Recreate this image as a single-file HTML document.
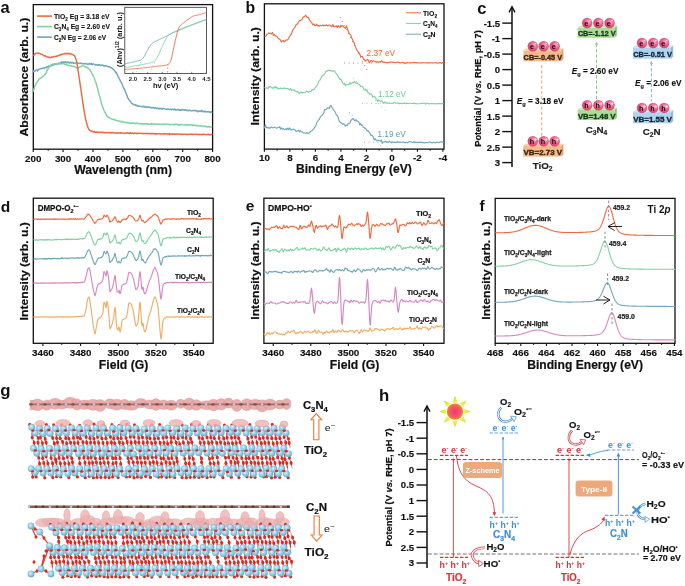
<!DOCTYPE html><html><head><meta charset="utf-8"><style>html,body{margin:0;padding:0;background:#fff;width:685px;height:586px;overflow:hidden}svg{display:block;will-change:transform}</style></head><body><svg width="685" height="586" viewBox="0 0 685 586" font-family='"Liberation Sans", sans-serif'><rect x="33.3" y="4.6" width="179.3" height="144.6" fill="none" stroke="#111" stroke-width="1.3" />
<line x1="33.2" y1="149.2" x2="33.2" y2="151.9" stroke="#111" stroke-width="1.1" />
<line x1="48.15" y1="149.2" x2="48.15" y2="150.9" stroke="#111" stroke-width="0.9" />
<text x="33.2" y="161.9" font-size="9.8" font-weight="bold" text-anchor="middle" fill="#111" stroke="#111" stroke-width="0.15" >200</text>
<line x1="63.1" y1="149.2" x2="63.1" y2="151.9" stroke="#111" stroke-width="1.1" />
<line x1="78.05" y1="149.2" x2="78.05" y2="150.9" stroke="#111" stroke-width="0.9" />
<text x="63.1" y="161.9" font-size="9.8" font-weight="bold" text-anchor="middle" fill="#111" stroke="#111" stroke-width="0.15" >300</text>
<line x1="93" y1="149.2" x2="93" y2="151.9" stroke="#111" stroke-width="1.1" />
<line x1="107.95" y1="149.2" x2="107.95" y2="150.9" stroke="#111" stroke-width="0.9" />
<text x="93" y="161.9" font-size="9.8" font-weight="bold" text-anchor="middle" fill="#111" stroke="#111" stroke-width="0.15" >400</text>
<line x1="122.9" y1="149.2" x2="122.9" y2="151.9" stroke="#111" stroke-width="1.1" />
<line x1="137.85" y1="149.2" x2="137.85" y2="150.9" stroke="#111" stroke-width="0.9" />
<text x="122.9" y="161.9" font-size="9.8" font-weight="bold" text-anchor="middle" fill="#111" stroke="#111" stroke-width="0.15" >500</text>
<line x1="152.8" y1="149.2" x2="152.8" y2="151.9" stroke="#111" stroke-width="1.1" />
<line x1="167.75" y1="149.2" x2="167.75" y2="150.9" stroke="#111" stroke-width="0.9" />
<text x="152.8" y="161.9" font-size="9.8" font-weight="bold" text-anchor="middle" fill="#111" stroke="#111" stroke-width="0.15" >600</text>
<line x1="182.7" y1="149.2" x2="182.7" y2="151.9" stroke="#111" stroke-width="1.1" />
<line x1="197.65" y1="149.2" x2="197.65" y2="150.9" stroke="#111" stroke-width="0.9" />
<text x="182.7" y="161.9" font-size="9.8" font-weight="bold" text-anchor="middle" fill="#111" stroke="#111" stroke-width="0.15" >700</text>
<line x1="212.6" y1="149.2" x2="212.6" y2="151.9" stroke="#111" stroke-width="1.1" />
<text x="212.6" y="161.9" font-size="9.8" font-weight="bold" text-anchor="middle" fill="#111" stroke="#111" stroke-width="0.15" >800</text>
<text x="123.1" y="173.7" font-size="12.2" font-weight="bold" text-anchor="middle" fill="#111" textLength="97.8" lengthAdjust="spacingAndGlyphs" stroke="#111" stroke-width="0.2" >Wavelength (nm)</text>
<text x="27.7" y="77.1" font-size="11.8" font-weight="bold" text-anchor="middle" fill="#111" textLength="118.9" lengthAdjust="spacingAndGlyphs" transform="rotate(-90 27.7 77.1)" stroke="#111" stroke-width="0.2" >Absorbance (arb. u.)</text>
<text x="0.6" y="13.1" font-size="16.5" font-weight="bold" text-anchor="start" fill="#111" >a</text>
<line x1="37" y1="16.1" x2="52" y2="16.1" stroke="#EE6A3E" stroke-width="1.6" />
<line x1="37" y1="26.6" x2="52" y2="26.6" stroke="#80D2A4" stroke-width="1.6" />
<line x1="37" y1="37.1" x2="52" y2="37.1" stroke="#70A8BC" stroke-width="1.6" />
<text x="54" y="18.6" font-size="7.9" font-weight="bold" text-anchor="start" fill="#111" textLength="55.5" lengthAdjust="spacingAndGlyphs" stroke="#111" stroke-width="0.12" >TiO<tspan font-size="5.37" baseline-shift="-1.98">2</tspan> Eg = 3.18 eV</text>
<text x="54" y="29.1" font-size="7.9" font-weight="bold" text-anchor="start" fill="#111" textLength="56" lengthAdjust="spacingAndGlyphs" stroke="#111" stroke-width="0.12" >C<tspan font-size="5.37" baseline-shift="-1.98">3</tspan>N<tspan font-size="5.37" baseline-shift="-1.98">4</tspan> Eg = 2.60 eV</text>
<text x="54" y="39.6" font-size="7.9" font-weight="bold" text-anchor="start" fill="#111" textLength="52" lengthAdjust="spacingAndGlyphs" stroke="#111" stroke-width="0.12" >C<tspan font-size="5.37" baseline-shift="-1.98">2</tspan>N Eg = 2.06 eV</text>
<path d="M33.3 72.31L33.8 70.76L34.3 71.47L34.8 70.99L35.3 70.83L35.8 70.71L36.3 69.97L36.8 70.31L37.3 69.91L37.8 70.95L38.3 69.79L38.8 69.38L39.3 69.19L39.8 68.87L40.3 68.58L40.8 68.62L41.3 68.74L41.8 68.38L42.3 68.61L42.8 68.13L43.3 68.07L43.8 68.4L44.3 67.96L44.8 67.51L45.3 67.45L45.8 67.52L46.3 67.78L46.8 66.95L47.3 66.8L47.8 67.01L48.3 66.28L48.8 66.29L49.3 66.49L49.8 66.24L50.3 65.93L50.8 65.96L51.3 64.75L51.8 65.76L52.3 65.01L52.8 64.65L53.3 65.09L53.8 65.07L54.3 64.57L54.8 64.24L55.3 64.42L55.8 64.24L56.3 64.53L56.8 64.18L57.3 63.85L57.8 63.97L58.3 63.41L58.8 63.05L59.3 63.36L59.8 63.22L60.3 62.86L60.8 62.56L61.3 62.73L61.8 61.79L62.3 62.66L62.8 62.55L63.3 61.91L63.8 62.42L64.3 62.12L64.8 62.65L65.3 61.82L65.8 62.17L66.3 62.67L66.8 62.82L67.3 61.84L67.8 62.36L68.3 62.63L68.8 62.37L69.3 63.05L69.8 62.23L70.3 62.72L70.8 62.32L71.3 63.09L71.8 62.69L72.3 62.62L72.8 62.26L73.3 63.32L73.8 63.08L74.3 63.13L74.8 63.29L75.3 63.1L75.8 62.85L76.3 62.85L76.8 62.89L77.3 63.59L77.8 62.79L78.3 63.09L78.8 63.21L79.3 63.42L79.8 63.56L80.3 63.05L80.8 62.93L81.3 63.48L81.8 63.88L82.3 63.77L82.8 63.64L83.3 63.5L83.8 63.72L84.3 63.58L84.8 63.93L85.3 63.47L85.8 63.78L86.3 63.73L86.8 63.95L87.3 63.89L87.8 64.62L88.3 64.33L88.8 64.36L89.3 63.34L89.8 63.88L90.3 63.84L90.8 64.22L91.3 63.42L91.8 64.49L92.3 64.5L92.8 63.84L93.3 63.98L93.8 64.07L94.3 64.37L94.8 64.6L95.3 65.07L95.8 64.45L96.3 64.79L96.8 64.66L97.3 65.2L97.8 64.95L98.3 65.2L98.8 64.52L99.3 64.85L99.8 64.73L100.3 65.49L100.8 65.3L101.3 65.08L101.8 65.11L102.3 65.47L102.8 65.19L103.3 65.2L103.8 65.71L104.3 66.39L104.8 65.67L105.3 65.68L105.8 65.6L106.3 65.66L106.8 66.34L107.3 66.57L107.8 66.45L108.3 66.69L108.8 66.79L109.3 66.98L109.8 66.69L110.3 67.24L110.8 67.66L111.3 67.67L111.8 68.05L112.3 68.27L112.8 68.76L113.3 69.49L113.8 69.58L114.3 70.21L114.8 71.11L115.3 71.72L115.8 72.73L116.3 72.32L116.8 74.04L117.3 74.54L117.8 75.67L118.3 76.82L118.8 77.87L119.3 78.87L119.8 79.63L120.3 81.08L120.8 81.51L121.3 82.53L121.8 83.78L122.3 84.37L122.8 86.22L123.3 86.98L123.8 88.49L124.3 89.05L124.8 90.17L125.3 91.57L125.8 92.96L126.3 93.84L126.8 95.41L127.3 96.51L127.8 98.1L128.3 98.35L128.8 99.76L129.3 100.1L129.8 100.77L130.3 101.53L130.8 101.95L131.3 102.81L131.8 103.48L132.3 103.59L132.8 104.07L133.3 104.67L133.8 104.54L134.3 104.76L134.8 104.84L135.3 104.63L135.8 105.53L136.3 104.95L136.8 105.83L137.3 105.78L137.8 106.26L138.3 106.03L138.8 105.92L139.3 106.38L139.8 106.2L140.3 106.39L140.8 106.54L141.3 106.55L141.8 106.6L142.3 106.47L142.8 106.71L143.3 106.18L143.8 106.83L144.3 106.57L144.8 107.31L145.3 107.41L145.8 106.5L146.3 107.18L146.8 107.15L147.3 106.93L147.8 107.45L148.3 107.2L148.8 106.86L149.3 107.36L149.8 107.45L150.3 107.58L150.8 107.22L151.3 107.83L151.8 107.91L152.3 107.39L152.8 107.59L153.3 107.81L153.8 107.71L154.3 108.45L154.8 108.04L155.3 107.72L155.8 107.83L156.3 108.09L156.8 108.84L157.3 108.15L157.8 108.28L158.3 108.44L158.8 108.32L159.3 109.06L159.8 108.26L160.3 108.68L160.8 108.55L161.3 108.73L161.8 108.23L162.3 109.16L162.8 108.63L163.3 108.72L163.8 108.47L164.3 108.57L164.8 109L165.3 109.16L165.8 109.13L166.3 109.31L166.8 109.2L167.3 109.03L167.8 109.31L168.3 109.28L168.8 109.1L169.3 109.39L169.8 109.59L170.3 109.31L170.8 109.17L171.3 109.53L171.8 109.92L172.3 109.32L172.8 109.39L173.3 109.41L173.8 109.85L174.3 108.96L174.8 109.65L175.3 109.93L175.8 109.37L176.3 110.09L176.8 109.83L177.3 109.54L177.8 109.8L178.3 109.31L178.8 109.63L179.3 110.38L179.8 109.59L180.3 110.44L180.8 109.9L181.3 110.25L181.8 110L182.3 109.34L182.8 109.87L183.3 110.13L183.8 109.76L184.3 109.73L184.8 110.28L185.3 110.01L185.8 109.72L186.3 110.06L186.8 110.55L187.3 110.18L187.8 110.64L188.3 110.85L188.8 110.43L189.3 110.12L189.8 110.1L190.3 110.51L190.8 110.82L191.3 110.67L191.8 110.78L192.3 110.52L192.8 110.77L193.3 110.58L193.8 110.65L194.3 110.4L194.8 110.34L195.3 110.7L195.8 110.55L196.3 110.63L196.8 111.15L197.3 110.95L197.8 111.89L198.3 111.33L198.8 110.89L199.3 111.35L199.8 111.25L200.3 110.97L200.8 111.54L201.3 111.01L201.8 110.36L202.3 111.55L202.8 111.16L203.3 111.83L203.8 111.22L204.3 111.09L204.8 111.94L205.3 111.19L205.8 111.61L206.3 112.01L206.8 111.65L207.3 111.62L207.8 111.71L208.3 111.96L208.8 111.5L209.3 111.96L209.8 111.99L210.3 112.55L210.8 111.78L211.3 111.64L211.8 112.17L212.3 111.86" fill="none" stroke="#70A8BC" stroke-width="1.45" stroke-linejoin="round" />
<path d="M33.3 91.64L33.8 89.62L34.3 87.93L34.8 86.04L35.3 85.63L35.8 84.39L36.3 83.11L36.8 82.46L37.3 81.62L37.8 80.76L38.3 80.44L38.8 79.6L39.3 79.08L39.8 78.52L40.3 78.35L40.8 77.9L41.3 77.72L41.8 77.2L42.3 77.04L42.8 76.48L43.3 76.4L43.8 75.79L44.3 75.29L44.8 74.72L45.3 73.79L45.8 73.45L46.3 72.91L46.8 71.16L47.3 70.05L47.8 69.06L48.3 68.64L48.8 67.63L49.3 67.02L49.8 66.33L50.3 65.81L50.8 65.45L51.3 65.03L51.8 64.93L52.3 64.27L52.8 64.2L53.3 64.17L53.8 64.38L54.3 63.82L54.8 63.72L55.3 63.8L55.8 64.08L56.3 63.82L56.8 64.11L57.3 63.45L57.8 64.03L58.3 63.99L58.8 63.48L59.3 63.77L59.8 63.95L60.3 63.7L60.8 63.86L61.3 64.11L61.8 63.67L62.3 63.55L62.8 63.45L63.3 63.76L63.8 63.73L64.3 63.96L64.8 64.24L65.3 64.65L65.8 64.52L66.3 64.57L66.8 64.51L67.3 65.34L67.8 65.21L68.3 65.58L68.8 65.37L69.3 65.31L69.8 65.65L70.3 65.65L70.8 65.51L71.3 65.68L71.8 66.31L72.3 66.13L72.8 66.26L73.3 66.24L73.8 66.3L74.3 66.8L74.8 66.88L75.3 67.08L75.8 67.54L76.3 67.65L76.8 68.02L77.3 68.21L77.8 67.71L78.3 67.99L78.8 67.36L79.3 67.31L79.8 66.9L80.3 66.85L80.8 66.69L81.3 66.37L81.8 66.12L82.3 65.96L82.8 65.84L83.3 65.7L83.8 66.03L84.3 66.28L84.8 66.53L85.3 66.66L85.8 67.21L86.3 66.99L86.8 67.11L87.3 67.9L87.8 67.7L88.3 68.53L88.8 68.61L89.3 69.39L89.8 69.54L90.3 70.83L90.8 71.4L91.3 72.08L91.8 73.48L92.3 74.19L92.8 75L93.3 75.85L93.8 77.07L94.3 78.2L94.8 79.62L95.3 80.99L95.8 82.23L96.3 83.93L96.8 85.73L97.3 87.43L97.8 89.47L98.3 91.45L98.8 93.43L99.3 95.33L99.8 96.74L100.3 98.9L100.8 100.58L101.3 102.93L101.8 104.28L102.3 106.04L102.8 107.26L103.3 108.62L103.8 110.02L104.3 111L104.8 112.17L105.3 112.79L105.8 114.23L106.3 114.84L106.8 116.12L107.3 116.24L107.8 116.97L108.3 116.87L108.8 117.6L109.3 117.65L109.8 118.02L110.3 118.38L110.8 118.55L111.3 118.88L111.8 119.17L112.3 119.33L112.8 119.34L113.3 119.24L113.8 119.5L114.3 119.76L114.8 119.52L115.3 120.24L115.8 120.18L116.3 120.33L116.8 120.71L117.3 120.79L117.8 120.84L118.3 120.73L118.8 121.13L119.3 121.26L119.8 121.14L120.3 121.65L120.8 121.65L121.3 121.27L121.8 121.79L122.3 121.6L122.8 122.18L123.3 122.21L123.8 121.91L124.3 122.05L124.8 122.33L125.3 122.35L125.8 122.78L126.3 122.7L126.8 122.57L127.3 122.82L127.8 122.36L128.3 122.89L128.8 123.06L129.3 122.9L129.8 122.84L130.3 123.14L130.8 123.45L131.3 123.14L131.8 122.91L132.3 123.46L132.8 122.83L133.3 123.34L133.8 123.16L134.3 123.5L134.8 123.17L135.3 123.64L135.8 123.46L136.3 123.09L136.8 123.06L137.3 123.42L137.8 123.77L138.3 123.56L138.8 123.58L139.3 123.54L139.8 123.76L140.3 123.71L140.8 123.72L141.3 123.48L141.8 123.94L142.3 124L142.8 123.48L143.3 124.23L143.8 123.93L144.3 123.71L144.8 123.44L145.3 123.97L145.8 123.97L146.3 123.76L146.8 123.54L147.3 124.14L147.8 123.81L148.3 123.85L148.8 124.53L149.3 124.4L149.8 124.18L150.3 123.92L150.8 124.15L151.3 123.58L151.8 124.08L152.3 123.92L152.8 123.82L153.3 123.78L153.8 124.21L154.3 124.14L154.8 124.16L155.3 124.31L155.8 123.99L156.3 123.92L156.8 123.82L157.3 124.12L157.8 124.35L158.3 124.18L158.8 124.35L159.3 124L159.8 124.15L160.3 124.1L160.8 124.01L161.3 124.65L161.8 124.45L162.3 124.14L162.8 124.15L163.3 124.3L163.8 124.04L164.3 124.42L164.8 124.09L165.3 124.29L165.8 124.17L166.3 124.29L166.8 124.13L167.3 124.09L167.8 124.23L168.3 124.29L168.8 124.38L169.3 124.47L169.8 124.77L170.3 124.64L170.8 124.43L171.3 124.64L171.8 124.37L172.3 124.81L172.8 124.64L173.3 124.27L173.8 124.7L174.3 124.72L174.8 124.03L175.3 124.43L175.8 124.49L176.3 124.21L176.8 124.39L177.3 124.43L177.8 124.73L178.3 124.7L178.8 125.17L179.3 124.58L179.8 124.9L180.3 124.7L180.8 124.75L181.3 124.48L181.8 124.34L182.3 124.58L182.8 124.9L183.3 125.08L183.8 124.9L184.3 124.89L184.8 124.64L185.3 125.13L185.8 125.11L186.3 124.75L186.8 124.86L187.3 124.69L187.8 125.2L188.3 125.01L188.8 124.93L189.3 125.05L189.8 125.08L190.3 124.93L190.8 124.79L191.3 124.82L191.8 124.77L192.3 125.25L192.8 125.65L193.3 124.92L193.8 125.34L194.3 125.45L194.8 125.22L195.3 125.52L195.8 125.32L196.3 125.84L196.8 125.54L197.3 125.74L197.8 125.91L198.3 125.74L198.8 125.53L199.3 125.83L199.8 126.13L200.3 126.01L200.8 126.12L201.3 125.9L201.8 126.19L202.3 126.35L202.8 126.25L203.3 126.67L203.8 126.29L204.3 126.16L204.8 126.09L205.3 126.68L205.8 126.48L206.3 126.74L206.8 126.66L207.3 126.94L207.8 126.9L208.3 126.61L208.8 126.78L209.3 126.98L209.8 126.55L210.3 127.13L210.8 127.12L211.3 127.11L211.8 126.9L212.3 127.04" fill="none" stroke="#80D2A4" stroke-width="1.45" stroke-linejoin="round" />
<path d="M33.3 55.87L33.8 55.37L34.3 54.72L34.8 53.89L35.3 53.9L35.8 53.46L36.3 53.03L36.8 53.13L37.3 53.08L37.8 53.12L38.3 53.16L38.8 53.4L39.3 53.3L39.8 53.59L40.3 53.72L40.8 54.14L41.3 54.23L41.8 54.36L42.3 54.47L42.8 54.81L43.3 55.13L43.8 55.36L44.3 55.96L44.8 56.18L45.3 55.69L45.8 56.06L46.3 56.56L46.8 56.67L47.3 56.95L47.8 57.1L48.3 57.6L48.8 57.06L49.3 57.28L49.8 57.8L50.3 57.52L50.8 57.5L51.3 57.22L51.8 56.92L52.3 57.2L52.8 57.1L53.3 56.73L53.8 56.73L54.3 56.74L54.8 56.45L55.3 56.51L55.8 56.42L56.3 56.26L56.8 56L57.3 56.05L57.8 55.93L58.3 55.64L58.8 55.24L59.3 55.37L59.8 54.96L60.3 55.08L60.8 54.51L61.3 54.73L61.8 54.36L62.3 53.94L62.8 53.97L63.3 53.92L63.8 53.88L64.3 53.58L64.8 53.51L65.3 53.74L65.8 53.57L66.3 53.69L66.8 53.77L67.3 53.28L67.8 53.65L68.3 53.85L68.8 53.58L69.3 53.53L69.8 53.92L70.3 53.91L70.8 54.16L71.3 54.04L71.8 53.95L72.3 54.38L72.8 54.54L73.3 55.09L73.8 55.36L74.3 55.46L74.8 56.16L75.3 57.56L75.8 58.84L76.3 60.17L76.8 62.33L77.3 65.42L77.8 68.8L78.3 72.08L78.8 75.22L79.3 78.49L79.8 81.84L80.3 85.5L80.8 88.21L81.3 92L81.8 95.51L82.3 98.72L82.8 102.53L83.3 105.64L83.8 109.02L84.3 111.66L84.8 114.58L85.3 117.36L85.8 119.69L86.3 121.7L86.8 123.52L87.3 125.81L87.8 126.95L88.3 128.13L88.8 129.26L89.3 129.79L89.8 130.45L90.3 130.65L90.8 130.92L91.3 130.97L91.8 131.39L92.3 131.24L92.8 131.72L93.3 132.01L93.8 131.51L94.3 131.41L94.8 132.1L95.3 132.55L95.8 131.89L96.3 131.89L96.8 132.31L97.3 132.06L97.8 132.17L98.3 132.24L98.8 132.44L99.3 132.28L99.8 132.45L100.3 132.38L100.8 132.27L101.3 132.39L101.8 132.29L102.3 132.5L102.8 132.29L103.3 132.32L103.8 132.85L104.3 132.56L104.8 132.58L105.3 132.71L105.8 132.54L106.3 132.6L106.8 132.75L107.3 132.73L107.8 132.46L108.3 132.87L108.8 132.6L109.3 132.53L109.8 132.57L110.3 132.69L110.8 133.1L111.3 132.56L111.8 132.84L112.3 132.39L112.8 132.83L113.3 133.02L113.8 132.81L114.3 132.74L114.8 132.92L115.3 133.03L115.8 133.03L116.3 133.3L116.8 132.96L117.3 132.81L117.8 132.92L118.3 132.94L118.8 132.98L119.3 132.97L119.8 133.02L120.3 132.66L120.8 133.17L121.3 132.9L121.8 132.79L122.3 133.16L122.8 133.31L123.3 133.15L123.8 133.1L124.3 132.89L124.8 133.66L125.3 133.27L125.8 132.88L126.3 132.96L126.8 133.14L127.3 132.83L127.8 133.18L128.3 133.07L128.8 133.42L129.3 133.38L129.8 132.65L130.3 133.22L130.8 132.9L131.3 133.45L131.8 133.28L132.3 133.36L132.8 133.05L133.3 133.64L133.8 133.7L134.3 133.09L134.8 133.39L135.3 133.19L135.8 133.33L136.3 133.1L136.8 133.74L137.3 133.18L137.8 133.33L138.3 133.5L138.8 133.28L139.3 133.37L139.8 133.32L140.3 133.42L140.8 133.22L141.3 133.38L141.8 133.44L142.3 133.43L142.8 133.52L143.3 133.46L143.8 133.68L144.3 133.47L144.8 133.52L145.3 133.43L145.8 133.47L146.3 133.33L146.8 133.7L147.3 133.38L147.8 133.47L148.3 133.7L148.8 133.72L149.3 133.57L149.8 133.26L150.3 133.76L150.8 133.74L151.3 133.41L151.8 133.86L152.3 133.58L152.8 133.5L153.3 133.76L153.8 133.71L154.3 133.8L154.8 133.45L155.3 134.14L155.8 133.67L156.3 133.49L156.8 133.94L157.3 133.75L157.8 133.9L158.3 133.77L158.8 133.84L159.3 133.91L159.8 133.72L160.3 134.02L160.8 133.8L161.3 133.73L161.8 133.92L162.3 134.01L162.8 133.88L163.3 133.76L163.8 134.07L164.3 133.6L164.8 133.76L165.3 133.98L165.8 133.71L166.3 133.99L166.8 133.99L167.3 134.18L167.8 133.83L168.3 133.9L168.8 134.1L169.3 133.55L169.8 134.67L170.3 133.91L170.8 133.92L171.3 134.24L171.8 134.07L172.3 133.73L172.8 134.22L173.3 134.27L173.8 134.02L174.3 134.06L174.8 134.22L175.3 133.95L175.8 134.23L176.3 134.19L176.8 134.02L177.3 133.89L177.8 134.13L178.3 134L178.8 134.39L179.3 134.22L179.8 134.36L180.3 134.24L180.8 134.27L181.3 134.07L181.8 134.37L182.3 134.6L182.8 134.19L183.3 134.14L183.8 134.23L184.3 134.17L184.8 134.14L185.3 134.31L185.8 134.23L186.3 134.59L186.8 134.3L187.3 134.38L187.8 134.51L188.3 134.27L188.8 134.62L189.3 134.21L189.8 134.18L190.3 134.28L190.8 134.34L191.3 134.09L191.8 134.37L192.3 134.05L192.8 134.66L193.3 134.38L193.8 134.27L194.3 134.22L194.8 134.33L195.3 134.37L195.8 134.21L196.3 134.25L196.8 134.4L197.3 134.34L197.8 134.64L198.3 134.68L198.8 134.46L199.3 134.56L199.8 134.2L200.3 134.6L200.8 134.48L201.3 134.59L201.8 134.81L202.3 134.04L202.8 134.56L203.3 134.29L203.8 134.63L204.3 134.26L204.8 134.43L205.3 134.57L205.8 134.66L206.3 134.56L206.8 134.39L207.3 134.44L207.8 134.73L208.3 134.56L208.8 134.23L209.3 134.74L209.8 134.66L210.3 134.75L210.8 134.52L211.3 134.75L211.8 134.38L212.3 134.71" fill="none" stroke="#EE6A3E" stroke-width="1.45" stroke-linejoin="round" />
<rect x="124.8" y="7.3" width="81.6" height="66.2" fill="#fff" stroke="#333" stroke-width="0.8"/>
<path d="M124.8 63.8L125.3 63.7L125.8 63.61L126.3 63.51L126.8 63.41L127.3 63.3L127.8 63.2L128.3 63.09L128.8 62.98L129.3 62.87L129.8 62.76L130.3 62.64L130.8 62.53L131.3 62.41L131.8 62.29L132.3 62.17L132.8 62.05L133.3 61.93L133.8 61.8L134.3 61.68L134.8 61.55L135.3 61.43L135.8 61.31L136.3 61.2L136.8 61.09L137.3 60.98L137.8 60.87L138.3 60.75L138.8 60.62L139.3 60.47L139.8 60.31L140.3 60.13L140.8 59.93L141.3 59.7L141.8 59.38L142.3 58.92L142.8 58.37L143.3 57.75L143.8 57.09L144.3 56.28L144.8 55.36L145.3 54.36L145.8 53.33L146.3 52.32L146.8 51.36L147.3 50.47L147.8 49.58L148.3 48.7L148.8 47.84L149.3 47.03L149.8 46.28L150.3 45.59L150.8 44.93L151.3 44.3L151.8 43.73L152.3 43.24L152.8 42.85L153.3 42.51L153.8 42.21L154.3 41.93L154.8 41.67L155.3 41.43L155.8 41.21L156.3 40.98L156.8 40.76L157.3 40.54L157.8 40.3L158.3 40.05L158.8 39.8L159.3 39.56L159.8 39.31L160.3 39.07L160.8 38.83L161.3 38.59L161.8 38.35L162.3 38.11L162.8 37.87L163.3 37.63L163.8 37.39L164.3 37.14L164.8 36.9L165.3 36.65L165.8 36.4L166.3 36.14L166.8 35.89L167.3 35.63L167.8 35.37L168.3 35.11L168.8 34.84L169.3 34.58L169.8 34.31L170.3 34.05L170.8 33.78L171.3 33.52L171.8 33.26L172.3 33L172.8 32.74L173.3 32.48L173.8 32.23L174.3 31.97L174.8 31.73L175.3 31.48L175.8 31.24L176.3 31L176.8 30.77L177.3 30.54L177.8 30.32L178.3 30.1L178.8 29.89L179.3 29.68L179.8 29.47L180.3 29.26L180.8 29.06L181.3 28.85L181.8 28.65L182.3 28.46L182.8 28.26L183.3 28.06L183.8 27.87L184.3 27.68L184.8 27.49L185.3 27.29L185.8 27.1L186.3 26.91L186.8 26.72L187.3 26.53L187.8 26.34L188.3 26.15L188.8 25.96L189.3 25.77L189.8 25.58L190.3 25.38L190.8 25.19L191.3 25L191.8 24.8L192.3 24.61L192.8 24.42L193.3 24.23L193.8 24.03L194.3 23.84L194.8 23.65L195.3 23.46L195.8 23.27L196.3 23.08L196.8 22.89L197.3 22.7L197.8 22.51L198.3 22.32L198.8 22.13L199.3 21.94L199.8 21.75L200.3 21.57L200.8 21.38L201.3 21.19L201.8 21L202.3 20.82L202.8 20.63L203.3 20.45L203.8 20.26L204.3 20.07L204.8 19.89L205.3 19.71L205.8 19.52L206.3 19.34" fill="none" stroke="#70A8BC" stroke-width="0.9" stroke-linejoin="round" />
<path d="M124.8 67.4L125.3 67.34L125.8 67.28L126.3 67.21L126.8 67.15L127.3 67.08L127.8 67.01L128.3 66.94L128.8 66.87L129.3 66.8L129.8 66.73L130.3 66.65L130.8 66.58L131.3 66.5L131.8 66.42L132.3 66.34L132.8 66.26L133.3 66.18L133.8 66.1L134.3 66.01L134.8 65.93L135.3 65.84L135.8 65.76L136.3 65.67L136.8 65.58L137.3 65.49L137.8 65.4L138.3 65.31L138.8 65.22L139.3 65.13L139.8 65.04L140.3 64.94L140.8 64.85L141.3 64.75L141.8 64.66L142.3 64.56L142.8 64.45L143.3 64.35L143.8 64.25L144.3 64.14L144.8 64.03L145.3 63.92L145.8 63.81L146.3 63.7L146.8 63.58L147.3 63.47L147.8 63.35L148.3 63.23L148.8 63.1L149.3 62.98L149.8 62.85L150.3 62.72L150.8 62.6L151.3 62.48L151.8 62.36L152.3 62.21L152.8 62.04L153.3 61.84L153.8 61.59L154.3 61.24L154.8 60.8L155.3 60.3L155.8 59.74L156.3 59.09L156.8 58.24L157.3 57.26L157.8 56.22L158.3 55.2L158.8 54.17L159.3 53.1L159.8 52L160.3 50.88L160.8 49.76L161.3 48.63L161.8 47.53L162.3 46.45L162.8 45.4L163.3 44.39L163.8 43.35L164.3 42.28L164.8 41.22L165.3 40.18L165.8 39.19L166.3 38.26L166.8 37.42L167.3 36.7L167.8 36.1L168.3 35.6L168.8 35.13L169.3 34.7L169.8 34.31L170.3 33.95L170.8 33.63L171.3 33.35L171.8 33.09L172.3 32.87L172.8 32.68L173.3 32.5L173.8 32.34L174.3 32.2L174.8 32.06L175.3 31.93L175.8 31.8L176.3 31.66L176.8 31.5L177.3 31.34L177.8 31.15L178.3 30.96L178.8 30.76L179.3 30.55L179.8 30.33L180.3 30.11L180.8 29.88L181.3 29.66L181.8 29.43L182.3 29.2L182.8 28.97L183.3 28.74L183.8 28.52L184.3 28.3L184.8 28.08L185.3 27.87L185.8 27.67L186.3 27.46L186.8 27.25L187.3 27.05L187.8 26.84L188.3 26.64L188.8 26.43L189.3 26.23L189.8 26.03L190.3 25.83L190.8 25.63L191.3 25.43L191.8 25.23L192.3 25.03L192.8 24.84L193.3 24.65L193.8 24.45L194.3 24.26L194.8 24.08L195.3 23.89L195.8 23.7L196.3 23.52L196.8 23.33L197.3 23.15L197.8 22.97L198.3 22.79L198.8 22.6L199.3 22.43L199.8 22.25L200.3 22.07L200.8 21.89L201.3 21.72L201.8 21.55L202.3 21.37L202.8 21.2L203.3 21.03L203.8 20.86L204.3 20.69L204.8 20.53L205.3 20.36L205.8 20.2L206.3 20.03" fill="none" stroke="#80D2A4" stroke-width="0.9" stroke-linejoin="round" />
<path d="M124.8 69.4L125.3 69.38L125.8 69.35L126.3 69.32L126.8 69.3L127.3 69.27L127.8 69.24L128.3 69.21L128.8 69.18L129.3 69.14L129.8 69.11L130.3 69.08L130.8 69.04L131.3 69.01L131.8 68.97L132.3 68.94L132.8 68.9L133.3 68.86L133.8 68.82L134.3 68.78L134.8 68.74L135.3 68.7L135.8 68.66L136.3 68.62L136.8 68.58L137.3 68.54L137.8 68.49L138.3 68.45L138.8 68.41L139.3 68.36L139.8 68.32L140.3 68.27L140.8 68.23L141.3 68.18L141.8 68.12L142.3 68.07L142.8 68.02L143.3 67.96L143.8 67.9L144.3 67.85L144.8 67.79L145.3 67.72L145.8 67.66L146.3 67.6L146.8 67.54L147.3 67.47L147.8 67.41L148.3 67.34L148.8 67.28L149.3 67.21L149.8 67.15L150.3 67.08L150.8 67.02L151.3 66.96L151.8 66.89L152.3 66.83L152.8 66.77L153.3 66.7L153.8 66.64L154.3 66.58L154.8 66.52L155.3 66.47L155.8 66.41L156.3 66.36L156.8 66.31L157.3 66.26L157.8 66.2L158.3 66.15L158.8 66.1L159.3 66.05L159.8 66L160.3 65.95L160.8 65.89L161.3 65.83L161.8 65.77L162.3 65.7L162.8 65.63L163.3 65.56L163.8 65.48L164.3 65.41L164.8 65.34L165.3 65.26L165.8 65.16L166.3 65.05L166.8 64.93L167.3 64.78L167.8 64.6L168.3 64.31L168.8 63.84L169.3 63.25L169.8 62.57L170.3 61.67L170.8 60.52L171.3 59.04L171.8 56.91L172.3 54.43L172.8 51.93L173.3 49.65L173.8 47.37L174.3 45.08L174.8 42.82L175.3 40.62L175.8 38.5L176.3 36.38L176.8 34.25L177.3 32.26L177.8 30.56L178.3 29.24L178.8 28.08L179.3 27.09L179.8 26.27L180.3 25.64L180.8 25.11L181.3 24.65L181.8 24.24L182.3 23.85L182.8 23.46L183.3 23.05L183.8 22.65L184.3 22.25L184.8 21.85L185.3 21.47L185.8 21.09L186.3 20.72L186.8 20.35L187.3 19.99L187.8 19.64L188.3 19.29L188.8 18.93L189.3 18.56L189.8 18.19L190.3 17.83L190.8 17.47L191.3 17.14L191.8 16.82L192.3 16.54L192.8 16.28L193.3 16.07L193.8 15.9L194.3 15.75L194.8 15.61L195.3 15.49L195.8 15.38L196.3 15.28L196.8 15.18L197.3 15.08L197.8 14.99L198.3 14.89L198.8 14.78L199.3 14.67L199.8 14.55L200.3 14.42L200.8 14.28L201.3 14.14L201.8 14L202.3 13.85L202.8 13.69L203.3 13.54L203.8 13.38L204.3 13.22L204.8 13.05L205.3 12.88L205.8 12.71L206.3 12.54" fill="none" stroke="#EE6A3E" stroke-width="0.9" stroke-linejoin="round" />
<line x1="141" y1="62" x2="136" y2="72" stroke="#70A8BC" stroke-width="0.7" stroke-dasharray="1.5 2"/>
<line x1="155" y1="62" x2="150" y2="72.5" stroke="#80D2A4" stroke-width="0.7" stroke-dasharray="1.5 2"/>
<line x1="168" y1="64" x2="167.5" y2="72.5" stroke="#EE6A3E" stroke-width="0.7" stroke-dasharray="1.5 2"/>
<line x1="133" y1="73.5" x2="133" y2="71.8" stroke="#333" stroke-width="0.6" />
<text x="133" y="80.8" font-size="6" font-weight="bold" text-anchor="middle" fill="#222" >2.0</text>
<line x1="147.68" y1="73.5" x2="147.68" y2="71.8" stroke="#333" stroke-width="0.6" />
<text x="147.68" y="80.8" font-size="6" font-weight="bold" text-anchor="middle" fill="#222" >2.5</text>
<line x1="162.36" y1="73.5" x2="162.36" y2="71.8" stroke="#333" stroke-width="0.6" />
<text x="162.36" y="80.8" font-size="6" font-weight="bold" text-anchor="middle" fill="#222" >3.0</text>
<line x1="177.04" y1="73.5" x2="177.04" y2="71.8" stroke="#333" stroke-width="0.6" />
<text x="177.04" y="80.8" font-size="6" font-weight="bold" text-anchor="middle" fill="#222" >3.5</text>
<line x1="191.72" y1="73.5" x2="191.72" y2="71.8" stroke="#333" stroke-width="0.6" />
<text x="191.72" y="80.8" font-size="6" font-weight="bold" text-anchor="middle" fill="#222" >4.0</text>
<line x1="206.4" y1="73.5" x2="206.4" y2="71.8" stroke="#333" stroke-width="0.6" />
<text x="206.4" y="80.8" font-size="6" font-weight="bold" text-anchor="middle" fill="#222" >4.5</text>
<text x="165.6" y="88.1" font-size="7.6" font-weight="bold" text-anchor="middle" fill="#111" >hv (eV)</text>
<text x="122.3" y="39.5" font-size="7.4" font-weight="bold" text-anchor="middle" fill="#111" transform="rotate(-90 122.3 39.5)" >(Ahv)<tspan font-size="5.03" baseline-shift="2.81">1/2</tspan> (arb. u.)</text>
<rect x="264.4" y="3.8" width="179.6" height="145.3" fill="none" stroke="#111" stroke-width="1.3" />
<line x1="264.4" y1="149.1" x2="264.4" y2="151.8" stroke="#111" stroke-width="1.1" />
<line x1="277.15" y1="149.1" x2="277.15" y2="150.8" stroke="#111" stroke-width="0.9" />
<text x="264.4" y="161" font-size="9.8" font-weight="bold" text-anchor="middle" fill="#111" stroke="#111" stroke-width="0.15" >10</text>
<line x1="289.9" y1="149.1" x2="289.9" y2="151.8" stroke="#111" stroke-width="1.1" />
<line x1="302.65" y1="149.1" x2="302.65" y2="150.8" stroke="#111" stroke-width="0.9" />
<text x="289.9" y="161" font-size="9.8" font-weight="bold" text-anchor="middle" fill="#111" stroke="#111" stroke-width="0.15" >8</text>
<line x1="315.4" y1="149.1" x2="315.4" y2="151.8" stroke="#111" stroke-width="1.1" />
<line x1="328.15" y1="149.1" x2="328.15" y2="150.8" stroke="#111" stroke-width="0.9" />
<text x="315.4" y="161" font-size="9.8" font-weight="bold" text-anchor="middle" fill="#111" stroke="#111" stroke-width="0.15" >6</text>
<line x1="340.9" y1="149.1" x2="340.9" y2="151.8" stroke="#111" stroke-width="1.1" />
<line x1="353.65" y1="149.1" x2="353.65" y2="150.8" stroke="#111" stroke-width="0.9" />
<text x="340.9" y="161" font-size="9.8" font-weight="bold" text-anchor="middle" fill="#111" stroke="#111" stroke-width="0.15" >4</text>
<line x1="366.4" y1="149.1" x2="366.4" y2="151.8" stroke="#111" stroke-width="1.1" />
<line x1="379.15" y1="149.1" x2="379.15" y2="150.8" stroke="#111" stroke-width="0.9" />
<text x="366.4" y="161" font-size="9.8" font-weight="bold" text-anchor="middle" fill="#111" stroke="#111" stroke-width="0.15" >2</text>
<line x1="391.9" y1="149.1" x2="391.9" y2="151.8" stroke="#111" stroke-width="1.1" />
<line x1="404.65" y1="149.1" x2="404.65" y2="150.8" stroke="#111" stroke-width="0.9" />
<text x="391.9" y="161" font-size="9.8" font-weight="bold" text-anchor="middle" fill="#111" stroke="#111" stroke-width="0.15" >0</text>
<line x1="417.4" y1="149.1" x2="417.4" y2="151.8" stroke="#111" stroke-width="1.1" />
<line x1="430.15" y1="149.1" x2="430.15" y2="150.8" stroke="#111" stroke-width="0.9" />
<text x="417.4" y="161" font-size="9.8" font-weight="bold" text-anchor="middle" fill="#111" stroke="#111" stroke-width="0.15" >-2</text>
<line x1="442.9" y1="149.1" x2="442.9" y2="151.8" stroke="#111" stroke-width="1.1" />
<text x="442.9" y="161" font-size="9.8" font-weight="bold" text-anchor="middle" fill="#111" stroke="#111" stroke-width="0.15" >-4</text>
<text x="353.9" y="172.6" font-size="12.2" font-weight="bold" text-anchor="middle" fill="#111" textLength="115.8" lengthAdjust="spacingAndGlyphs" stroke="#111" stroke-width="0.2" >Binding Energy (eV)</text>
<text x="258.7" y="76.3" font-size="11.8" font-weight="bold" text-anchor="middle" fill="#111" textLength="98.3" lengthAdjust="spacingAndGlyphs" transform="rotate(-90 258.7 76.3)" stroke="#111" stroke-width="0.2" >Intensity (arb. u.)</text>
<text x="245.6" y="13.1" font-size="15.8" font-weight="bold" text-anchor="start" fill="#111" >b</text>
<line x1="406" y1="12.8" x2="421" y2="12.8" stroke="#EE6A3E" stroke-width="1" />
<line x1="406" y1="23.4" x2="421" y2="23.4" stroke="#80D2A4" stroke-width="1" />
<line x1="406" y1="34.2" x2="421" y2="34.2" stroke="#70A8BC" stroke-width="1" />
<text x="423" y="15.6" font-size="7.2" font-weight="bold" text-anchor="start" fill="#111" textLength="14" lengthAdjust="spacingAndGlyphs" stroke="#111" stroke-width="0.12" >TiO<tspan font-size="4.9" baseline-shift="-1.8">2</tspan></text>
<text x="423" y="26.2" font-size="7.2" font-weight="bold" text-anchor="start" fill="#111" textLength="14.5" lengthAdjust="spacingAndGlyphs" stroke="#111" stroke-width="0.12" >C<tspan font-size="4.9" baseline-shift="-1.8">3</tspan>N<tspan font-size="4.9" baseline-shift="-1.8">4</tspan></text>
<text x="423" y="37" font-size="7.2" font-weight="bold" text-anchor="start" fill="#111" textLength="12.5" lengthAdjust="spacingAndGlyphs" stroke="#111" stroke-width="0.12" >C<tspan font-size="4.9" baseline-shift="-1.8">2</tspan>N</text>
<path d="M264.4 36.03L265.3 36.48L266.2 35.86L267.1 34.06L268 33.65L268.9 32.92L269.8 33.44L270.7 33.04L271.6 33.93L272.5 32.39L273.4 35.37L274.3 34.68L275.2 35.91L276.1 35.97L277 36.49L277.9 37.87L278.8 38.94L279.7 39.16L280.6 40.41L281.5 41.95L282.4 40.95L283.3 40.44L284.2 41.84L285.1 40.99L286 39.82L286.9 40.17L287.8 39.8L288.7 38.27L289.6 36.33L290.5 35.38L291.4 33.91L292.3 31.26L293.2 29.18L294.1 28.37L295 27.06L295.9 24.92L296.8 24.35L297.7 23.65L298.6 21.74L299.5 20.42L300.4 20.5L301.3 19.7L302.2 19.68L303.1 17.16L304 16.89L304.9 16.18L305.8 15.21L306.7 16.76L307.6 17.61L308.5 17.41L309.4 20.19L310.3 21.05L311.2 22.33L312.1 23.42L313 24.96L313.9 23.97L314.8 25.62L315.7 25.75L316.6 24.09L317.5 25.76L318.4 25.37L319.3 26.18L320.2 25.27L321.1 25.57L322 25.79L322.9 24.82L323.8 25.85L324.7 25.25L325.6 25.62L326.5 24.78L327.4 25.92L328.3 25.5L329.2 24.88L330.1 25.48L331 26.06L331.9 26.7L332.8 24.49L333.7 26.67L334.6 26.64L335.5 26.4L336.4 25.75L337.3 27.44L338.2 25.55L339.1 26.93L340 27.48L340.9 25.3L341.8 26.27L342.7 25.53L343.6 26.76L344.5 27.83L345.4 28.38L346.3 25.84L347.2 28.07L348.1 30.7L349 33.09L349.9 34.11L350.8 35.17L351.7 37.97L352.6 39.79L353.5 41.71L354.4 43.37L355.3 46.4L356.2 48.53L357.1 50.25L358 51.83L358.9 52.4L359.8 54.22L360.7 56.57L361.6 56.47L362.5 56.39L363.4 59.28L364.3 59.41L365.2 61.2L366.1 60.08L367 59.99L367.9 59.5L368.8 61.78L369.7 62.88L370.6 60.48L371.5 60.73L372.4 61.71L373.3 60.81L374.2 61.28L375.1 61.3L376 61.72L376.9 62.34L377.8 61.75L378.7 62.33L379.6 61.63L380.5 62.11L381.4 60.86L382.3 61.31L383.2 62.49L384.1 61.87L385 62.47L385.9 62.49L386.8 62.85L387.7 62.66L388.6 62.75L389.5 62.35L390.4 62.16L391.3 62.19L392.2 62.3L393.1 62.13L394 62.33L394.9 62.48L395.8 62.59L396.7 62.45L397.6 62.04L398.5 62.54L399.4 62.63L400.3 62.87L401.2 62.75L402.1 62.44L403 62.43L403.9 63.16L404.8 62.84L405.7 63.13L406.6 63.22L407.5 62.46L408.4 62.78L409.3 62.81L410.2 62.85L411.1 62.85L412 62.78L412.9 62.78L413.8 62.35L414.7 62.71L415.6 62.57L416.5 62.81L417.4 62.66L418.3 62.95L419.2 63.02L420.1 62.89L421 62.9L421.9 62.85L422.8 62.72L423.7 62.8L424.6 62.72L425.5 62.97L426.4 62.88L427.3 63.03L428.2 62.54L429.1 63.13L430 62.7L430.9 62.72L431.8 62.87L432.7 62.78L433.6 63.01L434.5 62.79L435.4 62.67L436.3 62.73L437.2 63.3L438.1 62.98L439 62.67L439.9 62.98L440.8 62.57L441.7 63.46L442.6 62.59L443.5 63.12" fill="none" stroke="#EE6A3E" stroke-width="1.15" stroke-linejoin="round" />
<path d="M264.4 87.4L265.3 88.13L266.2 87.93L267.1 87.93L268 88.57L268.9 86.62L269.8 87.05L270.7 86.59L271.6 87.48L272.5 88.29L273.4 87.61L274.3 88.02L275.2 86.38L276.1 87.87L277 87.18L277.9 89.11L278.8 88.55L279.7 88.65L280.6 88L281.5 88.55L282.4 88.67L283.3 88.08L284.2 88.1L285.1 88.5L286 88.3L286.9 88.47L287.8 88.85L288.7 88.72L289.6 89.95L290.5 88.5L291.4 90.46L292.3 89.76L293.2 90.16L294.1 89.93L295 91.1L295.9 91.3L296.8 91.86L297.7 91.62L298.6 92.3L299.5 93.65L300.4 92.69L301.3 91.99L302.2 93.04L303.1 92.25L304 92.72L304.9 92.68L305.8 91.92L306.7 90.77L307.6 91.8L308.5 92.3L309.4 91.32L310.3 91.42L311.2 91.22L312.1 89.55L313 90.1L313.9 89.54L314.8 88.2L315.7 87.19L316.6 85.9L317.5 85.16L318.4 82.1L319.3 80.56L320.2 79.73L321.1 77.49L322 75.91L322.9 75.27L323.8 75.04L324.7 74.07L325.6 71.77L326.5 70.77L327.4 71.1L328.3 70.51L329.2 70.12L330.1 70.47L331 71.02L331.9 70.66L332.8 71.34L333.7 70.58L334.6 71.07L335.5 72.73L336.4 73.88L337.3 75.13L338.2 76.5L339.1 78.16L340 79.57L340.9 79.09L341.8 81.1L342.7 83.03L343.6 83.97L344.5 83.27L345.4 85.7L346.3 84.67L347.2 84.58L348.1 84.55L349 84.52L349.9 82.63L350.8 83.95L351.7 83.07L352.6 82.46L353.5 82.81L354.4 81.47L355.3 82.55L356.2 83.15L357.1 82.93L358 83.77L358.9 84.4L359.8 85.07L360.7 86.32L361.6 86.2L362.5 86.7L363.4 88.02L364.3 89.91L365.2 89.04L366.1 90.45L367 89.77L367.9 92.6L368.8 92.91L369.7 94.17L370.6 93.99L371.5 94.11L372.4 96.26L373.3 96.95L374.2 96.55L375.1 96.86L376 98.92L376.9 99.15L377.8 101.71L378.7 99.99L379.6 100.57L380.5 101.33L381.4 100.69L382.3 101.51L383.2 103.35L384.1 102.43L385 102.31L385.9 102.07L386.8 103.2L387.7 103.31L388.6 103.16L389.5 102.91L390.4 103.29L391.3 103.35L392.2 102.92L393.1 103.47L394 102.43L394.9 102.78L395.8 103.16L396.7 103.24L397.6 102.94L398.5 103.4L399.4 103.59L400.3 103.44L401.2 103.4L402.1 103.56L403 103.46L403.9 103.1L404.8 103.34L405.7 103.71L406.6 103.13L407.5 103.43L408.4 103.33L409.3 103.22L410.2 103.2L411.1 103.48L412 103.54L412.9 103.55L413.8 103.13L414.7 103.42L415.6 103.58L416.5 103.73L417.4 103.67L418.3 103.72L419.2 103.79L420.1 103.73L421 103.33L421.9 103.55L422.8 103.37L423.7 102.97L424.6 103.14L425.5 104.07L426.4 103.29L427.3 103.02L428.2 103.43L429.1 103.95L430 103.57L430.9 103.68L431.8 103.52L432.7 103.56L433.6 103.9L434.5 103.78L435.4 103.57L436.3 103.81L437.2 103.86L438.1 103.54L439 103.66L439.9 103.66L440.8 103.44L441.7 103.88L442.6 103.56L443.5 103.45" fill="none" stroke="#80D2A4" stroke-width="1.15" stroke-linejoin="round" />
<path d="M264.4 128.28L265.3 124.87L266.2 127.73L267.1 127.15L268 128.06L268.9 127.45L269.8 128.5L270.7 127.29L271.6 126.96L272.5 127.78L273.4 127.73L274.3 127.24L275.2 127.37L276.1 128.11L277 128.16L277.9 127.39L278.8 127.54L279.7 126.61L280.6 129.12L281.5 127.86L282.4 129.04L283.3 128.48L284.2 129.64L285.1 129.45L286 128.7L286.9 129.62L287.8 128.03L288.7 129.7L289.6 127.91L290.5 129.32L291.4 130L292.3 129.61L293.2 129.42L294.1 129.36L295 129.94L295.9 131.18L296.8 131.34L297.7 130.79L298.6 130.36L299.5 131.95L300.4 130.69L301.3 131.59L302.2 131.73L303.1 133.03L304 132.91L304.9 133.24L305.8 133.19L306.7 132.49L307.6 133.21L308.5 133.62L309.4 132.31L310.3 132.12L311.2 130.7L312.1 130.63L313 129.56L313.9 128.74L314.8 126.99L315.7 126.13L316.6 122.95L317.5 121.46L318.4 119.93L319.3 119.46L320.2 117.26L321.1 115.85L322 115.43L322.9 114.45L323.8 112.88L324.7 109.51L325.6 109.73L326.5 108.78L327.4 107.92L328.3 107.76L329.2 108.6L330.1 106.25L331 105.49L331.9 107.41L332.8 108.71L333.7 110.19L334.6 111.09L335.5 113.11L336.4 115.07L337.3 115.31L338.2 117.42L339.1 120.92L340 122.24L340.9 122.64L341.8 123.18L342.7 124.16L343.6 123.77L344.5 124.6L345.4 126.13L346.3 125.06L347.2 125.35L348.1 123.63L349 123.26L349.9 123.15L350.8 120.29L351.7 119.72L352.6 118.58L353.5 118.87L354.4 120.56L355.3 120.69L356.2 119.75L357.1 121.18L358 121.37L358.9 122.08L359.8 124.93L360.7 123.58L361.6 125.31L362.5 125.43L363.4 127.29L364.3 127.7L365.2 128.33L366.1 129.05L367 130.84L367.9 130.41L368.8 131.61L369.7 132.38L370.6 135.13L371.5 135.1L372.4 135.66L373.3 137.07L374.2 139.91L375.1 138.77L376 140.06L376.9 140.32L377.8 140.41L378.7 140.28L379.6 140.84L380.5 141.1L381.4 140.05L382.3 143.3L383.2 142.27L384.1 141.81L385 141.67L385.9 141.39L386.8 142.39L387.7 141.8L388.6 142.17L389.5 141.28L390.4 142.15L391.3 142.87L392.2 141.88L393.1 142.34L394 142.04L394.9 142.44L395.8 142.42L396.7 142.09L397.6 141.91L398.5 142.17L399.4 142.12L400.3 141.97L401.2 142.24L402.1 142.25L403 141.93L403.9 142.13L404.8 142.89L405.7 142.38L406.6 142.22L407.5 142.82L408.4 142.1L409.3 141.61L410.2 141.76L411.1 141.87L412 142.31L412.9 142.49L413.8 141.73L414.7 142.55L415.6 141.98L416.5 142.35L417.4 142.41L418.3 142.41L419.2 142.31L420.1 142.36L421 142.04L421.9 142.4L422.8 142.57L423.7 142.57L424.6 142.98L425.5 142.61L426.4 142.53L427.3 142.77L428.2 142.42L429.1 142.05L430 141.82L430.9 142.69L431.8 142.52L432.7 142.59L433.6 142.3L434.5 142.47L435.4 142.85L436.3 142.47L437.2 142.12L438.1 142.29L439 142.74L439.9 142.13L440.8 141.77L441.7 141.84L442.6 142.07L443.5 142.6" fill="none" stroke="#70A8BC" stroke-width="1.15" stroke-linejoin="round" />
<line x1="344" y1="63" x2="378" y2="63" stroke="#EE6A3E" stroke-width="0.9" stroke-dasharray="1 3.5"/>
<line x1="340" y1="17" x2="367" y2="70" stroke="#EE6A3E" stroke-width="0.9" stroke-dasharray="1 3.5"/>
<line x1="362" y1="103.4" x2="392" y2="103.4" stroke="#80D2A4" stroke-width="0.9" stroke-dasharray="1 3.5"/>
<line x1="353" y1="78" x2="387" y2="112" stroke="#80D2A4" stroke-width="0.9" stroke-dasharray="1 3.5"/>
<line x1="364" y1="142.2" x2="392" y2="142.2" stroke="#70A8BC" stroke-width="0.9" stroke-dasharray="1 3.5"/>
<line x1="349" y1="112" x2="381" y2="146" stroke="#70A8BC" stroke-width="0.9" stroke-dasharray="1 3.5"/>
<text x="366.6" y="56.4" font-size="8.8" font-weight="normal" text-anchor="start" fill="#EB5F30" textLength="28.4" lengthAdjust="spacingAndGlyphs" >2.37 eV</text>
<text x="378" y="97.4" font-size="8.8" font-weight="normal" text-anchor="start" fill="#6CC892" textLength="28" lengthAdjust="spacingAndGlyphs" >1.12 eV</text>
<text x="377.6" y="137" font-size="8.8" font-weight="normal" text-anchor="start" fill="#5F9DB3" textLength="28" lengthAdjust="spacingAndGlyphs" >1.19 eV</text>
<defs><radialGradient id="ballg" cx="0.62" cy="0.38" r="0.65"><stop offset="0" stop-color="#F6B6CC"/><stop offset="0.5" stop-color="#E6628B"/><stop offset="1" stop-color="#D6406C"/></radialGradient></defs>
<text x="477.3" y="14.2" font-size="16.5" font-weight="bold" text-anchor="start" fill="#111" >c</text>
<line x1="512" y1="167" x2="512" y2="7.5" stroke="#111" stroke-width="1.5" />
<polyline points="509,12.4 512,6.8 515,12.4" fill="none" stroke="#111" stroke-width="1.4"/>
<line x1="502.3" y1="23.1" x2="512" y2="23.1" stroke="#111" stroke-width="1.4" />
<text x="500.2" y="26.5" font-size="9.6" font-weight="bold" text-anchor="end" fill="#111" stroke="#111" stroke-width="0.15" >-1.5</text>
<line x1="502.3" y1="38.6" x2="512" y2="38.6" stroke="#111" stroke-width="1.4" />
<text x="500.2" y="42" font-size="9.6" font-weight="bold" text-anchor="end" fill="#111" stroke="#111" stroke-width="0.15" >-1</text>
<line x1="502.3" y1="54.1" x2="512" y2="54.1" stroke="#111" stroke-width="1.4" />
<text x="500.2" y="57.5" font-size="9.6" font-weight="bold" text-anchor="end" fill="#111" stroke="#111" stroke-width="0.15" >-0.5</text>
<line x1="502.3" y1="69.6" x2="512" y2="69.6" stroke="#111" stroke-width="1.4" />
<text x="500.2" y="73" font-size="9.6" font-weight="bold" text-anchor="end" fill="#111" stroke="#111" stroke-width="0.15" >0</text>
<line x1="502.3" y1="85.1" x2="512" y2="85.1" stroke="#111" stroke-width="1.4" />
<text x="500.2" y="88.5" font-size="9.6" font-weight="bold" text-anchor="end" fill="#111" stroke="#111" stroke-width="0.15" >0.5</text>
<line x1="502.3" y1="100.6" x2="512" y2="100.6" stroke="#111" stroke-width="1.4" />
<text x="500.2" y="104" font-size="9.6" font-weight="bold" text-anchor="end" fill="#111" stroke="#111" stroke-width="0.15" >1</text>
<line x1="502.3" y1="116.1" x2="512" y2="116.1" stroke="#111" stroke-width="1.4" />
<text x="500.2" y="119.5" font-size="9.6" font-weight="bold" text-anchor="end" fill="#111" stroke="#111" stroke-width="0.15" >1.5</text>
<line x1="502.3" y1="131.6" x2="512" y2="131.6" stroke="#111" stroke-width="1.4" />
<text x="500.2" y="135" font-size="9.6" font-weight="bold" text-anchor="end" fill="#111" stroke="#111" stroke-width="0.15" >2</text>
<line x1="502.3" y1="147.1" x2="512" y2="147.1" stroke="#111" stroke-width="1.4" />
<text x="500.2" y="150.5" font-size="9.6" font-weight="bold" text-anchor="end" fill="#111" stroke="#111" stroke-width="0.15" >2.5</text>
<line x1="502.3" y1="162.6" x2="512" y2="162.6" stroke="#111" stroke-width="1.4" />
<text x="500.2" y="166" font-size="9.6" font-weight="bold" text-anchor="end" fill="#111" stroke="#111" stroke-width="0.15" >3</text>
<text x="480.8" y="88.5" font-size="9.2" font-weight="bold" text-anchor="middle" fill="#111" textLength="116.5" lengthAdjust="spacingAndGlyphs" transform="rotate(-90 480.8 88.5)" stroke="#111" stroke-width="0.2" >Potential (V <tspan font-style="italic">vs.</tspan> RHE, pH 7)</text>
<line x1="541.7" y1="65" x2="541.7" y2="136.5" stroke="#EFAA78" stroke-width="1.1" stroke-dasharray="3.2 2"/>
<line x1="596.5" y1="44" x2="596.5" y2="99" stroke="#7ACB72" stroke-width="1" stroke-dasharray="3.2 2"/>
<line x1="651.4" y1="63" x2="651.4" y2="101.5" stroke="#7DB3DB" stroke-width="1" stroke-dasharray="3.2 2"/>
<polygon points="596.5,41.5 594.8,44.8 598.2,44.8" fill="#8FD48A"/>
<polygon points="651.4,60.8 649.8,64 653,64" fill="#8FC0E3"/>
<text x="516.7" y="103.9" font-size="8.8" font-weight="bold" text-anchor="start" fill="#111" textLength="46.9" lengthAdjust="spacingAndGlyphs" stroke="#111" stroke-width="0.12" ><tspan font-style="italic">E</tspan><tspan font-size="5.98" baseline-shift="-2.2">g</tspan> = 3.18 eV</text>
<text x="571.7" y="73.6" font-size="8.8" font-weight="bold" text-anchor="start" fill="#111" textLength="46.7" lengthAdjust="spacingAndGlyphs" stroke="#111" stroke-width="0.12" ><tspan font-style="italic">E</tspan><tspan font-size="5.98" baseline-shift="-2.2">g</tspan> = 2.60 eV</text>
<text x="635" y="85.8" font-size="8.8" font-weight="bold" text-anchor="start" fill="#111" textLength="46.5" lengthAdjust="spacingAndGlyphs" stroke="#111" stroke-width="0.12" ><tspan font-style="italic">E</tspan><tspan font-size="5.98" baseline-shift="-2.2">g</tspan> = 2.06 eV</text>
<polygon points="523.3,50.7 525.5,48.5 563.4,48.5 561.2,50.7" fill="#F8D2AA"/>
<polygon points="561.2,50.7 563.4,48.5 563.4,59.1 561.2,61.3" fill="#E3A06C"/>
<rect x="523.3" y="50.7" width="37.9" height="10.6" fill="#F3BA8A" stroke="none" stroke-width="1" />
<text x="523.6" y="59.8" font-size="7.4" font-weight="bold" text-anchor="start" fill="#3a2416" textLength="38.5" lengthAdjust="spacingAndGlyphs" stroke="#3a2416" stroke-width="0.35">CB=-0.45 V</text>
<polygon points="523.3,145.9 525.5,143.7 563.4,143.7 561.2,145.9" fill="#F8D2AA"/>
<polygon points="561.2,145.9 563.4,143.7 563.4,154.4 561.2,156.6" fill="#E3A06C"/>
<rect x="523.3" y="145.9" width="37.9" height="10.7" fill="#F3BA8A" stroke="none" stroke-width="1" />
<text x="523.6" y="155.1" font-size="7.4" font-weight="bold" text-anchor="start" fill="#3a2416" textLength="38.5" lengthAdjust="spacingAndGlyphs" stroke="#3a2416" stroke-width="0.35">VB=2.73 V</text>
<polygon points="577.6,27.8 579.8,25.6 616.8,25.6 614.6,27.8" fill="#C6ECB5"/>
<polygon points="614.6,27.8 616.8,25.6 616.8,35.6 614.6,37.8" fill="#86C873"/>
<rect x="577.6" y="27.8" width="37" height="10" fill="#A9DE98" stroke="none" stroke-width="1" />
<text x="577.9" y="36.3" font-size="7.4" font-weight="bold" text-anchor="start" fill="#173417" textLength="37.6" lengthAdjust="spacingAndGlyphs" stroke="#173417" stroke-width="0.35">CB=-1.12 V</text>
<polygon points="577.6,110 579.8,107.8 616.8,107.8 614.6,110" fill="#C6ECB5"/>
<polygon points="614.6,110 616.8,107.8 616.8,117.8 614.6,120" fill="#86C873"/>
<rect x="577.6" y="110" width="37" height="10" fill="#A9DE98" stroke="none" stroke-width="1" />
<text x="577.9" y="118.5" font-size="7.4" font-weight="bold" text-anchor="start" fill="#173417" textLength="37.6" lengthAdjust="spacingAndGlyphs" stroke="#173417" stroke-width="0.35">VB=1.48 V</text>
<polygon points="633,47.6 635.2,45.4 673.2,45.4 671,47.6" fill="#CCE4F6"/>
<polygon points="671,47.6 673.2,45.4 673.2,56.5 671,58.7" fill="#92BCDD"/>
<rect x="633" y="47.6" width="38" height="11.1" fill="#AFD4EF" stroke="none" stroke-width="1" />
<text x="633.3" y="57.2" font-size="7.4" font-weight="bold" text-anchor="start" fill="#14263a" textLength="38.6" lengthAdjust="spacingAndGlyphs" stroke="#14263a" stroke-width="0.35">CB=-0.51 V</text>
<polygon points="633,112.2 635.2,110 673.2,110 671,112.2" fill="#CCE4F6"/>
<polygon points="671,112.2 673.2,110 673.2,121.1 671,123.3" fill="#92BCDD"/>
<rect x="633" y="112.2" width="38" height="11.1" fill="#AFD4EF" stroke="none" stroke-width="1" />
<text x="633.3" y="121.8" font-size="7.4" font-weight="bold" text-anchor="start" fill="#14263a" textLength="38.6" lengthAdjust="spacingAndGlyphs" stroke="#14263a" stroke-width="0.35">VB=1.55 V</text>
<circle cx="532.8" cy="46.3" r="5.2" fill="url(#ballg)"/>
<text x="532" y="48.9" font-size="7.4" font-weight="bold" text-anchor="middle" fill="#1e0509" >e</text>
<text x="535.4" y="45.4" font-size="5.5" font-weight="bold" text-anchor="middle" fill="#fff" >-</text>
<circle cx="543.7" cy="46.3" r="5.2" fill="url(#ballg)"/>
<text x="542.9" y="48.9" font-size="7.4" font-weight="bold" text-anchor="middle" fill="#1e0509" >e</text>
<text x="546.3" y="45.4" font-size="5.5" font-weight="bold" text-anchor="middle" fill="#fff" >-</text>
<circle cx="554.7" cy="46.3" r="5.2" fill="url(#ballg)"/>
<text x="553.9" y="48.9" font-size="7.4" font-weight="bold" text-anchor="middle" fill="#1e0509" >e</text>
<text x="557.3" y="45.4" font-size="5.5" font-weight="bold" text-anchor="middle" fill="#fff" >-</text>
<circle cx="532.8" cy="141.2" r="5.2" fill="url(#ballg)"/>
<text x="532" y="143.8" font-size="7.2" font-weight="bold" text-anchor="middle" fill="#1e0509" >h</text>
<text x="535.5" y="140.8" font-size="5" font-weight="bold" text-anchor="middle" fill="#fff" >+</text>
<circle cx="543.7" cy="141.2" r="5.2" fill="url(#ballg)"/>
<text x="542.9" y="143.8" font-size="7.2" font-weight="bold" text-anchor="middle" fill="#1e0509" >h</text>
<text x="546.4" y="140.8" font-size="5" font-weight="bold" text-anchor="middle" fill="#fff" >+</text>
<circle cx="554.7" cy="141.2" r="5.2" fill="url(#ballg)"/>
<text x="553.9" y="143.8" font-size="7.2" font-weight="bold" text-anchor="middle" fill="#1e0509" >h</text>
<text x="557.4" y="140.8" font-size="5" font-weight="bold" text-anchor="middle" fill="#fff" >+</text>
<circle cx="587.2" cy="23" r="5.2" fill="url(#ballg)"/>
<text x="586.4" y="25.6" font-size="7.4" font-weight="bold" text-anchor="middle" fill="#1e0509" >e</text>
<text x="589.8" y="22.1" font-size="5.5" font-weight="bold" text-anchor="middle" fill="#fff" >-</text>
<circle cx="598.4" cy="23" r="5.2" fill="url(#ballg)"/>
<text x="597.6" y="25.6" font-size="7.4" font-weight="bold" text-anchor="middle" fill="#1e0509" >e</text>
<text x="601" y="22.1" font-size="5.5" font-weight="bold" text-anchor="middle" fill="#fff" >-</text>
<circle cx="609.6" cy="23" r="5.2" fill="url(#ballg)"/>
<text x="608.8" y="25.6" font-size="7.4" font-weight="bold" text-anchor="middle" fill="#1e0509" >e</text>
<text x="612.2" y="22.1" font-size="5.5" font-weight="bold" text-anchor="middle" fill="#fff" >-</text>
<circle cx="587.2" cy="105.3" r="5.2" fill="url(#ballg)"/>
<text x="586.4" y="107.9" font-size="7.2" font-weight="bold" text-anchor="middle" fill="#1e0509" >h</text>
<text x="589.9" y="104.9" font-size="5" font-weight="bold" text-anchor="middle" fill="#fff" >+</text>
<circle cx="598.4" cy="105.3" r="5.2" fill="url(#ballg)"/>
<text x="597.6" y="107.9" font-size="7.2" font-weight="bold" text-anchor="middle" fill="#1e0509" >h</text>
<text x="601.1" y="104.9" font-size="5" font-weight="bold" text-anchor="middle" fill="#fff" >+</text>
<circle cx="609.6" cy="105.3" r="5.2" fill="url(#ballg)"/>
<text x="608.8" y="107.9" font-size="7.2" font-weight="bold" text-anchor="middle" fill="#1e0509" >h</text>
<text x="612.3" y="104.9" font-size="5" font-weight="bold" text-anchor="middle" fill="#fff" >+</text>
<circle cx="642" cy="43" r="5.2" fill="url(#ballg)"/>
<text x="641.2" y="45.6" font-size="7.4" font-weight="bold" text-anchor="middle" fill="#1e0509" >e</text>
<text x="644.6" y="42.1" font-size="5.5" font-weight="bold" text-anchor="middle" fill="#fff" >-</text>
<circle cx="653.2" cy="43" r="5.2" fill="url(#ballg)"/>
<text x="652.4" y="45.6" font-size="7.4" font-weight="bold" text-anchor="middle" fill="#1e0509" >e</text>
<text x="655.8" y="42.1" font-size="5.5" font-weight="bold" text-anchor="middle" fill="#fff" >-</text>
<circle cx="664.2" cy="43" r="5.2" fill="url(#ballg)"/>
<text x="663.4" y="45.6" font-size="7.4" font-weight="bold" text-anchor="middle" fill="#1e0509" >e</text>
<text x="666.8" y="42.1" font-size="5.5" font-weight="bold" text-anchor="middle" fill="#fff" >-</text>
<circle cx="642" cy="107.9" r="5.2" fill="url(#ballg)"/>
<text x="641.2" y="110.5" font-size="7.2" font-weight="bold" text-anchor="middle" fill="#1e0509" >h</text>
<text x="644.7" y="107.5" font-size="5" font-weight="bold" text-anchor="middle" fill="#fff" >+</text>
<circle cx="653.2" cy="107.9" r="5.2" fill="url(#ballg)"/>
<text x="652.4" y="110.5" font-size="7.2" font-weight="bold" text-anchor="middle" fill="#1e0509" >h</text>
<text x="655.9" y="107.5" font-size="5" font-weight="bold" text-anchor="middle" fill="#fff" >+</text>
<circle cx="664.2" cy="107.9" r="5.2" fill="url(#ballg)"/>
<text x="663.4" y="110.5" font-size="7.2" font-weight="bold" text-anchor="middle" fill="#1e0509" >h</text>
<text x="666.9" y="107.5" font-size="5" font-weight="bold" text-anchor="middle" fill="#fff" >+</text>
<text x="542.6" y="168.6" font-size="9.8" font-weight="bold" text-anchor="middle" fill="#222" stroke="#222" stroke-width="0.2" >TiO<tspan font-size="6.66" baseline-shift="-2.45">2</tspan></text>
<text x="596.5" y="132.7" font-size="9.8" font-weight="bold" text-anchor="middle" fill="#222" stroke="#222" stroke-width="0.2" >C<tspan font-size="6.66" baseline-shift="-2.45">3</tspan>N<tspan font-size="6.66" baseline-shift="-2.45">4</tspan></text>
<text x="651.7" y="134.5" font-size="9.8" font-weight="bold" text-anchor="middle" fill="#222" stroke="#222" stroke-width="0.2" >C<tspan font-size="6.66" baseline-shift="-2.45">2</tspan>N</text>
<rect x="33.3" y="198.2" width="179.9" height="145.1" fill="none" stroke="#111" stroke-width="1.3" />
<line x1="42.9" y1="343.3" x2="42.9" y2="346" stroke="#111" stroke-width="1.1" />
<line x1="61.75" y1="343.3" x2="61.75" y2="345" stroke="#111" stroke-width="0.9" />
<text x="42.9" y="356.1" font-size="9.8" font-weight="bold" text-anchor="middle" fill="#111" stroke="#111" stroke-width="0.15" >3460</text>
<line x1="80.6" y1="343.3" x2="80.6" y2="346" stroke="#111" stroke-width="1.1" />
<line x1="99.45" y1="343.3" x2="99.45" y2="345" stroke="#111" stroke-width="0.9" />
<text x="80.6" y="356.1" font-size="9.8" font-weight="bold" text-anchor="middle" fill="#111" stroke="#111" stroke-width="0.15" >3480</text>
<line x1="118.3" y1="343.3" x2="118.3" y2="346" stroke="#111" stroke-width="1.1" />
<line x1="137.15" y1="343.3" x2="137.15" y2="345" stroke="#111" stroke-width="0.9" />
<text x="118.3" y="356.1" font-size="9.8" font-weight="bold" text-anchor="middle" fill="#111" stroke="#111" stroke-width="0.15" >3500</text>
<line x1="156" y1="343.3" x2="156" y2="346" stroke="#111" stroke-width="1.1" />
<line x1="174.85" y1="343.3" x2="174.85" y2="345" stroke="#111" stroke-width="0.9" />
<text x="156" y="356.1" font-size="9.8" font-weight="bold" text-anchor="middle" fill="#111" stroke="#111" stroke-width="0.15" >3520</text>
<line x1="193.7" y1="343.3" x2="193.7" y2="346" stroke="#111" stroke-width="1.1" />
<text x="193.7" y="356.1" font-size="9.8" font-weight="bold" text-anchor="middle" fill="#111" stroke="#111" stroke-width="0.15" >3540</text>
<text x="123.6" y="368.8" font-size="12.2" font-weight="bold" text-anchor="middle" fill="#111" textLength="49.5" lengthAdjust="spacingAndGlyphs" stroke="#111" stroke-width="0.2" >Field (G)</text>
<text x="27.8" y="271.3" font-size="11.8" font-weight="bold" text-anchor="middle" fill="#111" textLength="98.3" lengthAdjust="spacingAndGlyphs" transform="rotate(-90 27.8 271.3)" stroke="#111" stroke-width="0.2" >Intensity (arb. u.)</text>
<text x="0.8" y="211.7" font-size="15.5" font-weight="bold" text-anchor="start" fill="#111" >d</text>
<text x="37.7" y="211.2" font-size="8.2" font-weight="bold" text-anchor="start" fill="#111" textLength="41" lengthAdjust="spacingAndGlyphs" stroke="#111" stroke-width="0.2" >DMPO-O<tspan font-size="5.58" baseline-shift="-2.05">2</tspan><tspan font-size="5.58" baseline-shift="3.12">•−</tspan></text>
<path d="M33.3 219.27L33.7 219.5L34.1 218.84L34.5 219.54L34.9 219.19L35.3 219.04L35.7 219.04L36.1 218.98L36.5 219.15L36.9 219.37L37.3 219.32L37.7 219.33L38.1 218.86L38.5 218.88L38.9 219.51L39.3 219.39L39.7 219.63L40.1 219.44L40.5 218.99L40.9 219.45L41.3 219.32L41.7 219.24L42.1 219.03L42.5 219.19L42.9 219.16L43.3 219.37L43.7 219.22L44.1 219.51L44.5 219.03L44.9 219.28L45.3 219.29L45.7 219.01L46.1 218.95L46.5 219.39L46.9 219.29L47.3 219.15L47.7 219.26L48.1 219.05L48.5 219.23L48.9 219.06L49.3 219.22L49.7 219.37L50.1 219.11L50.5 219.35L50.9 218.97L51.3 219.12L51.7 218.9L52.1 219.15L52.5 219.19L52.9 219.13L53.3 219.11L53.7 219.43L54.1 219.45L54.5 218.92L54.9 219.4L55.3 218.82L55.7 219.01L56.1 219.12L56.5 219.18L56.9 218.95L57.3 219.01L57.7 219.17L58.1 219.01L58.5 219.02L58.9 219.28L59.3 219.34L59.7 219.14L60.1 219.15L60.5 219.14L60.9 219.05L61.3 219.04L61.7 218.93L62.1 219.27L62.5 219.12L62.9 219.11L63.3 219.17L63.7 219.24L64.1 219.41L64.5 219.07L64.9 219.05L65.3 219.16L65.7 218.95L66.1 219.37L66.5 219.3L66.9 219.25L67.3 219.09L67.7 219.26L68.1 219.32L68.5 219.21L68.9 219.05L69.3 218.76L69.7 219.29L70.1 219.02L70.5 218.92L70.9 219.27L71.3 219.15L71.7 218.8L72.1 219.06L72.5 219.02L72.9 219.27L73.3 218.69L73.7 218.99L74.1 219.03L74.5 219.34L74.9 218.83L75.3 218.46L75.7 218.77L76.1 219.09L76.5 219.2L76.9 219.38L77.3 219.1L77.7 218.86L78.1 219.19L78.5 219.01L78.9 218.96L79.3 219L79.7 219.25L80.1 218.8L80.5 218.77L80.9 218.96L81.3 218.95L81.7 218.79L82.1 218.77L82.5 219.01L82.9 219.19L83.3 219.04L83.7 219.02L84.1 219.09L84.5 218.27L84.9 218.05L85.3 217.8L85.7 217.26L86.1 216.87L86.5 216.52L86.9 215.6L87.3 215.14L87.7 214.33L88.1 214.3L88.5 214.63L88.9 214.18L89.3 214.48L89.7 215.04L90.1 215.45L90.5 216.32L90.9 216.89L91.3 217.7L91.7 218.17L92.1 218.73L92.5 219.56L92.9 220.4L93.3 221.29L93.7 221.73L94.1 222.29L94.5 222.84L94.9 223.36L95.3 222.9L95.7 222.8L96.1 221.58L96.5 221.12L96.9 220.88L97.3 220.26L97.7 219.56L98.1 219.5L98.5 219.28L98.9 219.53L99.3 219.42L99.7 219.13L100.1 219.31L100.5 219.1L100.9 219.08L101.3 218.99L101.7 218.7L102.1 218.68L102.5 218.41L102.9 218.05L103.3 217.41L103.7 215.86L104.1 215.17L104.5 215.52L104.9 215.95L105.3 216.25L105.7 216.76L106.1 217.01L106.5 216.03L106.9 215.24L107.3 215.17L107.7 216.12L108.1 216.53L108.5 217.25L108.9 218.31L109.3 219.8L109.7 221.73L110.1 222.07L110.5 221.41L110.9 221.48L111.3 221.33L111.7 221.18L112.1 220.86L112.5 220.35L112.9 220.16L113.3 219.47L113.7 218.57L114.1 218.24L114.5 217.27L114.9 216.87L115.3 217.26L115.7 218.13L116.1 219.57L116.5 220.71L116.9 221.28L117.3 221.48L117.7 222.08L118.1 222.16L118.5 221.67L118.9 220.91L119.3 221.68L119.7 222.25L120.1 222.43L120.5 222.23L120.9 221.56L121.3 221.26L121.7 220.34L122.1 219.83L122.5 219.85L122.9 219.68L123.3 219.31L123.7 219.52L124.1 219.39L124.5 219.09L124.9 219.27L125.3 219.45L125.7 219.19L126.1 219.51L126.5 219.3L126.9 218.48L127.3 218.16L127.7 217.93L128.1 216.73L128.5 215.9L128.9 215.58L129.3 215.38L129.7 215.41L130.1 215.77L130.5 215.71L130.9 215.91L131.3 216.08L131.7 216.05L132.1 216.46L132.5 216.8L132.9 217.09L133.3 217.47L133.7 218.21L134.1 218.67L134.5 219.3L134.9 220.05L135.3 220.72L135.7 220.79L136.1 220.98L136.5 221.03L136.9 220.97L137.3 220.96L137.7 220.29L138.1 219.97L138.5 219.2L138.9 218.29L139.3 217.19L139.7 215.55L140.1 215.4L140.5 216.3L140.9 218.12L141.3 219.4L141.7 220.63L142.1 221L142.5 220.84L142.9 220.64L143.3 220.58L143.7 221.56L144.1 222.19L144.5 222.43L144.9 222.64L145.3 222.31L145.7 222.13L146.1 221.45L146.5 221.43L146.9 221.2L147.3 220.18L147.7 220.01L148.1 219.85L148.5 219.19L148.9 218.44L149.3 218.72L149.7 217.91L150.1 218.21L150.5 217.55L150.9 217.23L151.3 217.02L151.7 216.61L152.1 216.34L152.5 215.91L152.9 215.36L153.3 215.29L153.7 214.89L154.1 214.54L154.5 214.3L154.9 214.14L155.3 214.2L155.7 214.59L156.1 214.88L156.5 215.12L156.9 215.62L157.3 215.7L157.7 216.25L158.1 216.89L158.5 217.48L158.9 218.85L159.3 220.39L159.7 221.06L160.1 222.56L160.5 223.24L160.9 224.27L161.3 223.73L161.7 222.91L162.1 221.99L162.5 220.81L162.9 220.21L163.3 219.88L163.7 219.7L164.1 219.42L164.5 219.6L164.9 219.4L165.3 219.19L165.7 218.84L166.1 219.13L166.5 219.09L166.9 218.95L167.3 219.07L167.7 219.08L168.1 218.87L168.5 219.04L168.9 218.99L169.3 218.98L169.7 218.85L170.1 218.83L170.5 218.94L170.9 219.2L171.3 219.38L171.7 218.84L172.1 218.7L172.5 218.84L172.9 218.74L173.3 218.83L173.7 218.99L174.1 218.72L174.5 219.03L174.9 219.06L175.3 219.21L175.7 219.27L176.1 219.1L176.5 219.36L176.9 218.8L177.3 218.96L177.7 218.94L178.1 218.99L178.5 219.1L178.9 218.83L179.3 219.24L179.7 219.15L180.1 218.97L180.5 218.99L180.9 218.7L181.3 218.4L181.7 218.88L182.1 218.96L182.5 218.94L182.9 218.68L183.3 218.81L183.7 219.25L184.1 219.04L184.5 219.02L184.9 218.83L185.3 219.04L185.7 219.15L186.1 219.05L186.5 218.81L186.9 218.95L187.3 218.72L187.7 218.83L188.1 219.01L188.5 218.79L188.9 218.85L189.3 219.18L189.7 218.86L190.1 219.04L190.5 218.83L190.9 218.66L191.3 218.89L191.7 218.81L192.1 218.49L192.5 218.65L192.9 218.8L193.3 219.18L193.7 218.77L194.1 218.87L194.5 219.01L194.9 218.94L195.3 218.81L195.7 219.22L196.1 219.14L196.5 218.39L196.9 219.07L197.3 218.98L197.7 219.07L198.1 218.89L198.5 219.04L198.9 219.25L199.3 219.21L199.7 219.23L200.1 219.08L200.5 219.05L200.9 219.05L201.3 218.65L201.7 219.32L202.1 218.91L202.5 218.93L202.9 218.89L203.3 218.96L203.7 218.44L204.1 218.91L204.5 218.61L204.9 218.66L205.3 218.49L205.7 218.52L206.1 218.97L206.5 218.76L206.9 218.83L207.3 218.82L207.7 218.62L208.1 218.71L208.5 218.6L208.9 218.79L209.3 218.41L209.7 218.77L210.1 219.03L210.5 219.09L210.9 219.07L211.3 218.94L211.7 218.64L212.1 219.02L212.5 218.95" fill="none" stroke="#EE6A3E" stroke-width="1.15" stroke-linejoin="round" />
<path d="M33.3 239.72L33.7 239.75L34.1 239.73L34.5 239.86L34.9 240.27L35.3 239.66L35.7 240.16L36.1 240.22L36.5 239.89L36.9 239.81L37.3 240.04L37.7 240.19L38.1 240.37L38.5 240.11L38.9 240.25L39.3 239.83L39.7 239.74L40.1 239.57L40.5 239.67L40.9 239.82L41.3 239.93L41.7 239.62L42.1 240.04L42.5 239.85L42.9 239.74L43.3 239.71L43.7 240.26L44.1 239.88L44.5 239.66L44.9 239.64L45.3 240.19L45.7 239.7L46.1 240.05L46.5 240.09L46.9 239.33L47.3 240.06L47.7 239.74L48.1 239.56L48.5 239.66L48.9 239.88L49.3 239.83L49.7 239.83L50.1 239.6L50.5 239.99L50.9 240.03L51.3 240.09L51.7 239.91L52.1 240.08L52.5 240.12L52.9 239.83L53.3 239.86L53.7 239.79L54.1 239.78L54.5 239.83L54.9 239.31L55.3 239.58L55.7 239.73L56.1 239.2L56.5 239.33L56.9 239.93L57.3 239.39L57.7 239.5L58.1 239.66L58.5 239.48L58.9 239.4L59.3 239.46L59.7 239.47L60.1 239.43L60.5 239.57L60.9 239.85L61.3 239.59L61.7 239.84L62.1 239.65L62.5 239.66L62.9 239.6L63.3 239.42L63.7 239.55L64.1 239.52L64.5 239.23L64.9 239.6L65.3 239.55L65.7 239.5L66.1 239.31L66.5 238.89L66.9 239.7L67.3 239.38L67.7 238.95L68.1 239.51L68.5 239.23L68.9 239.5L69.3 239.33L69.7 239.57L70.1 239.38L70.5 239.38L70.9 239.34L71.3 239.55L71.7 239.03L72.1 239.52L72.5 239.41L72.9 239.15L73.3 239.25L73.7 239.15L74.1 239.24L74.5 239.4L74.9 239.07L75.3 239.34L75.7 239.36L76.1 239.29L76.5 239.46L76.9 239.12L77.3 239.26L77.7 239.6L78.1 239.1L78.5 239.05L78.9 239.07L79.3 239.17L79.7 238.91L80.1 238.97L80.5 238.65L80.9 238.78L81.3 238.77L81.7 238.72L82.1 238.85L82.5 239.05L82.9 238.81L83.3 238.58L83.7 238.85L84.1 238.78L84.5 238.19L84.9 238L85.3 237.12L85.7 236.52L86.1 235.83L86.5 235.27L86.9 233.93L87.3 233.06L87.7 232.4L88.1 232.19L88.5 232.01L88.9 231.45L89.3 232.09L89.7 232.64L90.1 233.82L90.5 234.8L90.9 235.47L91.3 236.68L91.7 237.74L92.1 238.98L92.5 240.38L92.9 241.2L93.3 242.1L93.7 243.62L94.1 243.83L94.5 244.81L94.9 245.22L95.3 244.77L95.7 244.38L96.1 243.39L96.5 242.24L96.9 241.45L97.3 240.56L97.7 239.57L98.1 239.64L98.5 239.19L98.9 239.14L99.3 239.33L99.7 239.37L100.1 238.94L100.5 239.25L100.9 239.24L101.3 238.74L101.7 238.43L102.1 238.15L102.5 237.59L102.9 236.95L103.3 236.05L103.7 234.09L104.1 233.16L104.5 233.41L104.9 233.81L105.3 234.31L105.7 234.85L106.1 235.06L106.5 234.31L106.9 232.83L107.3 233.08L107.7 234.26L108.1 234.83L108.5 236.4L108.9 237.66L109.3 239.87L109.7 242.5L110.1 243.07L110.5 242.58L110.9 242.16L111.3 242.19L111.7 241.58L112.1 241.49L112.5 240.93L112.9 240.19L113.3 239.47L113.7 238.75L114.1 237.61L114.5 235.91L114.9 235.04L115.3 235.47L115.7 237.47L116.1 239.48L116.5 241.2L116.9 242.68L117.3 242.94L117.7 243.2L118.1 243.27L118.5 242.88L118.9 242.11L119.3 242.57L119.7 243.51L120.1 243.9L120.5 243.53L120.9 243.25L121.3 241.71L121.7 240.57L122.1 239.92L122.5 239.63L122.9 239.51L123.3 239.76L123.7 239.22L124.1 239.49L124.5 239.22L124.9 238.87L125.3 238.85L125.7 238.8L126.1 238.53L126.5 238.55L126.9 237.75L127.3 237.02L127.7 235.92L128.1 235.07L128.5 233.76L128.9 233.7L129.3 233.18L129.7 233.3L130.1 233.39L130.5 233.3L130.9 233.42L131.3 233.59L131.7 234.17L132.1 234.32L132.5 234.97L132.9 235.64L133.3 236.12L133.7 236.71L134.1 237.59L134.5 238.57L134.9 239.4L135.3 240.79L135.7 241.38L136.1 241.57L136.5 241.27L136.9 241.36L137.3 240.91L137.7 240.35L138.1 239.73L138.5 238.92L138.9 236.62L139.3 234.83L139.7 233.43L140.1 232.86L140.5 234.24L140.9 236.84L141.3 238.38L141.7 240.71L142.1 241.13L142.5 241.18L142.9 240.39L143.3 241.34L143.7 242.29L144.1 243.13L144.5 243.21L144.9 243.41L145.3 243.45L145.7 243.32L146.1 242.33L146.5 241.38L146.9 241.34L147.3 240.72L147.7 239.67L148.1 239.21L148.5 238.64L148.9 238.02L149.3 236.97L149.7 236.83L150.1 236.26L150.5 236.17L150.9 235.54L151.3 234.74L151.7 234.38L152.1 233.86L152.5 232.79L152.9 232.18L153.3 231.74L153.7 231.38L154.1 230.92L154.5 230.33L154.9 230.21L155.3 230.6L155.7 231.04L156.1 231.28L156.5 232L156.9 232.79L157.3 232.89L157.7 233.47L158.1 234.28L158.5 236.03L158.9 237.82L159.3 239.6L159.7 241.32L160.1 243.12L160.5 244.85L160.9 245.87L161.3 245.75L161.7 243.8L162.1 242.76L162.5 240.82L162.9 239.59L163.3 239.34L163.7 238.68L164.1 238.41L164.5 238.28L164.9 238.42L165.3 238.34L165.7 237.96L166.1 237.96L166.5 238.12L166.9 237.83L167.3 237.42L167.7 237.54L168.1 237.59L168.5 237.75L168.9 237.54L169.3 237.91L169.7 237.54L170.1 237.93L170.5 237.48L170.9 237.86L171.3 237.62L171.7 237.86L172.1 237.95L172.5 237.91L172.9 237.76L173.3 237.4L173.7 237.38L174.1 236.9L174.5 237.81L174.9 237.77L175.3 237.71L175.7 237.28L176.1 238.05L176.5 237.36L176.9 237.66L177.3 237.17L177.7 237.36L178.1 237.72L178.5 237.68L178.9 237.26L179.3 237.45L179.7 237.68L180.1 237.09L180.5 237.61L180.9 237.14L181.3 237.57L181.7 237.39L182.1 237.63L182.5 237.33L182.9 237.36L183.3 237.35L183.7 237.23L184.1 237.36L184.5 237.21L184.9 237.29L185.3 237.53L185.7 237.33L186.1 237.6L186.5 237.53L186.9 237.55L187.3 237.15L187.7 237.45L188.1 237.65L188.5 237.54L188.9 237.6L189.3 237.65L189.7 237.04L190.1 237.45L190.5 237.44L190.9 237.28L191.3 237.05L191.7 237.34L192.1 237.27L192.5 237.68L192.9 237.55L193.3 237.2L193.7 237.06L194.1 237.1L194.5 237.25L194.9 237.11L195.3 237.64L195.7 237L196.1 237.22L196.5 237.26L196.9 237.3L197.3 237.03L197.7 237.16L198.1 237.24L198.5 237.26L198.9 237.07L199.3 237.12L199.7 237.22L200.1 237.55L200.5 236.92L200.9 237.29L201.3 237.46L201.7 236.87L202.1 237.42L202.5 237.41L202.9 237.14L203.3 237.31L203.7 237.41L204.1 237.08L204.5 237.15L204.9 236.88L205.3 236.95L205.7 237.1L206.1 237.06L206.5 237.39L206.9 237.02L207.3 236.82L207.7 237.23L208.1 237.23L208.5 237.12L208.9 237.01L209.3 236.87L209.7 236.89L210.1 237.31L210.5 237.16L210.9 237.02L211.3 237.08L211.7 236.92L212.1 236.79L212.5 236.88" fill="none" stroke="#80D2A4" stroke-width="1.15" stroke-linejoin="round" />
<path d="M33.3 259.11L33.7 259.04L34.1 258.98L34.5 258.52L34.9 259.06L35.3 258.55L35.7 259.15L36.1 259.08L36.5 259.12L36.9 259.11L37.3 259L37.7 258.83L38.1 258.86L38.5 259.22L38.9 258.8L39.3 258.86L39.7 258.75L40.1 258.79L40.5 258.82L40.9 258.93L41.3 258.81L41.7 258.79L42.1 258.73L42.5 258.87L42.9 258.57L43.3 258.84L43.7 259.09L44.1 258.66L44.5 258.8L44.9 259.36L45.3 258.59L45.7 258.46L46.1 258.69L46.5 259.13L46.9 259.17L47.3 258.51L47.7 258.86L48.1 258.74L48.5 258.61L48.9 258.33L49.3 258.92L49.7 258.53L50.1 258.75L50.5 258.7L50.9 259.05L51.3 258.9L51.7 258.43L52.1 258.6L52.5 258.85L52.9 258.37L53.3 258.54L53.7 258.66L54.1 258.28L54.5 258.35L54.9 258.25L55.3 258.63L55.7 258.46L56.1 258.74L56.5 258.57L56.9 258.65L57.3 258.51L57.7 258.67L58.1 258.49L58.5 258.31L58.9 258.73L59.3 258.68L59.7 258.93L60.1 258.44L60.5 258.34L60.9 258.15L61.3 257.66L61.7 258.16L62.1 258.51L62.5 258.23L62.9 257.88L63.3 258.51L63.7 258.26L64.1 258.3L64.5 258.27L64.9 258.32L65.3 258.44L65.7 257.98L66.1 258.28L66.5 258.21L66.9 258.53L67.3 258.08L67.7 258.61L68.1 258.39L68.5 258.59L68.9 258.11L69.3 258.4L69.7 258.3L70.1 257.92L70.5 258.15L70.9 258.1L71.3 257.99L71.7 258.02L72.1 257.87L72.5 258.05L72.9 258.2L73.3 257.97L73.7 257.8L74.1 258.31L74.5 258.01L74.9 258.08L75.3 258.01L75.7 257.93L76.1 258.15L76.5 257.91L76.9 258L77.3 257.69L77.7 257.64L78.1 257.87L78.5 258.31L78.9 257.95L79.3 258.28L79.7 257.97L80.1 257.95L80.5 257.73L80.9 257.82L81.3 258.17L81.7 258.03L82.1 257.65L82.5 257.65L82.9 257.98L83.3 257.57L83.7 257.81L84.1 257.38L84.5 257.39L84.9 257.03L85.3 256.2L85.7 255.34L86.1 254.59L86.5 253.61L86.9 252.53L87.3 251.71L87.7 250.88L88.1 250.32L88.5 249.76L88.9 249.79L89.3 250.16L89.7 250.9L90.1 251.7L90.5 253.19L90.9 254.64L91.3 255.06L91.7 256.54L92.1 258.05L92.5 258.87L92.9 260.11L93.3 261.35L93.7 262.38L94.1 263.18L94.5 264.29L94.9 264.16L95.3 264.46L95.7 263.54L96.1 262.3L96.5 261.41L96.9 260.46L97.3 259.8L97.7 258.72L98.1 258.45L98.5 258.01L98.9 257.94L99.3 258.04L99.7 257.7L100.1 257.76L100.5 257.57L100.9 257.59L101.3 257.51L101.7 257.4L102.1 256.46L102.5 256.33L102.9 255.95L103.3 254.76L103.7 252.63L104.1 251.31L104.5 251.75L104.9 252.43L105.3 253.07L105.7 253.58L106.1 253.92L106.5 252.58L106.9 251.05L107.3 251.42L107.7 252.45L108.1 253.32L108.5 255.1L108.9 256.07L109.3 258.8L109.7 261.77L110.1 262.43L110.5 262.26L110.9 261.57L111.3 260.93L111.7 260.68L112.1 260.64L112.5 259.45L112.9 258.95L113.3 257.97L113.7 257.25L114.1 256.2L114.5 254.77L114.9 253.27L115.3 254.39L115.7 256.32L116.1 258.09L116.5 259.9L116.9 261.25L117.3 262.11L117.7 262.82L118.1 262.44L118.5 261.69L118.9 261.31L119.3 261.61L119.7 262.66L120.1 262.86L120.5 262.7L120.9 262.16L121.3 261.03L121.7 259.62L122.1 258.79L122.5 258.59L122.9 258.52L123.3 258.17L123.7 258.13L124.1 257.88L124.5 258.1L124.9 257.63L125.3 257.88L125.7 257.82L126.1 257.66L126.5 257.19L126.9 256.24L127.3 255.41L127.7 254.57L128.1 253.35L128.5 251.99L128.9 251.43L129.3 251.37L129.7 251.35L130.1 251.68L130.5 251.55L130.9 251.87L131.3 252.3L131.7 252.7L132.1 252.86L132.5 253.64L132.9 254.11L133.3 255.21L133.7 255.9L134.1 256.71L134.5 257.35L134.9 258.34L135.3 259.6L135.7 260.31L136.1 260.49L136.5 260.56L136.9 259.94L137.3 259.49L137.7 259.2L138.1 258.45L138.5 257.15L138.9 255.14L139.3 253.39L139.7 251.08L140.1 251.25L140.5 252.74L140.9 254.95L141.3 257.45L141.7 259.94L142.1 260.56L142.5 259.8L142.9 259.37L143.3 259.91L143.7 260.97L144.1 261.82L144.5 262.41L144.9 262.96L145.3 262.95L145.7 262.25L146.1 261.87L146.5 261.02L146.9 260.08L147.3 259.27L147.7 258.53L148.1 257.9L148.5 257.4L148.9 256.61L149.3 255.62L149.7 255.15L150.1 255.11L150.5 254.53L150.9 253.8L151.3 253.53L151.7 253L152.1 252.22L152.5 251.38L152.9 250.93L153.3 249.97L153.7 249.46L154.1 248.95L154.5 249.15L154.9 249.01L155.3 248.66L155.7 249.18L156.1 249.68L156.5 250.33L156.9 250.88L157.3 251.32L157.7 251.85L158.1 252.68L158.5 254.22L158.9 255.89L159.3 258.32L159.7 260.16L160.1 262.11L160.5 263.95L160.9 264.98L161.3 264.68L161.7 263.33L162.1 261.67L162.5 259.54L162.9 258.03L163.3 257.81L163.7 257.41L164.1 257.19L164.5 256.91L164.9 256.95L165.3 256.69L165.7 257.07L166.1 256.36L166.5 256.24L166.9 256.67L167.3 256.3L167.7 256.14L168.1 256.37L168.5 255.8L168.9 256.34L169.3 256.24L169.7 256.27L170.1 256.04L170.5 256.45L170.9 256.24L171.3 256.16L171.7 256.22L172.1 255.97L172.5 256.1L172.9 255.82L173.3 255.89L173.7 256.16L174.1 256.12L174.5 256.23L174.9 255.94L175.3 256.05L175.7 255.92L176.1 256.1L176.5 256.2L176.9 256.25L177.3 256.15L177.7 255.87L178.1 256.06L178.5 255.81L178.9 255.63L179.3 256.04L179.7 256.02L180.1 256.14L180.5 256.16L180.9 255.74L181.3 255.8L181.7 255.98L182.1 255.99L182.5 256.05L182.9 255.7L183.3 255.91L183.7 256.08L184.1 256.33L184.5 255.69L184.9 256.26L185.3 255.88L185.7 255.64L186.1 256.19L186.5 255.71L186.9 255.68L187.3 256.05L187.7 256.11L188.1 255.91L188.5 255.74L188.9 255.58L189.3 255.9L189.7 255.4L190.1 255.57L190.5 256.06L190.9 255.97L191.3 256.08L191.7 255.91L192.1 255.59L192.5 255.9L192.9 255.44L193.3 255.93L193.7 256.06L194.1 255.58L194.5 255.97L194.9 255.77L195.3 255.72L195.7 255.35L196.1 255.7L196.5 255.9L196.9 255.38L197.3 255.61L197.7 255.56L198.1 255.37L198.5 255.9L198.9 255.68L199.3 255.68L199.7 255.86L200.1 255.5L200.5 256.3L200.9 255.55L201.3 255.4L201.7 255.75L202.1 255.69L202.5 255.42L202.9 255.42L203.3 255.76L203.7 255.65L204.1 255.66L204.5 255.75L204.9 255.44L205.3 255.81L205.7 255.56L206.1 255.69L206.5 255.35L206.9 255.68L207.3 255.58L207.7 256.01L208.1 255.47L208.5 255.8L208.9 255.62L209.3 255.8L209.7 255.52L210.1 255.56L210.5 255.02L210.9 255.2L211.3 255.65L211.7 255.52L212.1 255.58L212.5 255.37" fill="none" stroke="#70A8BC" stroke-width="1.15" stroke-linejoin="round" />
<path d="M33.3 283.3L33.7 283.15L34.1 282.93L34.5 283.07L34.9 283.05L35.3 283.07L35.7 283.19L36.1 282.91L36.5 283.24L36.9 282.93L37.3 283.07L37.7 283.23L38.1 283.2L38.5 282.99L38.9 283.36L39.3 283.15L39.7 282.95L40.1 283.1L40.5 282.97L40.9 283.15L41.3 282.89L41.7 283.16L42.1 282.82L42.5 283.25L42.9 283.12L43.3 283.29L43.7 282.97L44.1 282.77L44.5 282.87L44.9 283.04L45.3 283.37L45.7 283.16L46.1 283.27L46.5 282.94L46.9 282.99L47.3 283.02L47.7 283.24L48.1 282.98L48.5 283.02L48.9 283.3L49.3 282.93L49.7 283.05L50.1 282.85L50.5 283.02L50.9 283.17L51.3 283.23L51.7 282.84L52.1 282.66L52.5 283.12L52.9 283.29L53.3 282.93L53.7 283.07L54.1 283.04L54.5 282.71L54.9 282.63L55.3 283.01L55.7 283.09L56.1 282.79L56.5 282.97L56.9 282.9L57.3 282.87L57.7 282.82L58.1 283.18L58.5 283.01L58.9 282.97L59.3 282.92L59.7 283.05L60.1 282.92L60.5 283.01L60.9 282.87L61.3 283.03L61.7 282.93L62.1 283.06L62.5 282.73L62.9 282.84L63.3 282.77L63.7 283.19L64.1 282.85L64.5 282.93L64.9 282.68L65.3 282.79L65.7 282.66L66.1 282.9L66.5 282.76L66.9 283.13L67.3 282.76L67.7 283.04L68.1 282.86L68.5 282.95L68.9 282.72L69.3 282.85L69.7 282.82L70.1 282.72L70.5 282.91L70.9 282.59L71.3 282.78L71.7 282.77L72.1 282.8L72.5 282.61L72.9 282.87L73.3 282.62L73.7 282.66L74.1 282.59L74.5 282.67L74.9 282.77L75.3 283.13L75.7 282.29L76.1 282.81L76.5 282.79L76.9 282.87L77.3 282.67L77.7 282.69L78.1 282.87L78.5 282.6L78.9 282.6L79.3 282.56L79.7 282.61L80.1 282.79L80.5 282.37L80.9 282.67L81.3 282.12L81.7 282.51L82.1 282.35L82.5 282.56L82.9 282.44L83.3 282.38L83.7 282.28L84.1 282.15L84.5 281.25L84.9 280.6L85.3 279.07L85.7 278.05L86.1 276.43L86.5 274.8L86.9 272.68L87.3 270.8L87.7 269.28L88.1 268.58L88.5 267.91L88.9 268.11L89.3 268.1L89.7 269.73L90.1 271.4L90.5 273.9L90.9 276.01L91.3 278.28L91.7 280.49L92.1 282.73L92.5 284.88L92.9 287.25L93.3 289.4L93.7 291.26L94.1 292.95L94.5 294.65L94.9 295.62L95.3 295.17L95.7 293.51L96.1 291.32L96.5 289.62L96.9 287.96L97.3 286.45L97.7 284.88L98.1 284.38L98.5 283.74L98.9 284L99.3 283.38L99.7 283.44L100.1 283.26L100.5 283.05L100.9 282.84L101.3 282.44L101.7 282.03L102.1 281.38L102.5 280.63L102.9 279.55L103.3 277.22L103.7 273.03L104.1 271.45L104.5 272.39L104.9 273.03L105.3 273.64L105.7 275.36L106.1 275.87L106.5 273.3L106.9 270.84L107.3 271.29L107.7 272.86L108.1 275.1L108.5 277.82L108.9 281.15L109.3 285.45L109.7 290.25L110.1 291.99L110.5 291.31L110.9 290.31L111.3 289.76L111.7 289.3L112.1 288.49L112.5 287.15L112.9 286.12L113.3 284.4L113.7 282.65L114.1 280.47L114.5 277.41L114.9 275.34L115.3 276.58L115.7 280.64L116.1 284.2L116.5 287.88L116.9 290.67L117.3 291.66L117.7 291.91L118.1 292.27L118.5 291.38L118.9 290.39L119.3 290.91L119.7 293.33L120.1 293.49L120.5 293.15L120.9 291.27L121.3 289.37L121.7 286.69L122.1 285.41L122.5 285.08L122.9 284.81L123.3 284.39L123.7 284.48L124.1 284.1L124.5 284.03L124.9 283.8L125.3 283.7L125.7 283.63L126.1 283.15L126.5 282.63L126.9 281.02L127.3 279.75L127.7 277.91L128.1 275.76L128.5 273.44L128.9 272.44L129.3 272.47L129.7 272.23L130.1 272.51L130.5 272.67L130.9 272.98L131.3 273.39L131.7 274.2L132.1 274.88L132.5 275.7L132.9 277.24L133.3 278.36L133.7 279.99L134.1 281.93L134.5 283.66L134.9 285.35L135.3 287.61L135.7 289.06L136.1 289.53L136.5 289.17L136.9 288.98L137.3 288.14L137.7 287.35L138.1 286.13L138.5 283.02L138.9 279.75L139.3 276.26L139.7 272.68L140.1 271.84L140.5 274.46L140.9 279.57L141.3 283.72L141.7 288.2L142.1 289.44L142.5 288.17L142.9 287.12L143.3 287.98L143.7 291.1L144.1 292.53L144.5 293.48L144.9 293.83L145.3 293.37L145.7 292.82L146.1 291.64L146.5 290.5L146.9 288.9L147.3 287.51L147.7 286.19L148.1 284.94L148.5 283.5L148.9 282.23L149.3 281.21L149.7 280.09L150.1 279.53L150.5 278.6L150.9 277.3L151.3 276.43L151.7 275.48L152.1 273.97L152.5 272.69L152.9 271.45L153.3 270.33L153.7 269.44L154.1 268.71L154.5 267.85L154.9 267.4L155.3 267.8L155.7 268.52L156.1 269.7L156.5 270.91L156.9 271.62L157.3 272.72L157.7 274.13L158.1 275.74L158.5 278.82L158.9 282.32L159.3 286.01L159.7 289.69L160.1 293.1L160.5 296.83L160.9 299.07L161.3 298.21L161.7 295.03L162.1 292.44L162.5 288.85L162.9 285.73L163.3 285.01L163.7 284.35L164.1 284.05L164.5 283.32L164.9 283.18L165.3 283.35L165.7 282.78L166.1 282.63L166.5 282.56L166.9 282.6L167.3 282.75L167.7 282.54L168.1 282.69L168.5 282.61L168.9 282.45L169.3 282.78L169.7 282.69L170.1 282.48L170.5 282.5L170.9 282.37L171.3 282.26L171.7 282.5L172.1 282.68L172.5 282.08L172.9 282.42L173.3 282.83L173.7 282.76L174.1 282.38L174.5 282.41L174.9 282.73L175.3 282.36L175.7 282.51L176.1 282.39L176.5 282.58L176.9 282.54L177.3 282.79L177.7 282.36L178.1 282.26L178.5 282.45L178.9 282.55L179.3 282.46L179.7 282.89L180.1 282.43L180.5 282.47L180.9 282.64L181.3 282.77L181.7 282.53L182.1 282.6L182.5 282.31L182.9 282.35L183.3 282.55L183.7 282.62L184.1 282.58L184.5 282.58L184.9 282.62L185.3 282.49L185.7 282.45L186.1 282.46L186.5 282.3L186.9 282.39L187.3 282.38L187.7 282.59L188.1 282.87L188.5 282.61L188.9 282.8L189.3 282.37L189.7 282.44L190.1 282.47L190.5 282.68L190.9 282.81L191.3 282.64L191.7 282.57L192.1 282.53L192.5 282.41L192.9 282.57L193.3 282.56L193.7 282.5L194.1 282.36L194.5 282.51L194.9 282.47L195.3 282.37L195.7 282.67L196.1 282.47L196.5 282.58L196.9 282.31L197.3 282.41L197.7 282.37L198.1 282.31L198.5 282.49L198.9 282.44L199.3 282.29L199.7 282.37L200.1 282.48L200.5 282.46L200.9 282.75L201.3 282.11L201.7 282.6L202.1 282.57L202.5 282.53L202.9 282.35L203.3 282.35L203.7 282.16L204.1 282.52L204.5 282.36L204.9 282.36L205.3 282.7L205.7 282.3L206.1 282.44L206.5 282.54L206.9 282.43L207.3 282.5L207.7 282.48L208.1 282.48L208.5 282.25L208.9 282.25L209.3 282.6L209.7 282.51L210.1 282.41L210.5 282.33L210.9 282.65L211.3 282.38L211.7 282.28L212.1 282.58L212.5 282.27" fill="none" stroke="#D987C2" stroke-width="1.15" stroke-linejoin="round" />
<path d="M33.3 317.05L33.7 317L34.1 316.92L34.5 316.66L34.9 317L35.3 317.14L35.7 317.16L36.1 316.92L36.5 317.33L36.9 317.29L37.3 316.97L37.7 316.98L38.1 317.14L38.5 316.96L38.9 317.03L39.3 317.18L39.7 317.18L40.1 316.92L40.5 316.93L40.9 316.92L41.3 317L41.7 317.01L42.1 316.94L42.5 317.12L42.9 317.01L43.3 317L43.7 316.7L44.1 316.79L44.5 316.9L44.9 317.05L45.3 316.87L45.7 317.23L46.1 317.02L46.5 317.04L46.9 317.02L47.3 317.07L47.7 317.14L48.1 316.92L48.5 317.24L48.9 316.88L49.3 317.08L49.7 316.97L50.1 316.98L50.5 317.1L50.9 317.03L51.3 317.24L51.7 316.92L52.1 317.08L52.5 317.09L52.9 317.32L53.3 317.24L53.7 317.11L54.1 317.25L54.5 317.13L54.9 316.88L55.3 317.05L55.7 317.18L56.1 316.92L56.5 317.23L56.9 317.05L57.3 316.91L57.7 317.07L58.1 316.76L58.5 316.9L58.9 316.84L59.3 317.07L59.7 316.85L60.1 316.77L60.5 317.05L60.9 316.93L61.3 316.89L61.7 316.91L62.1 317.15L62.5 317.02L62.9 316.88L63.3 317.41L63.7 317.06L64.1 317.27L64.5 317.13L64.9 317.17L65.3 316.83L65.7 316.87L66.1 317.05L66.5 316.93L66.9 316.95L67.3 317.09L67.7 316.58L68.1 316.87L68.5 317.14L68.9 316.83L69.3 316.9L69.7 316.94L70.1 316.92L70.5 316.91L70.9 316.71L71.3 316.89L71.7 316.74L72.1 317.05L72.5 316.71L72.9 316.83L73.3 316.75L73.7 316.93L74.1 316.77L74.5 316.84L74.9 316.63L75.3 316.65L75.7 316.55L76.1 316.65L76.5 316.61L76.9 316.47L77.3 316.44L77.7 316.63L78.1 316.56L78.5 316.46L78.9 316.41L79.3 316.37L79.7 316.53L80.1 316.41L80.5 316.38L80.9 316.37L81.3 316.35L81.7 316.34L82.1 316.36L82.5 316.03L82.9 316.2L83.3 315.98L83.7 316.02L84.1 316.13L84.5 314.94L84.9 313.71L85.3 312.12L85.7 310L86.1 308.9L86.5 306.13L86.9 303.75L87.3 300.87L87.7 299.02L88.1 297.97L88.5 297.26L88.9 297.09L89.3 297.44L89.7 299.45L90.1 302.49L90.5 304.87L90.9 307.55L91.3 311.05L91.7 313.69L92.1 316.79L92.5 320.09L92.9 322.88L93.3 325.69L93.7 328.47L94.1 330.69L94.5 332.86L94.9 333.9L95.3 333.49L95.7 331.03L96.1 328.5L96.5 326.15L96.9 323.94L97.3 321.46L97.7 319.83L98.1 319.2L98.5 318.5L98.9 318.32L99.3 317.96L99.7 317.59L100.1 317.79L100.5 317.3L100.9 317L101.3 316.63L101.7 315.95L102.1 315.03L102.5 314.05L102.9 312.44L103.3 309.22L103.7 303.73L104.1 302.17L104.5 302.48L104.9 303.54L105.3 305.19L105.7 307.05L106.1 307.86L106.5 304.69L106.9 301.26L107.3 301.72L107.7 303.99L108.1 306.62L108.5 310.35L108.9 314.8L109.3 320.5L109.7 326.76L110.1 328.9L110.5 328.32L110.9 327.23L111.3 326.28L111.7 325.34L112.1 324.1L112.5 322.8L112.9 321.22L113.3 319.41L113.7 317.02L114.1 314.29L114.5 310.28L114.9 307.28L115.3 308.36L115.7 314L116.1 319.22L116.5 324.16L116.9 327.57L117.3 329.18L117.7 329.95L118.1 329.94L118.5 328.34L118.9 326.93L119.3 328.07L119.7 330.95L120.1 331.92L120.5 330.73L120.9 328.61L121.3 325.87L121.7 322.54L122.1 320.86L122.5 319.93L122.9 319.59L123.3 319.5L123.7 319.31L124.1 318.95L124.5 318.7L124.9 318.63L125.3 318.52L125.7 318.26L126.1 317.58L126.5 316.82L126.9 315.13L127.3 313.01L127.7 311.17L128.1 307.58L128.5 304.53L128.9 303.59L129.3 302.88L129.7 302.78L130.1 303.26L130.5 303.73L130.9 303.81L131.3 304.34L131.7 305.44L132.1 306.87L132.5 308.16L132.9 309.66L133.3 311.26L133.7 313.56L134.1 316.17L134.5 317.83L134.9 320.39L135.3 323.27L135.7 325.53L136.1 326.08L136.5 325.65L136.9 325.08L137.3 324.63L137.7 323.3L138.1 321.64L138.5 317.64L138.9 313.22L139.3 308.24L139.7 303.84L140.1 302.17L140.5 306.45L140.9 312.76L141.3 318.33L141.7 324.07L142.1 325.98L142.5 324.4L142.9 323.37L143.3 324.21L143.7 328.15L144.1 330.2L144.5 331.13L144.9 331.62L145.3 331.73L145.7 330.44L146.1 329.07L146.5 327.08L146.9 325.39L147.3 323.73L147.7 322.14L148.1 319.9L148.5 317.84L148.9 316.02L149.3 315.12L149.7 313.81L150.1 312.91L150.5 311.34L150.9 310.31L151.3 308.75L151.7 307.31L152.1 305.54L152.5 304.06L152.9 302.05L153.3 300.57L153.7 299.36L154.1 298.44L154.5 297.65L154.9 297.1L155.3 297.17L155.7 298.08L156.1 299.47L156.5 301.03L156.9 302.19L157.3 303.63L157.7 305.54L158.1 307.77L158.5 311.86L158.9 316.74L159.3 321.6L159.7 326.57L160.1 331.09L160.5 335.75L160.9 338.87L161.3 337.74L161.7 334.23L162.1 330.08L162.5 325.29L162.9 321.57L163.3 320.07L163.7 319.26L164.1 318.62L164.5 318.3L164.9 318.16L165.3 317.8L165.7 317.73L166.1 317.05L166.5 317.15L166.9 316.81L167.3 316.81L167.7 316.81L168.1 317.18L168.5 317.01L168.9 317.19L169.3 317.01L169.7 317.1L170.1 317.1L170.5 317.08L170.9 317.02L171.3 317.14L171.7 317.03L172.1 317.01L172.5 317.01L172.9 316.91L173.3 316.77L173.7 316.89L174.1 317.27L174.5 317.02L174.9 316.85L175.3 316.96L175.7 317.15L176.1 317.28L176.5 316.72L176.9 316.76L177.3 316.68L177.7 316.91L178.1 316.86L178.5 317.17L178.9 317.1L179.3 316.92L179.7 317.35L180.1 316.91L180.5 317.05L180.9 317.11L181.3 316.85L181.7 317.02L182.1 317.04L182.5 316.97L182.9 317.11L183.3 316.98L183.7 316.9L184.1 317.13L184.5 316.93L184.9 317.07L185.3 316.93L185.7 317.09L186.1 317.02L186.5 316.82L186.9 317.06L187.3 316.94L187.7 317.27L188.1 316.92L188.5 317.13L188.9 316.66L189.3 316.92L189.7 316.73L190.1 317.01L190.5 316.88L190.9 317.21L191.3 317.11L191.7 317.22L192.1 316.86L192.5 316.66L192.9 317L193.3 317.21L193.7 317.04L194.1 317.29L194.5 316.96L194.9 316.9L195.3 317.08L195.7 317.16L196.1 316.94L196.5 316.9L196.9 316.9L197.3 317.3L197.7 316.69L198.1 317.18L198.5 316.98L198.9 317.24L199.3 317.12L199.7 316.83L200.1 317.04L200.5 316.93L200.9 316.92L201.3 316.79L201.7 317.19L202.1 316.71L202.5 317.04L202.9 317.31L203.3 317.08L203.7 317.25L204.1 317.14L204.5 317.2L204.9 316.87L205.3 317.03L205.7 317.08L206.1 317.04L206.5 316.86L206.9 316.85L207.3 317.01L207.7 317.07L208.1 317.04L208.5 316.76L208.9 316.92L209.3 316.92L209.7 317.06L210.1 316.87L210.5 317.02L210.9 316.82L211.3 316.94L211.7 317.11L212.1 317.13L212.5 316.82" fill="none" stroke="#EFAE66" stroke-width="1.15" stroke-linejoin="round" />
<text x="187" y="215" font-size="6.6" font-weight="bold" text-anchor="start" fill="#111" textLength="14" lengthAdjust="spacingAndGlyphs" stroke="#111" stroke-width="0.2" >TiO<tspan font-size="4.49" baseline-shift="-1.65">2</tspan></text>
<text x="186" y="233.2" font-size="6.6" font-weight="bold" text-anchor="start" fill="#111" textLength="15" lengthAdjust="spacingAndGlyphs" stroke="#111" stroke-width="0.2" >C<tspan font-size="4.49" baseline-shift="-1.65">3</tspan>N<tspan font-size="4.49" baseline-shift="-1.65">4</tspan></text>
<text x="187" y="252.3" font-size="6.6" font-weight="bold" text-anchor="start" fill="#111" textLength="12.5" lengthAdjust="spacingAndGlyphs" stroke="#111" stroke-width="0.2" >C<tspan font-size="4.49" baseline-shift="-1.65">2</tspan>N</text>
<text x="175" y="279" font-size="6.6" font-weight="bold" text-anchor="start" fill="#111" textLength="30" lengthAdjust="spacingAndGlyphs" stroke="#111" stroke-width="0.2" >TiO<tspan font-size="4.49" baseline-shift="-1.65">2</tspan>/C<tspan font-size="4.49" baseline-shift="-1.65">3</tspan>N<tspan font-size="4.49" baseline-shift="-1.65">4</tspan></text>
<text x="177" y="313" font-size="6.6" font-weight="bold" text-anchor="start" fill="#111" textLength="27.6" lengthAdjust="spacingAndGlyphs" stroke="#111" stroke-width="0.2" >TiO<tspan font-size="4.49" baseline-shift="-1.65">2</tspan>/C<tspan font-size="4.49" baseline-shift="-1.65">2</tspan>N</text>
<rect x="263.9" y="198.2" width="180.1" height="145.1" fill="none" stroke="#111" stroke-width="1.3" />
<line x1="273.2" y1="343.3" x2="273.2" y2="346" stroke="#111" stroke-width="1.1" />
<line x1="292" y1="343.3" x2="292" y2="345" stroke="#111" stroke-width="0.9" />
<text x="273.2" y="356.1" font-size="9.8" font-weight="bold" text-anchor="middle" fill="#111" stroke="#111" stroke-width="0.15" >3460</text>
<line x1="310.8" y1="343.3" x2="310.8" y2="346" stroke="#111" stroke-width="1.1" />
<line x1="329.6" y1="343.3" x2="329.6" y2="345" stroke="#111" stroke-width="0.9" />
<text x="310.8" y="356.1" font-size="9.8" font-weight="bold" text-anchor="middle" fill="#111" stroke="#111" stroke-width="0.15" >3480</text>
<line x1="348.4" y1="343.3" x2="348.4" y2="346" stroke="#111" stroke-width="1.1" />
<line x1="367.2" y1="343.3" x2="367.2" y2="345" stroke="#111" stroke-width="0.9" />
<text x="348.4" y="356.1" font-size="9.8" font-weight="bold" text-anchor="middle" fill="#111" stroke="#111" stroke-width="0.15" >3500</text>
<line x1="386" y1="343.3" x2="386" y2="346" stroke="#111" stroke-width="1.1" />
<line x1="404.8" y1="343.3" x2="404.8" y2="345" stroke="#111" stroke-width="0.9" />
<text x="386" y="356.1" font-size="9.8" font-weight="bold" text-anchor="middle" fill="#111" stroke="#111" stroke-width="0.15" >3520</text>
<line x1="423.6" y1="343.3" x2="423.6" y2="346" stroke="#111" stroke-width="1.1" />
<text x="423.6" y="356.1" font-size="9.8" font-weight="bold" text-anchor="middle" fill="#111" stroke="#111" stroke-width="0.15" >3540</text>
<text x="354.6" y="368.8" font-size="12.2" font-weight="bold" text-anchor="middle" fill="#111" textLength="49.5" lengthAdjust="spacingAndGlyphs" stroke="#111" stroke-width="0.2" >Field (G)</text>
<text x="258.7" y="270.6" font-size="11.8" font-weight="bold" text-anchor="middle" fill="#111" textLength="98.3" lengthAdjust="spacingAndGlyphs" transform="rotate(-90 258.7 270.6)" stroke="#111" stroke-width="0.2" >Intensity (arb. u.)</text>
<text x="245.8" y="211.2" font-size="15.5" font-weight="bold" text-anchor="start" fill="#111" >e</text>
<text x="268" y="211.2" font-size="8.2" font-weight="bold" text-anchor="start" fill="#111" textLength="43.7" lengthAdjust="spacingAndGlyphs" stroke="#111" stroke-width="0.2" >DMPO-HO<tspan font-size="5.5" baseline-shift="3">•</tspan></text>
<path d="M263.9 228.19L264.4 228.48L264.9 228.44L265.4 228.25L265.9 228.67L266.4 229.13L266.9 229.31L267.4 229.33L267.9 229.11L268.4 229.09L268.9 229.75L269.4 229.64L269.9 228.83L270.4 228.49L270.9 227.88L271.4 227.2L271.9 227.36L272.4 227.42L272.9 227.21L273.4 227.11L273.9 227.31L274.4 227.55L274.9 227.14L275.4 226.41L275.9 226.07L276.4 225.81L276.9 226.08L277.4 227.26L277.9 228.38L278.4 228.27L278.9 227.29L279.4 226.64L279.9 226.89L280.4 227.83L280.9 228.53L281.4 228.63L281.9 228.72L282.4 228.76L282.9 227.81L283.4 225.8L283.9 225.13L284.4 226.42L284.9 227.53L285.4 227.57L285.9 227.01L286.4 226.09L286.9 225.77L287.4 226.68L287.9 227.88L288.4 228.01L288.9 227.37L289.4 227.01L289.9 226.8L290.4 226.55L290.9 226.34L291.4 226.4L291.9 226.51L292.4 226.49L292.9 226.31L293.4 226.35L293.9 226.72L294.4 226.93L294.9 226.99L295.4 227.11L295.9 227.22L296.4 227.4L296.9 228.14L297.4 228.66L297.9 228.89L298.4 229.65L298.9 229.62L299.4 227.83L299.9 225.75L300.4 225.38L300.9 226.93L301.4 228.52L301.9 228.69L302.4 227.93L302.9 226.96L303.4 226.43L303.9 226.3L304.4 226.15L304.9 226.54L305.4 227.17L305.9 227.37L306.4 227.25L306.9 227.14L307.4 227.15L307.9 226.44L308.4 225.2L308.9 224.94L309.4 225.75L309.9 226.33L310.4 225.23L310.9 222.7L311.4 221.06L311.9 222.15L312.4 224.51L312.9 226.29L313.4 228.69L313.9 231.71L314.4 232.35L314.9 230.21L315.4 227.35L315.9 225.44L316.4 225.52L316.9 227.08L317.4 228.17L317.9 228.04L318.4 227.37L318.9 226.73L319.4 226.29L319.9 226.06L320.4 225.88L320.9 226.09L321.4 226.85L321.9 226.89L322.4 226.14L322.9 226.29L323.4 226.38L323.9 225.92L324.4 226.02L324.9 226.05L325.4 225.57L325.9 225.2L326.4 226.02L326.9 228.17L327.4 229.48L327.9 228.72L328.4 227.26L328.9 226.56L329.4 226.13L329.9 225.64L330.4 225.73L330.9 225.81L331.4 224.91L331.9 223.92L332.4 224.19L332.9 225.15L333.4 225.71L333.9 226.29L334.4 226.79L334.9 226.32L335.4 225.83L335.9 226.51L336.4 227.17L336.9 227.14L337.4 227.49L337.9 226.54L338.4 222.85L338.9 218.14L339.4 215.45L339.9 216.79L340.4 221.78L340.9 227.97L341.4 233.74L341.9 238.21L342.4 238.35L342.9 233.88L343.4 229.05L343.9 226.75L344.4 226.72L344.9 227.41L345.4 227.87L345.9 228.07L346.4 227.83L346.9 226.89L347.4 225.92L347.9 225.18L348.4 224.28L348.9 224.17L349.4 224.47L349.9 224.75L350.4 225.06L350.9 224.28L351.4 223.41L351.9 223.54L352.4 224.16L352.9 224.89L353.4 225.6L353.9 225.97L354.4 225.65L354.9 225.04L355.4 224.7L355.9 224.55L356.4 223.94L356.9 223.86L357.4 224.47L357.9 224.1L358.4 223.56L358.9 223.92L359.4 224.25L359.9 224.03L360.4 224.65L360.9 226.08L361.4 226.64L361.9 225.81L362.4 225.03L362.9 225.35L363.4 226.06L363.9 225.75L364.4 225.06L364.9 224.55L365.4 223.89L365.9 222.72L366.4 220.02L366.9 215.6L367.4 212.04L367.9 213.72L368.4 219.5L368.9 225.87L369.4 232.9L369.9 238.17L370.4 238L370.9 233.55L371.4 228.9L371.9 226.32L372.4 224.98L372.9 224.44L373.4 224.67L373.9 224.93L374.4 225.42L374.9 226.15L375.4 226.23L375.9 225.22L376.4 224.29L376.9 224.49L377.4 225.02L377.9 225.4L378.4 225.67L378.9 225.93L379.4 225.62L379.9 224.84L380.4 223.96L380.9 223.5L381.4 223.94L381.9 224.06L382.4 223.89L382.9 224.37L383.4 224.85L383.9 224.88L384.4 224.97L384.9 225.34L385.4 225.34L385.9 224.76L386.4 224.08L386.9 223.65L387.4 223.74L387.9 223.87L388.4 223.32L388.9 223.13L389.4 224.11L389.9 224.93L390.4 224.97L390.9 224.92L391.4 224.42L391.9 223.8L392.4 223.88L392.9 223.97L393.4 223.15L393.9 222.12L394.4 221.76L394.9 220.33L395.4 218.76L395.9 219.7L396.4 222.22L396.9 225.42L397.4 229.37L397.9 232.46L398.4 232.42L398.9 229.63L399.4 226.47L399.9 225.04L400.4 225.32L400.9 225.37L401.4 225.1L401.9 225.03L402.4 224.61L402.9 224.24L403.4 224.45L403.9 224.65L404.4 224.98L404.9 225.5L405.4 225.95L405.9 225.81L406.4 224.69L406.9 223.42L407.4 222.79L407.9 223.1L408.4 223.79L408.9 223.63L409.4 222.83L409.9 222.67L410.4 223.43L410.9 223.98L411.4 223.45L411.9 222.67L412.4 222.33L412.9 223.04L413.4 223.71L413.9 223.42L414.4 222.91L414.9 222.23L415.4 222.05L415.9 222.26L416.4 222.75L416.9 223.44L417.4 223.97L417.9 223.91L418.4 223.43L418.9 223.08L419.4 222.86L419.9 222.36L420.4 222.15L420.9 222.87L421.4 224.38L421.9 225.35L422.4 225.13L422.9 224.34L423.4 223.09L423.9 222.73L424.4 223.52L424.9 224.31L425.4 224.8L425.9 224.8L426.4 224.31L426.9 223.71L427.4 222.17L427.9 220.45L428.4 220.56L428.9 221.79L429.4 222.83L429.9 223.33L430.4 223.49L430.9 223.37L431.4 222.83L431.9 222.85L432.4 223.05L432.9 223.14L433.4 223.8L433.9 223.95L434.4 223.27L434.9 222.8L435.4 222.85L435.9 223.37L436.4 223.74L436.9 222.83L437.4 221.28L437.9 220.77L438.4 220.62L438.9 219.76L439.4 219.8L439.9 221.13L440.4 222.74L440.9 224.04L441.4 225.14L441.9 225.76L442.4 225.03L442.9 224.21L443.4 223.7L443.9 222.95" fill="none" stroke="#EE6A3E" stroke-width="1.15" stroke-linejoin="round"/>
<path d="M263.9 251.4L264.4 251.4L264.9 251.01L265.4 250.43L265.9 249.57L266.4 249.62L266.9 250.59L267.4 250.13L267.9 248.69L268.4 248.46L268.9 249.45L269.4 250.74L269.9 251.4L270.4 250.99L270.9 250.45L271.4 250.36L271.9 250.24L272.4 249.88L272.9 249.41L273.4 249.62L273.9 250.36L274.4 250.38L274.9 249.92L275.4 249.5L275.9 249.45L276.4 250.04L276.9 251L277.4 251.49L277.9 251.25L278.4 251.53L278.9 252.43L279.4 252.29L279.9 251.21L280.4 250.21L280.9 249.84L281.4 249.45L281.9 248.78L282.4 249.25L282.9 250.92L283.4 251.88L283.9 250.86L284.4 249.31L284.9 249.08L285.4 249.63L285.9 249.77L286.4 250.36L286.9 251.1L287.4 250.6L287.9 249.77L288.4 250L288.9 250.97L289.4 250.88L289.9 249.53L290.4 248.87L290.9 249.76L291.4 250.69L291.9 250.29L292.4 249.61L292.9 249.96L293.4 250.41L293.9 250.25L294.4 249.95L294.9 249.57L295.4 248.98L295.9 248.29L296.4 247.69L296.9 247.46L297.4 248.06L297.9 249.34L298.4 250.14L298.9 250.21L299.4 250.04L299.9 249.61L300.4 249.25L300.9 249.26L301.4 249.05L301.9 248.33L302.4 247.79L302.9 248.37L303.4 249.1L303.9 248.82L304.4 248.02L304.9 247.8L305.4 248.78L305.9 249.85L306.4 250.05L306.9 250.03L307.4 250L307.9 249.95L308.4 249.8L308.9 249.98L309.4 250.22L309.9 249.75L310.4 248.89L310.9 248.44L311.4 248.47L311.9 248.73L312.4 248.99L312.9 249.23L313.4 249.13L313.9 248.48L314.4 248.13L314.9 248.31L315.4 248.53L315.9 248.75L316.4 249.06L316.9 249.57L317.4 250.34L317.9 250.5L318.4 249.9L318.9 249.05L319.4 249.05L319.9 250.03L320.4 250.84L320.9 250.87L321.4 250.53L321.9 250.15L322.4 249.73L322.9 248.43L323.4 247.04L323.9 247.1L324.4 248.25L324.9 249.08L325.4 249.41L325.9 249.73L326.4 250.33L326.9 250.57L327.4 249.96L327.9 249.16L328.4 248.27L328.9 247.89L329.4 248.81L329.9 249.86L330.4 250.39L330.9 250.99L331.4 250.91L331.9 250.49L332.4 250.21L332.9 249.88L333.4 249.88L333.9 249.82L334.4 249.08L334.9 248.42L335.4 248.62L335.9 250.21L336.4 251.66L336.9 250.76L337.4 248.65L337.9 247.96L338.4 248.88L338.9 249.54L339.4 249.71L339.9 250.16L340.4 250.38L340.9 250.43L341.4 250.48L341.9 250.05L342.4 249.22L342.9 249.11L343.4 249.48L343.9 248.97L344.4 248.38L344.9 248.61L345.4 249.28L345.9 250.74L346.4 252.14L346.9 251.43L347.4 249.33L347.9 248.07L348.4 248L348.9 248.3L349.4 248.91L349.9 249.46L350.4 249.42L350.9 248.65L351.4 247.99L351.9 248.29L352.4 248.98L352.9 249.5L353.4 249.38L353.9 248.58L354.4 248.08L354.9 247.95L355.4 248.19L355.9 248.75L356.4 249.16L356.9 249L357.4 248.46L357.9 248.67L358.4 248.45L358.9 248.01L359.4 248.47L359.9 249.32L360.4 249.94L360.9 249.7L361.4 248.87L361.9 248.65L362.4 248.89L362.9 248.94L363.4 249.16L363.9 249.44L364.4 248.83L364.9 248.04L365.4 248.1L365.9 248.35L366.4 248.73L366.9 249.34L367.4 249.55L367.9 249.43L368.4 249.38L368.9 249.13L369.4 248.72L369.9 248.9L370.4 249.03L370.9 248.35L371.4 247.84L371.9 248.17L372.4 248.73L372.9 248.91L373.4 248.9L373.9 248.66L374.4 248.51L374.9 248.28L375.4 247.78L375.9 247.81L376.4 248.37L376.9 248.63L377.4 248.72L377.9 248.44L378.4 248.17L378.9 248.58L379.4 248.55L379.9 247.98L380.4 247.69L380.9 248.03L381.4 249.04L381.9 249.56L382.4 248.59L382.9 247.74L383.4 248.5L383.9 249.68L384.4 249.93L384.9 249.39L385.4 248.04L385.9 246.84L386.4 246.45L386.9 246.77L387.4 247.3L387.9 247.07L388.4 246.26L388.9 246.11L389.4 246.77L389.9 248.02L390.4 249.41L390.9 249.88L391.4 249.34L391.9 248.48L392.4 247.64L392.9 246.99L393.4 246.64L393.9 247.2L394.4 248.1L394.9 248.35L395.4 247.83L395.9 246.9L396.4 245.74L396.9 245L397.4 245.05L397.9 245.38L398.4 245.95L398.9 246.02L399.4 245.43L399.9 245.36L400.4 246.14L400.9 247.05L401.4 248.07L401.9 249.06L402.4 249.4L402.9 248.6L403.4 247.66L403.9 247.97L404.4 248.4L404.9 247.77L405.4 247.71L405.9 248.34L406.4 248.16L406.9 247.51L407.4 247.31L407.9 247.48L408.4 247.77L408.9 247.69L409.4 247.34L409.9 246.65L410.4 246.06L410.9 246.59L411.4 247.35L411.9 247.36L412.4 247.25L412.9 247.86L413.4 248.6L413.9 248.38L414.4 247.95L414.9 248.03L415.4 247.6L415.9 246.53L416.4 246.06L416.9 246.46L417.4 246.91L417.9 247.72L418.4 248.34L418.9 247.73L419.4 246.62L419.9 246.67L420.4 247.76L420.9 248.31L421.4 248.09L421.9 248.42L422.4 249.38L422.9 249.44L423.4 248.41L423.9 247.58L424.4 247.16L424.9 246.86L425.4 247.27L425.9 248.08L426.4 248.4L426.9 247.72L427.4 247.33L427.9 247.91L428.4 247.27L428.9 245.69L429.4 245.53L429.9 246.31L430.4 246.66L430.9 246.65L431.4 246.2L431.9 246.63L432.4 248.31L432.9 249.06L433.4 248.78L433.9 248.71L434.4 248.43L434.9 247.96L435.4 247.9L435.9 248.59L436.4 249.57L436.9 250.3L437.4 250.59L437.9 250.05L438.4 248.81L438.9 248.02L439.4 248.1L439.9 247.85L440.4 246.83L440.9 245.88L441.4 245.4L441.9 245.36L442.4 246.13L442.9 247.46L443.4 248.23L443.9 247.9" fill="none" stroke="#80D2A4" stroke-width="1.15" stroke-linejoin="round"/>
<path d="M263.9 272.39L264.4 272.32L264.9 272.32L265.4 271.94L265.9 271.73L266.4 272.3L266.9 272.87L267.4 273.44L267.9 273.63L268.4 272.68L268.9 271.62L269.4 271.6L269.9 271.85L270.4 271.68L270.9 271.83L271.4 271.87L271.9 271.66L272.4 271.91L272.9 272.03L273.4 271.65L273.9 271.57L274.4 271.5L274.9 271.1L275.4 271.36L275.9 272.01L276.4 271.78L276.9 271.4L277.4 272.07L277.9 272.54L278.4 272.18L278.9 272.35L279.4 272.6L279.9 272.38L280.4 272.22L280.9 272.51L281.4 273.27L281.9 273.16L282.4 272.08L282.9 271.54L283.4 271.52L283.9 271.48L284.4 271.42L284.9 271.41L285.4 271.63L285.9 271.75L286.4 271.94L286.9 272.29L287.4 272.21L287.9 271.94L288.4 272.29L288.9 272.61L289.4 272.6L289.9 272.35L290.4 271.61L290.9 271.25L291.4 271.47L291.9 271.9L292.4 272.52L292.9 272.82L293.4 272.4L293.9 271.39L294.4 271.16L294.9 271.6L295.4 271.66L295.9 271.64L296.4 271.58L296.9 271.91L297.4 272.13L297.9 271.43L298.4 270.76L298.9 271.18L299.4 272.01L299.9 272.27L300.4 272.14L300.9 271.88L301.4 271.52L301.9 271.05L302.4 270.9L302.9 271.14L303.4 270.78L303.9 270.32L304.4 271.14L304.9 272.39L305.4 272.39L305.9 271.45L306.4 271.33L306.9 271.8L307.4 271.74L307.9 271.34L308.4 271.18L308.9 271.03L309.4 270.87L309.9 270.89L310.4 271.03L310.9 271.12L311.4 271.31L311.9 271.75L312.4 272.4L312.9 272.47L313.4 271.53L313.9 270.62L314.4 270.25L314.9 269.87L315.4 269.72L315.9 270.22L316.4 270.92L316.9 271.45L317.4 271.72L317.9 271.9L318.4 271.62L318.9 270.88L319.4 270.39L319.9 270.34L320.4 270.67L320.9 270.94L321.4 270.63L321.9 270.32L322.4 270.69L322.9 271.22L323.4 270.97L323.9 270.41L324.4 270.2L324.9 270.17L325.4 269.79L325.9 269.04L326.4 268.46L326.9 268.92L327.4 270.09L327.9 270.43L328.4 270.09L328.9 270.6L329.4 271.85L329.9 272.22L330.4 270.93L330.9 269.81L331.4 270.07L331.9 271.06L332.4 271.58L332.9 271.79L333.4 272.4L333.9 272.41L334.4 271.5L334.9 270.81L335.4 270.31L335.9 269.87L336.4 269.72L336.9 269.57L337.4 269.57L337.9 270.1L338.4 270.37L338.9 269.87L339.4 269.49L339.9 269.72L340.4 270.3L340.9 270.75L341.4 270.73L341.9 270.04L342.4 269.64L342.9 270.13L343.4 270.77L343.9 271.01L344.4 269.96L344.9 268.25L345.4 267.97L345.9 268.69L346.4 268.62L346.9 268.45L347.4 269.52L347.9 270.79L348.4 270.79L348.9 270.3L349.4 270.55L349.9 271.01L350.4 271.21L350.9 271.33L351.4 271.49L351.9 272.12L352.4 272.2L352.9 271.42L353.4 270.61L353.9 270.05L354.4 270.11L354.9 270.97L355.4 271.57L355.9 271.32L356.4 270.66L356.9 269.87L357.4 269.11L357.9 268.69L358.4 268.83L358.9 269.35L359.4 269.74L359.9 270.09L360.4 270.58L360.9 271.51L361.4 272.24L361.9 272.15L362.4 271.31L362.9 270.17L363.4 269.47L363.9 269.57L364.4 270.35L364.9 270.8L365.4 270.8L365.9 270.78L366.4 269.93L366.9 269.34L367.4 269.9L367.9 270.26L368.4 269.78L368.9 269.7L369.4 270.09L369.9 270.07L370.4 270.12L370.9 269.97L371.4 269.52L371.9 269.04L372.4 268.53L372.9 268.52L373.4 268.79L373.9 268.84L374.4 269.54L374.9 271.01L375.4 271.83L375.9 271.55L376.4 270.73L376.9 269.85L377.4 269.03L377.9 267.97L378.4 267.56L378.9 268.6L379.4 269.72L379.9 269.85L380.4 269.56L380.9 269.48L381.4 268.95L381.9 268.54L382.4 269.11L382.9 269.81L383.4 269.84L383.9 269.48L384.4 269.31L384.9 269.68L385.4 269.77L385.9 269.26L386.4 268.81L386.9 268.49L387.4 268.37L387.9 268.44L388.4 268.82L388.9 268.84L389.4 268.61L389.9 268.62L390.4 268.58L390.9 268.58L391.4 268.74L391.9 269.1L392.4 269.61L392.9 270.15L393.4 270.06L393.9 269.06L394.4 267.66L394.9 267.17L395.4 268.28L395.9 269.48L396.4 269.78L396.9 270.14L397.4 270.07L397.9 269.4L398.4 269.35L398.9 269.61L399.4 269.16L399.9 268.58L400.4 268.5L400.9 268.86L401.4 269.44L401.9 269.96L402.4 270.13L402.9 270.18L403.4 270.43L403.9 270.56L404.4 269.72L404.9 268.52L405.4 267.56L405.9 267.12L406.4 267.53L406.9 268.12L407.4 268.34L407.9 268.14L408.4 267.37L408.9 267.31L409.4 268.2L409.9 268.64L410.4 268.84L410.9 269.65L411.4 270.01L411.9 269.27L412.4 268.71L412.9 268.93L413.4 268.89L413.9 268.74L414.4 268.79L414.9 268.99L415.4 269.28L415.9 269.36L416.4 269.76L416.9 270.32L417.4 270.49L417.9 270.08L418.4 269.38L418.9 268.63L419.4 268.21L419.9 268.33L420.4 268.68L420.9 268.99L421.4 269.16L421.9 268.5L422.4 267.74L422.9 268.06L423.4 268.72L423.9 268.68L424.4 268.22L424.9 267.97L425.4 268.57L425.9 269.28L426.4 269.35L426.9 268.67L427.4 267.41L427.9 266.64L428.4 267.23L428.9 268.5L429.4 269.15L429.9 269.02L430.4 268.61L430.9 268.18L431.4 267.74L431.9 267.64L432.4 267.64L432.9 268.06L433.4 268.84L433.9 269.04L434.4 268.69L434.9 268.81L435.4 269.4L435.9 269.26L436.4 268.56L436.9 268.37L437.4 268.68L437.9 269.09L438.4 269.14L438.9 268.84L439.4 268.47L439.9 268.48L440.4 268.66L440.9 267.91L441.4 266.9L441.9 267.11L442.4 267.57L442.9 267.32L443.4 267.05L443.9 267.25" fill="none" stroke="#70A8BC" stroke-width="1.15" stroke-linejoin="round"/>
<path d="M263.9 302.74L264.4 303.29L264.9 304.39L265.4 304.46L265.9 303.78L266.4 303.25L266.9 303.15L267.4 303.21L267.9 303.05L268.4 302.98L268.9 303.3L269.4 303.31L269.9 302.72L270.4 302.01L270.9 301.66L271.4 301.91L271.9 302.51L272.4 302.95L272.9 303.05L273.4 302.94L273.9 303.04L274.4 303L274.9 303.05L275.4 303.48L275.9 303.79L276.4 304.04L276.9 304.07L277.4 303.54L277.9 303.04L278.4 303.18L278.9 303.31L279.4 303.06L279.9 302.89L280.4 302.59L280.9 302.12L281.4 301.76L281.9 301.73L282.4 302.05L282.9 301.94L283.4 301.48L283.9 301.8L284.4 302.44L284.9 302.76L285.4 302.84L285.9 302.88L286.4 303.3L286.9 303.56L287.4 303.25L287.9 303.19L288.4 303.52L288.9 303.28L289.4 302.62L289.9 302L290.4 301.89L290.9 302.02L291.4 302.2L291.9 302.96L292.4 303.2L292.9 302.45L293.4 302.38L293.9 302.86L294.4 303.03L294.9 302.94L295.4 302.05L295.9 300.6L296.4 300.26L296.9 301.47L297.4 302.51L297.9 302.67L298.4 302.5L298.9 302.19L299.4 302.32L299.9 302.42L300.4 302.2L300.9 301.93L301.4 301.78L301.9 301.77L302.4 301.94L302.9 302.18L303.4 302.11L303.9 301.9L304.4 301.46L304.9 301.55L305.4 302.4L305.9 303.02L306.4 303.38L306.9 303.48L307.4 303.17L307.9 303.27L308.4 303.6L308.9 303.29L309.4 302.08L309.9 300.38L310.4 297.02L310.9 291.6L311.4 288.05L311.9 290.2L312.4 295.9L312.9 301.59L313.4 306.97L313.9 311.81L314.4 313.41L314.9 310.32L315.4 306.09L315.9 303.58L316.4 302.28L316.9 301.59L317.4 301.37L317.9 301.5L318.4 302.09L318.9 302.71L319.4 303.05L319.9 303.51L320.4 303.85L320.9 303.57L321.4 302.45L321.9 301.38L322.4 300.79L322.9 300.95L323.4 302.03L323.9 302.74L324.4 302.76L324.9 302.77L325.4 302.64L325.9 302.32L326.4 302.51L326.9 303.07L327.4 303.62L327.9 303.72L328.4 303.02L328.9 302.34L329.4 302.27L329.9 302.17L330.4 301.82L330.9 301.5L331.4 301.63L331.9 301.96L332.4 302.41L332.9 303.19L333.4 303.49L333.9 302.65L334.4 301.87L334.9 302.19L335.4 302.89L335.9 303.15L336.4 303.21L336.9 303.11L337.4 302.55L337.9 300.42L338.4 294.5L338.9 284.49L339.4 277.44L339.9 280.38L340.4 291.03L340.9 303.9L341.4 315.84L341.9 324L342.4 324.19L342.9 316.84L343.4 308.51L343.9 303.38L344.4 301.07L344.9 300.23L345.4 300.06L345.9 300.24L346.4 300.31L346.9 300.61L347.4 301.42L347.9 301.87L348.4 301.54L348.9 301.35L349.4 302.27L349.9 302.68L350.4 301.51L350.9 300.22L351.4 300.33L351.9 301.45L352.4 302.03L352.9 301.84L353.4 301.09L353.9 300.43L354.4 300.59L354.9 300.96L355.4 301.12L355.9 301.31L356.4 301.43L356.9 301.24L357.4 300.91L357.9 301.37L358.4 302.21L358.9 302.95L359.4 303.24L359.9 302.83L360.4 302.19L360.9 302.01L361.4 302.32L361.9 302.36L362.4 302.16L362.9 301.96L363.4 301.93L363.9 302.53L364.4 303.25L364.9 302.68L365.4 301.36L365.9 299.29L366.4 294.07L366.9 285.37L367.4 279.46L367.9 282.67L368.4 292.8L368.9 303.95L369.4 314.78L369.9 323.8L370.4 325.15L370.9 317.84L371.4 309.22L371.9 304.75L372.4 303.16L372.9 302.1L373.4 301.24L373.9 300.83L374.4 300.56L374.9 300.64L375.4 300.85L375.9 300.78L376.4 301.01L376.9 301.77L377.4 302.34L377.9 302.39L378.4 301.66L378.9 301.39L379.4 302.45L379.9 303.32L380.4 302.92L380.9 301.41L381.4 300.31L381.9 300.3L382.4 300.26L382.9 300.01L383.4 300.01L383.9 300.52L384.4 300.92L384.9 300.37L385.4 300.35L385.9 301.19L386.4 301.1L386.9 300.97L387.4 301.45L387.9 301.31L388.4 301.11L388.9 301.83L389.4 302.21L389.9 301.38L390.4 300.35L390.9 300L391.4 300.19L391.9 301.09L392.4 301.97L392.9 302L393.4 301.6L393.9 300.59L394.4 296.94L394.9 290.94L395.4 287.19L395.9 289.57L396.4 295.62L396.9 301.3L397.4 306.63L397.9 311.31L398.4 312.11L398.9 308.87L399.4 304.87L399.9 302.22L400.4 300.93L400.9 300.37L401.4 299.77L401.9 299.39L402.4 300.25L402.9 301.3L403.4 301.16L403.9 300.72L404.4 301.01L404.9 301.51L405.4 301.7L405.9 301.25L406.4 300.84L406.9 300.99L407.4 301.3L407.9 301.49L408.4 301.63L408.9 301.68L409.4 301L409.9 300.23L410.4 300.31L410.9 301.06L411.4 301.81L411.9 301.98L412.4 301.96L412.9 302.16L413.4 302.28L413.9 302.15L414.4 301.89L414.9 301.27L415.4 300.11L415.9 299.93L416.4 301.07L416.9 302.28L417.4 302.66L417.9 302.22L418.4 301.81L418.9 301.71L419.4 301.47L419.9 300.83L420.4 300.16L420.9 300.07L421.4 300.17L421.9 300.27L422.4 300.94L422.9 301.4L423.4 300.78L423.9 299.83L424.4 299.51L424.9 300.1L425.4 301.08L425.9 301.65L426.4 301.67L426.9 301.65L427.4 301.49L427.9 301.09L428.4 301.27L428.9 302.08L429.4 302.5L429.9 302.14L430.4 301.31L430.9 300.86L431.4 300.74L431.9 300.28L432.4 299.72L432.9 299.49L433.4 299.48L433.9 299.48L434.4 299.73L434.9 300.52L435.4 300.58L435.9 299.86L436.4 299.84L436.9 300.08L437.4 300.13L437.9 300.54L438.4 300.92L438.9 301.06L439.4 301.18L439.9 300.71L440.4 300.07L440.9 300.55L441.4 301.85L441.9 302.46L442.4 302.22L442.9 301.71L443.4 301.38L443.9 301.64" fill="none" stroke="#D987C2" stroke-width="1.15" stroke-linejoin="round"/>
<path d="M263.9 333.49L264.4 334.45L264.9 335.31L265.4 335.52L265.9 335.08L266.4 333.82L266.9 332.9L267.4 333.26L267.9 333.89L268.4 333.63L268.9 332.74L269.4 332.87L269.9 334.11L270.4 334.39L270.9 333.72L271.4 333.02L271.9 333.08L272.4 333.81L272.9 333.83L273.4 332.92L273.9 332.25L274.4 331.95L274.9 331.79L275.4 331.95L275.9 332.19L276.4 332.72L276.9 333.34L277.4 333.07L277.9 333.35L278.4 334.03L278.9 333.81L279.4 333.75L279.9 334.34L280.4 334.45L280.9 333.97L281.4 333.77L281.9 333.96L282.4 334.72L282.9 334.91L283.4 334.28L283.9 334.12L284.4 334.69L284.9 334.82L285.4 333.95L285.9 332.84L286.4 332.77L286.9 333.13L287.4 332.58L287.9 331.39L288.4 331.28L288.9 332.17L289.4 332.59L289.9 332.38L290.4 332.04L290.9 331.85L291.4 331.4L291.9 331L292.4 331.2L292.9 331.29L293.4 330.59L293.9 330.29L294.4 331.22L294.9 332.59L295.4 333.49L295.9 333.75L296.4 333.35L296.9 332.66L297.4 332.78L297.9 333.33L298.4 333.09L298.9 332.43L299.4 331.99L299.9 331.74L300.4 331.37L300.9 331.38L301.4 331.79L301.9 332.36L302.4 333.06L302.9 333.49L303.4 333.27L303.9 332.47L304.4 331.78L304.9 331.55L305.4 331.5L305.9 331.91L306.4 332.36L306.9 332.11L307.4 331.78L307.9 331.3L308.4 331.44L308.9 332.28L309.4 332.14L309.9 332.19L310.4 332.92L310.9 332.82L311.4 332.67L311.9 332.46L312.4 331.49L312.9 331.21L313.4 331.84L313.9 331.7L314.4 330.57L314.9 329.78L315.4 330.37L315.9 332.04L316.4 333.36L316.9 333.5L317.4 332.72L317.9 331.37L318.4 330.32L318.9 330.65L319.4 331.66L319.9 332.33L320.4 332.19L320.9 331.96L321.4 332.13L321.9 332.59L322.4 333.45L322.9 334.23L323.4 333.9L323.9 332.75L324.4 332.38L324.9 332.98L325.4 332.89L325.9 331.87L326.4 331L326.9 331.18L327.4 332.24L327.9 332.67L328.4 332.35L328.9 332.53L329.4 333L329.9 332.51L330.4 331.57L330.9 331.44L331.4 331.96L331.9 331.55L332.4 330.1L332.9 329.72L333.4 331.07L333.9 332.34L334.4 332.53L334.9 331.65L335.4 330.9L335.9 331.3L336.4 331.95L336.9 332.28L337.4 331.74L337.9 330.62L338.4 329.98L338.9 330.31L339.4 331.03L339.9 331.6L340.4 331.91L340.9 331.61L341.4 330.96L341.9 330.23L342.4 329.79L342.9 329.79L343.4 330.49L343.9 331.73L344.4 332.01L344.9 331.22L345.4 331.16L345.9 331.87L346.4 332.03L346.9 331.53L347.4 331.4L347.9 332L348.4 331.95L348.9 331.26L349.4 330.7L349.9 330.49L350.4 330.48L350.9 330.67L351.4 331.07L351.9 331.09L352.4 330.67L352.9 330.81L353.4 331.65L353.9 332.67L354.4 332.85L354.9 331.71L355.4 330.85L355.9 330.49L356.4 330.3L356.9 330.37L357.4 330.72L357.9 331.22L358.4 331.8L358.9 332.81L359.4 333.45L359.9 332.64L360.4 331.4L360.9 330.29L361.4 329.75L361.9 331.03L362.4 332.03L362.9 331.48L363.4 330.65L363.9 329.98L364.4 329.85L364.9 330.4L365.4 330.66L365.9 330.62L366.4 330.6L366.9 330.52L367.4 330.97L367.9 331.35L368.4 331.22L368.9 330.79L369.4 329.78L369.9 328.36L370.4 328.07L370.9 329.56L371.4 330.95L371.9 331.06L372.4 330.8L372.9 330.73L373.4 330.67L373.9 330.45L374.4 329.63L374.9 328.65L375.4 328.51L375.9 328.85L376.4 329.04L376.9 328.66L377.4 328.83L377.9 329.52L378.4 329.74L378.9 329.72L379.4 330.2L379.9 330.82L380.4 330.09L380.9 329.27L381.4 329.38L381.9 329.38L382.4 329.36L382.9 329.55L383.4 329.86L383.9 330.46L384.4 331.06L384.9 330.66L385.4 329.83L385.9 329.58L386.4 329.3L386.9 328.83L387.4 328.38L387.9 328.37L388.4 328.78L388.9 329.08L389.4 329.53L389.9 329.59L390.4 328.9L390.9 328.65L391.4 328.75L391.9 328.55L392.4 328.06L392.9 327.42L393.4 327.5L393.9 328.93L394.4 329.93L394.9 329.5L395.4 329.11L395.9 328.86L396.4 328.55L396.9 328.83L397.4 329.3L397.9 329.28L398.4 329.21L398.9 329.09L399.4 328.39L399.9 327.79L400.4 327.89L400.9 328.44L401.4 329.46L401.9 329.94L402.4 329L402.9 328.59L403.4 329.34L403.9 329.5L404.4 328.71L404.9 328.11L405.4 328.28L405.9 328.85L406.4 328.92L406.9 328.5L407.4 328.18L407.9 328.33L408.4 328.56L408.9 328.51L409.4 327.75L409.9 326.85L410.4 327.56L410.9 329.13L411.4 329.58L411.9 329.31L412.4 328.95L412.9 328.8L413.4 328.81L413.9 328.65L414.4 328.61L414.9 328.51L415.4 328.29L415.9 328.05L416.4 327.01L416.9 326.03L417.4 326.51L417.9 328.1L418.4 329.08L418.9 328.57L419.4 327.85L419.9 327.95L420.4 328.72L420.9 329.28L421.4 329.13L421.9 328.24L422.4 327.34L422.9 327.14L423.4 327.21L423.9 327.24L424.4 327.12L424.9 327.2L425.4 327.58L425.9 327.89L426.4 328.13L426.9 327.96L427.4 327.89L427.9 329.08L428.4 330.16L428.9 329.54L429.4 328.69L429.9 328.94L430.4 328.96L430.9 327.94L431.4 326.84L431.9 326.51L432.4 326.72L432.9 326.88L433.4 327.21L433.9 327.91L434.4 328.24L434.9 327.67L435.4 326.93L435.9 326.37L436.4 325.69L436.9 325.66L437.4 326.49L437.9 327.09L438.4 326.91L438.9 326.42L439.4 326.13L439.9 325.85L440.4 325.72L440.9 325.85L441.4 326.43L441.9 326.84L442.4 327.08L442.9 327.79L443.4 328.43L443.9 328.36" fill="none" stroke="#EFAE66" stroke-width="1.15" stroke-linejoin="round"/>
<text x="416" y="215.8" font-size="6.6" font-weight="bold" text-anchor="start" fill="#111" textLength="15" lengthAdjust="spacingAndGlyphs" stroke="#111" stroke-width="0.2" >TiO<tspan font-size="4.49" baseline-shift="-1.65">2</tspan></text>
<text x="416.7" y="242.3" font-size="6.6" font-weight="bold" text-anchor="start" fill="#111" textLength="14.7" lengthAdjust="spacingAndGlyphs" stroke="#111" stroke-width="0.2" >C<tspan font-size="4.49" baseline-shift="-1.65">3</tspan>N<tspan font-size="4.49" baseline-shift="-1.65">4</tspan></text>
<text x="417.6" y="262.7" font-size="6.6" font-weight="bold" text-anchor="start" fill="#111" textLength="12.7" lengthAdjust="spacingAndGlyphs" stroke="#111" stroke-width="0.2" >C<tspan font-size="4.49" baseline-shift="-1.65">2</tspan>N</text>
<text x="406.9" y="294.8" font-size="6.6" font-weight="bold" text-anchor="start" fill="#111" textLength="31.1" lengthAdjust="spacingAndGlyphs" stroke="#111" stroke-width="0.2" >TiO<tspan font-size="4.49" baseline-shift="-1.65">2</tspan>/C<tspan font-size="4.49" baseline-shift="-1.65">3</tspan>N<tspan font-size="4.49" baseline-shift="-1.65">4</tspan></text>
<text x="409" y="322.2" font-size="6.6" font-weight="bold" text-anchor="start" fill="#111" textLength="27.9" lengthAdjust="spacingAndGlyphs" stroke="#111" stroke-width="0.2" >TiO<tspan font-size="4.49" baseline-shift="-1.65">2</tspan>/C<tspan font-size="4.49" baseline-shift="-1.65">2</tspan>N</text>
<rect x="495.2" y="198.4" width="179.8" height="144.9" fill="none" stroke="#111" stroke-width="1.3" />
<line x1="495.2" y1="343.3" x2="495.2" y2="346" stroke="#111" stroke-width="1.1" />
<line x1="508" y1="343.3" x2="508" y2="345" stroke="#111" stroke-width="0.9" />
<text x="495.2" y="356.1" font-size="9.8" font-weight="bold" text-anchor="middle" fill="#111" stroke="#111" stroke-width="0.15" >468</text>
<line x1="520.8" y1="343.3" x2="520.8" y2="346" stroke="#111" stroke-width="1.1" />
<line x1="533.6" y1="343.3" x2="533.6" y2="345" stroke="#111" stroke-width="0.9" />
<text x="520.8" y="356.1" font-size="9.8" font-weight="bold" text-anchor="middle" fill="#111" stroke="#111" stroke-width="0.15" >466</text>
<line x1="546.4" y1="343.3" x2="546.4" y2="346" stroke="#111" stroke-width="1.1" />
<line x1="559.2" y1="343.3" x2="559.2" y2="345" stroke="#111" stroke-width="0.9" />
<text x="546.4" y="356.1" font-size="9.8" font-weight="bold" text-anchor="middle" fill="#111" stroke="#111" stroke-width="0.15" >464</text>
<line x1="572" y1="343.3" x2="572" y2="346" stroke="#111" stroke-width="1.1" />
<line x1="584.8" y1="343.3" x2="584.8" y2="345" stroke="#111" stroke-width="0.9" />
<text x="572" y="356.1" font-size="9.8" font-weight="bold" text-anchor="middle" fill="#111" stroke="#111" stroke-width="0.15" >462</text>
<line x1="597.6" y1="343.3" x2="597.6" y2="346" stroke="#111" stroke-width="1.1" />
<line x1="610.4" y1="343.3" x2="610.4" y2="345" stroke="#111" stroke-width="0.9" />
<text x="597.6" y="356.1" font-size="9.8" font-weight="bold" text-anchor="middle" fill="#111" stroke="#111" stroke-width="0.15" >460</text>
<line x1="623.2" y1="343.3" x2="623.2" y2="346" stroke="#111" stroke-width="1.1" />
<line x1="636" y1="343.3" x2="636" y2="345" stroke="#111" stroke-width="0.9" />
<text x="623.2" y="356.1" font-size="9.8" font-weight="bold" text-anchor="middle" fill="#111" stroke="#111" stroke-width="0.15" >458</text>
<line x1="648.8" y1="343.3" x2="648.8" y2="346" stroke="#111" stroke-width="1.1" />
<line x1="661.6" y1="343.3" x2="661.6" y2="345" stroke="#111" stroke-width="0.9" />
<text x="648.8" y="356.1" font-size="9.8" font-weight="bold" text-anchor="middle" fill="#111" stroke="#111" stroke-width="0.15" >456</text>
<line x1="674.4" y1="343.3" x2="674.4" y2="346" stroke="#111" stroke-width="1.1" />
<text x="674.4" y="356.1" font-size="9.8" font-weight="bold" text-anchor="middle" fill="#111" stroke="#111" stroke-width="0.15" >454</text>
<text x="585.1" y="368.8" font-size="12.2" font-weight="bold" text-anchor="middle" fill="#111" textLength="115.8" lengthAdjust="spacingAndGlyphs" stroke="#111" stroke-width="0.2" >Binding Energy (eV)</text>
<text x="489.9" y="270.6" font-size="11.8" font-weight="bold" text-anchor="middle" fill="#111" textLength="98.3" lengthAdjust="spacingAndGlyphs" transform="rotate(-90 489.9 270.6)" stroke="#111" stroke-width="0.2" >Intensity (arb. u.)</text>
<text x="479.6" y="211.2" font-size="15.5" font-weight="bold" text-anchor="start" fill="#111" >f</text>
<text x="647.6" y="213" font-size="10.2" font-weight="bold" text-anchor="start" fill="#111" textLength="22.8" lengthAdjust="spacingAndGlyphs" >Ti 2<tspan font-style="italic">p</tspan></text>
<path d="M495.2 232.77L495.7 232.77L496.2 232.76L496.7 232.76L497.2 232.76L497.7 232.76L498.2 232.76L498.7 232.75L499.2 232.75L499.7 232.74L500.2 232.74L500.7 232.73L501.2 232.73L501.7 232.72L502.2 232.71L502.7 232.7L503.2 232.69L503.7 232.68L504.2 232.67L504.7 232.65L505.2 232.64L505.7 232.62L506.2 232.6L506.7 232.57L507.2 232.55L507.7 232.52L508.2 232.48L508.7 232.45L509.2 232.41L509.7 232.36L510.2 232.31L510.7 232.26L511.2 232.2L511.7 232.14L512.2 232.07L512.7 232L513.2 231.92L513.7 231.83L514.2 231.74L514.7 231.64L515.2 231.53L515.7 231.42L516.2 231.3L516.7 231.17L517.2 231.03L517.7 230.89L518.2 230.74L518.7 230.58L519.2 230.42L519.7 230.25L520.2 230.07L520.7 229.89L521.2 229.7L521.7 229.5L522.2 229.3L522.7 229.1L523.2 228.89L523.7 228.68L524.2 228.47L524.7 228.26L525.2 228.05L525.7 227.84L526.2 227.63L526.7 227.42L527.2 227.22L527.7 227.02L528.2 226.83L528.7 226.65L529.2 226.47L529.7 226.31L530.2 226.15L530.7 226.01L531.2 225.88L531.7 225.76L532.2 225.65L532.7 225.56L533.2 225.48L533.7 225.42L534.2 225.38L534.7 225.35L535.2 225.34L535.7 225.34L536.2 225.36L536.7 225.4L537.2 225.45L537.7 225.52L538.2 225.6L538.7 225.7L539.2 225.81L539.7 225.94L540.2 226.08L540.7 226.23L541.2 226.39L541.7 226.55L542.2 226.73L542.7 226.92L543.2 227.11L543.7 227.31L544.2 227.51L544.7 227.72L545.2 227.93L545.7 228.14L546.2 228.35L546.7 228.56L547.2 228.77L547.7 228.97L548.2 229.17L548.7 229.37L549.2 229.57L549.7 229.76L550.2 229.94L550.7 230.12L551.2 230.29L551.7 230.46L552.2 230.61L552.7 230.76L553.2 230.91L553.7 231.04L554.2 231.17L554.7 231.29L555.2 231.41L555.7 231.51L556.2 231.61L556.7 231.71L557.2 231.79L557.7 231.87L558.2 231.95L558.7 232.01L559.2 232.08L559.7 232.13L560.2 232.18L560.7 232.23L561.2 232.27L561.7 232.31L562.2 232.35L562.7 232.38L563.2 232.4L563.7 232.43L564.2 232.45L564.7 232.47L565.2 232.48L565.7 232.49L566.2 232.51L566.7 232.52L567.2 232.52L567.7 232.53L568.2 232.53L568.7 232.54L569.2 232.54L569.7 232.54L570.2 232.54L570.7 232.54L571.2 232.54L571.7 232.53L572.2 232.53L572.7 232.53L573.2 232.52L573.7 232.51L574.2 232.51L574.7 232.5L575.2 232.49L575.7 232.49L576.2 232.48L576.7 232.47L577.2 232.46L577.7 232.45L578.2 232.44L578.7 232.43L579.2 232.42L579.7 232.4L580.2 232.39L580.7 232.38L581.2 232.36L581.7 232.35L582.2 232.33L582.7 232.31L583.2 232.3L583.7 232.28L584.2 232.26L584.7 232.23L585.2 232.21L585.7 232.19L586.2 232.16L586.7 232.13L587.2 232.11L587.7 232.07L588.2 232.04L588.7 232.01L589.2 231.97L589.7 231.93L590.2 231.88L590.7 231.84L591.2 231.79L591.7 231.73L592.2 231.67L592.7 231.6L593.2 231.52L593.7 231.44L594.2 231.34L594.7 231.22L595.2 231.09L595.7 230.94L596.2 230.75L596.7 230.53L597.2 230.27L597.7 229.96L598.2 229.59L598.7 229.15L599.2 228.62L599.7 228L600.2 227.27L600.7 226.44L601.2 225.47L601.7 224.38L602.2 223.17L602.7 221.82L603.2 220.36L603.7 218.8L604.2 217.16L604.7 215.47L605.2 213.77L605.7 212.11L606.2 210.54L606.7 209.12L607.2 207.91L607.7 206.98L608.2 206.39L608.7 206.18L609.2 206.36L609.7 206.93L610.2 207.86L610.7 209.1L611.2 210.59L611.7 212.26L612.2 214.06L612.7 215.91L613.2 217.76L613.7 219.58L614.2 221.32L614.7 222.96L615.2 224.49L615.7 225.87L616.2 227.13L616.7 228.24L617.2 229.22L617.7 230.07L618.2 230.8L618.7 231.42L619.2 231.95L619.7 232.4L620.2 232.77L620.7 233.08L621.2 233.34L621.7 233.56L622.2 233.74L622.7 233.9L623.2 234.03L623.7 234.14L624.2 234.24L624.7 234.33L625.2 234.4L625.7 234.47L626.2 234.53L626.7 234.59L627.2 234.64L627.7 234.69L628.2 234.73L628.7 234.77L629.2 234.81L629.7 234.85L630.2 234.88L630.7 234.91L631.2 234.94L631.7 234.97L632.2 234.99L632.7 235.02L633.2 235.04L633.7 235.06L634.2 235.08L634.7 235.1L635.2 235.12L635.7 235.13L636.2 235.15L636.7 235.17L637.2 235.18L637.7 235.19L638.2 235.21L638.7 235.22L639.2 235.23L639.7 235.24L640.2 235.25L640.7 235.27L641.2 235.28L641.7 235.28L642.2 235.29L642.7 235.3L643.2 235.31L643.7 235.32L644.2 235.33L644.7 235.33L645.2 235.34L645.7 235.35L646.2 235.35L646.7 235.36L647.2 235.37L647.7 235.37L648.2 235.38L648.7 235.38L649.2 235.39L649.7 235.39L650.2 235.4L650.7 235.4L651.2 235.41L651.7 235.41L652.2 235.42L652.7 235.42L653.2 235.43L653.7 235.43L654.2 235.43L654.7 235.44L655.2 235.44L655.7 235.44L656.2 235.45L656.7 235.45L657.2 235.45L657.7 235.46L658.2 235.46L658.7 235.46L659.2 235.46L659.7 235.47L660.2 235.47L660.7 235.47L661.2 235.47L661.7 235.48L662.2 235.48L662.7 235.48L663.2 235.48L663.7 235.49L664.2 235.49L664.7 235.49L665.2 235.49L665.7 235.49L666.2 235.49L666.7 235.5L667.2 235.5L667.7 235.5L668.2 235.5L668.7 235.5L669.2 235.5L669.7 235.51L670.2 235.51L670.7 235.51L671.2 235.51L671.7 235.51L672.2 235.51L672.7 235.51L673.2 235.52L673.7 235.52L674.2 235.52L674.7 235.52L675.2 235.52" fill="none" stroke="#EE6A3E" stroke-width="1.1" stroke-linejoin="round"/>
<path d="M495.2 266.25L495.7 266.25L496.2 266.25L496.7 266.24L497.2 266.24L497.7 266.23L498.2 266.22L498.7 266.22L499.2 266.21L499.7 266.2L500.2 266.19L500.7 266.17L501.2 266.16L501.7 266.14L502.2 266.12L502.7 266.1L503.2 266.08L503.7 266.06L504.2 266.03L504.7 266L505.2 265.96L505.7 265.92L506.2 265.88L506.7 265.84L507.2 265.79L507.7 265.73L508.2 265.67L508.7 265.61L509.2 265.54L509.7 265.47L510.2 265.38L510.7 265.3L511.2 265.21L511.7 265.11L512.2 265L512.7 264.89L513.2 264.77L513.7 264.65L514.2 264.51L514.7 264.38L515.2 264.23L515.7 264.08L516.2 263.93L516.7 263.76L517.2 263.6L517.7 263.43L518.2 263.25L518.7 263.07L519.2 262.89L519.7 262.7L520.2 262.51L520.7 262.32L521.2 262.13L521.7 261.95L522.2 261.76L522.7 261.57L523.2 261.39L523.7 261.21L524.2 261.04L524.7 260.87L525.2 260.72L525.7 260.56L526.2 260.42L526.7 260.29L527.2 260.17L527.7 260.06L528.2 259.96L528.7 259.87L529.2 259.8L529.7 259.74L530.2 259.69L530.7 259.66L531.2 259.64L531.7 259.64L532.2 259.65L532.7 259.68L533.2 259.72L533.7 259.78L534.2 259.84L534.7 259.93L535.2 260.02L535.7 260.13L536.2 260.25L536.7 260.38L537.2 260.52L537.7 260.66L538.2 260.82L538.7 260.98L539.2 261.15L539.7 261.33L540.2 261.51L540.7 261.69L541.2 261.87L541.7 262.06L542.2 262.25L542.7 262.44L543.2 262.62L543.7 262.81L544.2 262.99L544.7 263.17L545.2 263.34L545.7 263.51L546.2 263.68L546.7 263.84L547.2 263.99L547.7 264.14L548.2 264.29L548.7 264.42L549.2 264.55L549.7 264.68L550.2 264.8L550.7 264.91L551.2 265.01L551.7 265.11L552.2 265.2L552.7 265.28L553.2 265.36L553.7 265.44L554.2 265.5L554.7 265.57L555.2 265.62L555.7 265.68L556.2 265.72L556.7 265.77L557.2 265.81L557.7 265.84L558.2 265.87L558.7 265.9L559.2 265.93L559.7 265.95L560.2 265.97L560.7 265.98L561.2 266L561.7 266.01L562.2 266.02L562.7 266.03L563.2 266.04L563.7 266.04L564.2 266.05L564.7 266.05L565.2 266.05L565.7 266.05L566.2 266.05L566.7 266.05L567.2 266.05L567.7 266.05L568.2 266.04L568.7 266.04L569.2 266.04L569.7 266.03L570.2 266.02L570.7 266.02L571.2 266.01L571.7 266L572.2 266L572.7 265.99L573.2 265.98L573.7 265.97L574.2 265.96L574.7 265.95L575.2 265.94L575.7 265.93L576.2 265.91L576.7 265.9L577.2 265.89L577.7 265.87L578.2 265.86L578.7 265.84L579.2 265.82L579.7 265.81L580.2 265.79L580.7 265.77L581.2 265.75L581.7 265.72L582.2 265.7L582.7 265.67L583.2 265.65L583.7 265.62L584.2 265.59L584.7 265.55L585.2 265.52L585.7 265.48L586.2 265.44L586.7 265.39L587.2 265.35L587.7 265.29L588.2 265.24L588.7 265.17L589.2 265.1L589.7 265.02L590.2 264.93L590.7 264.83L591.2 264.7L591.7 264.56L592.2 264.39L592.7 264.19L593.2 263.96L593.7 263.67L594.2 263.33L594.7 262.93L595.2 262.44L595.7 261.87L596.2 261.21L596.7 260.44L597.2 259.55L597.7 258.54L598.2 257.42L598.7 256.17L599.2 254.81L599.7 253.35L600.2 251.82L600.7 250.23L601.2 248.63L601.7 247.05L602.2 245.55L602.7 244.18L603.2 243.01L603.7 242.09L604.2 241.48L604.7 241.23L605.2 241.34L605.7 241.83L606.2 242.67L606.7 243.82L607.2 245.21L607.7 246.79L608.2 248.49L608.7 250.26L609.2 252.03L609.7 253.78L610.2 255.46L610.7 257.05L611.2 258.53L611.7 259.88L612.2 261.1L612.7 262.19L613.2 263.14L613.7 263.98L614.2 264.7L614.7 265.31L615.2 265.83L615.7 266.27L616.2 266.64L616.7 266.95L617.2 267.2L617.7 267.42L618.2 267.6L618.7 267.75L619.2 267.88L619.7 267.99L620.2 268.09L620.7 268.17L621.2 268.25L621.7 268.32L622.2 268.38L622.7 268.43L623.2 268.48L623.7 268.53L624.2 268.57L624.7 268.61L625.2 268.64L625.7 268.68L626.2 268.71L626.7 268.74L627.2 268.77L627.7 268.79L628.2 268.82L628.7 268.84L629.2 268.86L629.7 268.88L630.2 268.9L630.7 268.92L631.2 268.94L631.7 268.95L632.2 268.97L632.7 268.99L633.2 269L633.7 269.01L634.2 269.03L634.7 269.04L635.2 269.05L635.7 269.06L636.2 269.07L636.7 269.08L637.2 269.09L637.7 269.1L638.2 269.11L638.7 269.12L639.2 269.12L639.7 269.13L640.2 269.14L640.7 269.15L641.2 269.15L641.7 269.16L642.2 269.17L642.7 269.17L643.2 269.18L643.7 269.18L644.2 269.19L644.7 269.19L645.2 269.2L645.7 269.2L646.2 269.21L646.7 269.21L647.2 269.22L647.7 269.22L648.2 269.23L648.7 269.23L649.2 269.23L649.7 269.24L650.2 269.24L650.7 269.24L651.2 269.25L651.7 269.25L652.2 269.25L652.7 269.26L653.2 269.26L653.7 269.26L654.2 269.26L654.7 269.27L655.2 269.27L655.7 269.27L656.2 269.28L656.7 269.28L657.2 269.28L657.7 269.28L658.2 269.28L658.7 269.29L659.2 269.29L659.7 269.29L660.2 269.29L660.7 269.29L661.2 269.3L661.7 269.3L662.2 269.3L662.7 269.3L663.2 269.3L663.7 269.3L664.2 269.31L664.7 269.31L665.2 269.31L665.7 269.31L666.2 269.31L666.7 269.31L667.2 269.32L667.7 269.32L668.2 269.32L668.7 269.32L669.2 269.32L669.7 269.32L670.2 269.32L670.7 269.32L671.2 269.32L671.7 269.33L672.2 269.33L672.7 269.33L673.2 269.33L673.7 269.33L674.2 269.33L674.7 269.33L675.2 269.33" fill="none" stroke="#80D2A4" stroke-width="1.1" stroke-linejoin="round"/>
<path d="M495.2 302.27L495.7 302.27L496.2 302.27L496.7 302.27L497.2 302.27L497.7 302.27L498.2 302.26L498.7 302.26L499.2 302.26L499.7 302.25L500.2 302.25L500.7 302.24L501.2 302.24L501.7 302.23L502.2 302.22L502.7 302.22L503.2 302.21L503.7 302.2L504.2 302.19L504.7 302.17L505.2 302.16L505.7 302.14L506.2 302.12L506.7 302.1L507.2 302.08L507.7 302.05L508.2 302.02L508.7 301.99L509.2 301.96L509.7 301.92L510.2 301.88L510.7 301.83L511.2 301.78L511.7 301.72L512.2 301.67L512.7 301.6L513.2 301.53L513.7 301.46L514.2 301.38L514.7 301.29L515.2 301.2L515.7 301.1L516.2 301L516.7 300.89L517.2 300.78L517.7 300.65L518.2 300.53L518.7 300.39L519.2 300.25L519.7 300.11L520.2 299.96L520.7 299.81L521.2 299.65L521.7 299.48L522.2 299.32L522.7 299.15L523.2 298.98L523.7 298.8L524.2 298.63L524.7 298.45L525.2 298.28L525.7 298.11L526.2 297.94L526.7 297.77L527.2 297.6L527.7 297.44L528.2 297.29L528.7 297.14L529.2 297L529.7 296.87L530.2 296.75L530.7 296.64L531.2 296.53L531.7 296.44L532.2 296.36L532.7 296.29L533.2 296.24L533.7 296.2L534.2 296.17L534.7 296.15L535.2 296.15L535.7 296.16L536.2 296.19L536.7 296.22L537.2 296.28L537.7 296.34L538.2 296.42L538.7 296.5L539.2 296.6L539.7 296.71L540.2 296.83L540.7 296.96L541.2 297.1L541.7 297.24L542.2 297.39L542.7 297.55L543.2 297.71L543.7 297.88L544.2 298.05L544.7 298.22L545.2 298.39L545.7 298.56L546.2 298.74L546.7 298.91L547.2 299.08L547.7 299.25L548.2 299.41L548.7 299.57L549.2 299.73L549.7 299.89L550.2 300.03L550.7 300.18L551.2 300.32L551.7 300.45L552.2 300.58L552.7 300.7L553.2 300.81L553.7 300.92L554.2 301.02L554.7 301.12L555.2 301.21L555.7 301.29L556.2 301.37L556.7 301.45L557.2 301.51L557.7 301.58L558.2 301.63L558.7 301.69L559.2 301.74L559.7 301.78L560.2 301.82L560.7 301.86L561.2 301.89L561.7 301.92L562.2 301.94L562.7 301.97L563.2 301.99L563.7 302.01L564.2 302.02L564.7 302.04L565.2 302.05L565.7 302.06L566.2 302.07L566.7 302.07L567.2 302.08L567.7 302.08L568.2 302.09L568.7 302.09L569.2 302.09L569.7 302.09L570.2 302.09L570.7 302.09L571.2 302.08L571.7 302.08L572.2 302.08L572.7 302.07L573.2 302.07L573.7 302.07L574.2 302.06L574.7 302.05L575.2 302.05L575.7 302.04L576.2 302.03L576.7 302.03L577.2 302.02L577.7 302.01L578.2 302L578.7 301.99L579.2 301.98L579.7 301.97L580.2 301.96L580.7 301.94L581.2 301.93L581.7 301.92L582.2 301.9L582.7 301.89L583.2 301.87L583.7 301.86L584.2 301.84L584.7 301.82L585.2 301.8L585.7 301.78L586.2 301.75L586.7 301.73L587.2 301.7L587.7 301.67L588.2 301.64L588.7 301.61L589.2 301.58L589.7 301.54L590.2 301.5L590.7 301.45L591.2 301.4L591.7 301.35L592.2 301.28L592.7 301.21L593.2 301.13L593.7 301.04L594.2 300.93L594.7 300.8L595.2 300.64L595.7 300.46L596.2 300.24L596.7 299.98L597.2 299.67L597.7 299.3L598.2 298.86L598.7 298.35L599.2 297.75L599.7 297.06L600.2 296.29L600.7 295.41L601.2 294.44L601.7 293.39L602.2 292.25L602.7 291.06L603.2 289.82L603.7 288.57L604.2 287.34L604.7 286.17L605.2 285.1L605.7 284.19L606.2 283.48L606.7 283.01L607.2 282.83L607.7 282.95L608.2 283.37L608.7 284.08L609.2 285.03L609.7 286.2L610.2 287.52L610.7 288.94L611.2 290.42L611.7 291.9L612.2 293.36L612.7 294.77L613.2 296.11L613.7 297.35L614.2 298.48L614.7 299.51L615.2 300.43L615.7 301.23L616.2 301.94L616.7 302.55L617.2 303.07L617.7 303.51L618.2 303.88L618.7 304.19L619.2 304.45L619.7 304.67L620.2 304.86L620.7 305.01L621.2 305.14L621.7 305.25L622.2 305.34L622.7 305.42L623.2 305.49L623.7 305.56L624.2 305.61L624.7 305.66L625.2 305.71L625.7 305.75L626.2 305.79L626.7 305.82L627.2 305.85L627.7 305.88L628.2 305.91L628.7 305.94L629.2 305.96L629.7 305.98L630.2 306.01L630.7 306.03L631.2 306.04L631.7 306.06L632.2 306.08L632.7 306.09L633.2 306.11L633.7 306.12L634.2 306.14L634.7 306.15L635.2 306.16L635.7 306.17L636.2 306.18L636.7 306.19L637.2 306.2L637.7 306.21L638.2 306.22L638.7 306.23L639.2 306.24L639.7 306.25L640.2 306.26L640.7 306.26L641.2 306.27L641.7 306.28L642.2 306.28L642.7 306.29L643.2 306.29L643.7 306.3L644.2 306.3L644.7 306.31L645.2 306.31L645.7 306.32L646.2 306.32L646.7 306.33L647.2 306.33L647.7 306.34L648.2 306.34L648.7 306.34L649.2 306.35L649.7 306.35L650.2 306.35L650.7 306.36L651.2 306.36L651.7 306.36L652.2 306.37L652.7 306.37L653.2 306.37L653.7 306.38L654.2 306.38L654.7 306.38L655.2 306.38L655.7 306.39L656.2 306.39L656.7 306.39L657.2 306.39L657.7 306.39L658.2 306.4L658.7 306.4L659.2 306.4L659.7 306.4L660.2 306.4L660.7 306.41L661.2 306.41L661.7 306.41L662.2 306.41L662.7 306.41L663.2 306.41L663.7 306.42L664.2 306.42L664.7 306.42L665.2 306.42L665.7 306.42L666.2 306.42L666.7 306.42L667.2 306.43L667.7 306.43L668.2 306.43L668.7 306.43L669.2 306.43L669.7 306.43L670.2 306.43L670.7 306.43L671.2 306.43L671.7 306.44L672.2 306.44L672.7 306.44L673.2 306.44L673.7 306.44L674.2 306.44L674.7 306.44L675.2 306.44" fill="none" stroke="#70A8BC" stroke-width="1.1" stroke-linejoin="round"/>
<path d="M495.2 335.98L495.7 335.98L496.2 335.98L496.7 335.97L497.2 335.97L497.7 335.97L498.2 335.97L498.7 335.97L499.2 335.97L499.7 335.97L500.2 335.96L500.7 335.96L501.2 335.96L501.7 335.96L502.2 335.95L502.7 335.95L503.2 335.94L503.7 335.94L504.2 335.93L504.7 335.93L505.2 335.92L505.7 335.91L506.2 335.9L506.7 335.89L507.2 335.88L507.7 335.86L508.2 335.85L508.7 335.83L509.2 335.81L509.7 335.79L510.2 335.76L510.7 335.73L511.2 335.7L511.7 335.67L512.2 335.64L512.7 335.6L513.2 335.55L513.7 335.5L514.2 335.45L514.7 335.4L515.2 335.33L515.7 335.27L516.2 335.2L516.7 335.12L517.2 335.04L517.7 334.95L518.2 334.86L518.7 334.76L519.2 334.66L519.7 334.55L520.2 334.43L520.7 334.31L521.2 334.18L521.7 334.05L522.2 333.91L522.7 333.76L523.2 333.62L523.7 333.46L524.2 333.31L524.7 333.15L525.2 332.98L525.7 332.82L526.2 332.65L526.7 332.48L527.2 332.31L527.7 332.14L528.2 331.97L528.7 331.81L529.2 331.65L529.7 331.49L530.2 331.33L530.7 331.18L531.2 331.04L531.7 330.9L532.2 330.77L532.7 330.65L533.2 330.54L533.7 330.44L534.2 330.35L534.7 330.27L535.2 330.2L535.7 330.14L536.2 330.1L536.7 330.07L537.2 330.05L537.7 330.05L538.2 330.06L538.7 330.08L539.2 330.11L539.7 330.16L540.2 330.22L540.7 330.29L541.2 330.37L541.7 330.47L542.2 330.57L542.7 330.68L543.2 330.81L543.7 330.94L544.2 331.07L544.7 331.22L545.2 331.37L545.7 331.53L546.2 331.69L546.7 331.85L547.2 332.01L547.7 332.18L548.2 332.35L548.7 332.51L549.2 332.68L549.7 332.85L550.2 333.01L550.7 333.17L551.2 333.33L551.7 333.48L552.2 333.63L552.7 333.78L553.2 333.92L553.7 334.05L554.2 334.18L554.7 334.3L555.2 334.42L555.7 334.53L556.2 334.64L556.7 334.74L557.2 334.83L557.7 334.92L558.2 335L558.7 335.08L559.2 335.15L559.7 335.22L560.2 335.28L560.7 335.34L561.2 335.39L561.7 335.44L562.2 335.48L562.7 335.52L563.2 335.56L563.7 335.59L564.2 335.62L564.7 335.64L565.2 335.67L565.7 335.69L566.2 335.71L566.7 335.72L567.2 335.74L567.7 335.75L568.2 335.76L568.7 335.77L569.2 335.77L569.7 335.78L570.2 335.78L570.7 335.79L571.2 335.79L571.7 335.79L572.2 335.79L572.7 335.79L573.2 335.79L573.7 335.79L574.2 335.78L574.7 335.78L575.2 335.78L575.7 335.77L576.2 335.77L576.7 335.76L577.2 335.76L577.7 335.75L578.2 335.75L578.7 335.74L579.2 335.73L579.7 335.72L580.2 335.72L580.7 335.71L581.2 335.7L581.7 335.69L582.2 335.68L582.7 335.67L583.2 335.66L583.7 335.65L584.2 335.63L584.7 335.62L585.2 335.61L585.7 335.59L586.2 335.58L586.7 335.56L587.2 335.54L587.7 335.53L588.2 335.51L588.7 335.49L589.2 335.46L589.7 335.44L590.2 335.42L590.7 335.39L591.2 335.36L591.7 335.33L592.2 335.3L592.7 335.27L593.2 335.23L593.7 335.19L594.2 335.15L594.7 335.11L595.2 335.05L595.7 335L596.2 334.94L596.7 334.87L597.2 334.79L597.7 334.7L598.2 334.6L598.7 334.48L599.2 334.34L599.7 334.17L600.2 333.97L600.7 333.73L601.2 333.44L601.7 333.1L602.2 332.68L602.7 332.18L603.2 331.6L603.7 330.91L604.2 330.11L604.7 329.2L605.2 328.16L605.7 327.01L606.2 325.74L606.7 324.37L607.2 322.91L607.7 321.39L608.2 319.85L608.7 318.33L609.2 316.88L609.7 315.55L610.2 314.42L610.7 313.54L611.2 312.97L611.7 312.75L612.2 312.91L612.7 313.45L613.2 314.34L613.7 315.53L614.2 316.96L614.7 318.57L615.2 320.29L615.7 322.06L616.2 323.83L616.7 325.55L617.2 327.19L617.7 328.73L618.2 330.14L618.7 331.43L619.2 332.58L619.7 333.59L620.2 334.47L620.7 335.23L621.2 335.88L621.7 336.43L622.2 336.89L622.7 337.27L623.2 337.59L623.7 337.86L624.2 338.08L624.7 338.26L625.2 338.42L625.7 338.55L626.2 338.66L626.7 338.75L627.2 338.84L627.7 338.91L628.2 338.98L628.7 339.03L629.2 339.09L629.7 339.14L630.2 339.18L630.7 339.22L631.2 339.26L631.7 339.29L632.2 339.33L632.7 339.36L633.2 339.38L633.7 339.41L634.2 339.44L634.7 339.46L635.2 339.48L635.7 339.5L636.2 339.52L636.7 339.54L637.2 339.56L637.7 339.57L638.2 339.59L638.7 339.6L639.2 339.62L639.7 339.63L640.2 339.64L640.7 339.66L641.2 339.67L641.7 339.68L642.2 339.69L642.7 339.7L643.2 339.71L643.7 339.72L644.2 339.72L644.7 339.73L645.2 339.74L645.7 339.75L646.2 339.75L646.7 339.76L647.2 339.77L647.7 339.77L648.2 339.78L648.7 339.79L649.2 339.79L649.7 339.8L650.2 339.8L650.7 339.81L651.2 339.81L651.7 339.82L652.2 339.82L652.7 339.83L653.2 339.83L653.7 339.83L654.2 339.84L654.7 339.84L655.2 339.84L655.7 339.85L656.2 339.85L656.7 339.86L657.2 339.86L657.7 339.86L658.2 339.86L658.7 339.87L659.2 339.87L659.7 339.87L660.2 339.88L660.7 339.88L661.2 339.88L661.7 339.88L662.2 339.88L662.7 339.89L663.2 339.89L663.7 339.89L664.2 339.89L664.7 339.9L665.2 339.9L665.7 339.9L666.2 339.9L666.7 339.9L667.2 339.9L667.7 339.91L668.2 339.91L668.7 339.91L669.2 339.91L669.7 339.91L670.2 339.91L670.7 339.92L671.2 339.92L671.7 339.92L672.2 339.92L672.7 339.92L673.2 339.92L673.7 339.92L674.2 339.92L674.7 339.93L675.2 339.93" fill="none" stroke="#D987C2" stroke-width="1.1" stroke-linejoin="round"/>
<line x1="608.7" y1="200.6" x2="608.7" y2="220" stroke="#888" stroke-width="1" stroke-dasharray="2.5 2"/>
<line x1="605" y1="231.6" x2="605" y2="250" stroke="#888" stroke-width="1" stroke-dasharray="2.5 2"/>
<line x1="607.6" y1="273.5" x2="607.6" y2="287" stroke="#888" stroke-width="1" stroke-dasharray="2.5 2"/>
<line x1="612" y1="303.5" x2="612" y2="324" stroke="#888" stroke-width="1" stroke-dasharray="2.5 2"/>
<line x1="608" y1="226.5" x2="622.1" y2="226.5" stroke="#222" stroke-width="1" />
<polyline points="614.6,222.7 608,226.5 614.6,230.5" fill="none" stroke="#222" stroke-width="1.0"/>
<line x1="596" y1="300" x2="610" y2="300" stroke="#222" stroke-width="1" />
<polyline points="603.4,296.2 610,300 603.4,304" fill="none" stroke="#222" stroke-width="1.0"/>
<text x="613" y="209.5" font-size="6.8" font-weight="bold" text-anchor="start" fill="#222" textLength="17" lengthAdjust="spacingAndGlyphs" stroke="#222" stroke-width="0.2" >459.2</text>
<text x="609" y="246.1" font-size="6.8" font-weight="bold" text-anchor="start" fill="#222" textLength="17.4" lengthAdjust="spacingAndGlyphs" stroke="#222" stroke-width="0.2" >459.4</text>
<text x="612" y="281.1" font-size="6.8" font-weight="bold" text-anchor="start" fill="#222" textLength="17" lengthAdjust="spacingAndGlyphs" stroke="#222" stroke-width="0.2" >459.2</text>
<text x="617.6" y="318.9" font-size="6.8" font-weight="bold" text-anchor="start" fill="#222" textLength="17.4" lengthAdjust="spacingAndGlyphs" stroke="#222" stroke-width="0.2" >459.0</text>
<text x="504" y="220.9" font-size="6.8" font-weight="bold" text-anchor="start" fill="#1a1a1a" textLength="47" lengthAdjust="spacingAndGlyphs" stroke="#1a1a1a" stroke-width="0.25" >TiO<tspan font-size="4.62" baseline-shift="-1.7">2</tspan>/C<tspan font-size="4.62" baseline-shift="-1.7">3</tspan>N<tspan font-size="4.62" baseline-shift="-1.7">4</tspan>-dark</text>
<text x="504" y="255" font-size="6.8" font-weight="bold" text-anchor="start" fill="#1a1a1a" textLength="47.5" lengthAdjust="spacingAndGlyphs" stroke="#1a1a1a" stroke-width="0.25" >TiO<tspan font-size="4.62" baseline-shift="-1.7">2</tspan>/C<tspan font-size="4.62" baseline-shift="-1.7">3</tspan>N<tspan font-size="4.62" baseline-shift="-1.7">4</tspan>-light</text>
<text x="504" y="294.2" font-size="6.8" font-weight="bold" text-anchor="start" fill="#1a1a1a" textLength="44" lengthAdjust="spacingAndGlyphs" stroke="#1a1a1a" stroke-width="0.25" >TiO<tspan font-size="4.62" baseline-shift="-1.7">2</tspan>/C<tspan font-size="4.62" baseline-shift="-1.7">2</tspan>N-dark</text>
<text x="504" y="325.7" font-size="6.8" font-weight="bold" text-anchor="start" fill="#1a1a1a" textLength="44" lengthAdjust="spacingAndGlyphs" stroke="#1a1a1a" stroke-width="0.25" >TiO<tspan font-size="4.62" baseline-shift="-1.7">2</tspan>/C<tspan font-size="4.62" baseline-shift="-1.7">2</tspan>N-light</text>
<defs><radialGradient id="tig" cx="0.38" cy="0.35" r="0.7"><stop offset="0" stop-color="#D8F0FA"/><stop offset="0.5" stop-color="#98D0E8"/><stop offset="1" stop-color="#68AACB"/></radialGradient></defs>
<text x="0.3" y="396.4" font-size="16.8" font-weight="bold" text-anchor="start" fill="#111" >g</text>
<defs><clipPath id="bandclip"><rect x="29.8" y="380" width="261.5" height="40"/></clipPath></defs><g clip-path="url(#bandclip)">
<ellipse cx="31" cy="405.04" rx="6.83" ry="4.81" fill="#E9A9A9" fill-opacity="0.95" stroke="#C98484" stroke-opacity="0.5" stroke-width="0.6"/>
<ellipse cx="37.41" cy="404.85" rx="6.96" ry="5.83" fill="#E9A9A9" fill-opacity="0.95" stroke="#C98484" stroke-opacity="0.5" stroke-width="0.6"/>
<ellipse cx="46.79" cy="405.09" rx="5.26" ry="5.2" fill="#E9A9A9" fill-opacity="0.95" stroke="#C98484" stroke-opacity="0.5" stroke-width="0.6"/>
<ellipse cx="55.01" cy="403.72" rx="6.88" ry="5.52" fill="#E9A9A9" fill-opacity="0.95" stroke="#C98484" stroke-opacity="0.5" stroke-width="0.6"/>
<ellipse cx="61.94" cy="404.61" rx="6.34" ry="4.48" fill="#E9A9A9" fill-opacity="0.95" stroke="#C98484" stroke-opacity="0.5" stroke-width="0.6"/>
<ellipse cx="70.2" cy="402.79" rx="7.25" ry="5.53" fill="#E9A9A9" fill-opacity="0.95" stroke="#C98484" stroke-opacity="0.5" stroke-width="0.6"/>
<ellipse cx="76.9" cy="404.42" rx="5.08" ry="5.65" fill="#E9A9A9" fill-opacity="0.95" stroke="#C98484" stroke-opacity="0.5" stroke-width="0.6"/>
<ellipse cx="84.73" cy="404.77" rx="6.99" ry="4.68" fill="#E9A9A9" fill-opacity="0.95" stroke="#C98484" stroke-opacity="0.5" stroke-width="0.6"/>
<ellipse cx="92.95" cy="404.85" rx="7.04" ry="5.55" fill="#E9A9A9" fill-opacity="0.95" stroke="#C98484" stroke-opacity="0.5" stroke-width="0.6"/>
<ellipse cx="100.02" cy="405.49" rx="6.02" ry="5.97" fill="#E9A9A9" fill-opacity="0.95" stroke="#C98484" stroke-opacity="0.5" stroke-width="0.6"/>
<ellipse cx="109.91" cy="403.84" rx="5.66" ry="4.98" fill="#E9A9A9" fill-opacity="0.95" stroke="#C98484" stroke-opacity="0.5" stroke-width="0.6"/>
<ellipse cx="116.78" cy="404.75" rx="7.44" ry="5.46" fill="#E9A9A9" fill-opacity="0.95" stroke="#C98484" stroke-opacity="0.5" stroke-width="0.6"/>
<ellipse cx="124.62" cy="404.43" rx="4.95" ry="5.19" fill="#E9A9A9" fill-opacity="0.95" stroke="#C98484" stroke-opacity="0.5" stroke-width="0.6"/>
<ellipse cx="131.44" cy="405.52" rx="7.4" ry="4.79" fill="#E9A9A9" fill-opacity="0.95" stroke="#C98484" stroke-opacity="0.5" stroke-width="0.6"/>
<ellipse cx="140.79" cy="403.21" rx="6.49" ry="4.64" fill="#E9A9A9" fill-opacity="0.95" stroke="#C98484" stroke-opacity="0.5" stroke-width="0.6"/>
<ellipse cx="149.87" cy="404.54" rx="6.21" ry="4.66" fill="#E9A9A9" fill-opacity="0.95" stroke="#C98484" stroke-opacity="0.5" stroke-width="0.6"/>
<ellipse cx="155.83" cy="404.56" rx="5.04" ry="5.99" fill="#E9A9A9" fill-opacity="0.95" stroke="#C98484" stroke-opacity="0.5" stroke-width="0.6"/>
<ellipse cx="163.57" cy="404.79" rx="5.73" ry="4.83" fill="#E9A9A9" fill-opacity="0.95" stroke="#C98484" stroke-opacity="0.5" stroke-width="0.6"/>
<ellipse cx="171.28" cy="405.33" rx="6.14" ry="4.98" fill="#E9A9A9" fill-opacity="0.95" stroke="#C98484" stroke-opacity="0.5" stroke-width="0.6"/>
<ellipse cx="180.64" cy="403.77" rx="4.59" ry="4.62" fill="#E9A9A9" fill-opacity="0.95" stroke="#C98484" stroke-opacity="0.5" stroke-width="0.6"/>
<ellipse cx="189.15" cy="404.08" rx="6.07" ry="5.97" fill="#E9A9A9" fill-opacity="0.95" stroke="#C98484" stroke-opacity="0.5" stroke-width="0.6"/>
<ellipse cx="196.36" cy="404.96" rx="5.57" ry="5.33" fill="#E9A9A9" fill-opacity="0.95" stroke="#C98484" stroke-opacity="0.5" stroke-width="0.6"/>
<ellipse cx="206.49" cy="405.22" rx="7.3" ry="4.41" fill="#E9A9A9" fill-opacity="0.95" stroke="#C98484" stroke-opacity="0.5" stroke-width="0.6"/>
<ellipse cx="213.49" cy="405.01" rx="5.76" ry="5.87" fill="#E9A9A9" fill-opacity="0.95" stroke="#C98484" stroke-opacity="0.5" stroke-width="0.6"/>
<ellipse cx="221.17" cy="404.33" rx="6.04" ry="5.71" fill="#E9A9A9" fill-opacity="0.95" stroke="#C98484" stroke-opacity="0.5" stroke-width="0.6"/>
<ellipse cx="228.63" cy="403.1" rx="5.04" ry="5.02" fill="#E9A9A9" fill-opacity="0.95" stroke="#C98484" stroke-opacity="0.5" stroke-width="0.6"/>
<ellipse cx="236.76" cy="405.42" rx="5.31" ry="6.11" fill="#E9A9A9" fill-opacity="0.95" stroke="#C98484" stroke-opacity="0.5" stroke-width="0.6"/>
<ellipse cx="246.88" cy="404.75" rx="6.06" ry="6.01" fill="#E9A9A9" fill-opacity="0.95" stroke="#C98484" stroke-opacity="0.5" stroke-width="0.6"/>
<ellipse cx="255.27" cy="404.37" rx="7.13" ry="5.14" fill="#E9A9A9" fill-opacity="0.95" stroke="#C98484" stroke-opacity="0.5" stroke-width="0.6"/>
<ellipse cx="262.16" cy="405.81" rx="6.06" ry="6.11" fill="#E9A9A9" fill-opacity="0.95" stroke="#C98484" stroke-opacity="0.5" stroke-width="0.6"/>
<ellipse cx="270" cy="404.54" rx="6.65" ry="5.53" fill="#E9A9A9" fill-opacity="0.95" stroke="#C98484" stroke-opacity="0.5" stroke-width="0.6"/>
<ellipse cx="279.73" cy="404.56" rx="5.11" ry="4.49" fill="#E9A9A9" fill-opacity="0.95" stroke="#C98484" stroke-opacity="0.5" stroke-width="0.6"/>
<ellipse cx="286.57" cy="403.96" rx="4.84" ry="5.49" fill="#E9A9A9" fill-opacity="0.95" stroke="#C98484" stroke-opacity="0.5" stroke-width="0.6"/>
</g>
<line x1="29.8" y1="404.4" x2="291" y2="404.4" stroke="#A0706A" stroke-width="1.8" />
<ellipse cx="31" cy="404.4" rx="1.9" ry="1.1" fill="#84503A"/>
<ellipse cx="38" cy="404.4" rx="1.3" ry="1.1" fill="#C4C6EE"/>
<ellipse cx="45" cy="404.4" rx="1.9" ry="1.1" fill="#84503A"/>
<ellipse cx="52" cy="404.4" rx="1.3" ry="1.1" fill="#C4C6EE"/>
<ellipse cx="59" cy="404.4" rx="1.9" ry="1.1" fill="#84503A"/>
<ellipse cx="66" cy="404.4" rx="1.3" ry="1.1" fill="#C4C6EE"/>
<ellipse cx="73" cy="404.4" rx="1.9" ry="1.1" fill="#84503A"/>
<ellipse cx="80" cy="404.4" rx="1.3" ry="1.1" fill="#C4C6EE"/>
<ellipse cx="87" cy="404.4" rx="1.9" ry="1.1" fill="#84503A"/>
<ellipse cx="94" cy="404.4" rx="1.3" ry="1.1" fill="#C4C6EE"/>
<ellipse cx="101" cy="404.4" rx="1.9" ry="1.1" fill="#84503A"/>
<ellipse cx="108" cy="404.4" rx="1.3" ry="1.1" fill="#C4C6EE"/>
<ellipse cx="115" cy="404.4" rx="1.9" ry="1.1" fill="#84503A"/>
<ellipse cx="122" cy="404.4" rx="1.3" ry="1.1" fill="#C4C6EE"/>
<ellipse cx="129" cy="404.4" rx="1.9" ry="1.1" fill="#84503A"/>
<ellipse cx="136" cy="404.4" rx="1.3" ry="1.1" fill="#C4C6EE"/>
<ellipse cx="143" cy="404.4" rx="1.9" ry="1.1" fill="#84503A"/>
<ellipse cx="150" cy="404.4" rx="1.3" ry="1.1" fill="#C4C6EE"/>
<ellipse cx="157" cy="404.4" rx="1.9" ry="1.1" fill="#84503A"/>
<ellipse cx="164" cy="404.4" rx="1.3" ry="1.1" fill="#C4C6EE"/>
<ellipse cx="171" cy="404.4" rx="1.9" ry="1.1" fill="#84503A"/>
<ellipse cx="178" cy="404.4" rx="1.3" ry="1.1" fill="#C4C6EE"/>
<ellipse cx="185" cy="404.4" rx="1.9" ry="1.1" fill="#84503A"/>
<ellipse cx="192" cy="404.4" rx="1.3" ry="1.1" fill="#C4C6EE"/>
<ellipse cx="199" cy="404.4" rx="1.9" ry="1.1" fill="#84503A"/>
<ellipse cx="206" cy="404.4" rx="1.3" ry="1.1" fill="#C4C6EE"/>
<ellipse cx="213" cy="404.4" rx="1.9" ry="1.1" fill="#84503A"/>
<ellipse cx="220" cy="404.4" rx="1.3" ry="1.1" fill="#C4C6EE"/>
<ellipse cx="227" cy="404.4" rx="1.9" ry="1.1" fill="#84503A"/>
<ellipse cx="234" cy="404.4" rx="1.3" ry="1.1" fill="#C4C6EE"/>
<ellipse cx="241" cy="404.4" rx="1.9" ry="1.1" fill="#84503A"/>
<ellipse cx="248" cy="404.4" rx="1.3" ry="1.1" fill="#C4C6EE"/>
<ellipse cx="255" cy="404.4" rx="1.9" ry="1.1" fill="#84503A"/>
<ellipse cx="262" cy="404.4" rx="1.3" ry="1.1" fill="#C4C6EE"/>
<ellipse cx="269" cy="404.4" rx="1.9" ry="1.1" fill="#84503A"/>
<ellipse cx="276" cy="404.4" rx="1.3" ry="1.1" fill="#C4C6EE"/>
<ellipse cx="283" cy="404.4" rx="1.9" ry="1.1" fill="#84503A"/>
<ellipse cx="290" cy="404.4" rx="1.3" ry="1.1" fill="#C4C6EE"/>
<path d="M31.82 427.31L32.32 428.96M35.22 433L34.02 431.81M31.82 427.31L30.75 425.88M35.22 433L36.72 435.56M38.23 438.11L38.14 440.39M39.1 448.3L38.58 445.48M31.82 427.31L32.05 432.46M32.28 437.6L33.24 440.14M35.05 453.3L34.62 447.99M39.48 428.13L40.4 429.31M43.16 433.74L42.24 432.12M43.16 433.74L44.19 436.35M45.22 438.97L45.7 440.82M47.2 448.3L46.7 445.49M39.48 428.13L39.96 432.89M40.45 437.65L41.45 440.37M43.15 453.3L42.8 448.2M47.24 428.43L48.03 429.23M50.12 433.56L49.47 431.8M47.24 428.43L46.79 426.53M50.12 433.56L51.39 435.79M52.67 438.01L53.52 440.76M55.3 448.3L54.84 445.9M55.38 428.59L56.46 429.76M59.27 432.88L58.4 431.9M55.38 428.59L54.54 426.74M59.27 432.88L59.74 435.61M60.2 438.35L61.45 440.16M63.4 448.3L63.05 445.14M55.38 428.59L56 433.38M56.61 438.18L57.05 440.26M59.35 453.3L58.42 447.82M63.68 428.6L64.61 429.53M66.59 433.03L66.06 431.74M63.68 428.6L62.64 426.77M66.59 433.03L67.73 435.86M68.88 438.7L69.74 440.66M71.5 448.3L71.05 445.46M63.68 428.6L64.73 433.39M65.77 438.18L66.24 440.77M67.45 453.3L67.08 448.33M71.64 427.98L72.84 429.05M75.23 432.92L74.64 431.52M71.64 427.98L70.89 426.43M75.23 432.92L76.43 435.15M77.63 437.38L77.82 440.09M79.6 448.3L78.8 445.55M71.64 427.98L72.57 432.94M73.5 437.91L73.94 440.43M75.55 453.3L74.96 448.12M79.5 428.49L80.53 429.7M83.33 433.25L82.44 432.08M79.5 428.49L79.59 426.94M83.33 433.25L84.72 435.11M86.1 436.98L86.38 439.74M87.7 448.3L87.18 445.4M79.5 428.49L79.95 433.44M80.39 438.39L81.71 440.27M83.65 453.3L83.34 447.72M87.31 427.92L88.91 429.27M91.77 433.42L91.14 432.02M87.31 427.92L86.94 426.71M91.77 433.42L92.83 436.05M93.9 438.68L94.18 440.69M95.8 448.3L95.13 445.5M87.31 427.92L88.66 433.02M90 438.13L90.29 440.35M91.75 453.3L91.16 447.94M95.99 427.95L97.39 429.28M99.48 433.37L99.13 431.98M95.99 427.95L95 426.11M99.48 433.37L100.69 435.9M101.91 438.43L102.46 440.7M103.9 448.3L103.45 445.63M95.99 427.95L96.77 432.5M97.56 437.04L98.09 439.95M99.85 453.3L99.23 448.08M103.59 428.03L104.91 429.29M107.62 433.08L106.93 431.81M103.59 428.03L103.35 426.55M107.62 433.08L109.05 435.02M110.48 436.95L110.96 439.76M112 448.3L111.72 445.43M103.59 428.03L104.76 433.19M105.94 438.34L106.63 440.61M107.95 453.3L107.63 448.09M112.64 428.1L113.21 429.83M115.99 433.48L114.89 432.52M112.64 428.1L112.27 426.45M115.99 433.48L116.87 435.78M117.75 438.08L118.62 440.29M120.1 448.3L119.8 445.4M112.64 428.1L113.17 433.35M113.69 438.61L114.21 440.97M116.05 453.3L115.39 448.31M119.84 427.86L121 429.49M123.87 432.78L123.01 431.95M119.84 427.86L119.53 426.66M123.87 432.78L124.99 435.44M126.11 438.1L126.65 440.05M128.2 448.3L127.69 445.15M119.84 427.86L120.47 433M121.1 438.13L122.1 440.74M124.15 453.3L123.62 448.33M128.17 427.91L129.15 429.31M132.39 433L131.26 431.86M128.17 427.91L127.54 426.19M132.39 433L133.21 434.97M134.02 436.93L134.68 439.57M136.3 448.3L135.82 445.25M128.17 427.91L129.29 432.37M130.41 436.82L130.83 439.78M132.25 453.3L131.75 448.02M135.88 428.39L137.04 429.51M140.17 432.58L139.18 431.61M135.88 428.39L135.18 426.72M140.17 432.58L141.33 435M142.49 437.43L142.87 440.09M144.4 448.3L143.82 445.53M135.88 428.39L137.29 433.15M138.7 437.9L138.8 440.16M140.35 453.3L139.62 447.85M144.38 429L145.49 429.84M148.38 433.24L147.49 431.96M148.38 433.24L149.23 435.81M150.09 438.37L150.88 440.74M152.5 448.3L152.08 445.71M144.38 429L145.59 433.37M146.81 437.74L147.11 440.04M148.45 453.3L147.93 447.82M152.21 428.4L153.6 429.69M156.94 433.46L155.96 432.22M152.21 428.4L151.96 426.72M156.94 433.46L157.65 435.91M158.36 438.36L159.29 440.64M160.6 448.3L160.41 445.61M152.21 428.4L153.35 433.57M154.49 438.75L154.95 440.75M156.55 453.3L155.98 448.03M160.55 428.63L161.81 429.5M163.92 433.33L163.5 431.85M160.55 428.63L160.11 426.6M163.92 433.33L165.25 435.28M166.58 437.23L167.08 440.47M168.7 448.3L168.14 446.01M160.55 428.63L161.79 433.19M163.04 437.76L163.52 440.29M164.65 453.3L164.32 448.06M167.8 428L168.98 429.42M172.83 432.8L171.49 431.82M172.83 432.8L173.37 435.23M173.92 437.66L175.08 440.11M176.8 448.3L176.52 445.43M167.8 428L169.41 432.91M171.01 437.82L171.13 439.98M172.75 453.3L172 447.72M176.79 428.51L177.71 429.66M180.96 433.39L179.79 432.11M180.96 433.39L181.76 435.37M182.57 437.35L182.97 439.96M184.9 448.3L184.14 445.43M176.79 428.51L177.45 433.32M178.12 438.14L178.94 441.2M180.85 453.3L180.3 448.78M185.27 427.98L185.95 429.56M189.26 433.32L187.94 432.23M185.27 427.98L183.72 426.55M189.26 433.32L189.91 436.03M190.55 438.74L191.2 440.48M193 448.3L192.42 445.25M185.27 427.98L185.72 432.94M186.17 437.9L187.32 440.38M188.95 453.3L188.71 448.08M192.97 428.24L194.11 429.58M197.39 432.92L196.31 431.92M192.97 428.24L192.3 426.33M197.39 432.92L198.29 435.36M199.19 437.8L199.75 440.33M201.1 448.3L200.71 445.58M200.84 428.17L202.28 429.3M204.13 432.89L203.92 431.66M200.84 428.17L200.06 426.6M204.13 432.89L205.6 435.15M207.07 437.41L207.82 440.17M209.2 448.3L208.88 445.62M200.84 428.17L201.69 433.42M202.54 438.67L203.4 440.71M205.15 453.3L204.71 448.02M208.99 428.11L210.31 429.52M213.59 433.11L212.61 432.02M208.99 428.11L208.7 426.44M213.59 433.11L213.96 435.63M214.34 438.15L215.53 440.52M217.3 448.3L217.01 445.59M208.99 428.11L209.89 432.84M210.79 437.56L211.42 439.95M213.25 453.3L212.65 447.81M217.84 428.26L218.54 429.77M221.15 432.73L220.2 432.01M217.84 428.26L216.79 426.81M221.15 432.73L222.46 435.61M223.77 438.49L224.29 440.93M225.4 448.3L225.11 445.84M217.84 428.26L218.45 433.16M219.06 438.07L219.83 440.24M221.35 453.3L220.98 447.85M226 428.28L226.84 429.69M230.26 432.49L228.97 431.79M226 428.28L225.21 426.69M230.26 432.49L230.9 435.11M231.53 437.73L232.04 440.52M233.5 448.3L233.02 445.8M226 428.28L226.57 433.06M227.14 437.84L227.81 440.58M229.45 453.3L228.97 448.31M233.08 427.73L234.17 429.23M237.6 432.81L236.43 431.77M233.08 427.73L232.42 426.43M237.6 432.81L238.15 435.54M238.69 438.27L239.38 440.22M241.6 448.3L240.83 445.23M233.08 427.73L234.06 432.57M235.04 437.4L235.68 440.22M237.55 453.3L236.94 448.17M241.58 428.19L242.49 429.34M246.07 432.95L244.74 431.72M246.07 432.95L246.98 435.8M247.9 438.64L248.34 440.68M249.7 448.3L249.24 445.51M249.54 428.49L250.6 429.57M254.04 432.96L252.85 431.8M249.54 428.49L249.67 426.63M254.04 432.96L254.82 434.91M255.61 436.86L256.3 439.83M257.8 448.3L257.39 445.55M249.54 428.49L250.63 432.75M251.71 437.02L252.16 439.94M253.75 453.3L253.18 448.08M257.3 428.5L258.27 429.72M262.27 432.71L260.75 431.83M262.27 432.71L262.74 435.28M263.22 437.85L264.09 440.29M265.9 448.3L265.43 445.51M257.3 428.5L258.48 433.59M259.65 438.68L260.5 440.91M261.85 453.3L261.6 448.22M266.33 428.66L267.29 429.7M270.23 432.77L269.24 431.75M270.23 432.77L271.03 435.52M271.84 438.26L272.53 440.95M274 448.3L273.62 445.97M266.33 428.66L266.91 433.31M267.49 437.95L268.11 440.42M269.95 453.3L269.34 448.09M274 428.3L275.01 429.46M278.82 433.06L277.42 431.84M274 428.3L273.1 426.41M278.82 433.06L279.35 435.67M279.88 438.27L280.53 440.41M282.1 448.3L281.64 445.42M274 428.3L274.95 433.41M275.9 438.52L276.52 440.71M278.05 453.3L277.59 448.1M282.28 427.87L283.25 429.28M286.03 433.11L285.12 431.9M286.03 433.11L287.24 435.98M288.45 438.85L288.82 440.92M290.2 448.3L289.7 445.65M282.28 427.87L283.2 432.47M284.11 437.06L284.93 439.81M286.15 453.3L285.95 447.93M33.51 448.33L34.43 449.39M36.89 453.25L36.13 451.85M36.89 453.25L37.82 455.55M38.75 457.86L39.13 460.7M41.1 468.4L40.31 465.98M41.09 448.71L42.44 449.95M44.77 453.27L44.28 452.23M44.77 453.27L45.44 454.85M46.11 456.43L47 459.93M49.2 468.4L48.54 465.92M41.09 448.71L41.9 453.46M42.71 458.2L43.23 460.61M45.15 473.4L44.45 468.2M49.52 448.46L50.46 449.55M53.41 453.09L52.41 451.86M53.41 453.09L54.52 456.24M55.62 459.39L55.86 460.6M57.3 468.4L56.7 465.11M49.52 448.46L50.32 453.28M51.12 458.09L51.87 460.76M53.25 473.4L52.94 468.42M56.99 448.02L58.36 449.37M61.86 452.92L60.8 451.81M61.86 452.92L62.68 455.69M63.51 458.45L64.16 460.88M65.4 468.4L65.11 465.86M56.99 448.02L58.05 452.96M59.12 457.91L59.77 460.71M61.35 473.4L60.89 468.46M65.29 448.05L66.5 449.26M69.16 453.19L68.43 451.83M69.16 453.19L70.46 455.72M71.76 458.25L72.14 460.24M73.5 468.4L73 465.32M65.29 448.05L66.33 452.53M67.38 457.02L68.13 460.37M69.45 473.4L69.16 468.56M73.64 448.47L74.39 449.63M78.52 453.73L76.83 452.26M78.52 453.73L78.93 455.88M79.34 458.02L79.55 460.65M81.6 468.4L80.68 465.84M81.67 448.25L82.47 449.63M86 453.2L84.64 452.1M86 453.2L87.03 455.57M88.06 457.94L88.7 460.49M89.7 468.4L89.52 465.72M81.67 448.25L82.79 452.87M83.91 457.49L84.46 460.07M85.65 473.4L85.33 468.03M89.88 447.87L90.83 449.34M93.41 453.67L92.6 452.24M93.41 453.67L94.42 456M95.42 458.32L95.88 460.33M97.8 468.4L97.07 465.37M89.88 447.87L90.47 452.71M91.07 457.55L91.87 460.19M93.75 473.4L93.21 468.12M97.71 448.88L98.75 449.74M102.25 453.73L101.02 452.16M102.25 453.73L102.69 455.83M103.12 457.93L103.64 460.27M105.9 468.4L105.03 465.5M97.71 448.88L98.93 453.63M100.15 458.38L100.3 460.76M101.85 473.4L101.15 468.27M105.58 448.59L107.26 449.88M109.91 453.6L109.42 452.38M109.91 453.6L111.32 455.89M112.73 458.19L112.85 460.88M114 468.4L113.48 465.98M105.58 448.59L106.48 453.26M107.38 457.94L107.85 460.37M109.95 473.4L109.14 468.1M114.36 448.27L115.25 449.69M117.82 452.81L116.98 451.96M117.82 452.81L118.98 455.52M120.14 458.23L120.41 461M122.1 468.4L121.4 466.09M114.36 448.27L115 453.27M115.64 458.27L115.89 460.57M118.05 473.4L117.09 468.13M122.05 448.43L122.71 449.55M126.69 453.47L125.03 452.06M126.69 453.47L127.39 455.82M128.08 458.17L128.43 460.12M130.2 468.4L129.49 465.23M130.34 448.29L130.69 449.47M133.56 453.92L132.3 452.29M133.56 453.92L135.25 455.97M136.94 458.02L137.21 460.17M138.3 468.4L137.9 465.36M130.34 448.29L130.86 453.16M131.38 458.03L132.32 460.2M134.25 473.4L133.75 467.89M138.65 447.8L139.39 449.4M142.08 453.29L141.11 452.14M142.08 453.29L143.32 455.62M144.57 457.95L144.93 460.3M146.4 468.4L145.84 465.52M138.65 447.8L139.49 452.8M140.32 457.79L140.89 460.32M142.35 473.4L141.91 468.13M146.06 448.6L147.53 449.48M150.03 453.3L149.51 451.83M150.03 453.3L151.16 455.3M152.28 457.31L152.84 459.73M154.5 468.4L153.95 465.28M146.06 448.6L146.97 453.28M147.88 457.97L148.96 460.5M150.45 473.4L150.24 468.22M154.76 448.28L155.27 449.55M158.45 453.01L157.12 451.92M158.45 453.01L159.75 455.67M161.05 458.34L161.27 461.03M162.6 468.4L162.04 466.06M154.76 448.28L155.36 452.79M155.95 457.29L156.53 460.04M158.55 473.4L157.83 468.09M163.4 448.23L163.96 449.17M166.24 453.09L165.37 451.6M166.24 453.09L167.39 455.77M168.55 458.45L169.24 460.83M170.7 468.4L170.31 465.8M163.4 448.23L163.51 453.39M163.62 458.54L164.83 460.34M166.65 473.4L166.34 467.76M170.78 448.31L171.64 449.59M174.97 453.37L173.73 452.13M174.97 453.37L175.82 455.72M176.66 458.08L176.91 459.74M178.8 468.4L177.98 464.9M170.78 448.31L171.26 453.17M171.75 458.03L172.87 460.53M174.75 473.4L174.37 468.22M178.65 448.32L179.91 449.7M183.32 453.04L182.24 452.06M183.32 453.04L184.06 455.94M184.8 458.83L185.26 461.1M186.9 468.4L186.31 465.89M186.59 447.93L187.76 449.14M191.13 452.97L190.02 451.66M191.13 452.97L192.18 455.99M193.23 459.02L193.71 461.37M195 468.4L194.6 466.06M186.59 447.93L188.03 452.94M189.47 457.95L189.37 460.8M190.95 473.4L190.11 468.52M194.95 447.94L195.94 449.15M198.79 452.73L197.86 451.55M198.79 452.73L200.14 455.58M201.49 458.43L201.51 460.29M203.1 468.4L202.32 465.27M202.33 448.26L203.61 449.63M207.13 453.03L206.01 452.01M207.13 453.03L208.35 455.94M209.57 458.85L209.94 461.09M211.2 468.4L210.76 465.86M211.36 447.96L212.09 449.38M215.54 452.87L214.18 451.83M215.54 452.87L216.43 455.12M217.32 457.38L217.75 460.17M219.3 468.4L218.74 465.68M211.36 447.96L211.96 452.96M212.56 457.95L213.33 460.78M215.25 473.4L214.67 468.5M219.52 447.84L220.65 449.35M222.47 453.33L222.12 452.1M222.47 453.33L224.01 455.6M225.55 457.86L225.75 460.57M227.4 468.4L226.68 465.84M227.67 447.82L228.7 449.19M231.52 453.08L230.62 451.82M231.52 453.08L232.29 455.44M233.06 457.81L234.08 460.36M235.5 468.4L235.3 465.66M227.67 447.82L228.18 452.6M228.69 457.38L229.84 459.69M231.45 473.4L231.22 467.7M235.16 448.52L236.49 449.81M240.02 453.25L238.92 452.18M240.02 453.25L240.91 455.69M241.79 458.12L242.58 460.57M243.6 468.4L243.48 465.7M235.16 448.52L235.96 453.45M236.77 458.38L237.39 460.27M239.55 473.4L238.78 467.78M243.81 448.02L245.03 449.42M247.84 452.94L247.05 451.88M247.84 452.94L248.45 455.57M249.06 458.21L250.12 460.37M251.7 468.4L251.43 465.47M243.81 448.02L244.97 453.19M246.14 458.36L246.38 460.5M247.65 473.4L247.13 468.02M251.95 447.79L252.62 449.65M254.56 453.09L253.92 452.3M254.56 453.09L256.12 455.36M257.68 457.64L258.07 460.41M259.8 468.4L259.13 465.79M251.95 447.79L252.57 452.84M253.19 457.88L253.98 460.43M255.75 473.4L255.26 468.19M259.87 448.78L261.37 449.83M264.56 452.75L263.71 451.81M264.56 452.75L265.39 455.26M266.23 457.77L266.69 460.4M267.9 468.4L267.53 465.72M259.87 448.78L260.87 453.52M261.87 458.25L262.15 460.57M263.85 473.4L263.14 468.14M268.22 448.57L269.04 449.48M271.85 453.23L270.86 451.81M271.85 453.23L272.58 456.08M273.32 458.92L274.14 460.95M276 468.4L275.49 465.69M268.22 448.57L269.19 453.69M270.15 458.81L270.5 461M271.95 473.4L271.4 468.3M275.73 448.94L277.13 449.96M280.45 453.03L279.49 452M280.45 453.03L281.27 455.67M282.1 458.32L282.53 460.49M284.1 468.4L283.53 465.53M275.73 448.94L276.72 453.2M277.71 457.46L278.78 460.15M280.05 473.4L279.95 468.12M283.9 448.08L285.07 449.63M288.45 453.67L287.34 452.42M288.45 453.67L288.94 455.81M289.43 457.95L290.28 460.44M292.2 468.4L291.67 465.67M283.9 448.08L284.46 453.79M285.01 459.5L285.89 461.3M288.15 473.4L287.46 468.25M31.36 468.82L31.97 470.07M35.17 472.5L33.88 471.91M35.17 472.5L35.66 474.7M31.36 468.82L32.03 472.97M38.76 468.47L39.88 469.79M43.13 473.12L42.06 472.12M43.13 473.12L43.98 475.47M47.03 468.65L48.35 469.75M51.01 473.07L50.34 471.96M51.01 473.07L51.88 475.32M55.56 468.66L56.28 469.39M59.32 473.64L58.16 471.89M59.32 473.64L60.01 475.29M55.56 468.66L56.09 472.68M63.43 468.98L64.5 469.94M67.91 473.64L66.75 472.27M67.91 473.64L68.38 475.59M71.63 468.12L72.48 469.83M74.89 472.91L74.11 472.22M74.89 472.91L76.18 474.91M79.92 468.67L80.8 470.1M83.11 473.88L82.39 472.71M83.11 473.88L84.18 475.77M87.32 468.42L88.32 469.41M91.48 473.8L90.4 472.09M91.48 473.8L92.48 475.78M87.32 468.42L88.33 472.36M95.53 468.31L96.66 469.71M99.85 472.75L98.82 471.93M99.85 472.75L100.39 475.05M95.53 468.31L96.27 472.82M104.31 468.65L105.36 469.73M108.11 473.37L107.25 472.09M108.11 473.37L108.62 475.48M104.31 468.65L104.79 472.99M112.04 468.54L112.71 469.51M116.42 473.77L114.91 472.12M116.42 473.77L117.23 475.61M112.04 468.54L112.35 472.73M119.71 468.67L120.68 469.96M124.19 473.68L122.91 472.47M124.19 473.68L125.29 475.33M128.6 468.73L129.23 470.02M132.23 473.1L131.04 472.21M132.23 473.1L133.17 475.45M128.6 468.73L129.19 472.73M135.83 468.58L136.76 469.69M140.56 473.54L139.13 472.17M140.56 473.54L140.89 475.45M135.83 468.58L136.63 472.81M144.46 468.99L145.63 470.28M148.02 472.74L147.4 472.16M148.02 472.74L149.25 475.08M144.46 468.99L145.06 472.69M152.28 468.68L153.09 469.76M156.33 474.18L155.11 472.51M156.33 474.18L157.39 475.62M160.07 468.26L161.44 469.53M165.27 473.65L164.04 472.23M165.27 473.65L165.86 475.5M160.07 468.26L160.85 472.63M169.18 468.49L169.79 469.5M172.96 474.22L171.68 472.37M172.96 474.22L173.79 475.85M169.18 468.49L169.6 472.64M177.02 468.39L177.75 469.73M181.18 473.1L179.84 472.08M181.18 473.1L181.66 475.35M184.7 468.59L185.58 469.64M188.75 472.97L187.61 471.83M188.75 472.97L189.49 475.16M184.7 468.59L185.52 473.11M193.53 468.45L194.18 469.8M197.73 473.93L196.28 472.54M197.73 473.93L198.34 475.67M193.53 468.45L193.95 472.82M200.99 468.65L201.72 469.9M205.02 473.75L203.73 472.45M205.02 473.75L206.07 475.65M200.99 468.65L201.76 472.61M208.89 468.39L209.87 469.91M213.21 473.85L212.04 472.64M213.21 473.85L213.65 475.43M208.89 468.39L209.88 472.53M216.46 468.66L217.68 469.7M221.36 473.14L220.13 471.94M221.36 473.14L222.11 475.36M226.33 468.5L226.9 470.23M229.32 473.75L228.39 472.85M229.32 473.75L230.34 475.46M233.32 468.4L234.74 469.69M237.84 473.29L237 472.14M237.84 473.29L238.4 475.49M241.24 468.72L242.51 469.75M245.67 473.51L244.72 472.14M245.67 473.51L246.36 475.14M250.22 468.19L251.18 469.5M253.48 474L252.81 472.4M253.48 474L254.24 475.64M250.22 468.19L250.68 472.58M257.87 468.78L259.14 469.55M262.15 474.16L261.29 472.24M262.15 474.16L262.91 475.51M266.2 468.27L266.92 469.46M269.84 473.89L268.74 472.27M269.84 473.89L270.69 475.85M266.2 468.27L266.35 472.46M273.95 469.19L275.23 470.04M278.42 473.81L277.46 472.35M278.42 473.81L279.06 475.66M273.95 469.19L274.58 473.17M281.68 468.8L282.74 469.93M286.47 473.88L285.14 472.47M286.47 473.88L287.33 475.75" stroke="#92CBE3" stroke-width="1.2" fill="none"/>
<path d="M32.32 428.96L32.82 430.61M34.02 431.81L32.82 430.61M30.75 425.88L29.68 424.45M36.72 435.56L38.23 438.11M38.14 440.39L38.06 442.66M38.58 445.48L38.06 442.66M32.05 432.46L32.28 437.6M33.24 440.14L34.19 442.68M34.62 447.99L34.19 442.68M40.4 429.31L41.32 430.5M42.24 432.12L41.32 430.5M44.19 436.35L45.22 438.97M45.7 440.82L46.19 442.68M46.7 445.49L46.19 442.68M39.96 432.89L40.45 437.65M41.45 440.37L42.45 443.09M42.8 448.2L42.45 443.09M48.03 429.23L48.82 430.03M49.47 431.8L48.82 430.03M46.79 426.53L46.35 424.62M51.39 435.79L52.67 438.01M53.52 440.76L54.38 443.5M54.84 445.9L54.38 443.5M56.46 429.76L57.53 430.93M58.4 431.9L57.53 430.93M54.54 426.74L53.71 424.89M59.74 435.61L60.2 438.35M61.45 440.16L62.7 441.98M63.05 445.14L62.7 441.98M56 433.38L56.61 438.18M57.05 440.26L57.49 442.34M58.42 447.82L57.49 442.34M64.61 429.53L65.53 430.46M66.06 431.74L65.53 430.46M62.64 426.77L61.6 424.94M67.73 435.86L68.88 438.7M69.74 440.66L70.59 442.61M71.05 445.46L70.59 442.61M64.73 433.39L65.77 438.18M66.24 440.77L66.7 443.37M67.08 448.33L66.7 443.37M72.84 429.05L74.05 430.12M74.64 431.52L74.05 430.12M70.89 426.43L70.14 424.89M76.43 435.15L77.63 437.38M77.82 440.09L78.01 442.8M78.8 445.55L78.01 442.8M72.57 432.94L73.5 437.91M73.94 440.43L74.37 442.95M74.96 448.12L74.37 442.95M80.53 429.7L81.56 430.92M82.44 432.08L81.56 430.92M79.59 426.94L79.68 425.4M84.72 435.11L86.1 436.98M86.38 439.74L86.66 442.5M87.18 445.4L86.66 442.5M79.95 433.44L80.39 438.39M81.71 440.27L83.03 442.15M83.34 447.72L83.03 442.15M88.91 429.27L90.52 430.62M91.14 432.02L90.52 430.62M86.94 426.71L86.58 425.5M92.83 436.05L93.9 438.68M94.18 440.69L94.47 442.7M95.13 445.5L94.47 442.7M88.66 433.02L90 438.13M90.29 440.35L90.58 442.57M91.16 447.94L90.58 442.57M97.39 429.28L98.79 430.6M99.13 431.98L98.79 430.6M95 426.11L94.01 424.27M100.69 435.9L101.91 438.43M102.46 440.7L103 442.97M103.45 445.63L103 442.97M96.77 432.5L97.56 437.04M98.09 439.95L98.62 442.86M99.23 448.08L98.62 442.86M104.91 429.29L106.24 430.54M106.93 431.81L106.24 430.54M103.35 426.55L103.11 425.06M109.05 435.02L110.48 436.95M110.96 439.76L111.44 442.56M111.72 445.43L111.44 442.56M104.76 433.19L105.94 438.34M106.63 440.61L107.32 442.88M107.63 448.09L107.32 442.88M113.21 429.83L113.78 431.56M114.89 432.52L113.78 431.56M112.27 426.45L111.89 424.79M116.87 435.78L117.75 438.08M118.62 440.29L119.49 442.51M119.8 445.4L119.49 442.51M113.17 433.35L113.69 438.61M114.21 440.97L114.73 443.32M115.39 448.31L114.73 443.32M121 429.49L122.16 431.11M123.01 431.95L122.16 431.11M119.53 426.66L119.21 425.45M124.99 435.44L126.11 438.1M126.65 440.05L127.19 442M127.69 445.15L127.19 442M120.47 433L121.1 438.13M122.1 440.74L123.09 443.36M123.62 448.33L123.09 443.36M129.15 429.31L130.13 430.72M131.26 431.86L130.13 430.72M127.54 426.19L126.91 424.47M133.21 434.97L134.02 436.93M134.68 439.57L135.34 442.2M135.82 445.25L135.34 442.2M129.29 432.37L130.41 436.82M130.83 439.78L131.26 442.74M131.75 448.02L131.26 442.74M137.04 429.51L138.19 430.64M139.18 431.61L138.19 430.64M135.18 426.72L134.48 425.05M141.33 435L142.49 437.43M142.87 440.09L143.24 442.76M143.82 445.53L143.24 442.76M137.29 433.15L138.7 437.9M138.8 440.16L138.9 442.41M139.62 447.85L138.9 442.41M145.49 429.84L146.61 430.68M147.49 431.96L146.61 430.68M149.23 435.81L150.09 438.37M150.88 440.74L151.66 443.11M152.08 445.71L151.66 443.11M145.59 433.37L146.81 437.74M147.11 440.04L147.41 442.33M147.93 447.82L147.41 442.33M153.6 429.69L154.98 430.99M155.96 432.22L154.98 430.99M151.96 426.72L151.72 425.04M157.65 435.91L158.36 438.36M159.29 440.64L160.21 442.92M160.41 445.61L160.21 442.92M153.35 433.57L154.49 438.75M154.95 440.75L155.42 442.75M155.98 448.03L155.42 442.75M161.81 429.5L163.08 430.37M163.5 431.85L163.08 430.37M160.11 426.6L159.67 424.58M165.25 435.28L166.58 437.23M167.08 440.47L167.57 443.71M168.14 446.01L167.57 443.71M161.79 433.19L163.04 437.76M163.52 440.29L164 442.82M164.32 448.06L164 442.82M168.98 429.42L170.16 430.85M171.49 431.82L170.16 430.85M173.37 435.23L173.92 437.66M175.08 440.11L176.24 442.56M176.52 445.43L176.24 442.56M169.41 432.91L171.01 437.82M171.13 439.98L171.25 442.15M172 447.72L171.25 442.15M177.71 429.66L178.62 430.82M179.79 432.11L178.62 430.82M181.76 435.37L182.57 437.35M182.97 439.96L183.37 442.56M184.14 445.43L183.37 442.56M177.45 433.32L178.12 438.14M178.94 441.2L179.76 444.26M180.3 448.78L179.76 444.26M185.95 429.56L186.63 431.14M187.94 432.23L186.63 431.14M183.72 426.55L182.17 425.12M189.91 436.03L190.55 438.74M191.2 440.48L191.84 442.21M192.42 445.25L191.84 442.21M185.72 432.94L186.17 437.9M187.32 440.38L188.48 442.86M188.71 448.08L188.48 442.86M194.11 429.58L195.24 430.93M196.31 431.92L195.24 430.93M192.3 426.33L191.63 424.43M198.29 435.36L199.19 437.8M199.75 440.33L200.32 442.87M200.71 445.58L200.32 442.87M202.28 429.3L203.71 430.43M203.92 431.66L203.71 430.43M200.06 426.6L199.29 425.03M205.6 435.15L207.07 437.41M207.82 440.17L208.57 442.93M208.88 445.62L208.57 442.93M201.69 433.42L202.54 438.67M203.4 440.71L204.26 442.74M204.71 448.02L204.26 442.74M210.31 429.52L211.63 430.93M212.61 432.02L211.63 430.93M208.7 426.44L208.41 424.77M213.96 435.63L214.34 438.15M215.53 440.52L216.72 442.88M217.01 445.59L216.72 442.88M209.89 432.84L210.79 437.56M211.42 439.95L212.05 442.33M212.65 447.81L212.05 442.33M218.54 429.77L219.24 431.28M220.2 432.01L219.24 431.28M216.79 426.81L215.74 425.37M222.46 435.61L223.77 438.49M224.29 440.93L224.82 443.38M225.11 445.84L224.82 443.38M218.45 433.16L219.06 438.07M219.83 440.24L220.61 442.41M220.98 447.85L220.61 442.41M226.84 429.69L227.68 431.09M228.97 431.79L227.68 431.09M225.21 426.69L224.43 425.1M230.9 435.11L231.53 437.73M232.04 440.52L232.54 443.31M233.02 445.8L232.54 443.31M226.57 433.06L227.14 437.84M227.81 440.58L228.48 443.32M228.97 448.31L228.48 443.32M234.17 429.23L235.27 430.73M236.43 431.77L235.27 430.73M232.42 426.43L231.76 425.12M238.15 435.54L238.69 438.27M239.38 440.22L240.07 442.16M240.83 445.23L240.07 442.16M234.06 432.57L235.04 437.4M235.68 440.22L236.32 443.03M236.94 448.17L236.32 443.03M242.49 429.34L243.41 430.49M244.74 431.72L243.41 430.49M246.98 435.8L247.9 438.64M248.34 440.68L248.79 442.72M249.24 445.51L248.79 442.72M250.6 429.57L251.67 430.65M252.85 431.8L251.67 430.65M249.67 426.63L249.79 424.76M254.82 434.91L255.61 436.86M256.3 439.83L256.98 442.8M257.39 445.55L256.98 442.8M250.63 432.75L251.71 437.02M252.16 439.94L252.61 442.87M253.18 448.08L252.61 442.87M258.27 429.72L259.24 430.94M260.75 431.83L259.24 430.94M262.74 435.28L263.22 437.85M264.09 440.29L264.96 442.73M265.43 445.51L264.96 442.73M258.48 433.59L259.65 438.68M260.5 440.91L261.35 443.14M261.6 448.22L261.35 443.14M267.29 429.7L268.24 430.73M269.24 431.75L268.24 430.73M271.03 435.52L271.84 438.26M272.53 440.95L273.23 443.64M273.62 445.97L273.23 443.64M266.91 433.31L267.49 437.95M268.11 440.42L268.72 442.88M269.34 448.09L268.72 442.88M275.01 429.46L276.01 430.62M277.42 431.84L276.01 430.62M273.1 426.41L272.21 424.52M279.35 435.67L279.88 438.27M280.53 440.41L281.18 442.55M281.64 445.42L281.18 442.55M274.95 433.41L275.9 438.52M276.52 440.71L277.13 442.89M277.59 448.1L277.13 442.89M283.25 429.28L284.22 430.69M285.12 431.9L284.22 430.69M287.24 435.98L288.45 438.85M288.82 440.92L289.19 443M289.7 445.65L289.19 443M283.2 432.47L284.11 437.06M284.93 439.81L285.75 442.57M285.95 447.93L285.75 442.57M34.43 449.39L35.36 450.45M36.13 451.85L35.36 450.45M37.82 455.55L38.75 457.86M39.13 460.7L39.51 463.55M40.31 465.98L39.51 463.55M42.44 449.95L43.79 451.19M44.28 452.23L43.79 451.19M45.44 454.85L46.11 456.43M47 459.93L47.88 463.43M48.54 465.92L47.88 463.43M41.9 453.46L42.71 458.2M43.23 460.61L43.75 463.01M44.45 468.2L43.75 463.01M50.46 449.55L51.41 450.63M52.41 451.86L51.41 450.63M54.52 456.24L55.62 459.39M55.86 460.6L56.1 461.81M56.7 465.11L56.1 461.81M50.32 453.28L51.12 458.09M51.87 460.76L52.62 463.44M52.94 468.42L52.62 463.44M58.36 449.37L59.74 450.71M60.8 451.81L59.74 450.71M62.68 455.69L63.51 458.45M64.16 460.88L64.81 463.31M65.11 465.86L64.81 463.31M58.05 452.96L59.12 457.91M59.77 460.71L60.42 463.52M60.89 468.46L60.42 463.52M66.5 449.26L67.7 450.47M68.43 451.83L67.7 450.47M70.46 455.72L71.76 458.25M72.14 460.24L72.51 462.23M73 465.32L72.51 462.23M66.33 452.53L67.38 457.02M68.13 460.37L68.88 463.72M69.16 468.56L68.88 463.72M74.39 449.63L75.14 450.79M76.83 452.26L75.14 450.79M78.93 455.88L79.34 458.02M79.55 460.65L79.75 463.28M80.68 465.84L79.75 463.28M82.47 449.63L83.28 451.01M84.64 452.1L83.28 451.01M87.03 455.57L88.06 457.94M88.7 460.49L89.35 463.03M89.52 465.72L89.35 463.03M82.79 452.87L83.91 457.49M84.46 460.07L85.01 462.65M85.33 468.03L85.01 462.65M90.83 449.34L91.78 450.82M92.6 452.24L91.78 450.82M94.42 456L95.42 458.32M95.88 460.33L96.34 462.34M97.07 465.37L96.34 462.34M90.47 452.71L91.07 457.55M91.87 460.19L92.67 462.83M93.21 468.12L92.67 462.83M98.75 449.74L99.79 450.6M101.02 452.16L99.79 450.6M102.69 455.83L103.12 457.93M103.64 460.27L104.17 462.61M105.03 465.5L104.17 462.61M98.93 453.63L100.15 458.38M100.3 460.76L100.46 463.15M101.15 468.27L100.46 463.15M107.26 449.88L108.93 451.17M109.42 452.38L108.93 451.17M111.32 455.89L112.73 458.19M112.85 460.88L112.97 463.57M113.48 465.98L112.97 463.57M106.48 453.26L107.38 457.94M107.85 460.37L108.33 462.8M109.14 468.1L108.33 462.8M115.25 449.69L116.15 451.12M116.98 451.96L116.15 451.12M118.98 455.52L120.14 458.23M120.41 461L120.69 463.78M121.4 466.09L120.69 463.78M115 453.27L115.64 458.27M115.89 460.57L116.13 462.87M117.09 468.13L116.13 462.87M122.71 449.55L123.37 450.66M125.03 452.06L123.37 450.66M127.39 455.82L128.08 458.17M128.43 460.12L128.79 462.07M129.49 465.23L128.79 462.07M130.69 449.47L131.04 450.65M132.3 452.29L131.04 450.65M135.25 455.97L136.94 458.02M137.21 460.17L137.49 462.31M137.9 465.36L137.49 462.31M130.86 453.16L131.38 458.03M132.32 460.2L133.25 462.37M133.75 467.89L133.25 462.37M139.39 449.4L140.14 450.99M141.11 452.14L140.14 450.99M143.32 455.62L144.57 457.95M144.93 460.3L145.28 462.64M145.84 465.52L145.28 462.64M139.49 452.8L140.32 457.79M140.89 460.32L141.46 462.85M141.91 468.13L141.46 462.85M147.53 449.48L148.99 450.36M149.51 451.83L148.99 450.36M151.16 455.3L152.28 457.31M152.84 459.73L153.4 462.15M153.95 465.28L153.4 462.15M146.97 453.28L147.88 457.97M148.96 460.5L150.03 463.04M150.24 468.22L150.03 463.04M155.27 449.55L155.78 450.83M157.12 451.92L155.78 450.83M159.75 455.67L161.05 458.34M161.27 461.03L161.49 463.72M162.04 466.06L161.49 463.72M155.36 452.79L155.95 457.29M156.53 460.04L157.12 462.78M157.83 468.09L157.12 462.78M163.96 449.17L164.51 450.12M165.37 451.6L164.51 450.12M167.39 455.77L168.55 458.45M169.24 460.83L169.93 463.2M170.31 465.8L169.93 463.2M163.51 453.39L163.62 458.54M164.83 460.34L166.04 462.13M166.34 467.76L166.04 462.13M171.64 449.59L172.5 450.88M173.73 452.13L172.5 450.88M175.82 455.72L176.66 458.08M176.91 459.74L177.16 461.4M177.98 464.9L177.16 461.4M171.26 453.17L171.75 458.03M172.87 460.53L173.99 463.03M174.37 468.22L173.99 463.03M179.91 449.7L181.17 451.08M182.24 452.06L181.17 451.08M184.06 455.94L184.8 458.83M185.26 461.1L185.71 463.37M186.31 465.89L185.71 463.37M187.76 449.14L188.92 450.35M190.02 451.66L188.92 450.35M192.18 455.99L193.23 459.02M193.71 461.37L194.19 463.72M194.6 466.06L194.19 463.72M188.03 452.94L189.47 457.95M189.37 460.8L189.27 463.65M190.11 468.52L189.27 463.65M195.94 449.15L196.93 450.37M197.86 451.55L196.93 450.37M200.14 455.58L201.49 458.43M201.51 460.29L201.54 462.15M202.32 465.27L201.54 462.15M203.61 449.63L204.88 451M206.01 452.01L204.88 451M208.35 455.94L209.57 458.85M209.94 461.09L210.31 463.33M210.76 465.86L210.31 463.33M212.09 449.38L212.81 450.8M214.18 451.83L212.81 450.8M216.43 455.12L217.32 457.38M217.75 460.17L218.19 462.97M218.74 465.68L218.19 462.97M211.96 452.96L212.56 457.95M213.33 460.78L214.09 463.6M214.67 468.5L214.09 463.6M220.65 449.35L221.77 450.87M222.12 452.1L221.77 450.87M224.01 455.6L225.55 457.86M225.75 460.57L225.95 463.27M226.68 465.84L225.95 463.27M228.7 449.19L229.72 450.57M230.62 451.82L229.72 450.57M232.29 455.44L233.06 457.81M234.08 460.36L235.11 462.91M235.3 465.66L235.11 462.91M228.18 452.6L228.69 457.38M229.84 459.69L230.99 461.99M231.22 467.7L230.99 461.99M236.49 449.81L237.81 451.1M238.92 452.18L237.81 451.1M240.91 455.69L241.79 458.12M242.58 460.57L243.36 463.01M243.48 465.7L243.36 463.01M235.96 453.45L236.77 458.38M237.39 460.27L238.01 462.16M238.78 467.78L238.01 462.16M245.03 449.42L246.26 450.82M247.05 451.88L246.26 450.82M248.45 455.57L249.06 458.21M250.12 460.37L251.17 462.54M251.43 465.47L251.17 462.54M244.97 453.19L246.14 458.36M246.38 460.5L246.62 462.64M247.13 468.02L246.62 462.64M252.62 449.65L253.29 451.52M253.92 452.3L253.29 451.52M256.12 455.36L257.68 457.64M258.07 460.41L258.46 463.18M259.13 465.79L258.46 463.18M252.57 452.84L253.19 457.88M253.98 460.43L254.76 462.98M255.26 468.19L254.76 462.98M261.37 449.83L262.86 450.88M263.71 451.81L262.86 450.88M265.39 455.26L266.23 457.77M266.69 460.4L267.16 463.04M267.53 465.72L267.16 463.04M260.87 453.52L261.87 458.25M262.15 460.57L262.43 462.88M263.14 468.14L262.43 462.88M269.04 449.48L269.87 450.39M270.86 451.81L269.87 450.39M272.58 456.08L273.32 458.92M274.14 460.95L274.97 462.99M275.49 465.69L274.97 462.99M269.19 453.69L270.15 458.81M270.5 461L270.84 463.19M271.4 468.3L270.84 463.19M277.13 449.96L278.53 450.97M279.49 452L278.53 450.97M281.27 455.67L282.1 458.32M282.53 460.49L282.96 462.67M283.53 465.53L282.96 462.67M276.72 453.2L277.71 457.46M278.78 460.15L279.84 462.83M279.95 468.12L279.84 462.83M285.07 449.63L286.23 451.18M287.34 452.42L286.23 451.18M288.94 455.81L289.43 457.95M290.28 460.44L291.14 462.94M291.67 465.67L291.14 462.94M284.46 453.79L285.01 459.5M285.89 461.3L286.78 463.1M287.46 468.25L286.78 463.1M31.97 470.07L32.59 471.33M33.88 471.91L32.59 471.33M35.66 474.7L36.15 476.9M32.03 472.97L32.71 477.12M39.88 469.79L41 471.11M42.06 472.12L41 471.11M43.98 475.47L44.83 477.82M48.35 469.75L49.67 470.86M50.34 471.96L49.67 470.86M51.88 475.32L52.76 477.57M56.28 469.39L57 470.13M58.16 471.89L57 470.13M60.01 475.29L60.69 476.94M56.09 472.68L56.61 476.7M64.5 469.94L65.58 470.9M66.75 472.27L65.58 470.9M68.38 475.59L68.85 477.54M72.48 469.83L73.33 471.54M74.11 472.22L73.33 471.54M76.18 474.91L77.48 476.91M80.8 470.1L81.68 471.54M82.39 472.71L81.68 471.54M84.18 475.77L85.24 477.66M88.32 469.41L89.31 470.39M90.4 472.09L89.31 470.39M92.48 475.78L93.48 477.76M88.33 472.36L89.34 476.3M96.66 469.71L97.8 471.12M98.82 471.93L97.8 471.12M100.39 475.05L100.92 477.35M96.27 472.82L97.02 477.33M105.36 469.73L106.4 470.82M107.25 472.09L106.4 470.82M108.62 475.48L109.13 477.59M104.79 472.99L105.27 477.33M112.71 469.51L113.39 470.48M114.91 472.12L113.39 470.48M117.23 475.61L118.04 477.46M112.35 472.73L112.67 476.92M120.68 469.96L121.64 471.26M122.91 472.47L121.64 471.26M125.29 475.33L126.39 476.99M129.23 470.02L129.86 471.31M131.04 472.21L129.86 471.31M133.17 475.45L134.1 477.8M129.19 472.73L129.77 476.74M136.76 469.69L137.7 470.8M139.13 472.17L137.7 470.8M140.89 475.45L141.22 477.37M136.63 472.81L137.44 477.04M145.63 470.28L146.79 471.57M147.4 472.16L146.79 471.57M149.25 475.08L150.48 477.42M145.06 472.69L145.66 476.39M153.09 469.76L153.9 470.84M155.11 472.51L153.9 470.84M157.39 475.62L158.46 477.07M161.44 469.53L162.82 470.8M164.04 472.23L162.82 470.8M165.86 475.5L166.45 477.36M160.85 472.63L161.63 476.99M169.79 469.5L170.39 470.52M171.68 472.37L170.39 470.52M173.79 475.85L174.61 477.49M169.6 472.64L170.02 476.78M177.75 469.73L178.49 471.06M179.84 472.08L178.49 471.06M181.66 475.35L182.13 477.59M185.58 469.64L186.46 470.69M187.61 471.83L186.46 470.69M189.49 475.16L190.23 477.35M185.52 473.11L186.34 477.63M194.18 469.8L194.84 471.14M196.28 472.54L194.84 471.14M198.34 475.67L198.96 477.41M193.95 472.82L194.38 477.2M201.72 469.9L202.44 471.15M203.73 472.45L202.44 471.15M206.07 475.65L207.12 477.55M201.76 472.61L202.53 476.58M209.87 469.91L210.86 471.42M212.04 472.64L210.86 471.42M213.65 475.43L214.09 477M209.88 472.53L210.88 476.67M217.68 469.7L218.9 470.74M220.13 471.94L218.9 470.74M222.11 475.36L222.86 477.58M226.9 470.23L227.46 471.95M228.39 472.85L227.46 471.95M230.34 475.46L231.36 477.17M234.74 469.69L236.16 470.98M237 472.14L236.16 470.98M238.4 475.49L238.96 477.7M242.51 469.75L243.78 470.78M244.72 472.14L243.78 470.78M246.36 475.14L247.05 476.77M251.18 469.5L252.14 470.81M252.81 472.4L252.14 470.81M254.24 475.64L255 477.28M250.68 472.58L251.14 476.97M259.14 469.55L260.42 470.33M261.29 472.24L260.42 470.33M262.91 475.51L263.67 476.87M266.92 469.46L267.65 470.66M268.74 472.27L267.65 470.66M270.69 475.85L271.55 477.8M266.35 472.46L266.49 476.65M275.23 470.04L276.5 470.89M277.46 472.35L276.5 470.89M279.06 475.66L279.71 477.51M274.58 473.17L275.21 477.14M282.74 469.93L283.81 471.06M285.14 472.47L283.81 471.06M287.33 475.75L288.2 477.63" stroke="#E03A30" stroke-width="1.3" fill="none"/>
<ellipse cx="29.68" cy="424.45" rx="1.5" ry="1.7" fill="#DA2A22"/>
<ellipse cx="38.23" cy="438.11" rx="1.5" ry="1.9" fill="#DA2A22"/>
<ellipse cx="38.06" cy="442.66" rx="1.5" ry="1.9" fill="#DA2A22"/>
<ellipse cx="32.28" cy="437.6" rx="1.5" ry="1.9" fill="#DA2A22"/>
<ellipse cx="34.19" cy="442.68" rx="1.5" ry="1.9" fill="#DA2A22"/>
<ellipse cx="45.22" cy="438.97" rx="1.5" ry="1.9" fill="#DA2A22"/>
<ellipse cx="46.19" cy="442.68" rx="1.5" ry="1.9" fill="#DA2A22"/>
<ellipse cx="40.45" cy="437.65" rx="1.5" ry="1.9" fill="#DA2A22"/>
<ellipse cx="42.45" cy="443.09" rx="1.5" ry="1.9" fill="#DA2A22"/>
<ellipse cx="46.35" cy="424.62" rx="1.5" ry="1.7" fill="#DA2A22"/>
<ellipse cx="52.67" cy="438.01" rx="1.5" ry="1.9" fill="#DA2A22"/>
<ellipse cx="54.38" cy="443.5" rx="1.5" ry="1.9" fill="#DA2A22"/>
<ellipse cx="53.71" cy="424.89" rx="1.5" ry="1.7" fill="#DA2A22"/>
<ellipse cx="60.2" cy="438.35" rx="1.5" ry="1.9" fill="#DA2A22"/>
<ellipse cx="62.7" cy="441.98" rx="1.5" ry="1.9" fill="#DA2A22"/>
<ellipse cx="56.61" cy="438.18" rx="1.5" ry="1.9" fill="#DA2A22"/>
<ellipse cx="57.49" cy="442.34" rx="1.5" ry="1.9" fill="#DA2A22"/>
<ellipse cx="61.6" cy="424.94" rx="1.5" ry="1.7" fill="#DA2A22"/>
<ellipse cx="68.88" cy="438.7" rx="1.5" ry="1.9" fill="#DA2A22"/>
<ellipse cx="70.59" cy="442.61" rx="1.5" ry="1.9" fill="#DA2A22"/>
<ellipse cx="65.77" cy="438.18" rx="1.5" ry="1.9" fill="#DA2A22"/>
<ellipse cx="66.7" cy="443.37" rx="1.5" ry="1.9" fill="#DA2A22"/>
<ellipse cx="70.14" cy="424.89" rx="1.5" ry="1.7" fill="#DA2A22"/>
<ellipse cx="77.63" cy="437.38" rx="1.5" ry="1.9" fill="#DA2A22"/>
<ellipse cx="78.01" cy="442.8" rx="1.5" ry="1.9" fill="#DA2A22"/>
<ellipse cx="73.5" cy="437.91" rx="1.5" ry="1.9" fill="#DA2A22"/>
<ellipse cx="74.37" cy="442.95" rx="1.5" ry="1.9" fill="#DA2A22"/>
<ellipse cx="79.68" cy="425.4" rx="1.5" ry="1.7" fill="#DA2A22"/>
<ellipse cx="86.1" cy="436.98" rx="1.5" ry="1.9" fill="#DA2A22"/>
<ellipse cx="86.66" cy="442.5" rx="1.5" ry="1.9" fill="#DA2A22"/>
<ellipse cx="80.39" cy="438.39" rx="1.5" ry="1.9" fill="#DA2A22"/>
<ellipse cx="83.03" cy="442.15" rx="1.5" ry="1.9" fill="#DA2A22"/>
<ellipse cx="86.58" cy="425.5" rx="1.5" ry="1.7" fill="#DA2A22"/>
<ellipse cx="93.9" cy="438.68" rx="1.5" ry="1.9" fill="#DA2A22"/>
<ellipse cx="94.47" cy="442.7" rx="1.5" ry="1.9" fill="#DA2A22"/>
<ellipse cx="90" cy="438.13" rx="1.5" ry="1.9" fill="#DA2A22"/>
<ellipse cx="90.58" cy="442.57" rx="1.5" ry="1.9" fill="#DA2A22"/>
<ellipse cx="94.01" cy="424.27" rx="1.5" ry="1.7" fill="#DA2A22"/>
<ellipse cx="101.91" cy="438.43" rx="1.5" ry="1.9" fill="#DA2A22"/>
<ellipse cx="103" cy="442.97" rx="1.5" ry="1.9" fill="#DA2A22"/>
<ellipse cx="97.56" cy="437.04" rx="1.5" ry="1.9" fill="#DA2A22"/>
<ellipse cx="98.62" cy="442.86" rx="1.5" ry="1.9" fill="#DA2A22"/>
<ellipse cx="103.11" cy="425.06" rx="1.5" ry="1.7" fill="#DA2A22"/>
<ellipse cx="110.48" cy="436.95" rx="1.5" ry="1.9" fill="#DA2A22"/>
<ellipse cx="111.44" cy="442.56" rx="1.5" ry="1.9" fill="#DA2A22"/>
<ellipse cx="105.94" cy="438.34" rx="1.5" ry="1.9" fill="#DA2A22"/>
<ellipse cx="107.32" cy="442.88" rx="1.5" ry="1.9" fill="#DA2A22"/>
<ellipse cx="111.89" cy="424.79" rx="1.5" ry="1.7" fill="#DA2A22"/>
<ellipse cx="117.75" cy="438.08" rx="1.5" ry="1.9" fill="#DA2A22"/>
<ellipse cx="119.49" cy="442.51" rx="1.5" ry="1.9" fill="#DA2A22"/>
<ellipse cx="113.69" cy="438.61" rx="1.5" ry="1.9" fill="#DA2A22"/>
<ellipse cx="114.73" cy="443.32" rx="1.5" ry="1.9" fill="#DA2A22"/>
<ellipse cx="119.21" cy="425.45" rx="1.5" ry="1.7" fill="#DA2A22"/>
<ellipse cx="126.11" cy="438.1" rx="1.5" ry="1.9" fill="#DA2A22"/>
<ellipse cx="127.19" cy="442" rx="1.5" ry="1.9" fill="#DA2A22"/>
<ellipse cx="121.1" cy="438.13" rx="1.5" ry="1.9" fill="#DA2A22"/>
<ellipse cx="123.09" cy="443.36" rx="1.5" ry="1.9" fill="#DA2A22"/>
<ellipse cx="126.91" cy="424.47" rx="1.5" ry="1.7" fill="#DA2A22"/>
<ellipse cx="134.02" cy="436.93" rx="1.5" ry="1.9" fill="#DA2A22"/>
<ellipse cx="135.34" cy="442.2" rx="1.5" ry="1.9" fill="#DA2A22"/>
<ellipse cx="130.41" cy="436.82" rx="1.5" ry="1.9" fill="#DA2A22"/>
<ellipse cx="131.26" cy="442.74" rx="1.5" ry="1.9" fill="#DA2A22"/>
<ellipse cx="134.48" cy="425.05" rx="1.5" ry="1.7" fill="#DA2A22"/>
<ellipse cx="142.49" cy="437.43" rx="1.5" ry="1.9" fill="#DA2A22"/>
<ellipse cx="143.24" cy="442.76" rx="1.5" ry="1.9" fill="#DA2A22"/>
<ellipse cx="138.7" cy="437.9" rx="1.5" ry="1.9" fill="#DA2A22"/>
<ellipse cx="138.9" cy="442.41" rx="1.5" ry="1.9" fill="#DA2A22"/>
<ellipse cx="150.09" cy="438.37" rx="1.5" ry="1.9" fill="#DA2A22"/>
<ellipse cx="151.66" cy="443.11" rx="1.5" ry="1.9" fill="#DA2A22"/>
<ellipse cx="146.81" cy="437.74" rx="1.5" ry="1.9" fill="#DA2A22"/>
<ellipse cx="147.41" cy="442.33" rx="1.5" ry="1.9" fill="#DA2A22"/>
<ellipse cx="151.72" cy="425.04" rx="1.5" ry="1.7" fill="#DA2A22"/>
<ellipse cx="158.36" cy="438.36" rx="1.5" ry="1.9" fill="#DA2A22"/>
<ellipse cx="160.21" cy="442.92" rx="1.5" ry="1.9" fill="#DA2A22"/>
<ellipse cx="154.49" cy="438.75" rx="1.5" ry="1.9" fill="#DA2A22"/>
<ellipse cx="155.42" cy="442.75" rx="1.5" ry="1.9" fill="#DA2A22"/>
<ellipse cx="159.67" cy="424.58" rx="1.5" ry="1.7" fill="#DA2A22"/>
<ellipse cx="166.58" cy="437.23" rx="1.5" ry="1.9" fill="#DA2A22"/>
<ellipse cx="167.57" cy="443.71" rx="1.5" ry="1.9" fill="#DA2A22"/>
<ellipse cx="163.04" cy="437.76" rx="1.5" ry="1.9" fill="#DA2A22"/>
<ellipse cx="164" cy="442.82" rx="1.5" ry="1.9" fill="#DA2A22"/>
<ellipse cx="173.92" cy="437.66" rx="1.5" ry="1.9" fill="#DA2A22"/>
<ellipse cx="176.24" cy="442.56" rx="1.5" ry="1.9" fill="#DA2A22"/>
<ellipse cx="171.01" cy="437.82" rx="1.5" ry="1.9" fill="#DA2A22"/>
<ellipse cx="171.25" cy="442.15" rx="1.5" ry="1.9" fill="#DA2A22"/>
<ellipse cx="182.57" cy="437.35" rx="1.5" ry="1.9" fill="#DA2A22"/>
<ellipse cx="183.37" cy="442.56" rx="1.5" ry="1.9" fill="#DA2A22"/>
<ellipse cx="178.12" cy="438.14" rx="1.5" ry="1.9" fill="#DA2A22"/>
<ellipse cx="179.76" cy="444.26" rx="1.5" ry="1.9" fill="#DA2A22"/>
<ellipse cx="182.17" cy="425.12" rx="1.5" ry="1.7" fill="#DA2A22"/>
<ellipse cx="190.55" cy="438.74" rx="1.5" ry="1.9" fill="#DA2A22"/>
<ellipse cx="191.84" cy="442.21" rx="1.5" ry="1.9" fill="#DA2A22"/>
<ellipse cx="186.17" cy="437.9" rx="1.5" ry="1.9" fill="#DA2A22"/>
<ellipse cx="188.48" cy="442.86" rx="1.5" ry="1.9" fill="#DA2A22"/>
<ellipse cx="191.63" cy="424.43" rx="1.5" ry="1.7" fill="#DA2A22"/>
<ellipse cx="199.19" cy="437.8" rx="1.5" ry="1.9" fill="#DA2A22"/>
<ellipse cx="200.32" cy="442.87" rx="1.5" ry="1.9" fill="#DA2A22"/>
<ellipse cx="199.29" cy="425.03" rx="1.5" ry="1.7" fill="#DA2A22"/>
<ellipse cx="207.07" cy="437.41" rx="1.5" ry="1.9" fill="#DA2A22"/>
<ellipse cx="208.57" cy="442.93" rx="1.5" ry="1.9" fill="#DA2A22"/>
<ellipse cx="202.54" cy="438.67" rx="1.5" ry="1.9" fill="#DA2A22"/>
<ellipse cx="204.26" cy="442.74" rx="1.5" ry="1.9" fill="#DA2A22"/>
<ellipse cx="208.41" cy="424.77" rx="1.5" ry="1.7" fill="#DA2A22"/>
<ellipse cx="214.34" cy="438.15" rx="1.5" ry="1.9" fill="#DA2A22"/>
<ellipse cx="216.72" cy="442.88" rx="1.5" ry="1.9" fill="#DA2A22"/>
<ellipse cx="210.79" cy="437.56" rx="1.5" ry="1.9" fill="#DA2A22"/>
<ellipse cx="212.05" cy="442.33" rx="1.5" ry="1.9" fill="#DA2A22"/>
<ellipse cx="215.74" cy="425.37" rx="1.5" ry="1.7" fill="#DA2A22"/>
<ellipse cx="223.77" cy="438.49" rx="1.5" ry="1.9" fill="#DA2A22"/>
<ellipse cx="224.82" cy="443.38" rx="1.5" ry="1.9" fill="#DA2A22"/>
<ellipse cx="219.06" cy="438.07" rx="1.5" ry="1.9" fill="#DA2A22"/>
<ellipse cx="220.61" cy="442.41" rx="1.5" ry="1.9" fill="#DA2A22"/>
<ellipse cx="224.43" cy="425.1" rx="1.5" ry="1.7" fill="#DA2A22"/>
<ellipse cx="231.53" cy="437.73" rx="1.5" ry="1.9" fill="#DA2A22"/>
<ellipse cx="232.54" cy="443.31" rx="1.5" ry="1.9" fill="#DA2A22"/>
<ellipse cx="227.14" cy="437.84" rx="1.5" ry="1.9" fill="#DA2A22"/>
<ellipse cx="228.48" cy="443.32" rx="1.5" ry="1.9" fill="#DA2A22"/>
<ellipse cx="231.76" cy="425.12" rx="1.5" ry="1.7" fill="#DA2A22"/>
<ellipse cx="238.69" cy="438.27" rx="1.5" ry="1.9" fill="#DA2A22"/>
<ellipse cx="240.07" cy="442.16" rx="1.5" ry="1.9" fill="#DA2A22"/>
<ellipse cx="235.04" cy="437.4" rx="1.5" ry="1.9" fill="#DA2A22"/>
<ellipse cx="236.32" cy="443.03" rx="1.5" ry="1.9" fill="#DA2A22"/>
<ellipse cx="247.9" cy="438.64" rx="1.5" ry="1.9" fill="#DA2A22"/>
<ellipse cx="248.79" cy="442.72" rx="1.5" ry="1.9" fill="#DA2A22"/>
<ellipse cx="249.79" cy="424.76" rx="1.5" ry="1.7" fill="#DA2A22"/>
<ellipse cx="255.61" cy="436.86" rx="1.5" ry="1.9" fill="#DA2A22"/>
<ellipse cx="256.98" cy="442.8" rx="1.5" ry="1.9" fill="#DA2A22"/>
<ellipse cx="251.71" cy="437.02" rx="1.5" ry="1.9" fill="#DA2A22"/>
<ellipse cx="252.61" cy="442.87" rx="1.5" ry="1.9" fill="#DA2A22"/>
<ellipse cx="263.22" cy="437.85" rx="1.5" ry="1.9" fill="#DA2A22"/>
<ellipse cx="264.96" cy="442.73" rx="1.5" ry="1.9" fill="#DA2A22"/>
<ellipse cx="259.65" cy="438.68" rx="1.5" ry="1.9" fill="#DA2A22"/>
<ellipse cx="261.35" cy="443.14" rx="1.5" ry="1.9" fill="#DA2A22"/>
<ellipse cx="271.84" cy="438.26" rx="1.5" ry="1.9" fill="#DA2A22"/>
<ellipse cx="273.23" cy="443.64" rx="1.5" ry="1.9" fill="#DA2A22"/>
<ellipse cx="267.49" cy="437.95" rx="1.5" ry="1.9" fill="#DA2A22"/>
<ellipse cx="268.72" cy="442.88" rx="1.5" ry="1.9" fill="#DA2A22"/>
<ellipse cx="272.21" cy="424.52" rx="1.5" ry="1.7" fill="#DA2A22"/>
<ellipse cx="279.88" cy="438.27" rx="1.5" ry="1.9" fill="#DA2A22"/>
<ellipse cx="281.18" cy="442.55" rx="1.5" ry="1.9" fill="#DA2A22"/>
<ellipse cx="275.9" cy="438.52" rx="1.5" ry="1.9" fill="#DA2A22"/>
<ellipse cx="277.13" cy="442.89" rx="1.5" ry="1.9" fill="#DA2A22"/>
<ellipse cx="288.45" cy="438.85" rx="1.5" ry="1.9" fill="#DA2A22"/>
<ellipse cx="289.19" cy="443" rx="1.5" ry="1.9" fill="#DA2A22"/>
<ellipse cx="284.11" cy="437.06" rx="1.5" ry="1.9" fill="#DA2A22"/>
<ellipse cx="285.75" cy="442.57" rx="1.5" ry="1.9" fill="#DA2A22"/>
<ellipse cx="38.75" cy="457.86" rx="1.5" ry="1.9" fill="#DA2A22"/>
<ellipse cx="39.51" cy="463.55" rx="1.5" ry="1.9" fill="#DA2A22"/>
<ellipse cx="46.11" cy="456.43" rx="1.5" ry="1.9" fill="#DA2A22"/>
<ellipse cx="47.88" cy="463.43" rx="1.5" ry="1.9" fill="#DA2A22"/>
<ellipse cx="42.71" cy="458.2" rx="1.5" ry="1.9" fill="#DA2A22"/>
<ellipse cx="43.75" cy="463.01" rx="1.5" ry="1.9" fill="#DA2A22"/>
<ellipse cx="55.62" cy="459.39" rx="1.5" ry="1.9" fill="#DA2A22"/>
<ellipse cx="56.1" cy="461.81" rx="1.5" ry="1.9" fill="#DA2A22"/>
<ellipse cx="51.12" cy="458.09" rx="1.5" ry="1.9" fill="#DA2A22"/>
<ellipse cx="52.62" cy="463.44" rx="1.5" ry="1.9" fill="#DA2A22"/>
<ellipse cx="63.51" cy="458.45" rx="1.5" ry="1.9" fill="#DA2A22"/>
<ellipse cx="64.81" cy="463.31" rx="1.5" ry="1.9" fill="#DA2A22"/>
<ellipse cx="59.12" cy="457.91" rx="1.5" ry="1.9" fill="#DA2A22"/>
<ellipse cx="60.42" cy="463.52" rx="1.5" ry="1.9" fill="#DA2A22"/>
<ellipse cx="71.76" cy="458.25" rx="1.5" ry="1.9" fill="#DA2A22"/>
<ellipse cx="72.51" cy="462.23" rx="1.5" ry="1.9" fill="#DA2A22"/>
<ellipse cx="67.38" cy="457.02" rx="1.5" ry="1.9" fill="#DA2A22"/>
<ellipse cx="68.88" cy="463.72" rx="1.5" ry="1.9" fill="#DA2A22"/>
<ellipse cx="79.34" cy="458.02" rx="1.5" ry="1.9" fill="#DA2A22"/>
<ellipse cx="79.75" cy="463.28" rx="1.5" ry="1.9" fill="#DA2A22"/>
<ellipse cx="88.06" cy="457.94" rx="1.5" ry="1.9" fill="#DA2A22"/>
<ellipse cx="89.35" cy="463.03" rx="1.5" ry="1.9" fill="#DA2A22"/>
<ellipse cx="83.91" cy="457.49" rx="1.5" ry="1.9" fill="#DA2A22"/>
<ellipse cx="85.01" cy="462.65" rx="1.5" ry="1.9" fill="#DA2A22"/>
<ellipse cx="95.42" cy="458.32" rx="1.5" ry="1.9" fill="#DA2A22"/>
<ellipse cx="96.34" cy="462.34" rx="1.5" ry="1.9" fill="#DA2A22"/>
<ellipse cx="91.07" cy="457.55" rx="1.5" ry="1.9" fill="#DA2A22"/>
<ellipse cx="92.67" cy="462.83" rx="1.5" ry="1.9" fill="#DA2A22"/>
<ellipse cx="103.12" cy="457.93" rx="1.5" ry="1.9" fill="#DA2A22"/>
<ellipse cx="104.17" cy="462.61" rx="1.5" ry="1.9" fill="#DA2A22"/>
<ellipse cx="100.15" cy="458.38" rx="1.5" ry="1.9" fill="#DA2A22"/>
<ellipse cx="100.46" cy="463.15" rx="1.5" ry="1.9" fill="#DA2A22"/>
<ellipse cx="112.73" cy="458.19" rx="1.5" ry="1.9" fill="#DA2A22"/>
<ellipse cx="112.97" cy="463.57" rx="1.5" ry="1.9" fill="#DA2A22"/>
<ellipse cx="107.38" cy="457.94" rx="1.5" ry="1.9" fill="#DA2A22"/>
<ellipse cx="108.33" cy="462.8" rx="1.5" ry="1.9" fill="#DA2A22"/>
<ellipse cx="120.14" cy="458.23" rx="1.5" ry="1.9" fill="#DA2A22"/>
<ellipse cx="120.69" cy="463.78" rx="1.5" ry="1.9" fill="#DA2A22"/>
<ellipse cx="115.64" cy="458.27" rx="1.5" ry="1.9" fill="#DA2A22"/>
<ellipse cx="116.13" cy="462.87" rx="1.5" ry="1.9" fill="#DA2A22"/>
<ellipse cx="128.08" cy="458.17" rx="1.5" ry="1.9" fill="#DA2A22"/>
<ellipse cx="128.79" cy="462.07" rx="1.5" ry="1.9" fill="#DA2A22"/>
<ellipse cx="136.94" cy="458.02" rx="1.5" ry="1.9" fill="#DA2A22"/>
<ellipse cx="137.49" cy="462.31" rx="1.5" ry="1.9" fill="#DA2A22"/>
<ellipse cx="131.38" cy="458.03" rx="1.5" ry="1.9" fill="#DA2A22"/>
<ellipse cx="133.25" cy="462.37" rx="1.5" ry="1.9" fill="#DA2A22"/>
<ellipse cx="144.57" cy="457.95" rx="1.5" ry="1.9" fill="#DA2A22"/>
<ellipse cx="145.28" cy="462.64" rx="1.5" ry="1.9" fill="#DA2A22"/>
<ellipse cx="140.32" cy="457.79" rx="1.5" ry="1.9" fill="#DA2A22"/>
<ellipse cx="141.46" cy="462.85" rx="1.5" ry="1.9" fill="#DA2A22"/>
<ellipse cx="152.28" cy="457.31" rx="1.5" ry="1.9" fill="#DA2A22"/>
<ellipse cx="153.4" cy="462.15" rx="1.5" ry="1.9" fill="#DA2A22"/>
<ellipse cx="147.88" cy="457.97" rx="1.5" ry="1.9" fill="#DA2A22"/>
<ellipse cx="150.03" cy="463.04" rx="1.5" ry="1.9" fill="#DA2A22"/>
<ellipse cx="161.05" cy="458.34" rx="1.5" ry="1.9" fill="#DA2A22"/>
<ellipse cx="161.49" cy="463.72" rx="1.5" ry="1.9" fill="#DA2A22"/>
<ellipse cx="155.95" cy="457.29" rx="1.5" ry="1.9" fill="#DA2A22"/>
<ellipse cx="157.12" cy="462.78" rx="1.5" ry="1.9" fill="#DA2A22"/>
<ellipse cx="168.55" cy="458.45" rx="1.5" ry="1.9" fill="#DA2A22"/>
<ellipse cx="169.93" cy="463.2" rx="1.5" ry="1.9" fill="#DA2A22"/>
<ellipse cx="163.62" cy="458.54" rx="1.5" ry="1.9" fill="#DA2A22"/>
<ellipse cx="166.04" cy="462.13" rx="1.5" ry="1.9" fill="#DA2A22"/>
<ellipse cx="176.66" cy="458.08" rx="1.5" ry="1.9" fill="#DA2A22"/>
<ellipse cx="177.16" cy="461.4" rx="1.5" ry="1.9" fill="#DA2A22"/>
<ellipse cx="171.75" cy="458.03" rx="1.5" ry="1.9" fill="#DA2A22"/>
<ellipse cx="173.99" cy="463.03" rx="1.5" ry="1.9" fill="#DA2A22"/>
<ellipse cx="184.8" cy="458.83" rx="1.5" ry="1.9" fill="#DA2A22"/>
<ellipse cx="185.71" cy="463.37" rx="1.5" ry="1.9" fill="#DA2A22"/>
<ellipse cx="193.23" cy="459.02" rx="1.5" ry="1.9" fill="#DA2A22"/>
<ellipse cx="194.19" cy="463.72" rx="1.5" ry="1.9" fill="#DA2A22"/>
<ellipse cx="189.47" cy="457.95" rx="1.5" ry="1.9" fill="#DA2A22"/>
<ellipse cx="189.27" cy="463.65" rx="1.5" ry="1.9" fill="#DA2A22"/>
<ellipse cx="201.49" cy="458.43" rx="1.5" ry="1.9" fill="#DA2A22"/>
<ellipse cx="201.54" cy="462.15" rx="1.5" ry="1.9" fill="#DA2A22"/>
<ellipse cx="209.57" cy="458.85" rx="1.5" ry="1.9" fill="#DA2A22"/>
<ellipse cx="210.31" cy="463.33" rx="1.5" ry="1.9" fill="#DA2A22"/>
<ellipse cx="217.32" cy="457.38" rx="1.5" ry="1.9" fill="#DA2A22"/>
<ellipse cx="218.19" cy="462.97" rx="1.5" ry="1.9" fill="#DA2A22"/>
<ellipse cx="212.56" cy="457.95" rx="1.5" ry="1.9" fill="#DA2A22"/>
<ellipse cx="214.09" cy="463.6" rx="1.5" ry="1.9" fill="#DA2A22"/>
<ellipse cx="225.55" cy="457.86" rx="1.5" ry="1.9" fill="#DA2A22"/>
<ellipse cx="225.95" cy="463.27" rx="1.5" ry="1.9" fill="#DA2A22"/>
<ellipse cx="233.06" cy="457.81" rx="1.5" ry="1.9" fill="#DA2A22"/>
<ellipse cx="235.11" cy="462.91" rx="1.5" ry="1.9" fill="#DA2A22"/>
<ellipse cx="228.69" cy="457.38" rx="1.5" ry="1.9" fill="#DA2A22"/>
<ellipse cx="230.99" cy="461.99" rx="1.5" ry="1.9" fill="#DA2A22"/>
<ellipse cx="241.79" cy="458.12" rx="1.5" ry="1.9" fill="#DA2A22"/>
<ellipse cx="243.36" cy="463.01" rx="1.5" ry="1.9" fill="#DA2A22"/>
<ellipse cx="236.77" cy="458.38" rx="1.5" ry="1.9" fill="#DA2A22"/>
<ellipse cx="238.01" cy="462.16" rx="1.5" ry="1.9" fill="#DA2A22"/>
<ellipse cx="249.06" cy="458.21" rx="1.5" ry="1.9" fill="#DA2A22"/>
<ellipse cx="251.17" cy="462.54" rx="1.5" ry="1.9" fill="#DA2A22"/>
<ellipse cx="246.14" cy="458.36" rx="1.5" ry="1.9" fill="#DA2A22"/>
<ellipse cx="246.62" cy="462.64" rx="1.5" ry="1.9" fill="#DA2A22"/>
<ellipse cx="257.68" cy="457.64" rx="1.5" ry="1.9" fill="#DA2A22"/>
<ellipse cx="258.46" cy="463.18" rx="1.5" ry="1.9" fill="#DA2A22"/>
<ellipse cx="253.19" cy="457.88" rx="1.5" ry="1.9" fill="#DA2A22"/>
<ellipse cx="254.76" cy="462.98" rx="1.5" ry="1.9" fill="#DA2A22"/>
<ellipse cx="266.23" cy="457.77" rx="1.5" ry="1.9" fill="#DA2A22"/>
<ellipse cx="267.16" cy="463.04" rx="1.5" ry="1.9" fill="#DA2A22"/>
<ellipse cx="261.87" cy="458.25" rx="1.5" ry="1.9" fill="#DA2A22"/>
<ellipse cx="262.43" cy="462.88" rx="1.5" ry="1.9" fill="#DA2A22"/>
<ellipse cx="273.32" cy="458.92" rx="1.5" ry="1.9" fill="#DA2A22"/>
<ellipse cx="274.97" cy="462.99" rx="1.5" ry="1.9" fill="#DA2A22"/>
<ellipse cx="270.15" cy="458.81" rx="1.5" ry="1.9" fill="#DA2A22"/>
<ellipse cx="270.84" cy="463.19" rx="1.5" ry="1.9" fill="#DA2A22"/>
<ellipse cx="282.1" cy="458.32" rx="1.5" ry="1.9" fill="#DA2A22"/>
<ellipse cx="282.96" cy="462.67" rx="1.5" ry="1.9" fill="#DA2A22"/>
<ellipse cx="277.71" cy="457.46" rx="1.5" ry="1.9" fill="#DA2A22"/>
<ellipse cx="279.84" cy="462.83" rx="1.5" ry="1.9" fill="#DA2A22"/>
<ellipse cx="289.43" cy="457.95" rx="1.5" ry="1.9" fill="#DA2A22"/>
<ellipse cx="291.14" cy="462.94" rx="1.5" ry="1.9" fill="#DA2A22"/>
<ellipse cx="285.01" cy="459.5" rx="1.5" ry="1.9" fill="#DA2A22"/>
<ellipse cx="286.78" cy="463.1" rx="1.5" ry="1.9" fill="#DA2A22"/>
<ellipse cx="36.15" cy="476.9" rx="1.6" ry="1.6" fill="#DA2A22"/>
<ellipse cx="32.71" cy="477.12" rx="1.6" ry="1.6" fill="#DA2A22"/>
<ellipse cx="44.83" cy="477.82" rx="1.6" ry="1.6" fill="#DA2A22"/>
<ellipse cx="52.76" cy="477.57" rx="1.6" ry="1.6" fill="#DA2A22"/>
<ellipse cx="60.69" cy="476.94" rx="1.6" ry="1.6" fill="#DA2A22"/>
<ellipse cx="56.61" cy="476.7" rx="1.6" ry="1.6" fill="#DA2A22"/>
<ellipse cx="68.85" cy="477.54" rx="1.6" ry="1.6" fill="#DA2A22"/>
<ellipse cx="77.48" cy="476.91" rx="1.6" ry="1.6" fill="#DA2A22"/>
<ellipse cx="85.24" cy="477.66" rx="1.6" ry="1.6" fill="#DA2A22"/>
<ellipse cx="93.48" cy="477.76" rx="1.6" ry="1.6" fill="#DA2A22"/>
<ellipse cx="89.34" cy="476.3" rx="1.6" ry="1.6" fill="#DA2A22"/>
<ellipse cx="100.92" cy="477.35" rx="1.6" ry="1.6" fill="#DA2A22"/>
<ellipse cx="97.02" cy="477.33" rx="1.6" ry="1.6" fill="#DA2A22"/>
<ellipse cx="109.13" cy="477.59" rx="1.6" ry="1.6" fill="#DA2A22"/>
<ellipse cx="105.27" cy="477.33" rx="1.6" ry="1.6" fill="#DA2A22"/>
<ellipse cx="118.04" cy="477.46" rx="1.6" ry="1.6" fill="#DA2A22"/>
<ellipse cx="112.67" cy="476.92" rx="1.6" ry="1.6" fill="#DA2A22"/>
<ellipse cx="126.39" cy="476.99" rx="1.6" ry="1.6" fill="#DA2A22"/>
<ellipse cx="134.1" cy="477.8" rx="1.6" ry="1.6" fill="#DA2A22"/>
<ellipse cx="129.77" cy="476.74" rx="1.6" ry="1.6" fill="#DA2A22"/>
<ellipse cx="141.22" cy="477.37" rx="1.6" ry="1.6" fill="#DA2A22"/>
<ellipse cx="137.44" cy="477.04" rx="1.6" ry="1.6" fill="#DA2A22"/>
<ellipse cx="150.48" cy="477.42" rx="1.6" ry="1.6" fill="#DA2A22"/>
<ellipse cx="145.66" cy="476.39" rx="1.6" ry="1.6" fill="#DA2A22"/>
<ellipse cx="158.46" cy="477.07" rx="1.6" ry="1.6" fill="#DA2A22"/>
<ellipse cx="166.45" cy="477.36" rx="1.6" ry="1.6" fill="#DA2A22"/>
<ellipse cx="161.63" cy="476.99" rx="1.6" ry="1.6" fill="#DA2A22"/>
<ellipse cx="174.61" cy="477.49" rx="1.6" ry="1.6" fill="#DA2A22"/>
<ellipse cx="170.02" cy="476.78" rx="1.6" ry="1.6" fill="#DA2A22"/>
<ellipse cx="182.13" cy="477.59" rx="1.6" ry="1.6" fill="#DA2A22"/>
<ellipse cx="190.23" cy="477.35" rx="1.6" ry="1.6" fill="#DA2A22"/>
<ellipse cx="186.34" cy="477.63" rx="1.6" ry="1.6" fill="#DA2A22"/>
<ellipse cx="198.96" cy="477.41" rx="1.6" ry="1.6" fill="#DA2A22"/>
<ellipse cx="194.38" cy="477.2" rx="1.6" ry="1.6" fill="#DA2A22"/>
<ellipse cx="207.12" cy="477.55" rx="1.6" ry="1.6" fill="#DA2A22"/>
<ellipse cx="202.53" cy="476.58" rx="1.6" ry="1.6" fill="#DA2A22"/>
<ellipse cx="214.09" cy="477" rx="1.6" ry="1.6" fill="#DA2A22"/>
<ellipse cx="210.88" cy="476.67" rx="1.6" ry="1.6" fill="#DA2A22"/>
<ellipse cx="222.86" cy="477.58" rx="1.6" ry="1.6" fill="#DA2A22"/>
<ellipse cx="231.36" cy="477.17" rx="1.6" ry="1.6" fill="#DA2A22"/>
<ellipse cx="238.96" cy="477.7" rx="1.6" ry="1.6" fill="#DA2A22"/>
<ellipse cx="247.05" cy="476.77" rx="1.6" ry="1.6" fill="#DA2A22"/>
<ellipse cx="255" cy="477.28" rx="1.6" ry="1.6" fill="#DA2A22"/>
<ellipse cx="251.14" cy="476.97" rx="1.6" ry="1.6" fill="#DA2A22"/>
<ellipse cx="263.67" cy="476.87" rx="1.6" ry="1.6" fill="#DA2A22"/>
<ellipse cx="271.55" cy="477.8" rx="1.6" ry="1.6" fill="#DA2A22"/>
<ellipse cx="266.49" cy="476.65" rx="1.6" ry="1.6" fill="#DA2A22"/>
<ellipse cx="279.71" cy="477.51" rx="1.6" ry="1.6" fill="#DA2A22"/>
<ellipse cx="275.21" cy="477.14" rx="1.6" ry="1.6" fill="#DA2A22"/>
<ellipse cx="288.2" cy="477.63" rx="1.6" ry="1.6" fill="#DA2A22"/>
<circle cx="31.82" cy="427.31" r="3.25" fill="url(#tig)" stroke="#62A6C8" stroke-width="0.4"/>
<circle cx="35.22" cy="433" r="3.25" fill="url(#tig)" stroke="#62A6C8" stroke-width="0.4"/>
<circle cx="39.48" cy="428.13" r="3.25" fill="url(#tig)" stroke="#62A6C8" stroke-width="0.4"/>
<circle cx="43.16" cy="433.74" r="3.25" fill="url(#tig)" stroke="#62A6C8" stroke-width="0.4"/>
<circle cx="47.24" cy="428.43" r="3.25" fill="url(#tig)" stroke="#62A6C8" stroke-width="0.4"/>
<circle cx="50.12" cy="433.56" r="3.25" fill="url(#tig)" stroke="#62A6C8" stroke-width="0.4"/>
<circle cx="55.38" cy="428.59" r="3.25" fill="url(#tig)" stroke="#62A6C8" stroke-width="0.4"/>
<circle cx="59.27" cy="432.88" r="3.25" fill="url(#tig)" stroke="#62A6C8" stroke-width="0.4"/>
<circle cx="63.68" cy="428.6" r="3.25" fill="url(#tig)" stroke="#62A6C8" stroke-width="0.4"/>
<circle cx="66.59" cy="433.03" r="3.25" fill="url(#tig)" stroke="#62A6C8" stroke-width="0.4"/>
<circle cx="71.64" cy="427.98" r="3.25" fill="url(#tig)" stroke="#62A6C8" stroke-width="0.4"/>
<circle cx="75.23" cy="432.92" r="3.25" fill="url(#tig)" stroke="#62A6C8" stroke-width="0.4"/>
<circle cx="79.5" cy="428.49" r="3.25" fill="url(#tig)" stroke="#62A6C8" stroke-width="0.4"/>
<circle cx="83.33" cy="433.25" r="3.25" fill="url(#tig)" stroke="#62A6C8" stroke-width="0.4"/>
<circle cx="87.31" cy="427.92" r="3.25" fill="url(#tig)" stroke="#62A6C8" stroke-width="0.4"/>
<circle cx="91.77" cy="433.42" r="3.25" fill="url(#tig)" stroke="#62A6C8" stroke-width="0.4"/>
<circle cx="95.99" cy="427.95" r="3.25" fill="url(#tig)" stroke="#62A6C8" stroke-width="0.4"/>
<circle cx="99.48" cy="433.37" r="3.25" fill="url(#tig)" stroke="#62A6C8" stroke-width="0.4"/>
<circle cx="103.59" cy="428.03" r="3.25" fill="url(#tig)" stroke="#62A6C8" stroke-width="0.4"/>
<circle cx="107.62" cy="433.08" r="3.25" fill="url(#tig)" stroke="#62A6C8" stroke-width="0.4"/>
<circle cx="112.64" cy="428.1" r="3.25" fill="url(#tig)" stroke="#62A6C8" stroke-width="0.4"/>
<circle cx="115.99" cy="433.48" r="3.25" fill="url(#tig)" stroke="#62A6C8" stroke-width="0.4"/>
<circle cx="119.84" cy="427.86" r="3.25" fill="url(#tig)" stroke="#62A6C8" stroke-width="0.4"/>
<circle cx="123.87" cy="432.78" r="3.25" fill="url(#tig)" stroke="#62A6C8" stroke-width="0.4"/>
<circle cx="128.17" cy="427.91" r="3.25" fill="url(#tig)" stroke="#62A6C8" stroke-width="0.4"/>
<circle cx="132.39" cy="433" r="3.25" fill="url(#tig)" stroke="#62A6C8" stroke-width="0.4"/>
<circle cx="135.88" cy="428.39" r="3.25" fill="url(#tig)" stroke="#62A6C8" stroke-width="0.4"/>
<circle cx="140.17" cy="432.58" r="3.25" fill="url(#tig)" stroke="#62A6C8" stroke-width="0.4"/>
<circle cx="144.38" cy="429" r="3.25" fill="url(#tig)" stroke="#62A6C8" stroke-width="0.4"/>
<circle cx="148.38" cy="433.24" r="3.25" fill="url(#tig)" stroke="#62A6C8" stroke-width="0.4"/>
<circle cx="152.21" cy="428.4" r="3.25" fill="url(#tig)" stroke="#62A6C8" stroke-width="0.4"/>
<circle cx="156.94" cy="433.46" r="3.25" fill="url(#tig)" stroke="#62A6C8" stroke-width="0.4"/>
<circle cx="160.55" cy="428.63" r="3.25" fill="url(#tig)" stroke="#62A6C8" stroke-width="0.4"/>
<circle cx="163.92" cy="433.33" r="3.25" fill="url(#tig)" stroke="#62A6C8" stroke-width="0.4"/>
<circle cx="167.8" cy="428" r="3.25" fill="url(#tig)" stroke="#62A6C8" stroke-width="0.4"/>
<circle cx="172.83" cy="432.8" r="3.25" fill="url(#tig)" stroke="#62A6C8" stroke-width="0.4"/>
<circle cx="176.79" cy="428.51" r="3.25" fill="url(#tig)" stroke="#62A6C8" stroke-width="0.4"/>
<circle cx="180.96" cy="433.39" r="3.25" fill="url(#tig)" stroke="#62A6C8" stroke-width="0.4"/>
<circle cx="185.27" cy="427.98" r="3.25" fill="url(#tig)" stroke="#62A6C8" stroke-width="0.4"/>
<circle cx="189.26" cy="433.32" r="3.25" fill="url(#tig)" stroke="#62A6C8" stroke-width="0.4"/>
<circle cx="192.97" cy="428.24" r="3.25" fill="url(#tig)" stroke="#62A6C8" stroke-width="0.4"/>
<circle cx="197.39" cy="432.92" r="3.25" fill="url(#tig)" stroke="#62A6C8" stroke-width="0.4"/>
<circle cx="200.84" cy="428.17" r="3.25" fill="url(#tig)" stroke="#62A6C8" stroke-width="0.4"/>
<circle cx="204.13" cy="432.89" r="3.25" fill="url(#tig)" stroke="#62A6C8" stroke-width="0.4"/>
<circle cx="208.99" cy="428.11" r="3.25" fill="url(#tig)" stroke="#62A6C8" stroke-width="0.4"/>
<circle cx="213.59" cy="433.11" r="3.25" fill="url(#tig)" stroke="#62A6C8" stroke-width="0.4"/>
<circle cx="217.84" cy="428.26" r="3.25" fill="url(#tig)" stroke="#62A6C8" stroke-width="0.4"/>
<circle cx="221.15" cy="432.73" r="3.25" fill="url(#tig)" stroke="#62A6C8" stroke-width="0.4"/>
<circle cx="226" cy="428.28" r="3.25" fill="url(#tig)" stroke="#62A6C8" stroke-width="0.4"/>
<circle cx="230.26" cy="432.49" r="3.25" fill="url(#tig)" stroke="#62A6C8" stroke-width="0.4"/>
<circle cx="233.08" cy="427.73" r="3.25" fill="url(#tig)" stroke="#62A6C8" stroke-width="0.4"/>
<circle cx="237.6" cy="432.81" r="3.25" fill="url(#tig)" stroke="#62A6C8" stroke-width="0.4"/>
<circle cx="241.58" cy="428.19" r="3.25" fill="url(#tig)" stroke="#62A6C8" stroke-width="0.4"/>
<circle cx="246.07" cy="432.95" r="3.25" fill="url(#tig)" stroke="#62A6C8" stroke-width="0.4"/>
<circle cx="249.54" cy="428.49" r="3.25" fill="url(#tig)" stroke="#62A6C8" stroke-width="0.4"/>
<circle cx="254.04" cy="432.96" r="3.25" fill="url(#tig)" stroke="#62A6C8" stroke-width="0.4"/>
<circle cx="257.3" cy="428.5" r="3.25" fill="url(#tig)" stroke="#62A6C8" stroke-width="0.4"/>
<circle cx="262.27" cy="432.71" r="3.25" fill="url(#tig)" stroke="#62A6C8" stroke-width="0.4"/>
<circle cx="266.33" cy="428.66" r="3.25" fill="url(#tig)" stroke="#62A6C8" stroke-width="0.4"/>
<circle cx="270.23" cy="432.77" r="3.25" fill="url(#tig)" stroke="#62A6C8" stroke-width="0.4"/>
<circle cx="274" cy="428.3" r="3.25" fill="url(#tig)" stroke="#62A6C8" stroke-width="0.4"/>
<circle cx="278.82" cy="433.06" r="3.25" fill="url(#tig)" stroke="#62A6C8" stroke-width="0.4"/>
<circle cx="282.28" cy="427.87" r="3.25" fill="url(#tig)" stroke="#62A6C8" stroke-width="0.4"/>
<circle cx="286.03" cy="433.11" r="3.25" fill="url(#tig)" stroke="#62A6C8" stroke-width="0.4"/>
<circle cx="33.51" cy="448.33" r="3.25" fill="url(#tig)" stroke="#62A6C8" stroke-width="0.4"/>
<circle cx="36.89" cy="453.25" r="3.25" fill="url(#tig)" stroke="#62A6C8" stroke-width="0.4"/>
<circle cx="41.09" cy="448.71" r="3.25" fill="url(#tig)" stroke="#62A6C8" stroke-width="0.4"/>
<circle cx="44.77" cy="453.27" r="3.25" fill="url(#tig)" stroke="#62A6C8" stroke-width="0.4"/>
<circle cx="49.52" cy="448.46" r="3.25" fill="url(#tig)" stroke="#62A6C8" stroke-width="0.4"/>
<circle cx="53.41" cy="453.09" r="3.25" fill="url(#tig)" stroke="#62A6C8" stroke-width="0.4"/>
<circle cx="56.99" cy="448.02" r="3.25" fill="url(#tig)" stroke="#62A6C8" stroke-width="0.4"/>
<circle cx="61.86" cy="452.92" r="3.25" fill="url(#tig)" stroke="#62A6C8" stroke-width="0.4"/>
<circle cx="65.29" cy="448.05" r="3.25" fill="url(#tig)" stroke="#62A6C8" stroke-width="0.4"/>
<circle cx="69.16" cy="453.19" r="3.25" fill="url(#tig)" stroke="#62A6C8" stroke-width="0.4"/>
<circle cx="73.64" cy="448.47" r="3.25" fill="url(#tig)" stroke="#62A6C8" stroke-width="0.4"/>
<circle cx="78.52" cy="453.73" r="3.25" fill="url(#tig)" stroke="#62A6C8" stroke-width="0.4"/>
<circle cx="81.67" cy="448.25" r="3.25" fill="url(#tig)" stroke="#62A6C8" stroke-width="0.4"/>
<circle cx="86" cy="453.2" r="3.25" fill="url(#tig)" stroke="#62A6C8" stroke-width="0.4"/>
<circle cx="89.88" cy="447.87" r="3.25" fill="url(#tig)" stroke="#62A6C8" stroke-width="0.4"/>
<circle cx="93.41" cy="453.67" r="3.25" fill="url(#tig)" stroke="#62A6C8" stroke-width="0.4"/>
<circle cx="97.71" cy="448.88" r="3.25" fill="url(#tig)" stroke="#62A6C8" stroke-width="0.4"/>
<circle cx="102.25" cy="453.73" r="3.25" fill="url(#tig)" stroke="#62A6C8" stroke-width="0.4"/>
<circle cx="105.58" cy="448.59" r="3.25" fill="url(#tig)" stroke="#62A6C8" stroke-width="0.4"/>
<circle cx="109.91" cy="453.6" r="3.25" fill="url(#tig)" stroke="#62A6C8" stroke-width="0.4"/>
<circle cx="114.36" cy="448.27" r="3.25" fill="url(#tig)" stroke="#62A6C8" stroke-width="0.4"/>
<circle cx="117.82" cy="452.81" r="3.25" fill="url(#tig)" stroke="#62A6C8" stroke-width="0.4"/>
<circle cx="122.05" cy="448.43" r="3.25" fill="url(#tig)" stroke="#62A6C8" stroke-width="0.4"/>
<circle cx="126.69" cy="453.47" r="3.25" fill="url(#tig)" stroke="#62A6C8" stroke-width="0.4"/>
<circle cx="130.34" cy="448.29" r="3.25" fill="url(#tig)" stroke="#62A6C8" stroke-width="0.4"/>
<circle cx="133.56" cy="453.92" r="3.25" fill="url(#tig)" stroke="#62A6C8" stroke-width="0.4"/>
<circle cx="138.65" cy="447.8" r="3.25" fill="url(#tig)" stroke="#62A6C8" stroke-width="0.4"/>
<circle cx="142.08" cy="453.29" r="3.25" fill="url(#tig)" stroke="#62A6C8" stroke-width="0.4"/>
<circle cx="146.06" cy="448.6" r="3.25" fill="url(#tig)" stroke="#62A6C8" stroke-width="0.4"/>
<circle cx="150.03" cy="453.3" r="3.25" fill="url(#tig)" stroke="#62A6C8" stroke-width="0.4"/>
<circle cx="154.76" cy="448.28" r="3.25" fill="url(#tig)" stroke="#62A6C8" stroke-width="0.4"/>
<circle cx="158.45" cy="453.01" r="3.25" fill="url(#tig)" stroke="#62A6C8" stroke-width="0.4"/>
<circle cx="163.4" cy="448.23" r="3.25" fill="url(#tig)" stroke="#62A6C8" stroke-width="0.4"/>
<circle cx="166.24" cy="453.09" r="3.25" fill="url(#tig)" stroke="#62A6C8" stroke-width="0.4"/>
<circle cx="170.78" cy="448.31" r="3.25" fill="url(#tig)" stroke="#62A6C8" stroke-width="0.4"/>
<circle cx="174.97" cy="453.37" r="3.25" fill="url(#tig)" stroke="#62A6C8" stroke-width="0.4"/>
<circle cx="178.65" cy="448.32" r="3.25" fill="url(#tig)" stroke="#62A6C8" stroke-width="0.4"/>
<circle cx="183.32" cy="453.04" r="3.25" fill="url(#tig)" stroke="#62A6C8" stroke-width="0.4"/>
<circle cx="186.59" cy="447.93" r="3.25" fill="url(#tig)" stroke="#62A6C8" stroke-width="0.4"/>
<circle cx="191.13" cy="452.97" r="3.25" fill="url(#tig)" stroke="#62A6C8" stroke-width="0.4"/>
<circle cx="194.95" cy="447.94" r="3.25" fill="url(#tig)" stroke="#62A6C8" stroke-width="0.4"/>
<circle cx="198.79" cy="452.73" r="3.25" fill="url(#tig)" stroke="#62A6C8" stroke-width="0.4"/>
<circle cx="202.33" cy="448.26" r="3.25" fill="url(#tig)" stroke="#62A6C8" stroke-width="0.4"/>
<circle cx="207.13" cy="453.03" r="3.25" fill="url(#tig)" stroke="#62A6C8" stroke-width="0.4"/>
<circle cx="211.36" cy="447.96" r="3.25" fill="url(#tig)" stroke="#62A6C8" stroke-width="0.4"/>
<circle cx="215.54" cy="452.87" r="3.25" fill="url(#tig)" stroke="#62A6C8" stroke-width="0.4"/>
<circle cx="219.52" cy="447.84" r="3.25" fill="url(#tig)" stroke="#62A6C8" stroke-width="0.4"/>
<circle cx="222.47" cy="453.33" r="3.25" fill="url(#tig)" stroke="#62A6C8" stroke-width="0.4"/>
<circle cx="227.67" cy="447.82" r="3.25" fill="url(#tig)" stroke="#62A6C8" stroke-width="0.4"/>
<circle cx="231.52" cy="453.08" r="3.25" fill="url(#tig)" stroke="#62A6C8" stroke-width="0.4"/>
<circle cx="235.16" cy="448.52" r="3.25" fill="url(#tig)" stroke="#62A6C8" stroke-width="0.4"/>
<circle cx="240.02" cy="453.25" r="3.25" fill="url(#tig)" stroke="#62A6C8" stroke-width="0.4"/>
<circle cx="243.81" cy="448.02" r="3.25" fill="url(#tig)" stroke="#62A6C8" stroke-width="0.4"/>
<circle cx="247.84" cy="452.94" r="3.25" fill="url(#tig)" stroke="#62A6C8" stroke-width="0.4"/>
<circle cx="251.95" cy="447.79" r="3.25" fill="url(#tig)" stroke="#62A6C8" stroke-width="0.4"/>
<circle cx="254.56" cy="453.09" r="3.25" fill="url(#tig)" stroke="#62A6C8" stroke-width="0.4"/>
<circle cx="259.87" cy="448.78" r="3.25" fill="url(#tig)" stroke="#62A6C8" stroke-width="0.4"/>
<circle cx="264.56" cy="452.75" r="3.25" fill="url(#tig)" stroke="#62A6C8" stroke-width="0.4"/>
<circle cx="268.22" cy="448.57" r="3.25" fill="url(#tig)" stroke="#62A6C8" stroke-width="0.4"/>
<circle cx="271.85" cy="453.23" r="3.25" fill="url(#tig)" stroke="#62A6C8" stroke-width="0.4"/>
<circle cx="275.73" cy="448.94" r="3.25" fill="url(#tig)" stroke="#62A6C8" stroke-width="0.4"/>
<circle cx="280.45" cy="453.03" r="3.25" fill="url(#tig)" stroke="#62A6C8" stroke-width="0.4"/>
<circle cx="283.9" cy="448.08" r="3.25" fill="url(#tig)" stroke="#62A6C8" stroke-width="0.4"/>
<circle cx="288.45" cy="453.67" r="3.25" fill="url(#tig)" stroke="#62A6C8" stroke-width="0.4"/>
<circle cx="31.36" cy="468.82" r="3.25" fill="url(#tig)" stroke="#62A6C8" stroke-width="0.4"/>
<circle cx="35.17" cy="472.5" r="3.25" fill="url(#tig)" stroke="#62A6C8" stroke-width="0.4"/>
<circle cx="38.76" cy="468.47" r="3.25" fill="url(#tig)" stroke="#62A6C8" stroke-width="0.4"/>
<circle cx="43.13" cy="473.12" r="3.25" fill="url(#tig)" stroke="#62A6C8" stroke-width="0.4"/>
<circle cx="47.03" cy="468.65" r="3.25" fill="url(#tig)" stroke="#62A6C8" stroke-width="0.4"/>
<circle cx="51.01" cy="473.07" r="3.25" fill="url(#tig)" stroke="#62A6C8" stroke-width="0.4"/>
<circle cx="55.56" cy="468.66" r="3.25" fill="url(#tig)" stroke="#62A6C8" stroke-width="0.4"/>
<circle cx="59.32" cy="473.64" r="3.25" fill="url(#tig)" stroke="#62A6C8" stroke-width="0.4"/>
<circle cx="63.43" cy="468.98" r="3.25" fill="url(#tig)" stroke="#62A6C8" stroke-width="0.4"/>
<circle cx="67.91" cy="473.64" r="3.25" fill="url(#tig)" stroke="#62A6C8" stroke-width="0.4"/>
<circle cx="71.63" cy="468.12" r="3.25" fill="url(#tig)" stroke="#62A6C8" stroke-width="0.4"/>
<circle cx="74.89" cy="472.91" r="3.25" fill="url(#tig)" stroke="#62A6C8" stroke-width="0.4"/>
<circle cx="79.92" cy="468.67" r="3.25" fill="url(#tig)" stroke="#62A6C8" stroke-width="0.4"/>
<circle cx="83.11" cy="473.88" r="3.25" fill="url(#tig)" stroke="#62A6C8" stroke-width="0.4"/>
<circle cx="87.32" cy="468.42" r="3.25" fill="url(#tig)" stroke="#62A6C8" stroke-width="0.4"/>
<circle cx="91.48" cy="473.8" r="3.25" fill="url(#tig)" stroke="#62A6C8" stroke-width="0.4"/>
<circle cx="95.53" cy="468.31" r="3.25" fill="url(#tig)" stroke="#62A6C8" stroke-width="0.4"/>
<circle cx="99.85" cy="472.75" r="3.25" fill="url(#tig)" stroke="#62A6C8" stroke-width="0.4"/>
<circle cx="104.31" cy="468.65" r="3.25" fill="url(#tig)" stroke="#62A6C8" stroke-width="0.4"/>
<circle cx="108.11" cy="473.37" r="3.25" fill="url(#tig)" stroke="#62A6C8" stroke-width="0.4"/>
<circle cx="112.04" cy="468.54" r="3.25" fill="url(#tig)" stroke="#62A6C8" stroke-width="0.4"/>
<circle cx="116.42" cy="473.77" r="3.25" fill="url(#tig)" stroke="#62A6C8" stroke-width="0.4"/>
<circle cx="119.71" cy="468.67" r="3.25" fill="url(#tig)" stroke="#62A6C8" stroke-width="0.4"/>
<circle cx="124.19" cy="473.68" r="3.25" fill="url(#tig)" stroke="#62A6C8" stroke-width="0.4"/>
<circle cx="128.6" cy="468.73" r="3.25" fill="url(#tig)" stroke="#62A6C8" stroke-width="0.4"/>
<circle cx="132.23" cy="473.1" r="3.25" fill="url(#tig)" stroke="#62A6C8" stroke-width="0.4"/>
<circle cx="135.83" cy="468.58" r="3.25" fill="url(#tig)" stroke="#62A6C8" stroke-width="0.4"/>
<circle cx="140.56" cy="473.54" r="3.25" fill="url(#tig)" stroke="#62A6C8" stroke-width="0.4"/>
<circle cx="144.46" cy="468.99" r="3.25" fill="url(#tig)" stroke="#62A6C8" stroke-width="0.4"/>
<circle cx="148.02" cy="472.74" r="3.25" fill="url(#tig)" stroke="#62A6C8" stroke-width="0.4"/>
<circle cx="152.28" cy="468.68" r="3.25" fill="url(#tig)" stroke="#62A6C8" stroke-width="0.4"/>
<circle cx="156.33" cy="474.18" r="3.25" fill="url(#tig)" stroke="#62A6C8" stroke-width="0.4"/>
<circle cx="160.07" cy="468.26" r="3.25" fill="url(#tig)" stroke="#62A6C8" stroke-width="0.4"/>
<circle cx="165.27" cy="473.65" r="3.25" fill="url(#tig)" stroke="#62A6C8" stroke-width="0.4"/>
<circle cx="169.18" cy="468.49" r="3.25" fill="url(#tig)" stroke="#62A6C8" stroke-width="0.4"/>
<circle cx="172.96" cy="474.22" r="3.25" fill="url(#tig)" stroke="#62A6C8" stroke-width="0.4"/>
<circle cx="177.02" cy="468.39" r="3.25" fill="url(#tig)" stroke="#62A6C8" stroke-width="0.4"/>
<circle cx="181.18" cy="473.1" r="3.25" fill="url(#tig)" stroke="#62A6C8" stroke-width="0.4"/>
<circle cx="184.7" cy="468.59" r="3.25" fill="url(#tig)" stroke="#62A6C8" stroke-width="0.4"/>
<circle cx="188.75" cy="472.97" r="3.25" fill="url(#tig)" stroke="#62A6C8" stroke-width="0.4"/>
<circle cx="193.53" cy="468.45" r="3.25" fill="url(#tig)" stroke="#62A6C8" stroke-width="0.4"/>
<circle cx="197.73" cy="473.93" r="3.25" fill="url(#tig)" stroke="#62A6C8" stroke-width="0.4"/>
<circle cx="200.99" cy="468.65" r="3.25" fill="url(#tig)" stroke="#62A6C8" stroke-width="0.4"/>
<circle cx="205.02" cy="473.75" r="3.25" fill="url(#tig)" stroke="#62A6C8" stroke-width="0.4"/>
<circle cx="208.89" cy="468.39" r="3.25" fill="url(#tig)" stroke="#62A6C8" stroke-width="0.4"/>
<circle cx="213.21" cy="473.85" r="3.25" fill="url(#tig)" stroke="#62A6C8" stroke-width="0.4"/>
<circle cx="216.46" cy="468.66" r="3.25" fill="url(#tig)" stroke="#62A6C8" stroke-width="0.4"/>
<circle cx="221.36" cy="473.14" r="3.25" fill="url(#tig)" stroke="#62A6C8" stroke-width="0.4"/>
<circle cx="226.33" cy="468.5" r="3.25" fill="url(#tig)" stroke="#62A6C8" stroke-width="0.4"/>
<circle cx="229.32" cy="473.75" r="3.25" fill="url(#tig)" stroke="#62A6C8" stroke-width="0.4"/>
<circle cx="233.32" cy="468.4" r="3.25" fill="url(#tig)" stroke="#62A6C8" stroke-width="0.4"/>
<circle cx="237.84" cy="473.29" r="3.25" fill="url(#tig)" stroke="#62A6C8" stroke-width="0.4"/>
<circle cx="241.24" cy="468.72" r="3.25" fill="url(#tig)" stroke="#62A6C8" stroke-width="0.4"/>
<circle cx="245.67" cy="473.51" r="3.25" fill="url(#tig)" stroke="#62A6C8" stroke-width="0.4"/>
<circle cx="250.22" cy="468.19" r="3.25" fill="url(#tig)" stroke="#62A6C8" stroke-width="0.4"/>
<circle cx="253.48" cy="474" r="3.25" fill="url(#tig)" stroke="#62A6C8" stroke-width="0.4"/>
<circle cx="257.87" cy="468.78" r="3.25" fill="url(#tig)" stroke="#62A6C8" stroke-width="0.4"/>
<circle cx="262.15" cy="474.16" r="3.25" fill="url(#tig)" stroke="#62A6C8" stroke-width="0.4"/>
<circle cx="266.2" cy="468.27" r="3.25" fill="url(#tig)" stroke="#62A6C8" stroke-width="0.4"/>
<circle cx="269.84" cy="473.89" r="3.25" fill="url(#tig)" stroke="#62A6C8" stroke-width="0.4"/>
<circle cx="273.95" cy="469.19" r="3.25" fill="url(#tig)" stroke="#62A6C8" stroke-width="0.4"/>
<circle cx="278.42" cy="473.81" r="3.25" fill="url(#tig)" stroke="#62A6C8" stroke-width="0.4"/>
<circle cx="281.68" cy="468.8" r="3.25" fill="url(#tig)" stroke="#62A6C8" stroke-width="0.4"/>
<circle cx="286.47" cy="473.88" r="3.25" fill="url(#tig)" stroke="#62A6C8" stroke-width="0.4"/>
<ellipse cx="32.82" cy="430.61" rx="1.7" ry="1.2" fill="#DA2A22"/>
<ellipse cx="41.32" cy="430.5" rx="1.7" ry="1.2" fill="#DA2A22"/>
<ellipse cx="48.82" cy="430.03" rx="1.7" ry="1.2" fill="#DA2A22"/>
<ellipse cx="57.53" cy="430.93" rx="1.7" ry="1.2" fill="#DA2A22"/>
<ellipse cx="65.53" cy="430.46" rx="1.7" ry="1.2" fill="#DA2A22"/>
<ellipse cx="74.05" cy="430.12" rx="1.7" ry="1.2" fill="#DA2A22"/>
<ellipse cx="81.56" cy="430.92" rx="1.7" ry="1.2" fill="#DA2A22"/>
<ellipse cx="90.52" cy="430.62" rx="1.7" ry="1.2" fill="#DA2A22"/>
<ellipse cx="98.79" cy="430.6" rx="1.7" ry="1.2" fill="#DA2A22"/>
<ellipse cx="106.24" cy="430.54" rx="1.7" ry="1.2" fill="#DA2A22"/>
<ellipse cx="113.78" cy="431.56" rx="1.7" ry="1.2" fill="#DA2A22"/>
<ellipse cx="122.16" cy="431.11" rx="1.7" ry="1.2" fill="#DA2A22"/>
<ellipse cx="130.13" cy="430.72" rx="1.7" ry="1.2" fill="#DA2A22"/>
<ellipse cx="138.19" cy="430.64" rx="1.7" ry="1.2" fill="#DA2A22"/>
<ellipse cx="146.61" cy="430.68" rx="1.7" ry="1.2" fill="#DA2A22"/>
<ellipse cx="154.98" cy="430.99" rx="1.7" ry="1.2" fill="#DA2A22"/>
<ellipse cx="163.08" cy="430.37" rx="1.7" ry="1.2" fill="#DA2A22"/>
<ellipse cx="170.16" cy="430.85" rx="1.7" ry="1.2" fill="#DA2A22"/>
<ellipse cx="178.62" cy="430.82" rx="1.7" ry="1.2" fill="#DA2A22"/>
<ellipse cx="186.63" cy="431.14" rx="1.7" ry="1.2" fill="#DA2A22"/>
<ellipse cx="195.24" cy="430.93" rx="1.7" ry="1.2" fill="#DA2A22"/>
<ellipse cx="203.71" cy="430.43" rx="1.7" ry="1.2" fill="#DA2A22"/>
<ellipse cx="211.63" cy="430.93" rx="1.7" ry="1.2" fill="#DA2A22"/>
<ellipse cx="219.24" cy="431.28" rx="1.7" ry="1.2" fill="#DA2A22"/>
<ellipse cx="227.68" cy="431.09" rx="1.7" ry="1.2" fill="#DA2A22"/>
<ellipse cx="235.27" cy="430.73" rx="1.7" ry="1.2" fill="#DA2A22"/>
<ellipse cx="243.41" cy="430.49" rx="1.7" ry="1.2" fill="#DA2A22"/>
<ellipse cx="251.67" cy="430.65" rx="1.7" ry="1.2" fill="#DA2A22"/>
<ellipse cx="259.24" cy="430.94" rx="1.7" ry="1.2" fill="#DA2A22"/>
<ellipse cx="268.24" cy="430.73" rx="1.7" ry="1.2" fill="#DA2A22"/>
<ellipse cx="276.01" cy="430.62" rx="1.7" ry="1.2" fill="#DA2A22"/>
<ellipse cx="284.22" cy="430.69" rx="1.7" ry="1.2" fill="#DA2A22"/>
<ellipse cx="35.36" cy="450.45" rx="1.7" ry="1.2" fill="#DA2A22"/>
<ellipse cx="43.79" cy="451.19" rx="1.7" ry="1.2" fill="#DA2A22"/>
<ellipse cx="51.41" cy="450.63" rx="1.7" ry="1.2" fill="#DA2A22"/>
<ellipse cx="59.74" cy="450.71" rx="1.7" ry="1.2" fill="#DA2A22"/>
<ellipse cx="67.7" cy="450.47" rx="1.7" ry="1.2" fill="#DA2A22"/>
<ellipse cx="75.14" cy="450.79" rx="1.7" ry="1.2" fill="#DA2A22"/>
<ellipse cx="83.28" cy="451.01" rx="1.7" ry="1.2" fill="#DA2A22"/>
<ellipse cx="91.78" cy="450.82" rx="1.7" ry="1.2" fill="#DA2A22"/>
<ellipse cx="99.79" cy="450.6" rx="1.7" ry="1.2" fill="#DA2A22"/>
<ellipse cx="108.93" cy="451.17" rx="1.7" ry="1.2" fill="#DA2A22"/>
<ellipse cx="116.15" cy="451.12" rx="1.7" ry="1.2" fill="#DA2A22"/>
<ellipse cx="123.37" cy="450.66" rx="1.7" ry="1.2" fill="#DA2A22"/>
<ellipse cx="131.04" cy="450.65" rx="1.7" ry="1.2" fill="#DA2A22"/>
<ellipse cx="140.14" cy="450.99" rx="1.7" ry="1.2" fill="#DA2A22"/>
<ellipse cx="148.99" cy="450.36" rx="1.7" ry="1.2" fill="#DA2A22"/>
<ellipse cx="155.78" cy="450.83" rx="1.7" ry="1.2" fill="#DA2A22"/>
<ellipse cx="164.51" cy="450.12" rx="1.7" ry="1.2" fill="#DA2A22"/>
<ellipse cx="172.5" cy="450.88" rx="1.7" ry="1.2" fill="#DA2A22"/>
<ellipse cx="181.17" cy="451.08" rx="1.7" ry="1.2" fill="#DA2A22"/>
<ellipse cx="188.92" cy="450.35" rx="1.7" ry="1.2" fill="#DA2A22"/>
<ellipse cx="196.93" cy="450.37" rx="1.7" ry="1.2" fill="#DA2A22"/>
<ellipse cx="204.88" cy="451" rx="1.7" ry="1.2" fill="#DA2A22"/>
<ellipse cx="212.81" cy="450.8" rx="1.7" ry="1.2" fill="#DA2A22"/>
<ellipse cx="221.77" cy="450.87" rx="1.7" ry="1.2" fill="#DA2A22"/>
<ellipse cx="229.72" cy="450.57" rx="1.7" ry="1.2" fill="#DA2A22"/>
<ellipse cx="237.81" cy="451.1" rx="1.7" ry="1.2" fill="#DA2A22"/>
<ellipse cx="246.26" cy="450.82" rx="1.7" ry="1.2" fill="#DA2A22"/>
<ellipse cx="253.29" cy="451.52" rx="1.7" ry="1.2" fill="#DA2A22"/>
<ellipse cx="262.86" cy="450.88" rx="1.7" ry="1.2" fill="#DA2A22"/>
<ellipse cx="269.87" cy="450.39" rx="1.7" ry="1.2" fill="#DA2A22"/>
<ellipse cx="278.53" cy="450.97" rx="1.7" ry="1.2" fill="#DA2A22"/>
<ellipse cx="286.23" cy="451.18" rx="1.7" ry="1.2" fill="#DA2A22"/>
<ellipse cx="32.59" cy="471.33" rx="1.7" ry="1.2" fill="#DA2A22"/>
<ellipse cx="41" cy="471.11" rx="1.7" ry="1.2" fill="#DA2A22"/>
<ellipse cx="49.67" cy="470.86" rx="1.7" ry="1.2" fill="#DA2A22"/>
<ellipse cx="57" cy="470.13" rx="1.7" ry="1.2" fill="#DA2A22"/>
<ellipse cx="65.58" cy="470.9" rx="1.7" ry="1.2" fill="#DA2A22"/>
<ellipse cx="73.33" cy="471.54" rx="1.7" ry="1.2" fill="#DA2A22"/>
<ellipse cx="81.68" cy="471.54" rx="1.7" ry="1.2" fill="#DA2A22"/>
<ellipse cx="89.31" cy="470.39" rx="1.7" ry="1.2" fill="#DA2A22"/>
<ellipse cx="97.8" cy="471.12" rx="1.7" ry="1.2" fill="#DA2A22"/>
<ellipse cx="106.4" cy="470.82" rx="1.7" ry="1.2" fill="#DA2A22"/>
<ellipse cx="113.39" cy="470.48" rx="1.7" ry="1.2" fill="#DA2A22"/>
<ellipse cx="121.64" cy="471.26" rx="1.7" ry="1.2" fill="#DA2A22"/>
<ellipse cx="129.86" cy="471.31" rx="1.7" ry="1.2" fill="#DA2A22"/>
<ellipse cx="137.7" cy="470.8" rx="1.7" ry="1.2" fill="#DA2A22"/>
<ellipse cx="146.79" cy="471.57" rx="1.7" ry="1.2" fill="#DA2A22"/>
<ellipse cx="153.9" cy="470.84" rx="1.7" ry="1.2" fill="#DA2A22"/>
<ellipse cx="162.82" cy="470.8" rx="1.7" ry="1.2" fill="#DA2A22"/>
<ellipse cx="170.39" cy="470.52" rx="1.7" ry="1.2" fill="#DA2A22"/>
<ellipse cx="178.49" cy="471.06" rx="1.7" ry="1.2" fill="#DA2A22"/>
<ellipse cx="186.46" cy="470.69" rx="1.7" ry="1.2" fill="#DA2A22"/>
<ellipse cx="194.84" cy="471.14" rx="1.7" ry="1.2" fill="#DA2A22"/>
<ellipse cx="202.44" cy="471.15" rx="1.7" ry="1.2" fill="#DA2A22"/>
<ellipse cx="210.86" cy="471.42" rx="1.7" ry="1.2" fill="#DA2A22"/>
<ellipse cx="218.9" cy="470.74" rx="1.7" ry="1.2" fill="#DA2A22"/>
<ellipse cx="227.46" cy="471.95" rx="1.7" ry="1.2" fill="#DA2A22"/>
<ellipse cx="236.16" cy="470.98" rx="1.7" ry="1.2" fill="#DA2A22"/>
<ellipse cx="243.78" cy="470.78" rx="1.7" ry="1.2" fill="#DA2A22"/>
<ellipse cx="252.14" cy="470.81" rx="1.7" ry="1.2" fill="#DA2A22"/>
<ellipse cx="260.42" cy="470.33" rx="1.7" ry="1.2" fill="#DA2A22"/>
<ellipse cx="267.65" cy="470.66" rx="1.7" ry="1.2" fill="#DA2A22"/>
<ellipse cx="276.5" cy="470.89" rx="1.7" ry="1.2" fill="#DA2A22"/>
<ellipse cx="283.81" cy="471.06" rx="1.7" ry="1.2" fill="#DA2A22"/>
<ellipse cx="40" cy="423.5" rx="5" ry="3" fill="#EDB0B0" fill-opacity="0.8" stroke="#C98484" stroke-opacity="0.5" stroke-width="0.6"/>
<ellipse cx="63" cy="423" rx="7" ry="3.5" fill="#EDB0B0" fill-opacity="0.8" stroke="#C98484" stroke-opacity="0.5" stroke-width="0.6"/>
<ellipse cx="88" cy="423" rx="5" ry="3.2" fill="#EDB0B0" fill-opacity="0.8" stroke="#C98484" stroke-opacity="0.5" stroke-width="0.6"/>
<ellipse cx="101" cy="423.5" rx="4" ry="3" fill="#EDB0B0" fill-opacity="0.8" stroke="#C98484" stroke-opacity="0.5" stroke-width="0.6"/>
<ellipse cx="125" cy="423" rx="5" ry="3" fill="#EDB0B0" fill-opacity="0.8" stroke="#C98484" stroke-opacity="0.5" stroke-width="0.6"/>
<ellipse cx="149" cy="423" rx="6" ry="3.5" fill="#EDB0B0" fill-opacity="0.8" stroke="#C98484" stroke-opacity="0.5" stroke-width="0.6"/>
<ellipse cx="176" cy="423" rx="7" ry="3.5" fill="#EDB0B0" fill-opacity="0.8" stroke="#C98484" stroke-opacity="0.5" stroke-width="0.6"/>
<ellipse cx="196" cy="423.5" rx="5" ry="3" fill="#EDB0B0" fill-opacity="0.8" stroke="#C98484" stroke-opacity="0.5" stroke-width="0.6"/>
<ellipse cx="214" cy="423" rx="7" ry="3.5" fill="#EDB0B0" fill-opacity="0.8" stroke="#C98484" stroke-opacity="0.5" stroke-width="0.6"/>
<ellipse cx="240" cy="423" rx="8" ry="3.8" fill="#EDB0B0" fill-opacity="0.8" stroke="#C98484" stroke-opacity="0.5" stroke-width="0.6"/>
<ellipse cx="262" cy="423.5" rx="7" ry="3.5" fill="#EDB0B0" fill-opacity="0.8" stroke="#C98484" stroke-opacity="0.5" stroke-width="0.6"/>
<ellipse cx="284" cy="424" rx="4" ry="3" fill="#EDB0B0" fill-opacity="0.8" stroke="#C98484" stroke-opacity="0.5" stroke-width="0.6"/>
<ellipse cx="43.65" cy="522.84" rx="8.23" ry="4.26" fill="#EDB2B2" fill-opacity="0.8" stroke="#D99090" stroke-opacity="0.5" stroke-width="0.6"/>
<ellipse cx="50.89" cy="521.69" rx="8.95" ry="3.63" fill="#EDB2B2" fill-opacity="0.8" stroke="#D99090" stroke-opacity="0.5" stroke-width="0.6"/>
<ellipse cx="56.46" cy="523.43" rx="9.99" ry="5.1" fill="#EDB2B2" fill-opacity="0.8" stroke="#D99090" stroke-opacity="0.5" stroke-width="0.6"/>
<ellipse cx="67.32" cy="523.84" rx="6.03" ry="3.92" fill="#EDB2B2" fill-opacity="0.8" stroke="#D99090" stroke-opacity="0.5" stroke-width="0.6"/>
<ellipse cx="78.33" cy="523.56" rx="7.81" ry="5.26" fill="#EDB2B2" fill-opacity="0.8" stroke="#D99090" stroke-opacity="0.5" stroke-width="0.6"/>
<ellipse cx="87.63" cy="520.22" rx="7.43" ry="5.15" fill="#EDB2B2" fill-opacity="0.8" stroke="#D99090" stroke-opacity="0.5" stroke-width="0.6"/>
<ellipse cx="95.42" cy="523.06" rx="6.95" ry="4.79" fill="#EDB2B2" fill-opacity="0.8" stroke="#D99090" stroke-opacity="0.5" stroke-width="0.6"/>
<ellipse cx="108.24" cy="522.13" rx="8.52" ry="4.46" fill="#EDB2B2" fill-opacity="0.8" stroke="#D99090" stroke-opacity="0.5" stroke-width="0.6"/>
<ellipse cx="119.18" cy="520.06" rx="9.63" ry="3.63" fill="#EDB2B2" fill-opacity="0.8" stroke="#D99090" stroke-opacity="0.5" stroke-width="0.6"/>
<ellipse cx="126.61" cy="521.17" rx="8.47" ry="4.59" fill="#EDB2B2" fill-opacity="0.8" stroke="#D99090" stroke-opacity="0.5" stroke-width="0.6"/>
<ellipse cx="137.55" cy="523.64" rx="7.39" ry="4.59" fill="#EDB2B2" fill-opacity="0.8" stroke="#D99090" stroke-opacity="0.5" stroke-width="0.6"/>
<ellipse cx="149.01" cy="523.54" rx="6.33" ry="4.05" fill="#EDB2B2" fill-opacity="0.8" stroke="#D99090" stroke-opacity="0.5" stroke-width="0.6"/>
<ellipse cx="157.71" cy="521.02" rx="8.59" ry="5.12" fill="#EDB2B2" fill-opacity="0.8" stroke="#D99090" stroke-opacity="0.5" stroke-width="0.6"/>
<ellipse cx="166.53" cy="522.24" rx="6.92" ry="3.96" fill="#EDB2B2" fill-opacity="0.8" stroke="#D99090" stroke-opacity="0.5" stroke-width="0.6"/>
<ellipse cx="174.54" cy="523.73" rx="8.8" ry="4.91" fill="#EDB2B2" fill-opacity="0.8" stroke="#D99090" stroke-opacity="0.5" stroke-width="0.6"/>
<ellipse cx="189.11" cy="521.6" rx="8.05" ry="3.62" fill="#EDB2B2" fill-opacity="0.8" stroke="#D99090" stroke-opacity="0.5" stroke-width="0.6"/>
<ellipse cx="199.22" cy="522.59" rx="8.25" ry="4.59" fill="#EDB2B2" fill-opacity="0.8" stroke="#D99090" stroke-opacity="0.5" stroke-width="0.6"/>
<ellipse cx="202.52" cy="523.04" rx="7.04" ry="5.15" fill="#EDB2B2" fill-opacity="0.8" stroke="#D99090" stroke-opacity="0.5" stroke-width="0.6"/>
<ellipse cx="214.05" cy="522.09" rx="8.18" ry="3.88" fill="#EDB2B2" fill-opacity="0.8" stroke="#D99090" stroke-opacity="0.5" stroke-width="0.6"/>
<ellipse cx="224.1" cy="522.02" rx="8.65" ry="5.17" fill="#EDB2B2" fill-opacity="0.8" stroke="#D99090" stroke-opacity="0.5" stroke-width="0.6"/>
<ellipse cx="234.26" cy="524.16" rx="8.21" ry="5.26" fill="#EDB2B2" fill-opacity="0.8" stroke="#D99090" stroke-opacity="0.5" stroke-width="0.6"/>
<ellipse cx="245.09" cy="522.69" rx="8.7" ry="5.06" fill="#EDB2B2" fill-opacity="0.8" stroke="#D99090" stroke-opacity="0.5" stroke-width="0.6"/>
<ellipse cx="251.69" cy="522.39" rx="6.31" ry="4.54" fill="#EDB2B2" fill-opacity="0.8" stroke="#D99090" stroke-opacity="0.5" stroke-width="0.6"/>
<ellipse cx="263.85" cy="522.19" rx="7.46" ry="4.97" fill="#EDB2B2" fill-opacity="0.8" stroke="#D99090" stroke-opacity="0.5" stroke-width="0.6"/>
<ellipse cx="270.2" cy="523.01" rx="9.01" ry="4.32" fill="#EDB2B2" fill-opacity="0.8" stroke="#D99090" stroke-opacity="0.5" stroke-width="0.6"/>
<ellipse cx="281.6" cy="522.03" rx="7.86" ry="4.29" fill="#EDB2B2" fill-opacity="0.8" stroke="#D99090" stroke-opacity="0.5" stroke-width="0.6"/>
<ellipse cx="67" cy="515.5" rx="3.27" ry="7" fill="#EDB2B2" fill-opacity="0.8" stroke="#D99090" stroke-opacity="0.5" stroke-width="0.6"/>
<ellipse cx="85" cy="516" rx="4.52" ry="6.5" fill="#EDB2B2" fill-opacity="0.8" stroke="#D99090" stroke-opacity="0.5" stroke-width="0.6"/>
<ellipse cx="106" cy="516.5" rx="3.79" ry="6" fill="#EDB2B2" fill-opacity="0.8" stroke="#D99090" stroke-opacity="0.5" stroke-width="0.6"/>
<ellipse cx="118" cy="516" rx="4.5" ry="6.5" fill="#EDB2B2" fill-opacity="0.8" stroke="#D99090" stroke-opacity="0.5" stroke-width="0.6"/>
<ellipse cx="140" cy="517.5" rx="4.45" ry="5" fill="#EDB2B2" fill-opacity="0.8" stroke="#D99090" stroke-opacity="0.5" stroke-width="0.6"/>
<ellipse cx="165" cy="517" rx="4.06" ry="5.5" fill="#EDB2B2" fill-opacity="0.8" stroke="#D99090" stroke-opacity="0.5" stroke-width="0.6"/>
<ellipse cx="200" cy="516.5" rx="4.5" ry="6" fill="#EDB2B2" fill-opacity="0.8" stroke="#D99090" stroke-opacity="0.5" stroke-width="0.6"/>
<ellipse cx="225" cy="516" rx="4.63" ry="6.5" fill="#EDB2B2" fill-opacity="0.8" stroke="#D99090" stroke-opacity="0.5" stroke-width="0.6"/>
<ellipse cx="245" cy="517" rx="4.16" ry="5.5" fill="#EDB2B2" fill-opacity="0.8" stroke="#D99090" stroke-opacity="0.5" stroke-width="0.6"/>
<ellipse cx="262" cy="516" rx="3.2" ry="6.5" fill="#EDB2B2" fill-opacity="0.8" stroke="#D99090" stroke-opacity="0.5" stroke-width="0.6"/>
<ellipse cx="280" cy="517" rx="4.16" ry="5.5" fill="#EDB2B2" fill-opacity="0.8" stroke="#D99090" stroke-opacity="0.5" stroke-width="0.6"/>
<line x1="28" y1="506.7" x2="290" y2="506.7" stroke="#8A5E50" stroke-width="2.6" />
<circle cx="29" cy="506.7" r="1.3" fill="#B9C3E8"/>
<circle cx="36" cy="506.7" r="1.3" fill="#5E3A24"/>
<circle cx="43" cy="506.7" r="1.3" fill="#5E3A24"/>
<circle cx="50" cy="506.7" r="1.3" fill="#B9C3E8"/>
<circle cx="57" cy="506.7" r="1.3" fill="#5E3A24"/>
<circle cx="64" cy="506.7" r="1.3" fill="#5E3A24"/>
<circle cx="71" cy="506.7" r="1.3" fill="#B9C3E8"/>
<circle cx="78" cy="506.7" r="1.3" fill="#5E3A24"/>
<circle cx="85" cy="506.7" r="1.3" fill="#5E3A24"/>
<circle cx="92" cy="506.7" r="1.3" fill="#B9C3E8"/>
<circle cx="99" cy="506.7" r="1.3" fill="#5E3A24"/>
<circle cx="106" cy="506.7" r="1.3" fill="#5E3A24"/>
<circle cx="113" cy="506.7" r="1.3" fill="#B9C3E8"/>
<circle cx="120" cy="506.7" r="1.3" fill="#5E3A24"/>
<circle cx="127" cy="506.7" r="1.3" fill="#5E3A24"/>
<circle cx="134" cy="506.7" r="1.3" fill="#B9C3E8"/>
<circle cx="141" cy="506.7" r="1.3" fill="#5E3A24"/>
<circle cx="148" cy="506.7" r="1.3" fill="#5E3A24"/>
<circle cx="155" cy="506.7" r="1.3" fill="#B9C3E8"/>
<circle cx="162" cy="506.7" r="1.3" fill="#5E3A24"/>
<circle cx="169" cy="506.7" r="1.3" fill="#5E3A24"/>
<circle cx="176" cy="506.7" r="1.3" fill="#B9C3E8"/>
<circle cx="183" cy="506.7" r="1.3" fill="#5E3A24"/>
<circle cx="190" cy="506.7" r="1.3" fill="#5E3A24"/>
<circle cx="197" cy="506.7" r="1.3" fill="#B9C3E8"/>
<circle cx="204" cy="506.7" r="1.3" fill="#5E3A24"/>
<circle cx="211" cy="506.7" r="1.3" fill="#5E3A24"/>
<circle cx="218" cy="506.7" r="1.3" fill="#B9C3E8"/>
<circle cx="225" cy="506.7" r="1.3" fill="#5E3A24"/>
<circle cx="232" cy="506.7" r="1.3" fill="#5E3A24"/>
<circle cx="239" cy="506.7" r="1.3" fill="#B9C3E8"/>
<circle cx="246" cy="506.7" r="1.3" fill="#5E3A24"/>
<circle cx="253" cy="506.7" r="1.3" fill="#5E3A24"/>
<circle cx="260" cy="506.7" r="1.3" fill="#B9C3E8"/>
<circle cx="267" cy="506.7" r="1.3" fill="#5E3A24"/>
<circle cx="274" cy="506.7" r="1.3" fill="#5E3A24"/>
<circle cx="281" cy="506.7" r="1.3" fill="#B9C3E8"/>
<circle cx="288" cy="506.7" r="1.3" fill="#5E3A24"/>
<path d="M51.68 527.14L53.07 528.64M55.95 532.75L55.2 531.45M51.68 527.14L51.04 525.82M55.95 532.75L57.25 535.14M58.55 537.54L58.63 539.63M60.1 547.7L59.4 544.71M60.18 526.99L61.01 528.45M64.12 532.19L62.98 531.05M60.18 526.99L59.68 525.58M64.12 532.19L64.94 534.9M65.76 537.6L66.7 539.49M68.2 547.7L67.92 544.54M67.81 527.54L69 528.76M71.73 532.61L70.96 531.29M67.81 527.54L67.3 525.65M71.73 532.61L72.65 535.06M73.56 537.51L74.26 540.15M76.3 547.7L75.63 545.24M67.81 527.54L68.45 532.44M69.1 537.34L69.93 539.78M72.25 552.7L71.5 547.46M76.32 526.9L77.5 528.27M80.26 532.51L79.47 531.07M76.32 526.9L75.43 525.49M80.26 532.51L81.06 535.32M81.86 538.12L82.8 540.77M84.4 547.7L84.06 545.56M76.32 526.9L77.33 532.26M78.34 537.62L78.7 539.89M80.35 552.7L79.7 547.43M84.94 527.46L85.79 528.71M88.53 532.59L87.58 531.27M84.94 527.46L84.13 525.85M88.53 532.59L89.24 535.22M89.95 537.85L90.52 539.72M92.5 547.7L91.79 544.65M84.94 527.46L85.71 532.24M86.49 537.02L86.75 539.33M88.45 552.7L87.73 547.17M92.67 527.23L93.34 528.6M96.04 532.81L95.03 531.39M92.67 527.23L91.87 525.7M96.04 532.81L97.49 534.98M98.94 537.14L99.07 539.21M100.6 547.7L99.9 544.49M92.67 527.23L93.36 532.28M94.06 537.33L94.69 539.65M96.55 552.7L95.93 547.33M100.31 527.42L101.48 529.14M104.71 532.47L103.68 531.66M100.31 527.42L99.46 526.16M104.71 532.47L105.68 534.7M106.64 536.93L107.4 539.57M108.7 547.7L108.43 544.95M100.31 527.42L101.18 532.06M102.05 536.7L102.83 539.72M104.65 552.7L104.13 547.72M108.57 527.75L109.69 528.86M113.5 532.17L112.15 531.08M108.57 527.75L107.78 525.97M113.5 532.17L114.14 534.65M114.77 537.13L115.35 539.85M116.8 547.7L116.36 545.13M108.57 527.75L109.66 532.59M110.75 537.43L111.32 540.27M112.75 552.7L112.32 547.91M117.05 527.65L117.86 529.03M121.13 532.28L119.9 531.35M121.13 532.28L122.23 534.84M123.32 537.41L123.37 540.29M124.9 547.7L124.16 545.44M124.48 528.08L125.6 528.99M128.96 531.97L127.85 530.93M124.48 528.08L123.89 526.09M128.96 531.97L129.83 534.59M130.69 537.21L131.21 539.76M133 547.7L132.37 545M124.48 528.08L125.66 532.41M126.85 536.74L127.14 539.5M128.95 552.7L128.2 547.48M132.72 527.38L134.04 528.54M136.38 533.28L135.87 531.5M132.72 527.38L132.59 525.31M136.38 533.28L137.53 535.24M138.68 537.21L139.57 539.67M141.1 547.7L140.78 544.92M132.72 527.38L133.7 532.75M134.68 538.13L135.77 540.03M137.05 552.7L136.96 547.32M140.73 528.54L141.92 529.42M144.76 532.4L143.94 531.35M140.73 528.54L140.41 526.2M144.76 532.4L145.98 534.96M147.2 537.52L148.13 539.86M149.2 547.7L149.13 544.95M140.73 528.54L141.56 533.23M142.38 537.93L143.13 539.54M145.15 552.7L144.52 546.92M148.97 527.6L150.22 529.01M153.73 532.24L152.6 531.33M153.73 532.24L154.38 535.26M155.02 538.28L156.06 540.46M157.3 547.7L157.19 545.16M148.97 527.6L150.16 532.36M151.36 537.13L151.76 539.45M153.25 552.7L152.71 547.23M157.3 527.57L158.56 529.1M162.46 532.53L161.13 531.58M157.3 527.57L156.99 525.45M162.46 532.53L162.85 535.18M163.24 537.83L163.39 539.72M165.4 547.7L164.47 544.66M157.3 527.57L158.1 532.11M158.9 536.65L159.52 539.29M161.35 552.7L160.75 547.31M165.69 527.76L166.53 529.19M169.34 532.37L168.36 531.5M165.69 527.76L165.1 525.95M169.34 532.37L170.06 534.71M170.78 537.04L171.82 539.65M173.5 547.7L173.18 544.98M165.69 527.76L166.07 532.51M166.45 537.26L167.36 539.64M169.45 552.7L168.86 547.36M173.37 527.7L174.62 529.17M177.67 532.94L176.77 531.78M173.37 527.7L172.75 525.94M177.67 532.94L178.63 535.09M179.6 537.24L180.26 540.01M181.6 547.7L181.26 545.24M173.37 527.7L173.93 532.75M174.49 537.8L175.5 540.18M177.55 552.7L177.03 547.63M181.07 528.21L182.26 529.18M185.95 532.56L184.7 531.35M181.07 528.21L180.95 526.17M185.95 532.56L186.67 534.7M187.39 536.84L188.35 539.51M189.7 547.7L189.5 544.94M181.07 528.21L182.2 532.11M183.34 536.02L184.07 539.03M185.65 552.7L185.23 547.37M189.58 527.62L190.5 528.68M193.36 532.9L192.39 531.32M189.58 527.62L189.08 526.06M193.36 532.9L194.36 534.77M195.36 536.64L196.34 539.16M197.8 547.7L197.56 544.68M197.78 527.36L198.97 528.69M201.59 532.76L200.87 531.39M201.59 532.76L203.06 535.03M204.53 537.3L204.54 539.48M205.9 547.7L205.22 544.69M205.64 527.35L206.25 528.46M209.42 532.79L208.14 531.18M205.64 527.35L205.43 525.88M209.42 532.79L210.7 535.54M211.98 538.29L212.65 540.26M214 547.7L213.66 544.97M205.64 527.35L206.61 532.09M207.57 536.83L208.09 539.34M209.95 552.7L209.28 547.27M213.98 527.48L214.96 529.16M218.4 532.14L217.17 531.49M218.4 532.14L219.28 535.07M220.16 538L220.91 540.43M222.1 547.7L221.88 545.28M213.98 527.48L214.56 532.28M215.15 537.07L216 539.25M218.05 552.7L217.45 547.06M221.91 527.16L223 528.49M225.48 532.67L224.78 531.25M221.91 527.16L221.27 525.6M225.48 532.67L226.66 535.02M227.84 537.37L228.48 539.88M230.2 547.7L229.66 545.05M230.34 527.37L231.23 528.73M234 532.75L233.06 531.42M234 532.75L234.51 535.16M235.02 537.57L236.28 540.23M238.3 547.7L237.92 545.3M238.39 527.61L239.22 528.95M241.78 532.91L240.92 531.61M238.39 527.61L237.81 526.08M241.78 532.91L242.89 535.06M244 537.21L244.58 539.61M246.4 547.7L245.78 544.86M238.39 527.61L239.12 532.7M239.85 537.79L240.74 540.18M242.35 552.7L241.99 547.63M246.72 527.25L247.42 528.66M250.6 533.16L249.36 531.62M250.6 533.16L251.51 535.01M252.43 536.86L253.34 539.44M254.5 547.7L254.37 544.86M246.72 527.25L247.77 532.47M248.82 537.69L249.21 540.08M250.45 552.7L250.03 547.58M254.36 527.52L255.61 528.85M258.84 532.92L257.86 531.55M258.84 532.92L259.58 535.44M260.32 537.95L261.3 539.99M262.6 547.7L262.44 544.86M254.36 527.52L255.53 532.54M256.7 537.56L257.24 539.55M258.55 552.7L258.16 547.12M262.45 527.42L263.78 528.82M266.73 532.01L265.92 531.12M262.45 527.42L261.63 525.8M266.73 532.01L267.88 534.31M269.03 536.62L269.48 539.58M270.7 547.7L270.31 545.12M262.45 527.42L263.54 532.23M264.63 537.03L265.36 539.75M266.65 552.7L266.37 547.58M270.79 528.3L271.51 529.07M275.08 533.06L273.65 531.45M270.79 528.3L270.37 526.24M275.08 533.06L276 534.96M276.91 536.87L277.45 539.25M278.8 547.7L278.39 544.66M270.79 528.3L271.5 532.59M272.21 536.88L272.96 539.99M274.75 552.7L274.24 547.9M278.4 527.39L279.95 528.79M283.28 532.45L282.39 531.32M283.28 532.45L284.06 535.36M284.84 538.27L285.55 540.36M286.9 547.7L286.58 545.08M278.4 527.39L279.14 532.07M279.88 536.76L281.13 539.68M282.85 552.7L282.62 547.66M287.1 527.82L287.82 529.04M290.73 532.72L289.64 531.49M287.1 527.82L286.35 526.1M290.73 532.72L291.7 535.22M292.67 537.72L293.48 540.05M295 547.7L294.64 545.04M287.1 527.82L287.56 532.11M288.01 536.4L289.08 539.54M290.95 552.7L290.55 547.69M49.8 547.96L50.55 549.22M53.38 552.39L52.34 551.43M53.38 552.39L53.93 554.72M54.48 557.05L55.32 559.75M57.1 567.8L56.63 565.12M49.8 547.96L50.27 552.69M50.73 557.42L51.33 559.92M53.05 572.8L52.49 567.62M57.28 547.35L58 548.81M61.32 552.61L60.02 551.45M61.32 552.61L62.46 554.69M63.6 556.77L63.62 559.12M65.2 567.8L64.42 564.64M57.28 547.35L57.99 552.31M58.7 557.27L59.24 559.55M61.15 572.8L60.47 567.31M64.39 547.76L65.59 548.83M69.35 552.01L68.07 550.96M69.35 552.01L70.22 554.82M71.09 557.62L71.97 560.3M73.3 567.8L73.08 565.39M64.39 547.76L65.91 552.24M67.44 556.72L67.71 559.79M69.25 572.8L68.61 567.84M73.42 547.71L74.5 549.02M76.56 552.05L76.08 551.19M76.56 552.05L77.82 554.67M79.08 557.29L79.45 559.89M81.4 567.8L80.6 565.14M73.42 547.71L74.54 552.52M75.66 557.32L75.94 559.54M77.35 572.8L76.78 567.28M81.89 548.3L82.66 549.13M85.2 552.8L84.32 551.39M85.2 552.8L85.75 555.06M86.3 557.32L87.57 559.45M89.5 567.8L89.17 564.69M81.89 548.3L81.84 553.12M81.79 557.94L83.19 560.13M85.45 572.8L85.03 567.56M89.39 547.48L90.4 548.83M93.52 552.59L92.46 551.39M93.52 552.59L94.48 555.43M95.45 558.27L95.79 560.35M97.6 567.8L96.86 565.12M97.14 546.87L98.22 548.63M101.89 552.35L100.59 551.37M101.89 552.35L102.48 554.93M103.06 557.51L103.91 560.1M105.7 567.8L105.23 565.25M97.14 546.87L98.05 552.31M98.95 557.75L99.75 560.05M101.65 572.8L101.1 567.58M105.61 547.97L106.89 549.03M109.26 552.79L108.71 551.44M109.26 552.79L110.83 554.96M112.41 557.13L112.69 559.59M113.8 567.8L113.39 564.93M105.61 547.97L106.28 552.5M106.95 557.02L107.81 559.46M109.75 572.8L109.21 567.35M114.15 548.23L115.01 549.26M117.23 552.99L116.55 551.64M117.23 552.99L118.96 555.54M120.68 558.1L120.9 560.24M121.9 567.8L121.51 565.09M114.15 548.23L114.98 552.58M115.81 556.93L116.34 559.64M117.85 572.8L117.36 567.57M122.28 548.41L123.05 549.4M126.34 553.15L125.07 551.76M126.34 553.15L127.23 554.96M128.11 556.78L129.01 559.36M130 567.8L129.96 564.87M122.28 548.41L123.27 553.38M124.25 558.36L124.44 560.18M125.95 572.8L125.28 567.4M131.24 547.74L132.02 549.1M133.26 552.49L133.03 551.47M133.26 552.49L134.73 555.3M136.2 558.11L136.84 560.12M138.1 567.8L137.79 564.97M131.24 547.74L131.56 552.24M131.88 556.74L132.43 559.96M134.05 572.8L133.51 567.99M138.32 547.72L139.39 548.7M142.18 552.96L141.32 551.31M142.18 552.96L143.13 555.66M144.07 558.36L144.84 560.14M146.2 567.8L145.9 564.86M138.32 547.72L138.65 552.31M138.98 556.9L140.36 559.58M142.15 572.8L141.95 567.53M145.86 547.5L146.96 548.7M150.21 552.66L149.13 551.28M150.21 552.66L151.28 555.47M152.35 558.27L152.76 560.15M154.3 567.8L153.74 564.91M145.86 547.5L146.59 552.25M147.31 557L148.18 559.69M150.25 572.8L149.65 567.59M154.19 547.39L154.9 548.39M158.47 552.28L157.04 550.84M158.47 552.28L159.49 554.46M160.5 556.63L161.09 559.63M162.4 567.8L162.04 565.22M154.19 547.39L155.06 552.21M155.93 557.03L156.63 559.51M158.35 572.8L157.84 567.4M161.89 548.14L163.25 549.08M166.09 553.33L165.35 551.67M166.09 553.33L167.28 555.72M168.48 558.12L168.76 559.98M170.5 567.8L169.77 564.82M161.89 548.14L163.03 552.82M164.17 557.5L164.79 559.72M166.45 572.8L165.93 567.37M170.29 548.12L171.13 549.28M175 552.75L173.49 551.6M175 552.75L175.76 555.19M176.52 557.63L177.45 560.17M178.6 567.8L178.5 565.26M170.29 548.12L171.05 553.05M171.81 557.99L172.7 560.37M174.55 572.8L174.07 567.77M178.56 547.37L179.66 548.57M182.78 553.27L181.77 551.52M182.78 553.27L183.59 555.28M184.4 557.29L185.15 560.07M186.7 567.8L186.3 565.32M178.56 547.37L179.49 552.25M180.43 557.13L181.05 559.74M182.65 572.8L182.16 567.58M186.57 547.74L187.76 548.92M190.79 552.32L189.87 551.21M190.79 552.32L191.52 555.06M192.24 557.79L192.99 560.51M194.8 567.8L194.27 565.51M186.57 547.74L187.52 552.35M188.47 556.97L189.02 559.87M190.75 572.8L190.16 567.78M194.56 548L195.86 549.18M198.04 552.8L197.6 551.58M198.04 552.8L199.39 555.42M200.73 558.04L201.21 559.94M202.9 567.8L202.29 564.82M194.56 548L195.79 552.77M197.01 557.55L197.38 560.02M198.85 572.8L198.3 567.64M203.11 547.29L203.72 548.64M205.86 552.37L205.09 551.18M205.86 552.37L207.1 554.74M208.35 557.1L209.33 559.75M211 567.8L210.65 565.09M203.11 547.29L204.2 552.2M205.3 557.11L205.54 560.04M206.95 572.8L206.37 567.89M210.59 547.16L211.93 548.83M215.61 552.85L214.44 551.67M215.61 552.85L216.45 555.08M217.3 557.31L217.76 559.55M219.1 567.8L218.65 564.8M219.23 547.58L219.96 549.08M223.46 553.77L222.07 552.18M223.46 553.77L224.44 555.93M225.42 558.09L225.73 560.53M227.2 567.8L226.61 565.38M227.2 547.63L228.41 549.4M231.4 553.08L230.51 552.12M231.4 553.08L232.21 555.48M233.02 557.88L233.65 560.33M235.3 567.8L234.79 565.28M227.2 547.63L227.96 552.17M228.72 556.71L229.34 559.61M231.25 572.8L230.6 567.65M235.95 548.03L236.66 549.12M238.93 552.58L238.15 551.39M238.93 552.58L240.1 555.26M241.28 557.95L241.95 559.97M243.4 567.8L243.01 564.9M235.95 548.03L236.42 552.26M236.89 556.49L237.58 559.49M239.35 572.8L238.8 567.64M242.88 547.66L244.23 548.55M247.32 553.37L246.45 551.4M247.32 553.37L248.39 555.53M249.47 557.69L249.99 559.89M251.5 567.8L251 564.95M242.88 547.66L244.11 552.58M245.35 557.49L245.66 559.82M247.45 572.8L246.71 567.47M250.85 547.15L252.08 549.15M255.3 552.3L254.3 551.73M255.3 552.3L256.43 554.66M257.56 557.01L257.68 559.42M259.6 567.8L258.7 564.81M250.85 547.15L251.56 552.38M252.28 557.6L253.27 560.03M255.55 572.8L254.9 567.63M260.79 547.75L261.11 548.79M263.65 552.78L262.55 551.3M263.65 552.78L264.51 555.39M265.37 558.01L266 559.78M267.7 567.8L267.17 564.68M260.79 547.75L260.81 552.5M260.84 557.25L261.79 559.87M263.65 572.8L263.2 567.64M268.13 547.59L269.04 548.51M272.05 552.78L271 551.11M272.05 552.78L273.06 554.74M274.07 556.7L274.25 559.68M275.8 567.8L275.11 565.23M268.13 547.59L269.11 552.48M270.09 557.36L270.18 559.86M271.75 572.8L271.01 567.58M275.63 548.24L276.63 549.23M280.49 552.95L279.06 551.59M280.49 552.95L281.3 555.02M282.11 557.09L282.4 559.91M283.9 567.8L283.29 565.26M275.63 548.24L276.52 552.7M277.4 557.16L277.71 560.02M279.85 572.8L278.93 567.84M283.85 547.2L285.21 548.84M287.5 552.38L287.04 551.43M287.5 552.38L288.38 555.41M289.26 558.43L290.45 560.1M292 567.8L291.82 564.78M283.85 547.2L284.92 552.1M285.98 557L286.42 559.52M287.95 572.8L287.4 567.42M58.5 568.42L59.3 569.53M62.37 572.85L61.24 571.75M62.37 572.85L62.62 575.02M66.21 567.95L67.6 569.11M70.51 573.28L69.75 571.77M70.51 573.28L70.88 575.02M66.21 567.95L66.93 571.97M74.26 568.24L75.52 569.58M78.66 572.98L77.72 571.95M78.66 572.98L78.85 574.92M74.26 568.24L74.78 572.15M82.33 568.05L83.52 569.11M86.47 573.39L85.59 571.78M86.47 573.39L86.99 575.22M90.48 568.08L91.74 569.16M94.88 573.09L93.94 571.66M94.88 573.09L95.53 574.77M90.48 568.08L91.07 572.01M97.47 568.25L98.86 569.27M102.71 572.96L101.47 571.62M102.71 572.96L103.46 574.84M97.47 568.25L98.62 572.12M106.86 567.69L107.67 569.16M110.75 572.28L109.61 571.46M110.75 572.28L111.3 574.49M106.86 567.69L107.35 572.36M114.61 567.85L115.35 569.24M118.7 572.22L117.4 571.42M118.7 572.22L119.39 574.74M114.61 567.85L115.23 572.28M122.92 568.47L124 569.55M126.44 573.06L125.76 571.85M126.44 573.06L127.61 575.09M122.92 568.47L123.36 572.59M130.94 568.25L131.75 569.29M135.51 572.99L134.04 571.66M135.51 572.99L136.13 574.81M139.05 567.98L140.26 569.14M142.84 572.9L142.15 571.6M142.84 572.9L143.62 574.66M146.52 567.7L147.78 569.26M151.54 573.42L150.29 572.12M151.54 573.42L151.69 575.23M146.52 567.7L147.18 571.66M155.02 568.01L156.28 569.36M159.42 572.96L158.48 571.83M159.42 572.96L159.8 574.76M163.73 567.75L165 569.07M167.77 572.95L167.02 571.68M167.77 572.95L168.3 574.81M172.39 567.74L173.04 568.88M175.12 572.85L174.41 571.44M175.12 572.85L176.18 574.94M179.42 567.64L180.72 569.35M183.46 572.64L182.74 571.85M183.46 572.64L184.18 574.67M187.4 568.03L188.68 569.24M191.77 572.96L190.86 571.7M191.77 572.96L192.37 575.15M187.4 568.03L187.88 572.02M195.42 567.64L196.55 569.14M199.67 572.66L198.68 571.65M199.67 572.66L200.44 574.71M195.42 567.64L195.94 571.91M204.17 568.04L205.21 569.06M208.29 573.25L207.27 571.67M208.29 573.25L209.04 575.13M204.17 568.04L204.71 572.23M211.85 567.96L212.87 569.38M215.3 572.82L214.59 571.81M215.3 572.82L216.22 574.79M211.85 567.96L212.37 572.3M219.79 567.87L220.8 568.93M224.24 573.21L223.02 571.61M224.24 573.21L225.17 575M219.79 567.87L220.68 572.24M228 567.86L228.96 569.13M231.54 572.97L230.73 571.68M231.54 572.97L232.94 574.97M235.67 568.16L237.02 569.18M240.86 572.62L239.62 571.41M240.86 572.62L241.25 574.59M235.67 568.16L236.43 571.91M244.85 568.26L245.59 569.37M248.37 573L247.35 571.74M248.37 573L249.13 574.81M251.88 567.56L253.07 569.36M256.22 572.98L255.24 572.07M256.22 572.98L257.02 574.77M251.88 567.56L252.94 572.3M260.89 567.7L261.75 569.21M264.49 573.27L263.55 571.99M264.49 573.27L265.23 575.3M260.89 567.7L261.52 572.04M267.98 567.45L268.72 568.83M272.79 573.13L271.13 571.68M272.79 573.13L273.67 575.11M276.96 567.92L278.06 569.06M280.68 573.29L279.92 571.75M280.68 573.29L281.26 574.75M285.33 568.55L285.94 569.47M288.95 573.27L287.75 571.83M288.95 573.27L289.81 575.06M285.33 568.55L285.35 572.15" stroke="#92CBE3" stroke-width="1.2" fill="none"/>
<path d="M53.07 528.64L54.45 530.14M55.2 531.45L54.45 530.14M51.04 525.82L50.41 524.5M57.25 535.14L58.55 537.54M58.63 539.63L58.71 541.72M59.4 544.71L58.71 541.72M61.01 528.45L61.85 529.9M62.98 531.05L61.85 529.9M59.68 525.58L59.18 524.17M64.94 534.9L65.76 537.6M66.7 539.49L67.63 541.38M67.92 544.54L67.63 541.38M69 528.76L70.18 529.98M70.96 531.29L70.18 529.98M67.3 525.65L66.8 523.76M72.65 535.06L73.56 537.51M74.26 540.15L74.96 542.79M75.63 545.24L74.96 542.79M68.45 532.44L69.1 537.34M69.93 539.78L70.76 542.22M71.5 547.46L70.76 542.22M77.5 528.27L78.68 529.63M79.47 531.07L78.68 529.63M75.43 525.49L74.55 524.07M81.06 535.32L81.86 538.12M82.8 540.77L83.73 543.42M84.06 545.56L83.73 543.42M77.33 532.26L78.34 537.62M78.7 539.89L79.06 542.16M79.7 547.43L79.06 542.16M85.79 528.71L86.64 529.95M87.58 531.27L86.64 529.95M84.13 525.85L83.32 524.24M89.24 535.22L89.95 537.85M90.52 539.72L91.08 541.6M91.79 544.65L91.08 541.6M85.71 532.24L86.49 537.02M86.75 539.33L87.01 541.63M87.73 547.17L87.01 541.63M93.34 528.6L94.02 529.97M95.03 531.39L94.02 529.97M91.87 525.7L91.08 524.18M97.49 534.98L98.94 537.14M99.07 539.21L99.2 541.28M99.9 544.49L99.2 541.28M93.36 532.28L94.06 537.33M94.69 539.65L95.31 541.96M95.93 547.33L95.31 541.96M101.48 529.14L102.64 530.86M103.68 531.66L102.64 530.86M99.46 526.16L98.61 524.89M105.68 534.7L106.64 536.93M107.4 539.57L108.16 542.21M108.43 544.95L108.16 542.21M101.18 532.06L102.05 536.7M102.83 539.72L103.62 542.73M104.13 547.72L103.62 542.73M109.69 528.86L110.8 529.98M112.15 531.08L110.8 529.98M107.78 525.97L106.99 524.19M114.14 534.65L114.77 537.13M115.35 539.85L115.92 542.56M116.36 545.13L115.92 542.56M109.66 532.59L110.75 537.43M111.32 540.27L111.9 543.11M112.32 547.91L111.9 543.11M117.86 529.03L118.66 530.42M119.9 531.35L118.66 530.42M122.23 534.84L123.32 537.41M123.37 540.29L123.42 543.17M124.16 545.44L123.42 543.17M125.6 528.99L126.73 529.9M127.85 530.93L126.73 529.9M123.89 526.09L123.3 524.1M129.83 534.59L130.69 537.21M131.21 539.76L131.73 542.31M132.37 545L131.73 542.31M125.66 532.41L126.85 536.74M127.14 539.5L127.44 542.26M128.2 547.48L127.44 542.26M134.04 528.54L135.37 529.71M135.87 531.5L135.37 529.71M132.59 525.31L132.47 523.24M137.53 535.24L138.68 537.21M139.57 539.67L140.46 542.14M140.78 544.92L140.46 542.14M133.7 532.75L134.68 538.13M135.77 540.03L136.86 541.94M136.96 547.32L136.86 541.94M141.92 529.42L143.11 530.29M143.94 531.35L143.11 530.29M140.41 526.2L140.1 523.85M145.98 534.96L147.2 537.52M148.13 539.86L149.05 542.19M149.13 544.95L149.05 542.19M141.56 533.23L142.38 537.93M143.13 539.54L143.88 541.15M144.52 546.92L143.88 541.15M150.22 529.01L151.47 530.42M152.6 531.33L151.47 530.42M154.38 535.26L155.02 538.28M156.06 540.46L157.09 542.63M157.19 545.16L157.09 542.63M150.16 532.36L151.36 537.13M151.76 539.45L152.16 541.77M152.71 547.23L152.16 541.77M158.56 529.1L159.81 530.63M161.13 531.58L159.81 530.63M156.99 525.45L156.68 523.33M162.85 535.18L163.24 537.83M163.39 539.72L163.54 541.62M164.47 544.66L163.54 541.62M158.1 532.11L158.9 536.65M159.52 539.29L160.15 541.93M160.75 547.31L160.15 541.93M166.53 529.19L167.38 530.63M168.36 531.5L167.38 530.63M165.1 525.95L164.52 524.14M170.06 534.71L170.78 537.04M171.82 539.65L172.86 542.25M173.18 544.98L172.86 542.25M166.07 532.51L166.45 537.26M167.36 539.64L168.26 542.02M168.86 547.36L168.26 542.02M174.62 529.17L175.87 530.63M176.77 531.78L175.87 530.63M172.75 525.94L172.13 524.18M178.63 535.09L179.6 537.24M180.26 540.01L180.92 542.78M181.26 545.24L180.92 542.78M173.93 532.75L174.49 537.8M175.5 540.18L176.51 542.55M177.03 547.63L176.51 542.55M182.26 529.18L183.46 530.15M184.7 531.35L183.46 530.15M180.95 526.17L180.83 524.13M186.67 534.7L187.39 536.84M188.35 539.51L189.31 542.18M189.5 544.94L189.31 542.18M182.2 532.11L183.34 536.02M184.07 539.03L184.81 542.04M185.23 547.37L184.81 542.04M190.5 528.68L191.42 529.74M192.39 531.32L191.42 529.74M189.08 526.06L188.58 524.5M194.36 534.77L195.36 536.64M196.34 539.16L197.32 541.67M197.56 544.68L197.32 541.67M198.97 528.69L200.16 530.02M200.87 531.39L200.16 530.02M203.06 535.03L204.53 537.3M204.54 539.48L204.54 541.67M205.22 544.69L204.54 541.67M206.25 528.46L206.86 529.57M208.14 531.18L206.86 529.57M205.43 525.88L205.22 524.41M210.7 535.54L211.98 538.29M212.65 540.26L213.31 542.24M213.66 544.97L213.31 542.24M206.61 532.09L207.57 536.83M208.09 539.34L208.62 541.84M209.28 547.27L208.62 541.84M214.96 529.16L215.93 530.84M217.17 531.49L215.93 530.84M219.28 535.07L220.16 538M220.91 540.43L221.65 542.86M221.88 545.28L221.65 542.86M214.56 532.28L215.15 537.07M216 539.25L216.85 541.43M217.45 547.06L216.85 541.43M223 528.49L224.08 529.82M224.78 531.25L224.08 529.82M221.27 525.6L220.63 524.04M226.66 535.02L227.84 537.37M228.48 539.88L229.13 542.39M229.66 545.05L229.13 542.39M231.23 528.73L232.12 530.08M233.06 531.42L232.12 530.08M234.51 535.16L235.02 537.57M236.28 540.23L237.53 542.9M237.92 545.3L237.53 542.9M239.22 528.95L240.06 530.3M240.92 531.61L240.06 530.3M237.81 526.08L237.24 524.56M242.89 535.06L244 537.21M244.58 539.61L245.16 542.01M245.78 544.86L245.16 542.01M239.12 532.7L239.85 537.79M240.74 540.18L241.63 542.56M241.99 547.63L241.63 542.56M247.42 528.66L248.12 530.08M249.36 531.62L248.12 530.08M251.51 535.01L252.43 536.86M253.34 539.44L254.24 542.01M254.37 544.86L254.24 542.01M247.77 532.47L248.82 537.69M249.21 540.08L249.61 542.47M250.03 547.58L249.61 542.47M255.61 528.85L256.87 530.19M257.86 531.55L256.87 530.19M259.58 535.44L260.32 537.95M261.3 539.99L262.28 542.03M262.44 544.86L262.28 542.03M255.53 532.54L256.7 537.56M257.24 539.55L257.78 541.54M258.16 547.12L257.78 541.54M263.78 528.82L265.11 530.22M265.92 531.12L265.11 530.22M261.63 525.8L260.81 524.19M267.88 534.31L269.03 536.62M269.48 539.58L269.92 542.55M270.31 545.12L269.92 542.55M263.54 532.23L264.63 537.03M265.36 539.75L266.09 542.46M266.37 547.58L266.09 542.46M271.51 529.07L272.22 529.84M273.65 531.45L272.22 529.84M270.37 526.24L269.95 524.18M276 534.96L276.91 536.87M277.45 539.25L277.99 541.63M278.39 544.66L277.99 541.63M271.5 532.59L272.21 536.88M272.96 539.99L273.72 543.11M274.24 547.9L273.72 543.11M279.95 528.79L281.51 530.19M282.39 531.32L281.51 530.19M284.06 535.36L284.84 538.27M285.55 540.36L286.26 542.46M286.58 545.08L286.26 542.46M279.14 532.07L279.88 536.76M281.13 539.68L282.39 542.61M282.62 547.66L282.39 542.61M287.82 529.04L288.54 530.26M289.64 531.49L288.54 530.26M286.35 526.1L285.59 524.38M291.7 535.22L292.67 537.72M293.48 540.05L294.28 542.38M294.64 545.04L294.28 542.38M287.56 532.11L288.01 536.4M289.08 539.54L290.15 542.67M290.55 547.69L290.15 542.67M50.55 549.22L51.3 550.47M52.34 551.43L51.3 550.47M53.93 554.72L54.48 557.05M55.32 559.75L56.16 562.44M56.63 565.12L56.16 562.44M50.27 552.69L50.73 557.42M51.33 559.92L51.93 562.43M52.49 567.62L51.93 562.43M58 548.81L58.72 550.28M60.02 551.45L58.72 550.28M62.46 554.69L63.6 556.77M63.62 559.12L63.64 561.47M64.42 564.64L63.64 561.47M57.99 552.31L58.7 557.27M59.24 559.55L59.79 561.83M60.47 567.31L59.79 561.83M65.59 548.83L66.78 549.9M68.07 550.96L66.78 549.9M70.22 554.82L71.09 557.62M71.97 560.3L72.85 562.98M73.08 565.39L72.85 562.98M65.91 552.24L67.44 556.72M67.71 559.79L67.98 562.87M68.61 567.84L67.98 562.87M74.5 549.02L75.59 550.34M76.08 551.19L75.59 550.34M77.82 554.67L79.08 557.29M79.45 559.89L79.81 562.49M80.6 565.14L79.81 562.49M74.54 552.52L75.66 557.32M75.94 559.54L76.22 561.75M76.78 567.28L76.22 561.75M82.66 549.13L83.44 549.97M84.32 551.39L83.44 549.97M85.75 555.06L86.3 557.32M87.57 559.45L88.84 561.58M89.17 564.69L88.84 561.58M81.84 553.12L81.79 557.94M83.19 560.13L84.6 562.32M85.03 567.56L84.6 562.32M90.4 548.83L91.4 550.19M92.46 551.39L91.4 550.19M94.48 555.43L95.45 558.27M95.79 560.35L96.12 562.43M96.86 565.12L96.12 562.43M98.22 548.63L99.3 550.38M100.59 551.37L99.3 550.38M102.48 554.93L103.06 557.51M103.91 560.1L104.77 562.7M105.23 565.25L104.77 562.7M98.05 552.31L98.95 557.75M99.75 560.05L100.56 562.36M101.1 567.58L100.56 562.36M106.89 549.03L108.17 550.08M108.71 551.44L108.17 550.08M110.83 554.96L112.41 557.13M112.69 559.59L112.98 562.05M113.39 564.93L112.98 562.05M106.28 552.5L106.95 557.02M107.81 559.46L108.68 561.89M109.21 567.35L108.68 561.89M115.01 549.26L115.87 550.29M116.55 551.64L115.87 550.29M118.96 555.54L120.68 558.1M120.9 560.24L121.13 562.39M121.51 565.09L121.13 562.39M114.98 552.58L115.81 556.93M116.34 559.64L116.87 562.35M117.36 567.57L116.87 562.35M123.05 549.4L123.81 550.38M125.07 551.76L123.81 550.38M127.23 554.96L128.11 556.78M129.01 559.36L129.92 561.94M129.96 564.87L129.92 561.94M123.27 553.38L124.25 558.36M124.44 560.18L124.62 561.99M125.28 567.4L124.62 561.99M132.02 549.1L132.8 550.46M133.03 551.47L132.8 550.46M134.73 555.3L136.2 558.11M136.84 560.12L137.47 562.13M137.79 564.97L137.47 562.13M131.56 552.24L131.88 556.74M132.43 559.96L132.98 563.18M133.51 567.99L132.98 563.18M139.39 548.7L140.47 549.67M141.32 551.31L140.47 549.67M143.13 555.66L144.07 558.36M144.84 560.14L145.6 561.92M145.9 564.86L145.6 561.92M138.65 552.31L138.98 556.9M140.36 559.58L141.74 562.27M141.95 567.53L141.74 562.27M146.96 548.7L148.06 549.89M149.13 551.28L148.06 549.89M151.28 555.47L152.35 558.27M152.76 560.15L153.17 562.03M153.74 564.91L153.17 562.03M146.59 552.25L147.31 557M148.18 559.69L149.05 562.38M149.65 567.59L149.05 562.38M154.9 548.39L155.6 549.39M157.04 550.84L155.6 549.39M159.49 554.46L160.5 556.63M161.09 559.63L161.68 562.64M162.04 565.22L161.68 562.64M155.06 552.21L155.93 557.03M156.63 559.51L157.33 562M157.84 567.4L157.33 562M163.25 549.08L164.61 550.02M165.35 551.67L164.61 550.02M167.28 555.72L168.48 558.12M168.76 559.98L169.05 561.84M169.77 564.82L169.05 561.84M163.03 552.82L164.17 557.5M164.79 559.72L165.41 561.94M165.93 567.37L165.41 561.94M171.13 549.28L171.98 550.45M173.49 551.6L171.98 550.45M175.76 555.19L176.52 557.63M177.45 560.17L178.39 562.71M178.5 565.26L178.39 562.71M171.05 553.05L171.81 557.99M172.7 560.37L173.58 562.74M174.07 567.77L173.58 562.74M179.66 548.57L180.76 549.77M181.77 551.52L180.76 549.77M183.59 555.28L184.4 557.29M185.15 560.07L185.9 562.85M186.3 565.32L185.9 562.85M179.49 552.25L180.43 557.13M181.05 559.74L181.67 562.36M182.16 567.58L181.67 562.36M187.76 548.92L188.96 550.09M189.87 551.21L188.96 550.09M191.52 555.06L192.24 557.79M192.99 560.51L193.74 563.22M194.27 565.51L193.74 563.22M187.52 552.35L188.47 556.97M189.02 559.87L189.57 562.77M190.16 567.78L189.57 562.77M195.86 549.18L197.16 550.37M197.6 551.58L197.16 550.37M199.39 555.42L200.73 558.04M201.21 559.94L201.69 561.85M202.29 564.82L201.69 561.85M195.79 552.77L197.01 557.55M197.38 560.02L197.75 562.49M198.3 567.64L197.75 562.49M203.72 548.64L204.33 550M205.09 551.18L204.33 550M207.1 554.74L208.35 557.1M209.33 559.75L210.3 562.39M210.65 565.09L210.3 562.39M204.2 552.2L205.3 557.11M205.54 560.04L205.78 562.98M206.37 567.89L205.78 562.98M211.93 548.83L213.28 550.49M214.44 551.67L213.28 550.49M216.45 555.08L217.3 557.31M217.76 559.55L218.21 561.79M218.65 564.8L218.21 561.79M219.96 549.08L220.68 550.58M222.07 552.18L220.68 550.58M224.44 555.93L225.42 558.09M225.73 560.53L226.03 562.96M226.61 565.38L226.03 562.96M228.41 549.4L229.61 551.17M230.51 552.12L229.61 551.17M232.21 555.48L233.02 557.88M233.65 560.33L234.29 562.77M234.79 565.28L234.29 562.77M227.96 552.17L228.72 556.71M229.34 559.61L229.95 562.5M230.6 567.65L229.95 562.5M236.66 549.12L237.37 550.2M238.15 551.39L237.37 550.2M240.1 555.26L241.28 557.95M241.95 559.97L242.63 562M243.01 564.9L242.63 562M236.42 552.26L236.89 556.49M237.58 559.49L238.26 562.48M238.8 567.64L238.26 562.48M244.23 548.55L245.58 549.44M246.45 551.4L245.58 549.44M248.39 555.53L249.47 557.69M249.99 559.89L250.51 562.09M251 564.95L250.51 562.09M244.11 552.58L245.35 557.49M245.66 559.82L245.98 562.14M246.71 567.47L245.98 562.14M252.08 549.15L253.3 551.16M254.3 551.73L253.3 551.16M256.43 554.66L257.56 557.01M257.68 559.42L257.8 561.83M258.7 564.81L257.8 561.83M251.56 552.38L252.28 557.6M253.27 560.03L254.26 562.46M254.9 567.63L254.26 562.46M261.11 548.79L261.44 549.82M262.55 551.3L261.44 549.82M264.51 555.39L265.37 558.01M266 559.78L266.64 561.55M267.17 564.68L266.64 561.55M260.81 552.5L260.84 557.25M261.79 559.87L262.75 562.48M263.2 567.64L262.75 562.48M269.04 548.51L269.95 549.43M271 551.11L269.95 549.43M273.06 554.74L274.07 556.7M274.25 559.68L274.43 562.66M275.11 565.23L274.43 562.66M269.11 552.48L270.09 557.36M270.18 559.86L270.28 562.36M271.01 567.58L270.28 562.36M276.63 549.23L277.63 550.23M279.06 551.59L277.63 550.23M281.3 555.02L282.11 557.09M282.4 559.91L282.68 562.72M283.29 565.26L282.68 562.72M276.52 552.7L277.4 557.16M277.71 560.02L278.02 562.89M278.93 567.84L278.02 562.89M285.21 548.84L286.58 550.47M287.04 551.43L286.58 550.47M288.38 555.41L289.26 558.43M290.45 560.1L291.63 561.77M291.82 564.78L291.63 561.77M284.92 552.1L285.98 557M286.42 559.52L286.85 562.04M287.4 567.42L286.85 562.04M59.3 569.53L60.1 570.65M61.24 571.75L60.1 570.65M62.62 575.02L62.87 577.2M67.6 569.11L68.99 570.26M69.75 571.77L68.99 570.26M70.88 575.02L71.24 576.76M66.93 571.97L67.65 575.98M75.52 569.58L76.77 570.92M77.72 571.95L76.77 570.92M78.85 574.92L79.03 576.85M74.78 572.15L75.29 576.06M83.52 569.11L84.71 570.18M85.59 571.78L84.71 570.18M86.99 575.22L87.51 577.05M91.74 569.16L92.99 570.23M93.94 571.66L92.99 570.23M95.53 574.77L96.18 576.45M91.07 572.01L91.67 575.94M98.86 569.27L100.24 570.28M101.47 571.62L100.24 570.28M103.46 574.84L104.2 576.72M98.62 572.12L99.76 575.99M107.67 569.16L108.47 570.64M109.61 571.46L108.47 570.64M111.3 574.49L111.85 576.7M107.35 572.36L107.84 577.03M115.35 569.24L116.1 570.62M117.4 571.42L116.1 570.62M119.39 574.74L120.08 577.27M115.23 572.28L115.84 576.72M124 569.55L125.08 570.63M125.76 571.85L125.08 570.63M127.61 575.09L128.77 577.12M123.36 572.59L123.79 576.71M131.75 569.29L132.56 570.32M134.04 571.66L132.56 570.32M136.13 574.81L136.74 576.63M140.26 569.14L141.47 570.3M142.15 571.6L141.47 570.3M143.62 574.66L144.4 576.42M147.78 569.26L149.04 570.81M150.29 572.12L149.04 570.81M151.69 575.23L151.83 577.03M147.18 571.66L147.84 575.61M156.28 569.36L157.53 570.7M158.48 571.83L157.53 570.7M159.8 574.76L160.17 576.57M165 569.07L166.26 570.4M167.02 571.68L166.26 570.4M168.3 574.81L168.82 576.68M173.04 568.88L173.69 570.03M174.41 571.44L173.69 570.03M176.18 574.94L177.24 577.03M180.72 569.35L182.01 571.07M182.74 571.85L182.01 571.07M184.18 574.67L184.9 576.7M188.68 569.24L189.95 570.45M190.86 571.7L189.95 570.45M192.37 575.15L192.96 577.35M187.88 572.02L188.35 576.02M196.55 569.14L197.69 570.64M198.68 571.65L197.69 570.64M200.44 574.71L201.22 576.76M195.94 571.91L196.45 576.19M205.21 569.06L206.25 570.08M207.27 571.67L206.25 570.08M209.04 575.13L209.8 577.01M204.71 572.23L205.24 576.43M212.87 569.38L213.89 570.8M214.59 571.81L213.89 570.8M216.22 574.79L217.14 576.76M212.37 572.3L212.89 576.64M220.8 568.93L221.81 570M223.02 571.61L221.81 570M225.17 575L226.11 576.78M220.68 572.24L221.57 576.61M228.96 569.13L229.92 570.4M230.73 571.68L229.92 570.4M232.94 574.97L234.35 576.98M237.02 569.18L238.37 570.2M239.62 571.41L238.37 570.2M241.25 574.59L241.65 576.56M236.43 571.91L237.2 575.67M245.59 569.37L246.33 570.48M247.35 571.74L246.33 570.48M249.13 574.81L249.88 576.61M253.07 569.36L254.26 571.15M255.24 572.07L254.26 571.15M257.02 574.77L257.83 576.56M252.94 572.3L254.01 577.03M261.75 569.21L262.61 570.72M263.55 571.99L262.61 570.72M265.23 575.3L265.98 577.34M261.52 572.04L262.15 576.37M268.72 568.83L269.47 570.22M271.13 571.68L269.47 570.22M273.67 575.11L274.56 577.08M278.06 569.06L279.16 570.21M279.92 571.75L279.16 570.21M281.26 574.75L281.84 576.2M285.94 569.47L286.55 570.39M287.75 571.83L286.55 570.39M289.81 575.06L290.67 576.84M285.35 572.15L285.37 575.75" stroke="#E03A30" stroke-width="1.3" fill="none"/>
<ellipse cx="50.41" cy="524.5" rx="1.5" ry="1.7" fill="#DA2A22"/>
<ellipse cx="58.55" cy="537.54" rx="1.5" ry="1.9" fill="#DA2A22"/>
<ellipse cx="58.71" cy="541.72" rx="1.5" ry="1.9" fill="#DA2A22"/>
<ellipse cx="59.18" cy="524.17" rx="1.5" ry="1.7" fill="#DA2A22"/>
<ellipse cx="65.76" cy="537.6" rx="1.5" ry="1.9" fill="#DA2A22"/>
<ellipse cx="67.63" cy="541.38" rx="1.5" ry="1.9" fill="#DA2A22"/>
<ellipse cx="66.8" cy="523.76" rx="1.5" ry="1.7" fill="#DA2A22"/>
<ellipse cx="73.56" cy="537.51" rx="1.5" ry="1.9" fill="#DA2A22"/>
<ellipse cx="74.96" cy="542.79" rx="1.5" ry="1.9" fill="#DA2A22"/>
<ellipse cx="69.1" cy="537.34" rx="1.5" ry="1.9" fill="#DA2A22"/>
<ellipse cx="70.76" cy="542.22" rx="1.5" ry="1.9" fill="#DA2A22"/>
<ellipse cx="74.55" cy="524.07" rx="1.5" ry="1.7" fill="#DA2A22"/>
<ellipse cx="81.86" cy="538.12" rx="1.5" ry="1.9" fill="#DA2A22"/>
<ellipse cx="83.73" cy="543.42" rx="1.5" ry="1.9" fill="#DA2A22"/>
<ellipse cx="78.34" cy="537.62" rx="1.5" ry="1.9" fill="#DA2A22"/>
<ellipse cx="79.06" cy="542.16" rx="1.5" ry="1.9" fill="#DA2A22"/>
<ellipse cx="83.32" cy="524.24" rx="1.5" ry="1.7" fill="#DA2A22"/>
<ellipse cx="89.95" cy="537.85" rx="1.5" ry="1.9" fill="#DA2A22"/>
<ellipse cx="91.08" cy="541.6" rx="1.5" ry="1.9" fill="#DA2A22"/>
<ellipse cx="86.49" cy="537.02" rx="1.5" ry="1.9" fill="#DA2A22"/>
<ellipse cx="87.01" cy="541.63" rx="1.5" ry="1.9" fill="#DA2A22"/>
<ellipse cx="91.08" cy="524.18" rx="1.5" ry="1.7" fill="#DA2A22"/>
<ellipse cx="98.94" cy="537.14" rx="1.5" ry="1.9" fill="#DA2A22"/>
<ellipse cx="99.2" cy="541.28" rx="1.5" ry="1.9" fill="#DA2A22"/>
<ellipse cx="94.06" cy="537.33" rx="1.5" ry="1.9" fill="#DA2A22"/>
<ellipse cx="95.31" cy="541.96" rx="1.5" ry="1.9" fill="#DA2A22"/>
<ellipse cx="98.61" cy="524.89" rx="1.5" ry="1.7" fill="#DA2A22"/>
<ellipse cx="106.64" cy="536.93" rx="1.5" ry="1.9" fill="#DA2A22"/>
<ellipse cx="108.16" cy="542.21" rx="1.5" ry="1.9" fill="#DA2A22"/>
<ellipse cx="102.05" cy="536.7" rx="1.5" ry="1.9" fill="#DA2A22"/>
<ellipse cx="103.62" cy="542.73" rx="1.5" ry="1.9" fill="#DA2A22"/>
<ellipse cx="106.99" cy="524.19" rx="1.5" ry="1.7" fill="#DA2A22"/>
<ellipse cx="114.77" cy="537.13" rx="1.5" ry="1.9" fill="#DA2A22"/>
<ellipse cx="115.92" cy="542.56" rx="1.5" ry="1.9" fill="#DA2A22"/>
<ellipse cx="110.75" cy="537.43" rx="1.5" ry="1.9" fill="#DA2A22"/>
<ellipse cx="111.9" cy="543.11" rx="1.5" ry="1.9" fill="#DA2A22"/>
<ellipse cx="123.32" cy="537.41" rx="1.5" ry="1.9" fill="#DA2A22"/>
<ellipse cx="123.42" cy="543.17" rx="1.5" ry="1.9" fill="#DA2A22"/>
<ellipse cx="123.3" cy="524.1" rx="1.5" ry="1.7" fill="#DA2A22"/>
<ellipse cx="130.69" cy="537.21" rx="1.5" ry="1.9" fill="#DA2A22"/>
<ellipse cx="131.73" cy="542.31" rx="1.5" ry="1.9" fill="#DA2A22"/>
<ellipse cx="126.85" cy="536.74" rx="1.5" ry="1.9" fill="#DA2A22"/>
<ellipse cx="127.44" cy="542.26" rx="1.5" ry="1.9" fill="#DA2A22"/>
<ellipse cx="132.47" cy="523.24" rx="1.5" ry="1.7" fill="#DA2A22"/>
<ellipse cx="138.68" cy="537.21" rx="1.5" ry="1.9" fill="#DA2A22"/>
<ellipse cx="140.46" cy="542.14" rx="1.5" ry="1.9" fill="#DA2A22"/>
<ellipse cx="134.68" cy="538.13" rx="1.5" ry="1.9" fill="#DA2A22"/>
<ellipse cx="136.86" cy="541.94" rx="1.5" ry="1.9" fill="#DA2A22"/>
<ellipse cx="140.1" cy="523.85" rx="1.5" ry="1.7" fill="#DA2A22"/>
<ellipse cx="147.2" cy="537.52" rx="1.5" ry="1.9" fill="#DA2A22"/>
<ellipse cx="149.05" cy="542.19" rx="1.5" ry="1.9" fill="#DA2A22"/>
<ellipse cx="142.38" cy="537.93" rx="1.5" ry="1.9" fill="#DA2A22"/>
<ellipse cx="143.88" cy="541.15" rx="1.5" ry="1.9" fill="#DA2A22"/>
<ellipse cx="155.02" cy="538.28" rx="1.5" ry="1.9" fill="#DA2A22"/>
<ellipse cx="157.09" cy="542.63" rx="1.5" ry="1.9" fill="#DA2A22"/>
<ellipse cx="151.36" cy="537.13" rx="1.5" ry="1.9" fill="#DA2A22"/>
<ellipse cx="152.16" cy="541.77" rx="1.5" ry="1.9" fill="#DA2A22"/>
<ellipse cx="156.68" cy="523.33" rx="1.5" ry="1.7" fill="#DA2A22"/>
<ellipse cx="163.24" cy="537.83" rx="1.5" ry="1.9" fill="#DA2A22"/>
<ellipse cx="163.54" cy="541.62" rx="1.5" ry="1.9" fill="#DA2A22"/>
<ellipse cx="158.9" cy="536.65" rx="1.5" ry="1.9" fill="#DA2A22"/>
<ellipse cx="160.15" cy="541.93" rx="1.5" ry="1.9" fill="#DA2A22"/>
<ellipse cx="164.52" cy="524.14" rx="1.5" ry="1.7" fill="#DA2A22"/>
<ellipse cx="170.78" cy="537.04" rx="1.5" ry="1.9" fill="#DA2A22"/>
<ellipse cx="172.86" cy="542.25" rx="1.5" ry="1.9" fill="#DA2A22"/>
<ellipse cx="166.45" cy="537.26" rx="1.5" ry="1.9" fill="#DA2A22"/>
<ellipse cx="168.26" cy="542.02" rx="1.5" ry="1.9" fill="#DA2A22"/>
<ellipse cx="172.13" cy="524.18" rx="1.5" ry="1.7" fill="#DA2A22"/>
<ellipse cx="179.6" cy="537.24" rx="1.5" ry="1.9" fill="#DA2A22"/>
<ellipse cx="180.92" cy="542.78" rx="1.5" ry="1.9" fill="#DA2A22"/>
<ellipse cx="174.49" cy="537.8" rx="1.5" ry="1.9" fill="#DA2A22"/>
<ellipse cx="176.51" cy="542.55" rx="1.5" ry="1.9" fill="#DA2A22"/>
<ellipse cx="180.83" cy="524.13" rx="1.5" ry="1.7" fill="#DA2A22"/>
<ellipse cx="187.39" cy="536.84" rx="1.5" ry="1.9" fill="#DA2A22"/>
<ellipse cx="189.31" cy="542.18" rx="1.5" ry="1.9" fill="#DA2A22"/>
<ellipse cx="183.34" cy="536.02" rx="1.5" ry="1.9" fill="#DA2A22"/>
<ellipse cx="184.81" cy="542.04" rx="1.5" ry="1.9" fill="#DA2A22"/>
<ellipse cx="188.58" cy="524.5" rx="1.5" ry="1.7" fill="#DA2A22"/>
<ellipse cx="195.36" cy="536.64" rx="1.5" ry="1.9" fill="#DA2A22"/>
<ellipse cx="197.32" cy="541.67" rx="1.5" ry="1.9" fill="#DA2A22"/>
<ellipse cx="204.53" cy="537.3" rx="1.5" ry="1.9" fill="#DA2A22"/>
<ellipse cx="204.54" cy="541.67" rx="1.5" ry="1.9" fill="#DA2A22"/>
<ellipse cx="205.22" cy="524.41" rx="1.5" ry="1.7" fill="#DA2A22"/>
<ellipse cx="211.98" cy="538.29" rx="1.5" ry="1.9" fill="#DA2A22"/>
<ellipse cx="213.31" cy="542.24" rx="1.5" ry="1.9" fill="#DA2A22"/>
<ellipse cx="207.57" cy="536.83" rx="1.5" ry="1.9" fill="#DA2A22"/>
<ellipse cx="208.62" cy="541.84" rx="1.5" ry="1.9" fill="#DA2A22"/>
<ellipse cx="220.16" cy="538" rx="1.5" ry="1.9" fill="#DA2A22"/>
<ellipse cx="221.65" cy="542.86" rx="1.5" ry="1.9" fill="#DA2A22"/>
<ellipse cx="215.15" cy="537.07" rx="1.5" ry="1.9" fill="#DA2A22"/>
<ellipse cx="216.85" cy="541.43" rx="1.5" ry="1.9" fill="#DA2A22"/>
<ellipse cx="220.63" cy="524.04" rx="1.5" ry="1.7" fill="#DA2A22"/>
<ellipse cx="227.84" cy="537.37" rx="1.5" ry="1.9" fill="#DA2A22"/>
<ellipse cx="229.13" cy="542.39" rx="1.5" ry="1.9" fill="#DA2A22"/>
<ellipse cx="235.02" cy="537.57" rx="1.5" ry="1.9" fill="#DA2A22"/>
<ellipse cx="237.53" cy="542.9" rx="1.5" ry="1.9" fill="#DA2A22"/>
<ellipse cx="237.24" cy="524.56" rx="1.5" ry="1.7" fill="#DA2A22"/>
<ellipse cx="244" cy="537.21" rx="1.5" ry="1.9" fill="#DA2A22"/>
<ellipse cx="245.16" cy="542.01" rx="1.5" ry="1.9" fill="#DA2A22"/>
<ellipse cx="239.85" cy="537.79" rx="1.5" ry="1.9" fill="#DA2A22"/>
<ellipse cx="241.63" cy="542.56" rx="1.5" ry="1.9" fill="#DA2A22"/>
<ellipse cx="252.43" cy="536.86" rx="1.5" ry="1.9" fill="#DA2A22"/>
<ellipse cx="254.24" cy="542.01" rx="1.5" ry="1.9" fill="#DA2A22"/>
<ellipse cx="248.82" cy="537.69" rx="1.5" ry="1.9" fill="#DA2A22"/>
<ellipse cx="249.61" cy="542.47" rx="1.5" ry="1.9" fill="#DA2A22"/>
<ellipse cx="260.32" cy="537.95" rx="1.5" ry="1.9" fill="#DA2A22"/>
<ellipse cx="262.28" cy="542.03" rx="1.5" ry="1.9" fill="#DA2A22"/>
<ellipse cx="256.7" cy="537.56" rx="1.5" ry="1.9" fill="#DA2A22"/>
<ellipse cx="257.78" cy="541.54" rx="1.5" ry="1.9" fill="#DA2A22"/>
<ellipse cx="260.81" cy="524.19" rx="1.5" ry="1.7" fill="#DA2A22"/>
<ellipse cx="269.03" cy="536.62" rx="1.5" ry="1.9" fill="#DA2A22"/>
<ellipse cx="269.92" cy="542.55" rx="1.5" ry="1.9" fill="#DA2A22"/>
<ellipse cx="264.63" cy="537.03" rx="1.5" ry="1.9" fill="#DA2A22"/>
<ellipse cx="266.09" cy="542.46" rx="1.5" ry="1.9" fill="#DA2A22"/>
<ellipse cx="269.95" cy="524.18" rx="1.5" ry="1.7" fill="#DA2A22"/>
<ellipse cx="276.91" cy="536.87" rx="1.5" ry="1.9" fill="#DA2A22"/>
<ellipse cx="277.99" cy="541.63" rx="1.5" ry="1.9" fill="#DA2A22"/>
<ellipse cx="272.21" cy="536.88" rx="1.5" ry="1.9" fill="#DA2A22"/>
<ellipse cx="273.72" cy="543.11" rx="1.5" ry="1.9" fill="#DA2A22"/>
<ellipse cx="284.84" cy="538.27" rx="1.5" ry="1.9" fill="#DA2A22"/>
<ellipse cx="286.26" cy="542.46" rx="1.5" ry="1.9" fill="#DA2A22"/>
<ellipse cx="279.88" cy="536.76" rx="1.5" ry="1.9" fill="#DA2A22"/>
<ellipse cx="282.39" cy="542.61" rx="1.5" ry="1.9" fill="#DA2A22"/>
<ellipse cx="285.59" cy="524.38" rx="1.5" ry="1.7" fill="#DA2A22"/>
<ellipse cx="292.67" cy="537.72" rx="1.5" ry="1.9" fill="#DA2A22"/>
<ellipse cx="294.28" cy="542.38" rx="1.5" ry="1.9" fill="#DA2A22"/>
<ellipse cx="288.01" cy="536.4" rx="1.5" ry="1.9" fill="#DA2A22"/>
<ellipse cx="290.15" cy="542.67" rx="1.5" ry="1.9" fill="#DA2A22"/>
<ellipse cx="54.48" cy="557.05" rx="1.5" ry="1.9" fill="#DA2A22"/>
<ellipse cx="56.16" cy="562.44" rx="1.5" ry="1.9" fill="#DA2A22"/>
<ellipse cx="50.73" cy="557.42" rx="1.5" ry="1.9" fill="#DA2A22"/>
<ellipse cx="51.93" cy="562.43" rx="1.5" ry="1.9" fill="#DA2A22"/>
<ellipse cx="63.6" cy="556.77" rx="1.5" ry="1.9" fill="#DA2A22"/>
<ellipse cx="63.64" cy="561.47" rx="1.5" ry="1.9" fill="#DA2A22"/>
<ellipse cx="58.7" cy="557.27" rx="1.5" ry="1.9" fill="#DA2A22"/>
<ellipse cx="59.79" cy="561.83" rx="1.5" ry="1.9" fill="#DA2A22"/>
<ellipse cx="71.09" cy="557.62" rx="1.5" ry="1.9" fill="#DA2A22"/>
<ellipse cx="72.85" cy="562.98" rx="1.5" ry="1.9" fill="#DA2A22"/>
<ellipse cx="67.44" cy="556.72" rx="1.5" ry="1.9" fill="#DA2A22"/>
<ellipse cx="67.98" cy="562.87" rx="1.5" ry="1.9" fill="#DA2A22"/>
<ellipse cx="79.08" cy="557.29" rx="1.5" ry="1.9" fill="#DA2A22"/>
<ellipse cx="79.81" cy="562.49" rx="1.5" ry="1.9" fill="#DA2A22"/>
<ellipse cx="75.66" cy="557.32" rx="1.5" ry="1.9" fill="#DA2A22"/>
<ellipse cx="76.22" cy="561.75" rx="1.5" ry="1.9" fill="#DA2A22"/>
<ellipse cx="86.3" cy="557.32" rx="1.5" ry="1.9" fill="#DA2A22"/>
<ellipse cx="88.84" cy="561.58" rx="1.5" ry="1.9" fill="#DA2A22"/>
<ellipse cx="81.79" cy="557.94" rx="1.5" ry="1.9" fill="#DA2A22"/>
<ellipse cx="84.6" cy="562.32" rx="1.5" ry="1.9" fill="#DA2A22"/>
<ellipse cx="95.45" cy="558.27" rx="1.5" ry="1.9" fill="#DA2A22"/>
<ellipse cx="96.12" cy="562.43" rx="1.5" ry="1.9" fill="#DA2A22"/>
<ellipse cx="103.06" cy="557.51" rx="1.5" ry="1.9" fill="#DA2A22"/>
<ellipse cx="104.77" cy="562.7" rx="1.5" ry="1.9" fill="#DA2A22"/>
<ellipse cx="98.95" cy="557.75" rx="1.5" ry="1.9" fill="#DA2A22"/>
<ellipse cx="100.56" cy="562.36" rx="1.5" ry="1.9" fill="#DA2A22"/>
<ellipse cx="112.41" cy="557.13" rx="1.5" ry="1.9" fill="#DA2A22"/>
<ellipse cx="112.98" cy="562.05" rx="1.5" ry="1.9" fill="#DA2A22"/>
<ellipse cx="106.95" cy="557.02" rx="1.5" ry="1.9" fill="#DA2A22"/>
<ellipse cx="108.68" cy="561.89" rx="1.5" ry="1.9" fill="#DA2A22"/>
<ellipse cx="120.68" cy="558.1" rx="1.5" ry="1.9" fill="#DA2A22"/>
<ellipse cx="121.13" cy="562.39" rx="1.5" ry="1.9" fill="#DA2A22"/>
<ellipse cx="115.81" cy="556.93" rx="1.5" ry="1.9" fill="#DA2A22"/>
<ellipse cx="116.87" cy="562.35" rx="1.5" ry="1.9" fill="#DA2A22"/>
<ellipse cx="128.11" cy="556.78" rx="1.5" ry="1.9" fill="#DA2A22"/>
<ellipse cx="129.92" cy="561.94" rx="1.5" ry="1.9" fill="#DA2A22"/>
<ellipse cx="124.25" cy="558.36" rx="1.5" ry="1.9" fill="#DA2A22"/>
<ellipse cx="124.62" cy="561.99" rx="1.5" ry="1.9" fill="#DA2A22"/>
<ellipse cx="136.2" cy="558.11" rx="1.5" ry="1.9" fill="#DA2A22"/>
<ellipse cx="137.47" cy="562.13" rx="1.5" ry="1.9" fill="#DA2A22"/>
<ellipse cx="131.88" cy="556.74" rx="1.5" ry="1.9" fill="#DA2A22"/>
<ellipse cx="132.98" cy="563.18" rx="1.5" ry="1.9" fill="#DA2A22"/>
<ellipse cx="144.07" cy="558.36" rx="1.5" ry="1.9" fill="#DA2A22"/>
<ellipse cx="145.6" cy="561.92" rx="1.5" ry="1.9" fill="#DA2A22"/>
<ellipse cx="138.98" cy="556.9" rx="1.5" ry="1.9" fill="#DA2A22"/>
<ellipse cx="141.74" cy="562.27" rx="1.5" ry="1.9" fill="#DA2A22"/>
<ellipse cx="152.35" cy="558.27" rx="1.5" ry="1.9" fill="#DA2A22"/>
<ellipse cx="153.17" cy="562.03" rx="1.5" ry="1.9" fill="#DA2A22"/>
<ellipse cx="147.31" cy="557" rx="1.5" ry="1.9" fill="#DA2A22"/>
<ellipse cx="149.05" cy="562.38" rx="1.5" ry="1.9" fill="#DA2A22"/>
<ellipse cx="160.5" cy="556.63" rx="1.5" ry="1.9" fill="#DA2A22"/>
<ellipse cx="161.68" cy="562.64" rx="1.5" ry="1.9" fill="#DA2A22"/>
<ellipse cx="155.93" cy="557.03" rx="1.5" ry="1.9" fill="#DA2A22"/>
<ellipse cx="157.33" cy="562" rx="1.5" ry="1.9" fill="#DA2A22"/>
<ellipse cx="168.48" cy="558.12" rx="1.5" ry="1.9" fill="#DA2A22"/>
<ellipse cx="169.05" cy="561.84" rx="1.5" ry="1.9" fill="#DA2A22"/>
<ellipse cx="164.17" cy="557.5" rx="1.5" ry="1.9" fill="#DA2A22"/>
<ellipse cx="165.41" cy="561.94" rx="1.5" ry="1.9" fill="#DA2A22"/>
<ellipse cx="176.52" cy="557.63" rx="1.5" ry="1.9" fill="#DA2A22"/>
<ellipse cx="178.39" cy="562.71" rx="1.5" ry="1.9" fill="#DA2A22"/>
<ellipse cx="171.81" cy="557.99" rx="1.5" ry="1.9" fill="#DA2A22"/>
<ellipse cx="173.58" cy="562.74" rx="1.5" ry="1.9" fill="#DA2A22"/>
<ellipse cx="184.4" cy="557.29" rx="1.5" ry="1.9" fill="#DA2A22"/>
<ellipse cx="185.9" cy="562.85" rx="1.5" ry="1.9" fill="#DA2A22"/>
<ellipse cx="180.43" cy="557.13" rx="1.5" ry="1.9" fill="#DA2A22"/>
<ellipse cx="181.67" cy="562.36" rx="1.5" ry="1.9" fill="#DA2A22"/>
<ellipse cx="192.24" cy="557.79" rx="1.5" ry="1.9" fill="#DA2A22"/>
<ellipse cx="193.74" cy="563.22" rx="1.5" ry="1.9" fill="#DA2A22"/>
<ellipse cx="188.47" cy="556.97" rx="1.5" ry="1.9" fill="#DA2A22"/>
<ellipse cx="189.57" cy="562.77" rx="1.5" ry="1.9" fill="#DA2A22"/>
<ellipse cx="200.73" cy="558.04" rx="1.5" ry="1.9" fill="#DA2A22"/>
<ellipse cx="201.69" cy="561.85" rx="1.5" ry="1.9" fill="#DA2A22"/>
<ellipse cx="197.01" cy="557.55" rx="1.5" ry="1.9" fill="#DA2A22"/>
<ellipse cx="197.75" cy="562.49" rx="1.5" ry="1.9" fill="#DA2A22"/>
<ellipse cx="208.35" cy="557.1" rx="1.5" ry="1.9" fill="#DA2A22"/>
<ellipse cx="210.3" cy="562.39" rx="1.5" ry="1.9" fill="#DA2A22"/>
<ellipse cx="205.3" cy="557.11" rx="1.5" ry="1.9" fill="#DA2A22"/>
<ellipse cx="205.78" cy="562.98" rx="1.5" ry="1.9" fill="#DA2A22"/>
<ellipse cx="217.3" cy="557.31" rx="1.5" ry="1.9" fill="#DA2A22"/>
<ellipse cx="218.21" cy="561.79" rx="1.5" ry="1.9" fill="#DA2A22"/>
<ellipse cx="225.42" cy="558.09" rx="1.5" ry="1.9" fill="#DA2A22"/>
<ellipse cx="226.03" cy="562.96" rx="1.5" ry="1.9" fill="#DA2A22"/>
<ellipse cx="233.02" cy="557.88" rx="1.5" ry="1.9" fill="#DA2A22"/>
<ellipse cx="234.29" cy="562.77" rx="1.5" ry="1.9" fill="#DA2A22"/>
<ellipse cx="228.72" cy="556.71" rx="1.5" ry="1.9" fill="#DA2A22"/>
<ellipse cx="229.95" cy="562.5" rx="1.5" ry="1.9" fill="#DA2A22"/>
<ellipse cx="241.28" cy="557.95" rx="1.5" ry="1.9" fill="#DA2A22"/>
<ellipse cx="242.63" cy="562" rx="1.5" ry="1.9" fill="#DA2A22"/>
<ellipse cx="236.89" cy="556.49" rx="1.5" ry="1.9" fill="#DA2A22"/>
<ellipse cx="238.26" cy="562.48" rx="1.5" ry="1.9" fill="#DA2A22"/>
<ellipse cx="249.47" cy="557.69" rx="1.5" ry="1.9" fill="#DA2A22"/>
<ellipse cx="250.51" cy="562.09" rx="1.5" ry="1.9" fill="#DA2A22"/>
<ellipse cx="245.35" cy="557.49" rx="1.5" ry="1.9" fill="#DA2A22"/>
<ellipse cx="245.98" cy="562.14" rx="1.5" ry="1.9" fill="#DA2A22"/>
<ellipse cx="257.56" cy="557.01" rx="1.5" ry="1.9" fill="#DA2A22"/>
<ellipse cx="257.8" cy="561.83" rx="1.5" ry="1.9" fill="#DA2A22"/>
<ellipse cx="252.28" cy="557.6" rx="1.5" ry="1.9" fill="#DA2A22"/>
<ellipse cx="254.26" cy="562.46" rx="1.5" ry="1.9" fill="#DA2A22"/>
<ellipse cx="265.37" cy="558.01" rx="1.5" ry="1.9" fill="#DA2A22"/>
<ellipse cx="266.64" cy="561.55" rx="1.5" ry="1.9" fill="#DA2A22"/>
<ellipse cx="260.84" cy="557.25" rx="1.5" ry="1.9" fill="#DA2A22"/>
<ellipse cx="262.75" cy="562.48" rx="1.5" ry="1.9" fill="#DA2A22"/>
<ellipse cx="274.07" cy="556.7" rx="1.5" ry="1.9" fill="#DA2A22"/>
<ellipse cx="274.43" cy="562.66" rx="1.5" ry="1.9" fill="#DA2A22"/>
<ellipse cx="270.09" cy="557.36" rx="1.5" ry="1.9" fill="#DA2A22"/>
<ellipse cx="270.28" cy="562.36" rx="1.5" ry="1.9" fill="#DA2A22"/>
<ellipse cx="282.11" cy="557.09" rx="1.5" ry="1.9" fill="#DA2A22"/>
<ellipse cx="282.68" cy="562.72" rx="1.5" ry="1.9" fill="#DA2A22"/>
<ellipse cx="277.4" cy="557.16" rx="1.5" ry="1.9" fill="#DA2A22"/>
<ellipse cx="278.02" cy="562.89" rx="1.5" ry="1.9" fill="#DA2A22"/>
<ellipse cx="289.26" cy="558.43" rx="1.5" ry="1.9" fill="#DA2A22"/>
<ellipse cx="291.63" cy="561.77" rx="1.5" ry="1.9" fill="#DA2A22"/>
<ellipse cx="285.98" cy="557" rx="1.5" ry="1.9" fill="#DA2A22"/>
<ellipse cx="286.85" cy="562.04" rx="1.5" ry="1.9" fill="#DA2A22"/>
<ellipse cx="62.87" cy="577.2" rx="1.6" ry="1.6" fill="#DA2A22"/>
<ellipse cx="71.24" cy="576.76" rx="1.6" ry="1.6" fill="#DA2A22"/>
<ellipse cx="67.65" cy="575.98" rx="1.6" ry="1.6" fill="#DA2A22"/>
<ellipse cx="79.03" cy="576.85" rx="1.6" ry="1.6" fill="#DA2A22"/>
<ellipse cx="75.29" cy="576.06" rx="1.6" ry="1.6" fill="#DA2A22"/>
<ellipse cx="87.51" cy="577.05" rx="1.6" ry="1.6" fill="#DA2A22"/>
<ellipse cx="96.18" cy="576.45" rx="1.6" ry="1.6" fill="#DA2A22"/>
<ellipse cx="91.67" cy="575.94" rx="1.6" ry="1.6" fill="#DA2A22"/>
<ellipse cx="104.2" cy="576.72" rx="1.6" ry="1.6" fill="#DA2A22"/>
<ellipse cx="99.76" cy="575.99" rx="1.6" ry="1.6" fill="#DA2A22"/>
<ellipse cx="111.85" cy="576.7" rx="1.6" ry="1.6" fill="#DA2A22"/>
<ellipse cx="107.84" cy="577.03" rx="1.6" ry="1.6" fill="#DA2A22"/>
<ellipse cx="120.08" cy="577.27" rx="1.6" ry="1.6" fill="#DA2A22"/>
<ellipse cx="115.84" cy="576.72" rx="1.6" ry="1.6" fill="#DA2A22"/>
<ellipse cx="128.77" cy="577.12" rx="1.6" ry="1.6" fill="#DA2A22"/>
<ellipse cx="123.79" cy="576.71" rx="1.6" ry="1.6" fill="#DA2A22"/>
<ellipse cx="136.74" cy="576.63" rx="1.6" ry="1.6" fill="#DA2A22"/>
<ellipse cx="144.4" cy="576.42" rx="1.6" ry="1.6" fill="#DA2A22"/>
<ellipse cx="151.83" cy="577.03" rx="1.6" ry="1.6" fill="#DA2A22"/>
<ellipse cx="147.84" cy="575.61" rx="1.6" ry="1.6" fill="#DA2A22"/>
<ellipse cx="160.17" cy="576.57" rx="1.6" ry="1.6" fill="#DA2A22"/>
<ellipse cx="168.82" cy="576.68" rx="1.6" ry="1.6" fill="#DA2A22"/>
<ellipse cx="177.24" cy="577.03" rx="1.6" ry="1.6" fill="#DA2A22"/>
<ellipse cx="184.9" cy="576.7" rx="1.6" ry="1.6" fill="#DA2A22"/>
<ellipse cx="192.96" cy="577.35" rx="1.6" ry="1.6" fill="#DA2A22"/>
<ellipse cx="188.35" cy="576.02" rx="1.6" ry="1.6" fill="#DA2A22"/>
<ellipse cx="201.22" cy="576.76" rx="1.6" ry="1.6" fill="#DA2A22"/>
<ellipse cx="196.45" cy="576.19" rx="1.6" ry="1.6" fill="#DA2A22"/>
<ellipse cx="209.8" cy="577.01" rx="1.6" ry="1.6" fill="#DA2A22"/>
<ellipse cx="205.24" cy="576.43" rx="1.6" ry="1.6" fill="#DA2A22"/>
<ellipse cx="217.14" cy="576.76" rx="1.6" ry="1.6" fill="#DA2A22"/>
<ellipse cx="212.89" cy="576.64" rx="1.6" ry="1.6" fill="#DA2A22"/>
<ellipse cx="226.11" cy="576.78" rx="1.6" ry="1.6" fill="#DA2A22"/>
<ellipse cx="221.57" cy="576.61" rx="1.6" ry="1.6" fill="#DA2A22"/>
<ellipse cx="234.35" cy="576.98" rx="1.6" ry="1.6" fill="#DA2A22"/>
<ellipse cx="241.65" cy="576.56" rx="1.6" ry="1.6" fill="#DA2A22"/>
<ellipse cx="237.2" cy="575.67" rx="1.6" ry="1.6" fill="#DA2A22"/>
<ellipse cx="249.88" cy="576.61" rx="1.6" ry="1.6" fill="#DA2A22"/>
<ellipse cx="257.83" cy="576.56" rx="1.6" ry="1.6" fill="#DA2A22"/>
<ellipse cx="254.01" cy="577.03" rx="1.6" ry="1.6" fill="#DA2A22"/>
<ellipse cx="265.98" cy="577.34" rx="1.6" ry="1.6" fill="#DA2A22"/>
<ellipse cx="262.15" cy="576.37" rx="1.6" ry="1.6" fill="#DA2A22"/>
<ellipse cx="274.56" cy="577.08" rx="1.6" ry="1.6" fill="#DA2A22"/>
<ellipse cx="281.84" cy="576.2" rx="1.6" ry="1.6" fill="#DA2A22"/>
<ellipse cx="290.67" cy="576.84" rx="1.6" ry="1.6" fill="#DA2A22"/>
<ellipse cx="285.37" cy="575.75" rx="1.6" ry="1.6" fill="#DA2A22"/>
<circle cx="51.68" cy="527.14" r="3.25" fill="url(#tig)" stroke="#62A6C8" stroke-width="0.4"/>
<circle cx="55.95" cy="532.75" r="3.25" fill="url(#tig)" stroke="#62A6C8" stroke-width="0.4"/>
<circle cx="60.18" cy="526.99" r="3.25" fill="url(#tig)" stroke="#62A6C8" stroke-width="0.4"/>
<circle cx="64.12" cy="532.19" r="3.25" fill="url(#tig)" stroke="#62A6C8" stroke-width="0.4"/>
<circle cx="67.81" cy="527.54" r="3.25" fill="url(#tig)" stroke="#62A6C8" stroke-width="0.4"/>
<circle cx="71.73" cy="532.61" r="3.25" fill="url(#tig)" stroke="#62A6C8" stroke-width="0.4"/>
<circle cx="76.32" cy="526.9" r="3.25" fill="url(#tig)" stroke="#62A6C8" stroke-width="0.4"/>
<circle cx="80.26" cy="532.51" r="3.25" fill="url(#tig)" stroke="#62A6C8" stroke-width="0.4"/>
<circle cx="84.94" cy="527.46" r="3.25" fill="url(#tig)" stroke="#62A6C8" stroke-width="0.4"/>
<circle cx="88.53" cy="532.59" r="3.25" fill="url(#tig)" stroke="#62A6C8" stroke-width="0.4"/>
<circle cx="92.67" cy="527.23" r="3.25" fill="url(#tig)" stroke="#62A6C8" stroke-width="0.4"/>
<circle cx="96.04" cy="532.81" r="3.25" fill="url(#tig)" stroke="#62A6C8" stroke-width="0.4"/>
<circle cx="100.31" cy="527.42" r="3.25" fill="url(#tig)" stroke="#62A6C8" stroke-width="0.4"/>
<circle cx="104.71" cy="532.47" r="3.25" fill="url(#tig)" stroke="#62A6C8" stroke-width="0.4"/>
<circle cx="108.57" cy="527.75" r="3.25" fill="url(#tig)" stroke="#62A6C8" stroke-width="0.4"/>
<circle cx="113.5" cy="532.17" r="3.25" fill="url(#tig)" stroke="#62A6C8" stroke-width="0.4"/>
<circle cx="117.05" cy="527.65" r="3.25" fill="url(#tig)" stroke="#62A6C8" stroke-width="0.4"/>
<circle cx="121.13" cy="532.28" r="3.25" fill="url(#tig)" stroke="#62A6C8" stroke-width="0.4"/>
<circle cx="124.48" cy="528.08" r="3.25" fill="url(#tig)" stroke="#62A6C8" stroke-width="0.4"/>
<circle cx="128.96" cy="531.97" r="3.25" fill="url(#tig)" stroke="#62A6C8" stroke-width="0.4"/>
<circle cx="132.72" cy="527.38" r="3.25" fill="url(#tig)" stroke="#62A6C8" stroke-width="0.4"/>
<circle cx="136.38" cy="533.28" r="3.25" fill="url(#tig)" stroke="#62A6C8" stroke-width="0.4"/>
<circle cx="140.73" cy="528.54" r="3.25" fill="url(#tig)" stroke="#62A6C8" stroke-width="0.4"/>
<circle cx="144.76" cy="532.4" r="3.25" fill="url(#tig)" stroke="#62A6C8" stroke-width="0.4"/>
<circle cx="148.97" cy="527.6" r="3.25" fill="url(#tig)" stroke="#62A6C8" stroke-width="0.4"/>
<circle cx="153.73" cy="532.24" r="3.25" fill="url(#tig)" stroke="#62A6C8" stroke-width="0.4"/>
<circle cx="157.3" cy="527.57" r="3.25" fill="url(#tig)" stroke="#62A6C8" stroke-width="0.4"/>
<circle cx="162.46" cy="532.53" r="3.25" fill="url(#tig)" stroke="#62A6C8" stroke-width="0.4"/>
<circle cx="165.69" cy="527.76" r="3.25" fill="url(#tig)" stroke="#62A6C8" stroke-width="0.4"/>
<circle cx="169.34" cy="532.37" r="3.25" fill="url(#tig)" stroke="#62A6C8" stroke-width="0.4"/>
<circle cx="173.37" cy="527.7" r="3.25" fill="url(#tig)" stroke="#62A6C8" stroke-width="0.4"/>
<circle cx="177.67" cy="532.94" r="3.25" fill="url(#tig)" stroke="#62A6C8" stroke-width="0.4"/>
<circle cx="181.07" cy="528.21" r="3.25" fill="url(#tig)" stroke="#62A6C8" stroke-width="0.4"/>
<circle cx="185.95" cy="532.56" r="3.25" fill="url(#tig)" stroke="#62A6C8" stroke-width="0.4"/>
<circle cx="189.58" cy="527.62" r="3.25" fill="url(#tig)" stroke="#62A6C8" stroke-width="0.4"/>
<circle cx="193.36" cy="532.9" r="3.25" fill="url(#tig)" stroke="#62A6C8" stroke-width="0.4"/>
<circle cx="197.78" cy="527.36" r="3.25" fill="url(#tig)" stroke="#62A6C8" stroke-width="0.4"/>
<circle cx="201.59" cy="532.76" r="3.25" fill="url(#tig)" stroke="#62A6C8" stroke-width="0.4"/>
<circle cx="205.64" cy="527.35" r="3.25" fill="url(#tig)" stroke="#62A6C8" stroke-width="0.4"/>
<circle cx="209.42" cy="532.79" r="3.25" fill="url(#tig)" stroke="#62A6C8" stroke-width="0.4"/>
<circle cx="213.98" cy="527.48" r="3.25" fill="url(#tig)" stroke="#62A6C8" stroke-width="0.4"/>
<circle cx="218.4" cy="532.14" r="3.25" fill="url(#tig)" stroke="#62A6C8" stroke-width="0.4"/>
<circle cx="221.91" cy="527.16" r="3.25" fill="url(#tig)" stroke="#62A6C8" stroke-width="0.4"/>
<circle cx="225.48" cy="532.67" r="3.25" fill="url(#tig)" stroke="#62A6C8" stroke-width="0.4"/>
<circle cx="230.34" cy="527.37" r="3.25" fill="url(#tig)" stroke="#62A6C8" stroke-width="0.4"/>
<circle cx="234" cy="532.75" r="3.25" fill="url(#tig)" stroke="#62A6C8" stroke-width="0.4"/>
<circle cx="238.39" cy="527.61" r="3.25" fill="url(#tig)" stroke="#62A6C8" stroke-width="0.4"/>
<circle cx="241.78" cy="532.91" r="3.25" fill="url(#tig)" stroke="#62A6C8" stroke-width="0.4"/>
<circle cx="246.72" cy="527.25" r="3.25" fill="url(#tig)" stroke="#62A6C8" stroke-width="0.4"/>
<circle cx="250.6" cy="533.16" r="3.25" fill="url(#tig)" stroke="#62A6C8" stroke-width="0.4"/>
<circle cx="254.36" cy="527.52" r="3.25" fill="url(#tig)" stroke="#62A6C8" stroke-width="0.4"/>
<circle cx="258.84" cy="532.92" r="3.25" fill="url(#tig)" stroke="#62A6C8" stroke-width="0.4"/>
<circle cx="262.45" cy="527.42" r="3.25" fill="url(#tig)" stroke="#62A6C8" stroke-width="0.4"/>
<circle cx="266.73" cy="532.01" r="3.25" fill="url(#tig)" stroke="#62A6C8" stroke-width="0.4"/>
<circle cx="270.79" cy="528.3" r="3.25" fill="url(#tig)" stroke="#62A6C8" stroke-width="0.4"/>
<circle cx="275.08" cy="533.06" r="3.25" fill="url(#tig)" stroke="#62A6C8" stroke-width="0.4"/>
<circle cx="278.4" cy="527.39" r="3.25" fill="url(#tig)" stroke="#62A6C8" stroke-width="0.4"/>
<circle cx="283.28" cy="532.45" r="3.25" fill="url(#tig)" stroke="#62A6C8" stroke-width="0.4"/>
<circle cx="287.1" cy="527.82" r="3.25" fill="url(#tig)" stroke="#62A6C8" stroke-width="0.4"/>
<circle cx="49.8" cy="547.96" r="3.25" fill="url(#tig)" stroke="#62A6C8" stroke-width="0.4"/>
<circle cx="53.38" cy="552.39" r="3.25" fill="url(#tig)" stroke="#62A6C8" stroke-width="0.4"/>
<circle cx="57.28" cy="547.35" r="3.25" fill="url(#tig)" stroke="#62A6C8" stroke-width="0.4"/>
<circle cx="61.32" cy="552.61" r="3.25" fill="url(#tig)" stroke="#62A6C8" stroke-width="0.4"/>
<circle cx="64.39" cy="547.76" r="3.25" fill="url(#tig)" stroke="#62A6C8" stroke-width="0.4"/>
<circle cx="69.35" cy="552.01" r="3.25" fill="url(#tig)" stroke="#62A6C8" stroke-width="0.4"/>
<circle cx="73.42" cy="547.71" r="3.25" fill="url(#tig)" stroke="#62A6C8" stroke-width="0.4"/>
<circle cx="76.56" cy="552.05" r="3.25" fill="url(#tig)" stroke="#62A6C8" stroke-width="0.4"/>
<circle cx="81.89" cy="548.3" r="3.25" fill="url(#tig)" stroke="#62A6C8" stroke-width="0.4"/>
<circle cx="85.2" cy="552.8" r="3.25" fill="url(#tig)" stroke="#62A6C8" stroke-width="0.4"/>
<circle cx="89.39" cy="547.48" r="3.25" fill="url(#tig)" stroke="#62A6C8" stroke-width="0.4"/>
<circle cx="93.52" cy="552.59" r="3.25" fill="url(#tig)" stroke="#62A6C8" stroke-width="0.4"/>
<circle cx="97.14" cy="546.87" r="3.25" fill="url(#tig)" stroke="#62A6C8" stroke-width="0.4"/>
<circle cx="101.89" cy="552.35" r="3.25" fill="url(#tig)" stroke="#62A6C8" stroke-width="0.4"/>
<circle cx="105.61" cy="547.97" r="3.25" fill="url(#tig)" stroke="#62A6C8" stroke-width="0.4"/>
<circle cx="109.26" cy="552.79" r="3.25" fill="url(#tig)" stroke="#62A6C8" stroke-width="0.4"/>
<circle cx="114.15" cy="548.23" r="3.25" fill="url(#tig)" stroke="#62A6C8" stroke-width="0.4"/>
<circle cx="117.23" cy="552.99" r="3.25" fill="url(#tig)" stroke="#62A6C8" stroke-width="0.4"/>
<circle cx="122.28" cy="548.41" r="3.25" fill="url(#tig)" stroke="#62A6C8" stroke-width="0.4"/>
<circle cx="126.34" cy="553.15" r="3.25" fill="url(#tig)" stroke="#62A6C8" stroke-width="0.4"/>
<circle cx="131.24" cy="547.74" r="3.25" fill="url(#tig)" stroke="#62A6C8" stroke-width="0.4"/>
<circle cx="133.26" cy="552.49" r="3.25" fill="url(#tig)" stroke="#62A6C8" stroke-width="0.4"/>
<circle cx="138.32" cy="547.72" r="3.25" fill="url(#tig)" stroke="#62A6C8" stroke-width="0.4"/>
<circle cx="142.18" cy="552.96" r="3.25" fill="url(#tig)" stroke="#62A6C8" stroke-width="0.4"/>
<circle cx="145.86" cy="547.5" r="3.25" fill="url(#tig)" stroke="#62A6C8" stroke-width="0.4"/>
<circle cx="150.21" cy="552.66" r="3.25" fill="url(#tig)" stroke="#62A6C8" stroke-width="0.4"/>
<circle cx="154.19" cy="547.39" r="3.25" fill="url(#tig)" stroke="#62A6C8" stroke-width="0.4"/>
<circle cx="158.47" cy="552.28" r="3.25" fill="url(#tig)" stroke="#62A6C8" stroke-width="0.4"/>
<circle cx="161.89" cy="548.14" r="3.25" fill="url(#tig)" stroke="#62A6C8" stroke-width="0.4"/>
<circle cx="166.09" cy="553.33" r="3.25" fill="url(#tig)" stroke="#62A6C8" stroke-width="0.4"/>
<circle cx="170.29" cy="548.12" r="3.25" fill="url(#tig)" stroke="#62A6C8" stroke-width="0.4"/>
<circle cx="175" cy="552.75" r="3.25" fill="url(#tig)" stroke="#62A6C8" stroke-width="0.4"/>
<circle cx="178.56" cy="547.37" r="3.25" fill="url(#tig)" stroke="#62A6C8" stroke-width="0.4"/>
<circle cx="182.78" cy="553.27" r="3.25" fill="url(#tig)" stroke="#62A6C8" stroke-width="0.4"/>
<circle cx="186.57" cy="547.74" r="3.25" fill="url(#tig)" stroke="#62A6C8" stroke-width="0.4"/>
<circle cx="190.79" cy="552.32" r="3.25" fill="url(#tig)" stroke="#62A6C8" stroke-width="0.4"/>
<circle cx="194.56" cy="548" r="3.25" fill="url(#tig)" stroke="#62A6C8" stroke-width="0.4"/>
<circle cx="198.04" cy="552.8" r="3.25" fill="url(#tig)" stroke="#62A6C8" stroke-width="0.4"/>
<circle cx="203.11" cy="547.29" r="3.25" fill="url(#tig)" stroke="#62A6C8" stroke-width="0.4"/>
<circle cx="205.86" cy="552.37" r="3.25" fill="url(#tig)" stroke="#62A6C8" stroke-width="0.4"/>
<circle cx="210.59" cy="547.16" r="3.25" fill="url(#tig)" stroke="#62A6C8" stroke-width="0.4"/>
<circle cx="215.61" cy="552.85" r="3.25" fill="url(#tig)" stroke="#62A6C8" stroke-width="0.4"/>
<circle cx="219.23" cy="547.58" r="3.25" fill="url(#tig)" stroke="#62A6C8" stroke-width="0.4"/>
<circle cx="223.46" cy="553.77" r="3.25" fill="url(#tig)" stroke="#62A6C8" stroke-width="0.4"/>
<circle cx="227.2" cy="547.63" r="3.25" fill="url(#tig)" stroke="#62A6C8" stroke-width="0.4"/>
<circle cx="231.4" cy="553.08" r="3.25" fill="url(#tig)" stroke="#62A6C8" stroke-width="0.4"/>
<circle cx="235.95" cy="548.03" r="3.25" fill="url(#tig)" stroke="#62A6C8" stroke-width="0.4"/>
<circle cx="238.93" cy="552.58" r="3.25" fill="url(#tig)" stroke="#62A6C8" stroke-width="0.4"/>
<circle cx="242.88" cy="547.66" r="3.25" fill="url(#tig)" stroke="#62A6C8" stroke-width="0.4"/>
<circle cx="247.32" cy="553.37" r="3.25" fill="url(#tig)" stroke="#62A6C8" stroke-width="0.4"/>
<circle cx="250.85" cy="547.15" r="3.25" fill="url(#tig)" stroke="#62A6C8" stroke-width="0.4"/>
<circle cx="255.3" cy="552.3" r="3.25" fill="url(#tig)" stroke="#62A6C8" stroke-width="0.4"/>
<circle cx="260.79" cy="547.75" r="3.25" fill="url(#tig)" stroke="#62A6C8" stroke-width="0.4"/>
<circle cx="263.65" cy="552.78" r="3.25" fill="url(#tig)" stroke="#62A6C8" stroke-width="0.4"/>
<circle cx="268.13" cy="547.59" r="3.25" fill="url(#tig)" stroke="#62A6C8" stroke-width="0.4"/>
<circle cx="272.05" cy="552.78" r="3.25" fill="url(#tig)" stroke="#62A6C8" stroke-width="0.4"/>
<circle cx="275.63" cy="548.24" r="3.25" fill="url(#tig)" stroke="#62A6C8" stroke-width="0.4"/>
<circle cx="280.49" cy="552.95" r="3.25" fill="url(#tig)" stroke="#62A6C8" stroke-width="0.4"/>
<circle cx="283.85" cy="547.2" r="3.25" fill="url(#tig)" stroke="#62A6C8" stroke-width="0.4"/>
<circle cx="287.5" cy="552.38" r="3.25" fill="url(#tig)" stroke="#62A6C8" stroke-width="0.4"/>
<circle cx="58.5" cy="568.42" r="3.25" fill="url(#tig)" stroke="#62A6C8" stroke-width="0.4"/>
<circle cx="62.37" cy="572.85" r="3.25" fill="url(#tig)" stroke="#62A6C8" stroke-width="0.4"/>
<circle cx="66.21" cy="567.95" r="3.25" fill="url(#tig)" stroke="#62A6C8" stroke-width="0.4"/>
<circle cx="70.51" cy="573.28" r="3.25" fill="url(#tig)" stroke="#62A6C8" stroke-width="0.4"/>
<circle cx="74.26" cy="568.24" r="3.25" fill="url(#tig)" stroke="#62A6C8" stroke-width="0.4"/>
<circle cx="78.66" cy="572.98" r="3.25" fill="url(#tig)" stroke="#62A6C8" stroke-width="0.4"/>
<circle cx="82.33" cy="568.05" r="3.25" fill="url(#tig)" stroke="#62A6C8" stroke-width="0.4"/>
<circle cx="86.47" cy="573.39" r="3.25" fill="url(#tig)" stroke="#62A6C8" stroke-width="0.4"/>
<circle cx="90.48" cy="568.08" r="3.25" fill="url(#tig)" stroke="#62A6C8" stroke-width="0.4"/>
<circle cx="94.88" cy="573.09" r="3.25" fill="url(#tig)" stroke="#62A6C8" stroke-width="0.4"/>
<circle cx="97.47" cy="568.25" r="3.25" fill="url(#tig)" stroke="#62A6C8" stroke-width="0.4"/>
<circle cx="102.71" cy="572.96" r="3.25" fill="url(#tig)" stroke="#62A6C8" stroke-width="0.4"/>
<circle cx="106.86" cy="567.69" r="3.25" fill="url(#tig)" stroke="#62A6C8" stroke-width="0.4"/>
<circle cx="110.75" cy="572.28" r="3.25" fill="url(#tig)" stroke="#62A6C8" stroke-width="0.4"/>
<circle cx="114.61" cy="567.85" r="3.25" fill="url(#tig)" stroke="#62A6C8" stroke-width="0.4"/>
<circle cx="118.7" cy="572.22" r="3.25" fill="url(#tig)" stroke="#62A6C8" stroke-width="0.4"/>
<circle cx="122.92" cy="568.47" r="3.25" fill="url(#tig)" stroke="#62A6C8" stroke-width="0.4"/>
<circle cx="126.44" cy="573.06" r="3.25" fill="url(#tig)" stroke="#62A6C8" stroke-width="0.4"/>
<circle cx="130.94" cy="568.25" r="3.25" fill="url(#tig)" stroke="#62A6C8" stroke-width="0.4"/>
<circle cx="135.51" cy="572.99" r="3.25" fill="url(#tig)" stroke="#62A6C8" stroke-width="0.4"/>
<circle cx="139.05" cy="567.98" r="3.25" fill="url(#tig)" stroke="#62A6C8" stroke-width="0.4"/>
<circle cx="142.84" cy="572.9" r="3.25" fill="url(#tig)" stroke="#62A6C8" stroke-width="0.4"/>
<circle cx="146.52" cy="567.7" r="3.25" fill="url(#tig)" stroke="#62A6C8" stroke-width="0.4"/>
<circle cx="151.54" cy="573.42" r="3.25" fill="url(#tig)" stroke="#62A6C8" stroke-width="0.4"/>
<circle cx="155.02" cy="568.01" r="3.25" fill="url(#tig)" stroke="#62A6C8" stroke-width="0.4"/>
<circle cx="159.42" cy="572.96" r="3.25" fill="url(#tig)" stroke="#62A6C8" stroke-width="0.4"/>
<circle cx="163.73" cy="567.75" r="3.25" fill="url(#tig)" stroke="#62A6C8" stroke-width="0.4"/>
<circle cx="167.77" cy="572.95" r="3.25" fill="url(#tig)" stroke="#62A6C8" stroke-width="0.4"/>
<circle cx="172.39" cy="567.74" r="3.25" fill="url(#tig)" stroke="#62A6C8" stroke-width="0.4"/>
<circle cx="175.12" cy="572.85" r="3.25" fill="url(#tig)" stroke="#62A6C8" stroke-width="0.4"/>
<circle cx="179.42" cy="567.64" r="3.25" fill="url(#tig)" stroke="#62A6C8" stroke-width="0.4"/>
<circle cx="183.46" cy="572.64" r="3.25" fill="url(#tig)" stroke="#62A6C8" stroke-width="0.4"/>
<circle cx="187.4" cy="568.03" r="3.25" fill="url(#tig)" stroke="#62A6C8" stroke-width="0.4"/>
<circle cx="191.77" cy="572.96" r="3.25" fill="url(#tig)" stroke="#62A6C8" stroke-width="0.4"/>
<circle cx="195.42" cy="567.64" r="3.25" fill="url(#tig)" stroke="#62A6C8" stroke-width="0.4"/>
<circle cx="199.67" cy="572.66" r="3.25" fill="url(#tig)" stroke="#62A6C8" stroke-width="0.4"/>
<circle cx="204.17" cy="568.04" r="3.25" fill="url(#tig)" stroke="#62A6C8" stroke-width="0.4"/>
<circle cx="208.29" cy="573.25" r="3.25" fill="url(#tig)" stroke="#62A6C8" stroke-width="0.4"/>
<circle cx="211.85" cy="567.96" r="3.25" fill="url(#tig)" stroke="#62A6C8" stroke-width="0.4"/>
<circle cx="215.3" cy="572.82" r="3.25" fill="url(#tig)" stroke="#62A6C8" stroke-width="0.4"/>
<circle cx="219.79" cy="567.87" r="3.25" fill="url(#tig)" stroke="#62A6C8" stroke-width="0.4"/>
<circle cx="224.24" cy="573.21" r="3.25" fill="url(#tig)" stroke="#62A6C8" stroke-width="0.4"/>
<circle cx="228" cy="567.86" r="3.25" fill="url(#tig)" stroke="#62A6C8" stroke-width="0.4"/>
<circle cx="231.54" cy="572.97" r="3.25" fill="url(#tig)" stroke="#62A6C8" stroke-width="0.4"/>
<circle cx="235.67" cy="568.16" r="3.25" fill="url(#tig)" stroke="#62A6C8" stroke-width="0.4"/>
<circle cx="240.86" cy="572.62" r="3.25" fill="url(#tig)" stroke="#62A6C8" stroke-width="0.4"/>
<circle cx="244.85" cy="568.26" r="3.25" fill="url(#tig)" stroke="#62A6C8" stroke-width="0.4"/>
<circle cx="248.37" cy="573" r="3.25" fill="url(#tig)" stroke="#62A6C8" stroke-width="0.4"/>
<circle cx="251.88" cy="567.56" r="3.25" fill="url(#tig)" stroke="#62A6C8" stroke-width="0.4"/>
<circle cx="256.22" cy="572.98" r="3.25" fill="url(#tig)" stroke="#62A6C8" stroke-width="0.4"/>
<circle cx="260.89" cy="567.7" r="3.25" fill="url(#tig)" stroke="#62A6C8" stroke-width="0.4"/>
<circle cx="264.49" cy="573.27" r="3.25" fill="url(#tig)" stroke="#62A6C8" stroke-width="0.4"/>
<circle cx="267.98" cy="567.45" r="3.25" fill="url(#tig)" stroke="#62A6C8" stroke-width="0.4"/>
<circle cx="272.79" cy="573.13" r="3.25" fill="url(#tig)" stroke="#62A6C8" stroke-width="0.4"/>
<circle cx="276.96" cy="567.92" r="3.25" fill="url(#tig)" stroke="#62A6C8" stroke-width="0.4"/>
<circle cx="280.68" cy="573.29" r="3.25" fill="url(#tig)" stroke="#62A6C8" stroke-width="0.4"/>
<circle cx="285.33" cy="568.55" r="3.25" fill="url(#tig)" stroke="#62A6C8" stroke-width="0.4"/>
<circle cx="288.95" cy="573.27" r="3.25" fill="url(#tig)" stroke="#62A6C8" stroke-width="0.4"/>
<ellipse cx="54.45" cy="530.14" rx="1.7" ry="1.2" fill="#DA2A22"/>
<ellipse cx="61.85" cy="529.9" rx="1.7" ry="1.2" fill="#DA2A22"/>
<ellipse cx="70.18" cy="529.98" rx="1.7" ry="1.2" fill="#DA2A22"/>
<ellipse cx="78.68" cy="529.63" rx="1.7" ry="1.2" fill="#DA2A22"/>
<ellipse cx="86.64" cy="529.95" rx="1.7" ry="1.2" fill="#DA2A22"/>
<ellipse cx="94.02" cy="529.97" rx="1.7" ry="1.2" fill="#DA2A22"/>
<ellipse cx="102.64" cy="530.86" rx="1.7" ry="1.2" fill="#DA2A22"/>
<ellipse cx="110.8" cy="529.98" rx="1.7" ry="1.2" fill="#DA2A22"/>
<ellipse cx="118.66" cy="530.42" rx="1.7" ry="1.2" fill="#DA2A22"/>
<ellipse cx="126.73" cy="529.9" rx="1.7" ry="1.2" fill="#DA2A22"/>
<ellipse cx="135.37" cy="529.71" rx="1.7" ry="1.2" fill="#DA2A22"/>
<ellipse cx="143.11" cy="530.29" rx="1.7" ry="1.2" fill="#DA2A22"/>
<ellipse cx="151.47" cy="530.42" rx="1.7" ry="1.2" fill="#DA2A22"/>
<ellipse cx="159.81" cy="530.63" rx="1.7" ry="1.2" fill="#DA2A22"/>
<ellipse cx="167.38" cy="530.63" rx="1.7" ry="1.2" fill="#DA2A22"/>
<ellipse cx="175.87" cy="530.63" rx="1.7" ry="1.2" fill="#DA2A22"/>
<ellipse cx="183.46" cy="530.15" rx="1.7" ry="1.2" fill="#DA2A22"/>
<ellipse cx="191.42" cy="529.74" rx="1.7" ry="1.2" fill="#DA2A22"/>
<ellipse cx="200.16" cy="530.02" rx="1.7" ry="1.2" fill="#DA2A22"/>
<ellipse cx="206.86" cy="529.57" rx="1.7" ry="1.2" fill="#DA2A22"/>
<ellipse cx="215.93" cy="530.84" rx="1.7" ry="1.2" fill="#DA2A22"/>
<ellipse cx="224.08" cy="529.82" rx="1.7" ry="1.2" fill="#DA2A22"/>
<ellipse cx="232.12" cy="530.08" rx="1.7" ry="1.2" fill="#DA2A22"/>
<ellipse cx="240.06" cy="530.3" rx="1.7" ry="1.2" fill="#DA2A22"/>
<ellipse cx="248.12" cy="530.08" rx="1.7" ry="1.2" fill="#DA2A22"/>
<ellipse cx="256.87" cy="530.19" rx="1.7" ry="1.2" fill="#DA2A22"/>
<ellipse cx="265.11" cy="530.22" rx="1.7" ry="1.2" fill="#DA2A22"/>
<ellipse cx="272.22" cy="529.84" rx="1.7" ry="1.2" fill="#DA2A22"/>
<ellipse cx="281.51" cy="530.19" rx="1.7" ry="1.2" fill="#DA2A22"/>
<ellipse cx="288.54" cy="530.26" rx="1.7" ry="1.2" fill="#DA2A22"/>
<ellipse cx="51.3" cy="550.47" rx="1.7" ry="1.2" fill="#DA2A22"/>
<ellipse cx="58.72" cy="550.28" rx="1.7" ry="1.2" fill="#DA2A22"/>
<ellipse cx="66.78" cy="549.9" rx="1.7" ry="1.2" fill="#DA2A22"/>
<ellipse cx="75.59" cy="550.34" rx="1.7" ry="1.2" fill="#DA2A22"/>
<ellipse cx="83.44" cy="549.97" rx="1.7" ry="1.2" fill="#DA2A22"/>
<ellipse cx="91.4" cy="550.19" rx="1.7" ry="1.2" fill="#DA2A22"/>
<ellipse cx="99.3" cy="550.38" rx="1.7" ry="1.2" fill="#DA2A22"/>
<ellipse cx="108.17" cy="550.08" rx="1.7" ry="1.2" fill="#DA2A22"/>
<ellipse cx="115.87" cy="550.29" rx="1.7" ry="1.2" fill="#DA2A22"/>
<ellipse cx="123.81" cy="550.38" rx="1.7" ry="1.2" fill="#DA2A22"/>
<ellipse cx="132.8" cy="550.46" rx="1.7" ry="1.2" fill="#DA2A22"/>
<ellipse cx="140.47" cy="549.67" rx="1.7" ry="1.2" fill="#DA2A22"/>
<ellipse cx="148.06" cy="549.89" rx="1.7" ry="1.2" fill="#DA2A22"/>
<ellipse cx="155.6" cy="549.39" rx="1.7" ry="1.2" fill="#DA2A22"/>
<ellipse cx="164.61" cy="550.02" rx="1.7" ry="1.2" fill="#DA2A22"/>
<ellipse cx="171.98" cy="550.45" rx="1.7" ry="1.2" fill="#DA2A22"/>
<ellipse cx="180.76" cy="549.77" rx="1.7" ry="1.2" fill="#DA2A22"/>
<ellipse cx="188.96" cy="550.09" rx="1.7" ry="1.2" fill="#DA2A22"/>
<ellipse cx="197.16" cy="550.37" rx="1.7" ry="1.2" fill="#DA2A22"/>
<ellipse cx="204.33" cy="550" rx="1.7" ry="1.2" fill="#DA2A22"/>
<ellipse cx="213.28" cy="550.49" rx="1.7" ry="1.2" fill="#DA2A22"/>
<ellipse cx="220.68" cy="550.58" rx="1.7" ry="1.2" fill="#DA2A22"/>
<ellipse cx="229.61" cy="551.17" rx="1.7" ry="1.2" fill="#DA2A22"/>
<ellipse cx="237.37" cy="550.2" rx="1.7" ry="1.2" fill="#DA2A22"/>
<ellipse cx="245.58" cy="549.44" rx="1.7" ry="1.2" fill="#DA2A22"/>
<ellipse cx="253.3" cy="551.16" rx="1.7" ry="1.2" fill="#DA2A22"/>
<ellipse cx="261.44" cy="549.82" rx="1.7" ry="1.2" fill="#DA2A22"/>
<ellipse cx="269.95" cy="549.43" rx="1.7" ry="1.2" fill="#DA2A22"/>
<ellipse cx="277.63" cy="550.23" rx="1.7" ry="1.2" fill="#DA2A22"/>
<ellipse cx="286.58" cy="550.47" rx="1.7" ry="1.2" fill="#DA2A22"/>
<ellipse cx="60.1" cy="570.65" rx="1.7" ry="1.2" fill="#DA2A22"/>
<ellipse cx="68.99" cy="570.26" rx="1.7" ry="1.2" fill="#DA2A22"/>
<ellipse cx="76.77" cy="570.92" rx="1.7" ry="1.2" fill="#DA2A22"/>
<ellipse cx="84.71" cy="570.18" rx="1.7" ry="1.2" fill="#DA2A22"/>
<ellipse cx="92.99" cy="570.23" rx="1.7" ry="1.2" fill="#DA2A22"/>
<ellipse cx="100.24" cy="570.28" rx="1.7" ry="1.2" fill="#DA2A22"/>
<ellipse cx="108.47" cy="570.64" rx="1.7" ry="1.2" fill="#DA2A22"/>
<ellipse cx="116.1" cy="570.62" rx="1.7" ry="1.2" fill="#DA2A22"/>
<ellipse cx="125.08" cy="570.63" rx="1.7" ry="1.2" fill="#DA2A22"/>
<ellipse cx="132.56" cy="570.32" rx="1.7" ry="1.2" fill="#DA2A22"/>
<ellipse cx="141.47" cy="570.3" rx="1.7" ry="1.2" fill="#DA2A22"/>
<ellipse cx="149.04" cy="570.81" rx="1.7" ry="1.2" fill="#DA2A22"/>
<ellipse cx="157.53" cy="570.7" rx="1.7" ry="1.2" fill="#DA2A22"/>
<ellipse cx="166.26" cy="570.4" rx="1.7" ry="1.2" fill="#DA2A22"/>
<ellipse cx="173.69" cy="570.03" rx="1.7" ry="1.2" fill="#DA2A22"/>
<ellipse cx="182.01" cy="571.07" rx="1.7" ry="1.2" fill="#DA2A22"/>
<ellipse cx="189.95" cy="570.45" rx="1.7" ry="1.2" fill="#DA2A22"/>
<ellipse cx="197.69" cy="570.64" rx="1.7" ry="1.2" fill="#DA2A22"/>
<ellipse cx="206.25" cy="570.08" rx="1.7" ry="1.2" fill="#DA2A22"/>
<ellipse cx="213.89" cy="570.8" rx="1.7" ry="1.2" fill="#DA2A22"/>
<ellipse cx="221.81" cy="570" rx="1.7" ry="1.2" fill="#DA2A22"/>
<ellipse cx="229.92" cy="570.4" rx="1.7" ry="1.2" fill="#DA2A22"/>
<ellipse cx="238.37" cy="570.2" rx="1.7" ry="1.2" fill="#DA2A22"/>
<ellipse cx="246.33" cy="570.48" rx="1.7" ry="1.2" fill="#DA2A22"/>
<ellipse cx="254.26" cy="571.15" rx="1.7" ry="1.2" fill="#DA2A22"/>
<ellipse cx="262.61" cy="570.72" rx="1.7" ry="1.2" fill="#DA2A22"/>
<ellipse cx="269.47" cy="570.22" rx="1.7" ry="1.2" fill="#DA2A22"/>
<ellipse cx="279.16" cy="570.21" rx="1.7" ry="1.2" fill="#DA2A22"/>
<ellipse cx="286.55" cy="570.39" rx="1.7" ry="1.2" fill="#DA2A22"/>
<path d="M31,526L39.7,532M39.7,532L49.6,545.8M49.6,545.8L41,569M41,569L31,574M41,569L51,574M31,526L36,537M44,556L41,569" stroke="#E03A30" stroke-width="1.2" fill="none"/>
<ellipse cx="35" cy="529" rx="1.5" ry="1.8" fill="#DA2A22"/>
<ellipse cx="44" cy="538" rx="1.5" ry="1.8" fill="#DA2A22"/>
<ellipse cx="36" cy="537" rx="1.5" ry="1.8" fill="#DA2A22"/>
<ellipse cx="46" cy="551" rx="1.5" ry="1.8" fill="#DA2A22"/>
<ellipse cx="44" cy="556" rx="1.5" ry="1.8" fill="#DA2A22"/>
<ellipse cx="37" cy="571" rx="1.5" ry="1.8" fill="#DA2A22"/>
<ellipse cx="46" cy="571" rx="1.5" ry="1.8" fill="#DA2A22"/>
<ellipse cx="34" cy="562" rx="1.5" ry="1.8" fill="#DA2A22"/>
<circle cx="31" cy="526" r="3.25" fill="url(#tig)" stroke="#62A6C8" stroke-width="0.4"/>
<circle cx="39.7" cy="532" r="3.25" fill="url(#tig)" stroke="#62A6C8" stroke-width="0.4"/>
<circle cx="49.6" cy="545.8" r="3.25" fill="url(#tig)" stroke="#62A6C8" stroke-width="0.4"/>
<circle cx="41" cy="569" r="3.25" fill="url(#tig)" stroke="#62A6C8" stroke-width="0.4"/>
<circle cx="31" cy="574" r="3.25" fill="url(#tig)" stroke="#62A6C8" stroke-width="0.4"/>
<circle cx="51" cy="574" r="3.25" fill="url(#tig)" stroke="#62A6C8" stroke-width="0.4"/>
<ellipse cx="60" cy="525" rx="8" ry="3" fill="#EDB2B2" fill-opacity="0.55" stroke="#D99090" stroke-opacity="0.5" stroke-width="0.6"/>
<ellipse cx="100" cy="525" rx="7" ry="3" fill="#EDB2B2" fill-opacity="0.55" stroke="#D99090" stroke-opacity="0.5" stroke-width="0.6"/>
<ellipse cx="150" cy="525" rx="8" ry="3" fill="#EDB2B2" fill-opacity="0.55" stroke="#D99090" stroke-opacity="0.5" stroke-width="0.6"/>
<ellipse cx="200" cy="525" rx="9" ry="3" fill="#EDB2B2" fill-opacity="0.55" stroke="#D99090" stroke-opacity="0.5" stroke-width="0.6"/>
<ellipse cx="250" cy="525" rx="8" ry="3" fill="#EDB2B2" fill-opacity="0.55" stroke="#D99090" stroke-opacity="0.5" stroke-width="0.6"/>
<text x="303" y="409.3" font-size="10.6" font-weight="bold" text-anchor="start" fill="#111" textLength="24.8" lengthAdjust="spacingAndGlyphs" stroke="#111" stroke-width="0.2" >C<tspan font-size="7.21" baseline-shift="-2.65">3</tspan>N<tspan font-size="7.21" baseline-shift="-2.65">4</tspan></text>
<text x="303.9" y="453.7" font-size="10.6" font-weight="bold" text-anchor="start" fill="#111" textLength="23.1" lengthAdjust="spacingAndGlyphs" stroke="#111" stroke-width="0.2" >TiO<tspan font-size="7.21" baseline-shift="-2.65">2</tspan></text>
<text x="306" y="511.3" font-size="10.6" font-weight="bold" text-anchor="start" fill="#111" textLength="21" lengthAdjust="spacingAndGlyphs" stroke="#111" stroke-width="0.2" >C<tspan font-size="7.21" baseline-shift="-2.65">2</tspan>N</text>
<text x="304.6" y="555.6" font-size="10.6" font-weight="bold" text-anchor="start" fill="#111" textLength="24" lengthAdjust="spacingAndGlyphs" stroke="#111" stroke-width="0.2" >TiO<tspan font-size="7.21" baseline-shift="-2.65">2</tspan></text>
<text x="324.7" y="431.3" font-size="9.6" font-weight="normal" text-anchor="start" fill="#111" textLength="10.3" lengthAdjust="spacingAndGlyphs" >e<tspan font-size="7" baseline-shift="3.5">−</tspan></text>
<text x="324" y="531.5" font-size="9.6" font-weight="normal" text-anchor="start" fill="#111" textLength="10.6" lengthAdjust="spacingAndGlyphs" >e<tspan font-size="7" baseline-shift="3.5">−</tspan></text>
<polygon points="316.2,413.6 310.9,419.8 313.7,419.8 313.7,439.7 318.9,439.7 318.9,419.8 321.7,419.8" fill="#fff" stroke="#EE7A30" stroke-width="1.1" stroke-linejoin="miter"/>
<polygon points="316.6,541.2 311.3,535 314.1,535 314.1,516 319.3,516 319.3,535 322.1,535" fill="#fff" stroke="#EE7A30" stroke-width="1.1" stroke-linejoin="miter"/>
<text x="379" y="400.9" font-size="16.8" font-weight="bold" text-anchor="start" fill="#111" >h</text>
<line x1="427" y1="568" x2="427" y2="406.5" stroke="#111" stroke-width="1.5" />
<polyline points="424,411.6 427,406 430,411.6" fill="none" stroke="#111" stroke-width="1.4"/>
<line x1="416.5" y1="422.6" x2="427" y2="422.6" stroke="#111" stroke-width="1.4" />
<text x="414.2" y="426" font-size="9.6" font-weight="bold" text-anchor="end" fill="#111" stroke="#111" stroke-width="0.15" >-1.5</text>
<line x1="416.5" y1="438.2" x2="427" y2="438.2" stroke="#111" stroke-width="1.4" />
<text x="414.2" y="441.6" font-size="9.6" font-weight="bold" text-anchor="end" fill="#111" stroke="#111" stroke-width="0.15" >-1</text>
<line x1="416.5" y1="453.8" x2="427" y2="453.8" stroke="#111" stroke-width="1.4" />
<text x="414.2" y="457.2" font-size="9.6" font-weight="bold" text-anchor="end" fill="#111" stroke="#111" stroke-width="0.15" >-0.5</text>
<line x1="416.5" y1="469.4" x2="427" y2="469.4" stroke="#111" stroke-width="1.4" />
<text x="414.2" y="472.8" font-size="9.6" font-weight="bold" text-anchor="end" fill="#111" stroke="#111" stroke-width="0.15" >0</text>
<line x1="416.5" y1="485" x2="427" y2="485" stroke="#111" stroke-width="1.4" />
<text x="414.2" y="488.4" font-size="9.6" font-weight="bold" text-anchor="end" fill="#111" stroke="#111" stroke-width="0.15" >0.5</text>
<line x1="416.5" y1="500.6" x2="427" y2="500.6" stroke="#111" stroke-width="1.4" />
<text x="414.2" y="504" font-size="9.6" font-weight="bold" text-anchor="end" fill="#111" stroke="#111" stroke-width="0.15" >1</text>
<line x1="416.5" y1="516.2" x2="427" y2="516.2" stroke="#111" stroke-width="1.4" />
<text x="414.2" y="519.6" font-size="9.6" font-weight="bold" text-anchor="end" fill="#111" stroke="#111" stroke-width="0.15" >1.5</text>
<line x1="416.5" y1="531.8" x2="427" y2="531.8" stroke="#111" stroke-width="1.4" />
<text x="414.2" y="535.2" font-size="9.6" font-weight="bold" text-anchor="end" fill="#111" stroke="#111" stroke-width="0.15" >2</text>
<line x1="416.5" y1="547.4" x2="427" y2="547.4" stroke="#111" stroke-width="1.4" />
<text x="414.2" y="550.8" font-size="9.6" font-weight="bold" text-anchor="end" fill="#111" stroke="#111" stroke-width="0.15" >2.5</text>
<line x1="416.5" y1="563" x2="427" y2="563" stroke="#111" stroke-width="1.4" />
<text x="414.2" y="566.4" font-size="9.6" font-weight="bold" text-anchor="end" fill="#111" stroke="#111" stroke-width="0.15" >3</text>
<text x="392" y="487.5" font-size="9.2" font-weight="bold" text-anchor="middle" fill="#111" textLength="118" lengthAdjust="spacingAndGlyphs" transform="rotate(-90 392 487.5)" stroke="#111" stroke-width="0.2" >Potential (V <tspan font-style="italic">vs.</tspan> RHE, pH 7)</text>
<defs><radialGradient id="sung" cx="0.5" cy="0.5" r="0.5"><stop offset="0" stop-color="#F0309A"/><stop offset="0.6" stop-color="#F25A50"/><stop offset="1" stop-color="#F38A30"/></radialGradient></defs>
<linearGradient id="ray0" gradientUnits="userSpaceOnUse" x1="455" y1="402.1" x2="455" y2="396.1"><stop offset="0" stop-color="#F4F02C"/><stop offset="0.55" stop-color="#D8F02C"/><stop offset="1" stop-color="#5EDC4A"/></linearGradient><polygon points="455,396.1 452.37,402.47 457.63,402.47" fill="url(#ray0)"/><linearGradient id="ray1" gradientUnits="userSpaceOnUse" x1="461.72" y1="404.88" x2="465.96" y2="400.64"><stop offset="0" stop-color="#F4F02C"/><stop offset="0.55" stop-color="#D8F02C"/><stop offset="1" stop-color="#5EDC4A"/></linearGradient><polygon points="465.96,400.64 459.6,403.29 463.31,407" fill="url(#ray1)"/><linearGradient id="ray2" gradientUnits="userSpaceOnUse" x1="464.5" y1="411.6" x2="470.5" y2="411.6"><stop offset="0" stop-color="#F4F02C"/><stop offset="0.55" stop-color="#D8F02C"/><stop offset="1" stop-color="#5EDC4A"/></linearGradient><polygon points="470.5,411.6 464.13,408.97 464.13,414.23" fill="url(#ray2)"/><linearGradient id="ray3" gradientUnits="userSpaceOnUse" x1="461.72" y1="418.32" x2="465.96" y2="422.56"><stop offset="0" stop-color="#F4F02C"/><stop offset="0.55" stop-color="#D8F02C"/><stop offset="1" stop-color="#5EDC4A"/></linearGradient><polygon points="465.96,422.56 463.31,416.2 459.6,419.91" fill="url(#ray3)"/><linearGradient id="ray4" gradientUnits="userSpaceOnUse" x1="455" y1="421.1" x2="455" y2="427.1"><stop offset="0" stop-color="#F4F02C"/><stop offset="0.55" stop-color="#D8F02C"/><stop offset="1" stop-color="#5EDC4A"/></linearGradient><polygon points="455,427.1 457.63,420.73 452.37,420.73" fill="url(#ray4)"/><linearGradient id="ray5" gradientUnits="userSpaceOnUse" x1="448.28" y1="418.32" x2="444.04" y2="422.56"><stop offset="0" stop-color="#F4F02C"/><stop offset="0.55" stop-color="#D8F02C"/><stop offset="1" stop-color="#5EDC4A"/></linearGradient><polygon points="444.04,422.56 450.4,419.91 446.69,416.2" fill="url(#ray5)"/><linearGradient id="ray6" gradientUnits="userSpaceOnUse" x1="445.5" y1="411.6" x2="439.5" y2="411.6"><stop offset="0" stop-color="#F4F02C"/><stop offset="0.55" stop-color="#D8F02C"/><stop offset="1" stop-color="#5EDC4A"/></linearGradient><polygon points="439.5,411.6 445.87,414.23 445.87,408.97" fill="url(#ray6)"/><linearGradient id="ray7" gradientUnits="userSpaceOnUse" x1="448.28" y1="404.88" x2="444.04" y2="400.64"><stop offset="0" stop-color="#F4F02C"/><stop offset="0.55" stop-color="#D8F02C"/><stop offset="1" stop-color="#5EDC4A"/></linearGradient><polygon points="444.04,400.64 446.69,407 450.4,403.29" fill="url(#ray7)"/>
<circle cx="455" cy="411.6" r="8.2" fill="url(#sung)"/>
<line x1="428" y1="459.6" x2="639" y2="459.6" stroke="#505050" stroke-width="1" stroke-dasharray="3.8 2"/>
<line x1="428" y1="554" x2="639" y2="554" stroke="#707070" stroke-width="1" stroke-dasharray="3.8 2"/>
<line x1="440" y1="455.4" x2="468" y2="455.4" stroke="#D9343A" stroke-width="1.3" stroke-dasharray="3.4 1.6"/>
<line x1="440" y1="557.4" x2="468" y2="557.4" stroke="#D9343A" stroke-width="1.3" stroke-dasharray="3.4 1.6"/>
<line x1="555.6" y1="455.4" x2="584.5" y2="455.4" stroke="#D9343A" stroke-width="1.3" stroke-dasharray="3.4 1.6"/>
<line x1="555.6" y1="557.4" x2="584.5" y2="557.4" stroke="#D9343A" stroke-width="1.3" stroke-dasharray="3.4 1.6"/>
<line x1="489.6" y1="433" x2="518" y2="433" stroke="#6E9FDC" stroke-width="1.2" stroke-dasharray="3.4 1.6"/>
<line x1="489.6" y1="517.4" x2="518" y2="517.4" stroke="#6E9FDC" stroke-width="1.2" stroke-dasharray="3.4 1.6"/>
<line x1="607" y1="450" x2="634" y2="450" stroke="#6E9FDC" stroke-width="1.2" stroke-dasharray="3.4 1.6"/>
<line x1="605" y1="515.4" x2="634" y2="515.4" stroke="#6E9FDC" stroke-width="1.2" stroke-dasharray="3.4 1.6"/>
<line x1="453.4" y1="459.6" x2="453.4" y2="557.4" stroke="#D9343A" stroke-width="0.9" />
<circle cx="453.4" cy="459.6" r="1.1" fill="#D9343A"/>
<line x1="569" y1="459.6" x2="569" y2="557.4" stroke="#D9343A" stroke-width="0.9" />
<circle cx="569" cy="459.6" r="1.1" fill="#D9343A"/>
<line x1="503" y1="438.4" x2="503" y2="513.5" stroke="#3E8FD6" stroke-width="0.9" />
<circle cx="503" cy="438.4" r="1.1" fill="#3E8FD6"/>
<line x1="618.4" y1="455" x2="618.4" y2="514.5" stroke="#3E8FD6" stroke-width="0.9" />
<polygon points="618.4,452.4 616.6,456.4 620.2,456.4" fill="#3E8FD6"/>
<path d="M456.4,455.6 C458,470 462,480 476,486 C488,491 494,496 494.4,513" fill="none" stroke="#D9343A" stroke-width="0.9"/>
<polygon points="494.4,516.2 492.6,512.2 496.2,512.2" fill="#D9343A"/>
<path d="M570,554 C574,540 580,533 590,530 C598,527 602,523 604,519.5" fill="none" stroke="#D9343A" stroke-width="0.9"/>
<polygon points="604.6,516.6 601.4,519.4 604.8,521" fill="#D9343A"/>
<path d="M608,450.5 C600,451 596,453 590,455" fill="none" stroke="#3E8FD6" stroke-width="0.9"/>
<polygon points="585.8,455.3 589.8,453.2 590.4,457" fill="#3E8FD6"/>
<rect x="463" y="462" width="39" height="16" rx="3" fill="#EDA97A"/>
<text x="482.5" y="473.3" font-size="8" font-weight="bold" text-anchor="middle" fill="#fff" textLength="34" lengthAdjust="spacingAndGlyphs" >Z-scheme</text>
<rect x="575.6" y="480.4" width="36.8" height="16" rx="3" fill="#EDA97A"/>
<text x="594" y="491.6" font-size="8" font-weight="bold" text-anchor="middle" fill="#fff" textLength="26" lengthAdjust="spacingAndGlyphs" >Type-II</text>
<text x="441.6" y="452.6" font-size="8.2" font-weight="bold" text-anchor="start" fill="#D9343A" textLength="25.4" lengthAdjust="spacingAndGlyphs" >e<tspan font-size="5" baseline-shift="3">-</tspan> e<tspan font-size="5" baseline-shift="3">-</tspan> e<tspan font-size="5" baseline-shift="3">-</tspan></text>
<text x="557" y="453" font-size="8.2" font-weight="bold" text-anchor="start" fill="#D9343A" textLength="26" lengthAdjust="spacingAndGlyphs" >e<tspan font-size="5" baseline-shift="3">-</tspan> e<tspan font-size="5" baseline-shift="3">-</tspan> e<tspan font-size="5" baseline-shift="3">-</tspan></text>
<text x="492.4" y="431" font-size="8.2" font-weight="bold" text-anchor="start" fill="#3E8FD6" textLength="25" lengthAdjust="spacingAndGlyphs" >e<tspan font-size="5" baseline-shift="3">-</tspan> e<tspan font-size="5" baseline-shift="3">-</tspan> e<tspan font-size="5" baseline-shift="3">-</tspan></text>
<text x="608" y="448" font-size="8.2" font-weight="bold" text-anchor="start" fill="#3E8FD6" textLength="25" lengthAdjust="spacingAndGlyphs" >e<tspan font-size="5" baseline-shift="3">-</tspan> e<tspan font-size="5" baseline-shift="3">-</tspan> e<tspan font-size="5" baseline-shift="3">-</tspan></text>
<text x="439.6" y="568.2" font-size="8.2" font-weight="bold" text-anchor="start" fill="#D9343A" textLength="30.4" lengthAdjust="spacingAndGlyphs" >h<tspan font-size="5" baseline-shift="3">+</tspan> h<tspan font-size="5" baseline-shift="3">+</tspan> h<tspan font-size="5" baseline-shift="3">+</tspan></text>
<text x="555.6" y="568.2" font-size="8.2" font-weight="bold" text-anchor="start" fill="#D9343A" textLength="29.4" lengthAdjust="spacingAndGlyphs" >h<tspan font-size="5" baseline-shift="3">+</tspan> h<tspan font-size="5" baseline-shift="3">+</tspan> h<tspan font-size="5" baseline-shift="3">+</tspan></text>
<text x="489.6" y="527.5" font-size="8.2" font-weight="bold" text-anchor="start" fill="#3E8FD6" textLength="30" lengthAdjust="spacingAndGlyphs" >h<tspan font-size="5" baseline-shift="3">+</tspan> h<tspan font-size="5" baseline-shift="3">+</tspan> h<tspan font-size="5" baseline-shift="3">+</tspan></text>
<text x="605" y="526.2" font-size="8.2" font-weight="bold" text-anchor="start" fill="#3E8FD6" textLength="30" lengthAdjust="spacingAndGlyphs" >h<tspan font-size="5" baseline-shift="3">+</tspan> h<tspan font-size="5" baseline-shift="3">+</tspan> h<tspan font-size="5" baseline-shift="3">+</tspan></text>
<text x="446" y="580.6" font-size="10.2" font-weight="bold" text-anchor="start" fill="#D9343A" textLength="20.4" lengthAdjust="spacingAndGlyphs" stroke="#D9343A" stroke-width="0.2" >TiO<tspan font-size="6.94" baseline-shift="-2.55">2</tspan></text>
<text x="561" y="580.6" font-size="10.2" font-weight="bold" text-anchor="start" fill="#D9343A" textLength="19.4" lengthAdjust="spacingAndGlyphs" stroke="#D9343A" stroke-width="0.2" >TiO<tspan font-size="6.94" baseline-shift="-2.55">2</tspan></text>
<text x="493" y="538" font-size="10.2" font-weight="bold" text-anchor="start" fill="#3E8FD6" textLength="22" lengthAdjust="spacingAndGlyphs" stroke="#3E8FD6" stroke-width="0.2" >C<tspan font-size="6.94" baseline-shift="-2.55">3</tspan>N<tspan font-size="6.94" baseline-shift="-2.55">4</tspan></text>
<text x="610" y="537.2" font-size="10.2" font-weight="bold" text-anchor="start" fill="#3E8FD6" textLength="17.6" lengthAdjust="spacingAndGlyphs" stroke="#3E8FD6" stroke-width="0.2" >C<tspan font-size="6.94" baseline-shift="-2.55">2</tspan>N</text>
<text x="500" y="405.4" font-size="9.6" font-weight="bold" text-anchor="start" fill="#111" textLength="11" lengthAdjust="spacingAndGlyphs" stroke="#111" stroke-width="0.15" >O<tspan font-size="6.53" baseline-shift="-2.4">2</tspan></text>
<text x="514" y="414.9" font-size="9.6" font-weight="bold" text-anchor="start" fill="#111" textLength="18" lengthAdjust="spacingAndGlyphs" stroke="#111" stroke-width="0.15" >O<tspan font-size="6.53" baseline-shift="-2.4">2</tspan><tspan font-size="6" baseline-shift="4">•−</tspan></text>
<text x="569" y="427.8" font-size="9.6" font-weight="bold" text-anchor="start" fill="#111" textLength="11" lengthAdjust="spacingAndGlyphs" stroke="#111" stroke-width="0.15" >O<tspan font-size="6.53" baseline-shift="-2.4">2</tspan></text>
<text x="583.6" y="437.6" font-size="9.6" font-weight="bold" text-anchor="start" fill="#111" textLength="16.8" lengthAdjust="spacingAndGlyphs" stroke="#111" stroke-width="0.15" >O<tspan font-size="6.53" baseline-shift="-2.4">2</tspan><tspan font-size="6" baseline-shift="4">•−</tspan></text>
<text x="486.4" y="550" font-size="9.6" font-weight="bold" text-anchor="start" fill="#111" textLength="18" lengthAdjust="spacingAndGlyphs" stroke="#111" stroke-width="0.15" >H<tspan font-size="6.53" baseline-shift="-2.4">2</tspan>O</text>
<text x="483.6" y="567.2" font-size="9.6" font-weight="bold" text-anchor="start" fill="#111" textLength="16.8" lengthAdjust="spacingAndGlyphs" stroke="#111" stroke-width="0.15" >HO<tspan font-size="6" baseline-shift="4">•</tspan></text>
<text x="646.4" y="506.8" font-size="9.6" font-weight="bold" text-anchor="start" fill="#111" textLength="19.2" lengthAdjust="spacingAndGlyphs" stroke="#111" stroke-width="0.15" >H<tspan font-size="6.53" baseline-shift="-2.4">2</tspan>O</text>
<text x="651" y="522.6" font-size="9.6" font-weight="bold" text-anchor="start" fill="#111" textLength="19" lengthAdjust="spacingAndGlyphs" stroke="#111" stroke-width="0.15" >HO<tspan font-size="6" baseline-shift="4">•</tspan></text>
<text x="642" y="458.2" font-size="8.6" font-weight="bold" text-anchor="start" fill="#111" textLength="23" lengthAdjust="spacingAndGlyphs" stroke="#111" stroke-width="0.15" >O<tspan font-size="5.85" baseline-shift="-2.15">2</tspan>/O<tspan font-size="5.85" baseline-shift="-2.15">2</tspan><tspan font-size="5.5" baseline-shift="3.5">•−</tspan></text>
<text x="642" y="468.4" font-size="8.6" font-weight="bold" text-anchor="start" fill="#111" textLength="42" lengthAdjust="spacingAndGlyphs" stroke="#111" stroke-width="0.15" >= -0.33 eV</text>
<text x="643" y="552.4" font-size="8.6" font-weight="bold" text-anchor="start" fill="#111" textLength="34.6" lengthAdjust="spacingAndGlyphs" stroke="#111" stroke-width="0.15" >H<tspan font-size="5.85" baseline-shift="-2.15">2</tspan>O/HO<tspan font-size="5.5" baseline-shift="3.5">•</tspan></text>
<text x="643" y="561.4" font-size="8.6" font-weight="bold" text-anchor="start" fill="#111" textLength="38" lengthAdjust="spacingAndGlyphs" stroke="#111" stroke-width="0.15" >= 2.70 eV</text>
<path d="M501.2,407.6 C497.5,411 497,417.5 501.5,420.8 C505,423 510,421 512.6,418.6" fill="none" stroke="#3E8FD6" stroke-width="2.3"/>
<path d="M501.2,407.6 C497.5,411 497,417.5 501.5,420.8 C505,423 510,421 512.6,418.6" fill="none" stroke="#fff" stroke-width="1.0"/>
<polygon points="516.2,416.6 510.6,416.2 514.2,421.6" fill="#fff" stroke="#3E8FD6" stroke-width="0.7"/>
<path d="M572,430.6 C568,434 567.5,441 572,443.5 C576,445.5 580,443.8 582.2,441.8" fill="none" stroke="#D9343A" stroke-width="2.3"/>
<path d="M572,430.6 C568,434 567.5,441 572,443.5 C576,445.5 580,443.8 582.2,441.8" fill="none" stroke="#fff" stroke-width="1.0"/>
<polygon points="585.6,439.8 580,439.4 583.6,444.8" fill="#fff" stroke="#D9343A" stroke-width="0.7"/>
<path d="M485,547.8 C474,548 471,553 472.5,557 C474,561 477,563 480.5,563.3" fill="none" stroke="#D9343A" stroke-width="2.6"/>
<path d="M485,547.8 C474,548 471,553 472.5,557 C474,561 477,563 480.5,563.3" fill="none" stroke="#fff" stroke-width="1.2"/>
<polygon points="483.4,563.6 478.6,560.3 478.8,566.6" fill="#fff" stroke="#D9343A" stroke-width="0.8"/>
<path d="M645.5,503.8 C640.5,505 637.6,508.6 637.6,512.6 C637.8,516.6 641,518.6 645.4,519" fill="none" stroke="#3E8FD6" stroke-width="2.3"/>
<path d="M645.5,503.8 C640.5,505 637.6,508.6 637.6,512.6 C637.8,516.6 641,518.6 645.4,519" fill="none" stroke="#fff" stroke-width="1.0"/>
<polygon points="649.6,519.3 645,516.4 645.2,522.2" fill="#fff" stroke="#3E8FD6" stroke-width="0.7"/>
<line x1="632.6" y1="506.4" x2="640.4" y2="513.6" stroke="#3E8FD6" stroke-width="2" />
<line x1="640.4" y1="506.4" x2="632.6" y2="513.6" stroke="#3E8FD6" stroke-width="2" /></svg></body></html>
